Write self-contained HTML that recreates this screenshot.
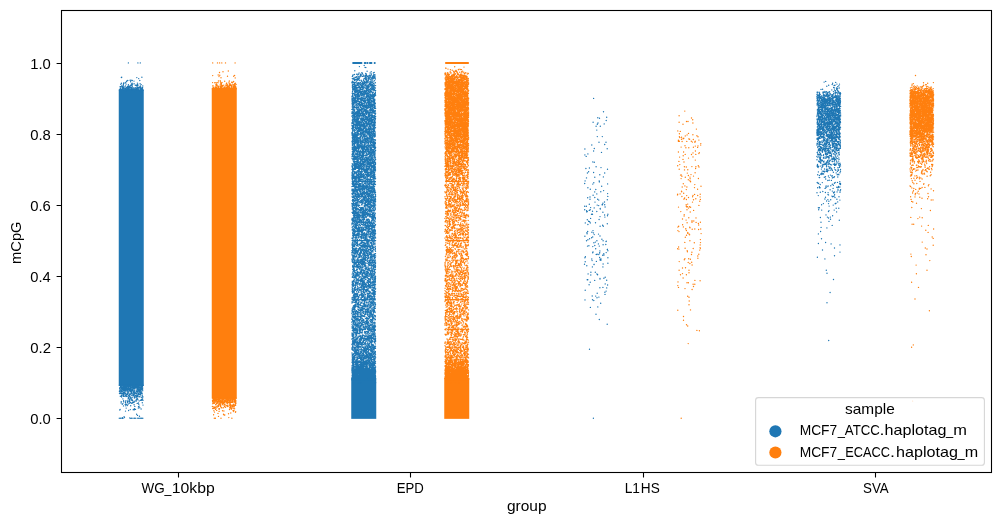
<!DOCTYPE html>
<html><head><meta charset="utf-8"><title>plot</title>
<style>
html,body{margin:0;padding:0;background:#fff;}
body{width:1001px;height:525px;overflow:hidden;}
svg{display:block;position:absolute;left:0;top:0;will-change:transform;}
text{font-family:"Liberation Sans",sans-serif;font-size:14.5px;fill:#000;}
</style></head><body>
<svg width="1001" height="525" viewBox="0 0 1001 525">
<rect x="118.75" y="89.4" width="25.00" height="296.6" fill="#1f77b4"/>
<path d="M128.4 62.9h0m9.5 0h0m2.4 0h0m-18.6 14.3h0m20.2.1h0m-20.6.3h0m15.5 0h0m1.9 1h0m-7.6 1.5h0m-1 .2h0m-2.3.2h0m4.5 0h0m7.5 0h0m-12.3.1h0m6.5.5h0m-7.4.1h0m4 .5h0m-4.6.4h0m-2.3.8h0m1.5 0h0m12.2.2h0m-16 .2h0m10.7 0h0m-8.5.2h0m10.5.2h0m6 0h0m-16.7.4h0m2.7 0h0m11.8 0h0m-17.1.1h0m10.6 0h0m1.1 0h0m8.7.4h0m-17.8.1h0m5 0h0m8.7.2h0m-.9.2h0m-5.3.1h0m4.4 0h0m2.2.3h0m.4 0h0m-14.6.1h0m7.4 0h0m1.4.1h0m4.4.2h0m1.3 0h0m5 0h0m-21.2.1h0m3.9 0h0m14.9 0h0m-17.5.1h0m6.9 0h0m2.3 0h0m.2.1h0m7.9 0h0m.1 0h0m-12.1.1h0m1 0h0m-7 .1h0m7.2 0h0m-1.9.1h0m-7 .1h0m-.4.2h0m4.1.2h0m4 .1h0m12.7 0h0m-20.6.1h0m3.2 0h0m4.8 0h0m2.3 0h0m9.3 0h0m-17.9.1h0m1 0h0m16.3 0h0m-13.1.1h0m5.8 0h0m10.4 0h0m-15 .1h0m2.2 0h0m.7 0h0m1 0h0m5.9 0h0m.5 0h0m-15.3.1h0m1.5 0h0m6.3 0h0m8.4 0h0m-9.1.1h0m2 0h0m4.2 0h0m3.2 0h0m1 0h0m2.7 0h0m-14.5.2h0m4.1 0h0m1.3 0h0m.7 0h0m5.7.1h0m-15.9.1h0m1.6 0h0m12.8 0h0m3.4 0h0m-13.4.1h0m.1 0h0m13.6 0h0m-5.8.1h0m4.3 0h0m1.2 0h0m-18.4.1h0m19.1 0h0m-11.4.1h0m5.2 0h0m-11.9.1h0m1.9 0h0m.6 0h0m9.8 0h0m-16.5.1h0m.3 0h0m3 0h0m3.7 0h0m.5 0h0m9.5 0h0m.6 0h0m-15.4.1h0m6.8 0h0m1.8 0h0m11.5 0h0m-17.2.1h0m1.3 0h0m-5.6.1h0m2.4 0h0m1.2 0h0m3.9 0h0m6.5 0h0m-13 .1h0m4.6 0h0m4.6 0h0m2.5 0h0m1.5 0h0m1.7 0h0m3.4 0h0m1.5 0h0m-21.3.1h0m2.8 0h0m7.1 0h0m2.3 0h0m4.3 0h0m1.6 0h0m3 0h0m-15.4.1h0m2.3 0h0m1.2 0h0m2.3 0h0m6.6 0h0m3.9 0h0m-21.5.1h0m7 0h0m12.8 0h0m.1 0h0m-13.6.1h0m-7.7.1h0m9.1 0h0m1.6 0h0m12.1 0h0m-20.1.1h0m6.1 0h0m.5 0h0m3.9 0h0m.5 0h0m1.6 0h0m-11.8.1h0m9.8 0h0m3.4 0h0m-13.5.1h0m2.6 0h0m1.3 0h0m1.1 0h0m0 0h0m5.5 0h0m3.4 0h0m5.2 0h0m-21.7.1h0m2.6 0h0m7.2 0h0m1 0h0m1.4 0h0m9.3 0h0m-16.4.1h0m1.7 0h0m1.4 0h0m1.4 0h0m4 0h0m8.7 0h0m-22.6.1h0m4.3 0h0m1.2 0h0m.9 0h0m0 0h0m3.8 0h0m.9 0h0m3.4 0h0m.2 0h0m.3 0h0m2.4 0h0m3.5 0h0m-21.3.1h0m8 0h0m2 0h0m3.4 0h0m1.5 0h0m8.6 0h0m-23.2.1h0m1.2 0h0m.7 0h0m4.4 0h0m2.1 0h0m5.2 0h0m1.5 0h0m1 0h0m2 0h0m4.4 0h0m-16.4.1h0m8.6 0h0m5.5 0h0m-17 294.5h0m14 0h0m-17.6.1h0m5 0h0m.7 0h0m1.2 0h0m5.3 0h0m.7 0h0m1.9 0h0m.1 0h0m.8 0h0m4.1 0h0m.9 0h0m-18.8.1h0m2 0h0m0 0h0m5.8 0h0m.1 0h0m4.8 0h0m2.8 0h0m5.9 0h0m.3 0h0m-21.5.1h0m.6 0h0m2.1 0h0m.2 0h0m.5 0h0m.4 0h0m1.4 0h0m.1 0h0m7.2 0h0m2.9 0h0m.1 0h0m.6 0h0m3 0h0m-19.9.1h0m1.5 0h0m2.3 0h0m4.2 0h0m1.2 0h0m2.6 0h0m3.5 0h0m.4 0h0m-15.8.1h0m.3 0h0m8.4 0h0m.8 0h0m.2 0h0m2.1 0h0m.3 0h0m7.5 0h0m-19.2.1h0m.2 0h0m2 0h0m4 0h0m1.7 0h0m8 0h0m2.7 0h0m3.4 0h0m-22.3.1h0m.7 0h0m2.7 0h0m2.6 0h0m3.6 0h0m6.9 0h0m3.6 0h0m1.3 0h0m-20.8.1h0m1.1 0h0m2.3 0h0m.2 0h0m1.9 0h0m.2 0h0m6.3 0h0m.1 0h0m3.5 0h0m0 0h0m2.4 0h0m.2 0h0m.7 0h0m1.4 0h0m-16.1.1h0m2.9 0h0m3 0h0m1.4 0h0m-8.3.1h0m1.1 0h0m2.1 0h0m2.4 0h0m.6 0h0m1.3 0h0m2.3 0h0m3.2 0h0m.2 0h0m-16.7.1h0m2.3 0h0m9.9 0h0m3.6 0h0m.1 0h0m2.4 0h0m2.7 0h0m-13.3.1h0m0 0h0m1.5 0h0m4.5 0h0m.6 0h0m2.1 0h0m2.1 0h0m1.5 0h0m-20.3.1h0m2.2 0h0m0 0h0m.1 0h0m.7 0h0m.3 0h0m1.5 0h0m10.6 0h0m.8 0h0m3.7 0h0m1 0h0m.5 0h0m.1 0h0m-19.2.1h0m2.6 0h0m1.3 0h0m.9 0h0m-7.2.1h0m.1 0h0m3.4 0h0m2.5 0h0m5.5 0h0m5.5 0h0m1.1 0h0m.6 0h0m-18.1.1h0m6.4 0h0m1.3 0h0m5.9 0h0m1 0h0m1.3 0h0m-16.5.1h0m4.7 0h0m.5 0h0m2.6 0h0m7.4 0h0m6.6 0h0m-8.4.1h0m3.9 0h0m1.2 0h0m-10.2.1h0m3 0h0m1.2 0h0m.4 0h0m1 0h0m3.7 0h0m-13.8.1h0m5.6 0h0m0 0h0m4.7 0h0m1.9 0h0m.4 0h0m4.4 0h0m-19.8.1h0m10.2 0h0m1 0h0m2.2 0h0m1.7 0h0m2 0h0m0 0h0m2.3 0h0m-20.2.1h0m7.6 0h0m2.3 0h0m11.3 0h0m.1 0h0m-19.5.1h0m1.5 0h0m4.3 0h0m8 0h0m1 0h0m-17.5.1h0m4.5 0h0m.5 0h0m10.7 0h0m-3.4.1h0m.8 0h0m1.3 0h0m5.8 0h0m-17.7.1h0m1.9 0h0m.6.1h0m5.6 0h0m2.6 0h0m2.1 0h0m3.6 0h0m1.2 0h0m-19.5.1h0m5.8 0h0m4.1 0h0m3.7 0h0m4.5 0h0m2.4 0h0m-19 .1h0m1.3 0h0m3.3 0h0m5.7 0h0m8.7 0h0m1.5 0h0m-22.7.1h0m5.5 0h0m5.9 0h0m.3 0h0m4.8 0h0m4.6 0h0m1.8 0h0m-20.6.1h0m1.4 0h0m.1 0h0m1.4 0h0m1.5 0h0m.8 0h0m1.2 0h0m.4 0h0m.7 0h0m3 0h0m2.6 0h0m1.2 0h0m5.4 0h0m-22 .1h0m1.2 0h0m4.7 0h0m2.1 0h0m.3 0h0m5.3 0h0m5.2 0h0m-10.9.1h0m9.5 0h0m.3 0h0m-9.6.1h0m6.4 0h0m.6 0h0m2.8 0h0m2.2 0h0m-20.2.1h0m14.6 0h0m.3 0h0m-10.2.1h0m3.7 0h0m2.3 0h0m3.7 0h0m6.4 0h0m-17.7.1h0m.8 0h0m1.9 0h0m2.2 0h0m.9 0h0m5 0h0m.2 0h0m8.3 0h0m-16.6.1h0m.5 0h0m0 0h0m.5 0h0m11.8 0h0m-12.7.1h0m3.9 0h0m1.4 0h0m8.9 0h0m2.6 0h0m-20.4.1h0m.9 0h0m1.7 0h0m-2.4.1h0m6.1 0h0m.2 0h0m2.2 0h0m1.7 0h0m5.9 0h0m1.6 0h0m-17.9.1h0m4.5 0h0m2.4 0h0m.1 0h0m13.6 0h0m-19.9.1h0m5.9 0h0m13.7 0h0m.3 0h0m-22.5.1h0m11 0h0m5.9 0h0m1.8 0h0m-18.8.1h0m5.9 0h0m1.6 0h0m2.5 0h0m2.5 0h0m5.4 0h0m3.5 0h0m-18.6.1h0m6.5 0h0m-4.1.1h0m15.3 0h0m.2 0h0m.7 0h0m-17.3.1h0m8.8 0h0m7.5 0h0m-9 .1h0m7.9 0h0m-19.2.1h0m.5 0h0m.5 0h0m7.2 0h0m6.6 0h0m-11.8.1h0m7.4 0h0m10.1 0h0m-16.4.1h0m2 0h0m1.4 0h0m13.3 0h0m-16.2.1h0m8.1 0h0m-11.1.1h0m11.1 0h0m4 0h0m1.6 0h0m-15.2.1h0m2.2 0h0m2 0h0m2 0h0m11.2 0h0m-18.8.1h0m2.8 0h0m6.4 0h0m1.1 0h0m6.7 0h0m1.3 0h0m-14.6.1h0m.1 0h0m7.8 0h0m7 0h0m-5.7.1h0m8 0h0m-21.7.1h0m18.7 0h0m-8.4.1h0m2.4 0h0m-14.2.1h0m1.6 0h0m12.3 0h0m5.8 0h0m.6 0h0m1.2 0h0m-17.9.1h0m1.7 0h0m.4 0h0m12.4 0h0m-18.2.1h0m3.6 0h0m7.1.1h0m.6 0h0m.4 0h0m5.3 0h0m-16.8.1h0m7.5 0h0m-2.1.1h0m3.4.1h0m11.1 0h0m-17.7.1h0m10.2 0h0m4.8 0h0m1.3 0h0m-3.3.1h0m5.1 0h0m1.2 0h0m-20.6.1h0m7.5 0h0m13.4 0h0m-3.3.1h0m-18.1.1h0m4.8 0h0m15.3 0h0m-19.7.1h0m3.2 0h0m1.2 0h0m8.7 0h0m-2.4.1h0m-7.1.1h0m15.8 0h0m-1.9.1h0m-15.9.1h0m2.4 0h0m10.9 0h0m5.4.1h0m-16.1.1h0m4.2.1h0m2.4 0h0m-5.8.2h0m6.7 0h0m2.1 0h0m7.5 0h0m.5 0h0m-22 .1h0m5.7 0h0m1.5 0h0m9.3 0h0m1.8 0h0m-17 .1h0m2.5 0h0m7 0h0m-11.5.1h0m3.5 0h0m13 0h0m.7 0h0m-14.1.1h0m.2 0h0m1.3 0h0m7.5 0h0m.1 0h0m5.2.1h0m3.8 0h0m-6.2.1h0m4.6 0h0m-17.8.1h0m9.1 0h0m3 0h0m5 0h0m-7.8.1h0m4.1 0h0m-6.7.1h0m-3.9.1h0m16.1 0h0m-16.2.1h0m5.4 0h0m1.3 0h0m2.3 0h0m6.5 0h0m-12.2.1h0m11.1 0h0m-12.3.1h0m1.1.1h0m2.3 0h0m8.8 0h0m2.1.1h0m-17.5.1h0m3.9 0h0m6.1 0h0m-3.4.1h0m3.7 0h0m.6 0h0m8.3 0h0m-16.6.1h0m11.5 0h0m-13.4.1h0m9.6.1h0m4.8 0h0m-15 .1h0m-1.4.1h0m10.2 0h0m1.5 0h0m2 0h0m-9.5.1h0m-2.4.1h0m5 0h0m1.4 0h0m6.2 0h0m1.3 0h0m.6 0h0m-2.7.1h0m2.7 0h0m-4.2.1h0m-8 .1h0m9.4 0h0m7.2.1h0m-22 .2h0m17.7 0h0m-16.5.1h0m2.8 0h0m15.7 0h0m-18.4.1h0m1.8 0h0m3.1 0h0m.6 0h0m1.9 0h0m7.6.1h0m1.3 0h0m-11.9.1h0m4.1 0h0m12.8 0h0m-13.6.3h0m9.9 0h0m-17.6.1h0m12.7 0h0m1.1.1h0m-5 .2h0m1.8 0h0m4.5 0h0m.1 0h0m4.5.2h0m-12.8.1h0m3.5.1h0m10.7.1h0m-8.3.2h0m-6.4.1h0m2.8.2h0m-2.1.1h0m2.3 0h0m6.5.3h0m-14.6.2h0m13.5 0h0m-7.3.1h0m13.4.1h0m-12.6.2h0m11.3.2h0m-9.6.3h0m6.3 0h0m4.3 0h0m-9.8.1h0m-2.4.1h0m6.3 0h0m6.7.2h0m-15.1.1h0m1.6 0h0m13.4 0h0m-11.1.1h0m8.9 0h0m.5 0h0m-17.6.2h0m9.1.1h0m-6.8.1h0m9.2.1h0m4.1 0h0m-2.9.2h0m-8.8.4h0m2.1 0h0m-.7.1h0m-7.7.1h0m2.3 0h0m5.7 0h0m-3.9.3h0m8.4 0h0m.6 0h0m-4.4.1h0m3.5.3h0m-5.8.1h0m5.1 0h0m-7.1.2h0m5.1 0h0m11.6 0h0m-3.9.2h0m-17.3.1h0m11.6 0h0m-1.2.2h0m-2.3.2h0m8 0h0m-14.3.2h0m3.2.5h0m-3.8.1h0m5.7 0h0m10.8.1h0m-13.6.1h0m1.3.2h0m7.6.1h0m8.9.4h0m-15.5.5h0m-1.7.1h0m4.9 0h0m-7.2.2h0m15.7.2h0m-4.4.3h0m3.7.4h0m1.3 1h0m-13.6.3h0m12.1 0h0m-3.8.7h0m6.6.2h0m-7.2.2h0m-13.8.2h0m15.4 0h0m-5.2.2h0m4.1.1h0m-1.2.1h0m-13.4.2h0m8.8.5h0m-3.1.6h0m11.1 3.1h0m.9 1.2h0m2 .9h0m-15.4.5h0m.4.8h0m-2.2.2h0m7.5.1h0m-10.5.4h0m1.3 0h0m1.4 0h0m1 0h0m7.3 0h0m1.2 0h0m1.5 0h0m1.5 0h0m1.3 0h0m2 0h0m1.2 0h0m1.3 0h0m1.3 0h0m1.2 0h0" stroke="#1f77b4" stroke-width="1.39" stroke-linecap="round" fill="none"/>
<rect x="211.75" y="88" width="25.00" height="310.6" fill="#ff7f0e"/>
<path d="M212.7 62.9h0m4.8 0h0m2.1 0h0m2.2 0h0m3.7 0h0m9.6 0h0m-6.8 8.1h0m-5.3.8h0m-3.5.7h0m-1.3 2.5h0m1.6.2h0m14.8.2h0m-21.9.2h0m14.8.6h0m6.2 0h0m-14.7.4h0m2 1.2h0m14.2.1h0m-15 2.7h0m-1.8.4h0m10.9 0h0m-4.6.2h0m8.6.2h0m.4.3h0m-13.3.1h0m8.5.3h0m2.7.1h0m-9.6.2h0m-9.4.2h0m2.6 0h0m1.6 0h0m-2 .2h0m3.2 0h0m14.5 0h0m-11.7.2h0m-.3.1h0m6.2 0h0m8.7.1h0m-8.6.1h0m2.4 0h0m-7.7.3h0m13.2 0h0m-8.3.1h0m-10 .2h0m18.7 0h0m-4.5.2h0m-1.1.1h0m-13.6.1h0m5.3 0h0m9.2 0h0m0 .1h0m3.8 0h0m1.9 0h0m-19.1.4h0m10.6 0h0m5.1.1h0m.6 0h0m-13.2.1h0m11.9 0h0m-15.1.1h0m6.9 0h0m1.7 0h0m6.4 0h0m-10 .1h0m4.6 0h0m3.2 0h0m4 0h0m.9.1h0m-3.8.1h0m-17.8.2h0m3 0h0m1.3 0h0m5.5 0h0m-.2.1h0m8.8.1h0m-14.4.1h0m4.1 0h0m6.4 0h0m1.1 0h0m6.8 0h0m-22.6.1h0m4.1 0h0m17.5.1h0m1.2 0h0m-17 .1h0m2.6.1h0m6.6 0h0m-5.5.1h0m6.6 0h0m-7.1.1h0m6.1 0h0m5.7 0h0m.8 0h0m-14.1.1h0m1.1 0h0m7.5 0h0m3.1 0h0m.1 0h0m-13.9.1h0m9.8 0h0m-9.3.1h0m.1 0h0m16 0h0m-19.3.1h0m5.1 0h0m5.2 0h0m.3 0h0m3.8 0h0m1.7 0h0m2.3 0h0m1.9 0h0m-11.4.1h0m-9.4.1h0m2.1 0h0m1.1 0h0m8.9 0h0m2.5 0h0m-16 .1h0m13.9 0h0m-12.3.1h0m6.1 0h0m2.5 0h0m5.9 0h0m-13.9.1h0m-2.4.1h0m11.1 0h0m-11.2.1h0m1.9 0h0m5.6 0h0m1.4 0h0m1.7 0h0m5.2 0h0m3.9 0h0m1.8 0h0m-21.5.1h0m3.1 0h0m1.9 0h0m2 0h0m1.4 0h0m.1 0h0m2.5 0h0m2.3 0h0m6.6 0h0m2 0h0m-22.2.1h0m21.1 0h0m0 0h0m.2 0h0m-17.9.2h0m3.6 0h0m1.6 0h0m6.8 0h0m2.9 0h0m2.6 0h0m2.2 0h0m-23 .1h0m7.3 0h0m1.3 0h0m4.1 0h0m3.1 0h0m.8 0h0m1.6 0h0m.5 0h0m2.9 0h0m1.3 0h0m-2.6.1h0m-20.2.1h0m2.8 0h0m2.6 0h0m2 0h0m7.7 0h0m5.6 0h0m-20.2.1h0m4.3 0h0m4 0h0m4.5 0h0m.5 0h0m5.6 0h0m-12.6.1h0m2.1 0h0m.7 0h0m2 0h0m1.3 0h0m9 0h0m.9 0h0m-21.7.1h0m3.3 0h0m6.1 0h0m.3 0h0m.7 0h0m3.1 0h0m2.1 0h0m.1 0h0m1.6 0h0m.3 0h0m1.1 0h0m1.5 0h0m-19.7.1h0m4.8 0h0m4.1 0h0m.7 0h0m2 0h0m.4 0h0m.7 0h0m.2 0h0m.8 0h0m2.4 0h0m4 0h0m-20.3.1h0m3.9 0h0m.8 0h0m11.6 0h0m4.7 0h0m-23.1.1h0m3.6 0h0m1.9 0h0m11.2 0h0m.5 0h0m5.4 0h0m.9 0h0m-15.3.1h0m-7.3 309h0m1.9 0h0m5.9 0h0m3 0h0m1 0h0m.4 0h0m8.8 0h0m-15.7.1h0m.1 0h0m2.3 0h0m1.4 0h0m4 0h0m2 0h0m-15.7.1h0m2 0h0m11.3 0h0m2.5 0h0m2.1 0h0m-14.6.1h0m11.6 0h0m1.8 0h0m2.5 0h0m1 0h0m.2 0h0m2.9 0h0m-22.7.1h0m.5 0h0m4 0h0m1.3 0h0m.7 0h0m3.4 0h0m3 0h0m2.9 0h0m.3 0h0m3.2 0h0m.2 0h0m-6.3.1h0m5 0h0m1.2 0h0m-11.8.1h0m.5 0h0m.6 0h0m4 0h0m5.4 0h0m.9 0h0m-18.7.1h0m9.2 0h0m2.3 0h0m8 0h0m1.7 0h0m-21.9.1h0m.1 0h0m2.5 0h0m.9 0h0m3.7 0h0m3.3 0h0m.4 0h0m.9 0h0m2 0h0m.9 0h0m5.2 0h0m.5 0h0m-16 .1h0m2.4 0h0m6.7 0h0m1 0h0m1.3 0h0m4.3 0h0m-17.2.1h0m.7 0h0m2 0h0m.8 0h0m12.7 0h0m-15.3.1h0m.5 0h0m3.1 0h0m1.2 0h0m4.1 0h0m4.9 0h0m.5 0h0m2.8 0h0m1.7 0h0m-20.6.1h0m1.9 0h0m16.1 0h0m1.3 0h0m-17.9.1h0m1.5 0h0m6 0h0m2.9 0h0m2.3 0h0m6.4 0h0m-20.7.2h0m7 0h0m13 0h0m.3 0h0m-21 .1h0m3.4 0h0m12.8 0h0m-16.4.1h0m1.5 0h0m1.4 0h0m.5 0h0m1.6 0h0m3 0h0m8.7 0h0m-13.1.1h0m10.5.1h0m4.3 0h0m-18.4.1h0m4.1 0h0m1.1 0h0m7 0h0m3.9 0h0m.8 0h0m3.3 0h0m-21.2.1h0m3.8 0h0m2 0h0m4 0h0m3 0h0m4 0h0m-14.4.1h0m7.7 0h0m.1 0h0m-9.1.1h0m5.5 0h0m8.2 0h0m7.1 0h0m-22.3.1h0m10 0h0m.5 0h0m-2.3.1h0m3.7 0h0m.2 0h0m4.9 0h0m6.3 0h0m-10.3.1h0m.4 0h0m3 0h0m.7 0h0m.9 0h0m-16.6.1h0m1.4 0h0m3.3 0h0m2.8 0h0m5.7 0h0m.5 0h0m4.9 0h0m-16.3.1h0m5.1 0h0m3.9 0h0m2.5 0h0m5.1 0h0m2.3 0h0m.7 0h0m-17.5.1h0m.6 0h0m2.5 0h0m.7 0h0m9.7 0h0m2.7 0h0m-19.8.1h0m7.3 0h0m12.9 0h0m.6 0h0m-17.3.1h0m3.1 0h0m8.2 0h0m3.7 0h0m-20.6.1h0m10.2 0h0m6.8 0h0m.6 0h0m2.4 0h0m-15.8.1h0m1.1 0h0m2 .1h0m6.6.1h0m.2 0h0m2.9 0h0m-12.4.1h0m.7 0h0m2.8 0h0m2.4 0h0m-10.4.1h0m5.2 0h0m10.2 0h0m6.5 0h0m-15.3.1h0m2.9 0h0m.8 0h0m2 0h0m.3 0h0m9.4 0h0m-21.3.1h0m10.9 0h0m3.2 0h0m-7.2.1h0m3.5 0h0m8.2 0h0m4 0h0m-21.2.1h0m.7 0h0m1.3 0h0m4.1 0h0m13.3 0h0m.1 0h0m-5.8.1h0m2.5 0h0m1.8 0h0m-14.6.1h0m11 0h0m2.6 0h0m-17.7.1h0m6.3 0h0m3.9 0h0m.5.1h0m5.5 0h0m-12.6.1h0m8.8 0h0m9 0h0m-12.7.1h0m1.1 0h0m3.6 0h0m1.6.1h0m6.1 0h0m-13.6.1h0m-4.2.1h0m2.5 0h0m-6.3.1h0m9.3.1h0m-10 .1h0m10.8 0h0m3.9 0h0m-13.3.1h0m5.6 0h0m10.1 0h0m-13.5.1h0m19.4 0h0m-15.4.2h0m6.7 0h0m-14.4.1h0m6.6 0h0m15.9 0h0m-18.9.1h0m1.9 0h0m4.2 0h0m7.8 0h0m5.4 0h0m-10.6.2h0m-1.1.1h0m9.3 0h0m-.1.2h0m-17.5.1h0m9.1 0h0m-4.4.1h0m-.5.1h0m2.3 0h0m8.7 0h0m3 0h0m-4.2.2h0m4.4 0h0m-4.9.1h0m1.4 0h0m4.6 0h0m-16.5.2h0m5.4.1h0m5.6 0h0m-9.1.1h0m6.7 0h0m8.3 0h0m-17.4.1h0m7.8 0h0m6.5 0h0m-1 .2h0m2 0h0m-16.2.4h0m17.1 0h0m-4.1.1h0m-14.3.1h0m12.1 0h0m2.9 0h0m-6.5.1h0m-12.1.1h0m6.2 0h0m2 0h0m6.6.1h0m-13.3.1h0m20.1 0h0m-3.8.1h0m2.1.1h0m.4.1h0m-15.4.1h0m7.8 0h0m9 0h0m-20.2.1h0m7.2 0h0m-6.6.1h0m11 0h0m-2.2.4h0m6.4 0h0m1.3 0h0m-15.3.1h0m6.1.1h0m-5.6.1h0m-1.3.1h0m15 0h0m.5 0h0m1 0h0m-17.3.2h0m17.4.1h0m-18.8.1h0m.5 0h0m20 0h0m-14.3.1h0m.7 0h0m15 .1h0m-3.3.6h0m-15.8.1h0m3.6.1h0m10.4 0h0m-12.8.9h0m16.4 0h0m-19.2.3h0m20.1 0h0m-11.5.1h0m1.4.2h0m-4.8.4h0m14.3.2h0m2.3.2h0m-21.2.3h0m21 .1h0m-4.7.8h0m-12.8.4h0m10.5.4h0m-5 .4h0m-9.9.5h0m11.2.3h0m-.7.1h0m-5.6 1.3h0m10.3 1.2h0m-14.5.7h0m1.1 0h0m5.6 0h0m10.9 0h0" stroke="#ff7f0e" stroke-width="1.39" stroke-linecap="round" fill="none"/>
<rect x="351.25" y="378" width="25.00" height="40.85" fill="#1f77b4"/>
<path d="M364.2 65.5h0m-4.8 1.1h0m5.7.8h0m.8.2h0m-11.1 3.2h0m12.3.5h0m4.1.5h0m3 .6h0m-12.3.4h0m.1 0h0m11.4.1h0m-14.3.1h0m11 0h0m-4.4.4h0m-3.4.1h0m9.1.5h0m-14.3.1h0m3.3 0h0m2.3 0h0m-6 .1h0m3.7 0h0m6 0h0m-8 .1h0m-3.9.1h0m6.6 0h0m4.9.1h0m7.9 0h0m-19.8.1h0m20.2.2h0m-20.6.1h0m6.9 0h0m10.5.1h0m4 0h0m-22.5.1h0m5.2 0h0m15.9 0h0m-13.4.1h0m.5 0h0m8.8 0h0m-5.9.1h0m1.7.1h0m.7 0h0m.7 0h0m-6.4.3h0m9.3 0h0m1.2 0h0m-9.8.1h0m12.8 0h0m-5.3.1h0m-4.8.1h0m9.4 0h0m-11.1.1h0m-9.5.1h0m14.7 0h0m5.2 0h0m1.3.1h0m-11.2.1h0m2.7 0h0m4.8.1h0m-17.8.1h0m5.7 0h0m8.9 0h0m1 0h0m5.3 0h0m1.8 0h0m-18.5.1h0m3.6.1h0m5 0h0m-6.4.1h0m.8 0h0m13.9.2h0m-7.3.1h0m-11 .1h0m19 0h0m-18.2.1h0m18.2 0h0m-5.2.1h0m.3.1h0m4.6 0h0m-3.2.1h0m1.6 0h0m.1 0h0m-7.1.1h0m5 0h0m4.6 0h0m-20.9.1h0m17.7 0h0m-14.3.1h0m18 0h0m-16.2.1h0m7.6 0h0m-7.8.2h0m6.8 0h0m2.4 0h0m3.5 0h0m-18.2.1h0m20.4 0h0m-8.6.1h0m3.4 0h0m.6 0h0m-16.9.1h0m7 0h0m5 0h0m8.1 0h0m-14.6.1h0m14 .1h0m1.1 0h0m-20.4.1h0m1.8 0h0m9.5 0h0m0 .1h0m5.4 0h0m-.6.1h0m6.7 0h0m-20.3.1h0m2.6 0h0m-1.3.1h0m-2.4.1h0m12.6 0h0m-9.3.3h0m1.5 0h0m7.1 0h0m4.7 0h0m-4.8.1h0m.6 0h0m-7.3.1h0m-3.7.1h0m11.5 0h0m-12.1.1h0m2 0h0m4.4 0h0m10.5 0h0m1.2 0h0m-6.3.1h0m1.4 0h0m-4.4.1h0m4.9 0h0m-13.9.1h0m9.2 0h0m-6.4.2h0m2.1 0h0m1.7 0h0m13.5.1h0m-6.5.3h0m-15.5.2h0m11.3 0h0m.1.1h0m-2.1.1h0m2.5 0h0m8.6 0h0m-11.2.1h0m9.2 0h0m-14.7.1h0m10.4 0h0m6.3 0h0m-6.4.1h0m-4.6.1h0m5 0h0m2.9 0h0m-7.8.1h0m3.4 0h0m2.1 0h0m3.8 0h0m-7 .1h0m3.5 0h0m-16 .1h0m2.2 0h0m14.3 0h0m4.3 0h0m-19.8.1h0m14 0h0m-13.2.1h0m8.6 0h0m-10.3.1h0m.6 0h0m.7 0h0m7.1 0h0m6.7.1h0m-8.6.1h0m6.1 0h0m10.8.1h0m-23.4.1h0m.1 0h0m3.1 0h0m.1 0h0m7.8 0h0m2.2 0h0m-1.5.1h0m6.8 0h0m1.3 0h0m-16.8.1h0m1.7 0h0m.3 0h0m2 0h0m7.6 0h0m-11.7.1h0m3.2 0h0m6.3 0h0m4.9.1h0m3.8 0h0m-15.4.1h0m16.2 0h0m-19.6.1h0m8.8 0h0m1.9 0h0m0 0h0m-6.6.1h0m4 0h0m8.1 0h0m-13.5.1h0m2.4 0h0m5.2 0h0m-3.5.1h0m8.6 0h0m-12.7.1h0m5.9 0h0m7.3 0h0m-15.9.1h0m5.9 0h0m3.2 0h0m-5.4.1h0m1.4 0h0m.5 0h0m3.8 0h0m3.2 0h0m-14.6.1h0m8.2.1h0m-7.1.1h0m0 0h0m1 0h0m2.8 0h0m11.8 0h0m1.6 0h0m-17.3.1h0m16.4 0h0m.6 0h0m1.3 0h0m-18 .1h0m11.9.1h0m6.8 0h0m-18.5.1h0m8.5 0h0m10.6 0h0m-1.4.1h0m-16.7.1h0m7 0h0m-6.3.1h0m5 0h0m2.9 0h0m6.2.1h0m4.6 0h0m.3 0h0m-18.2.1h0m2.3 0h0m6.1 0h0m3.6 0h0m3 0h0m2.8 0h0m-19.3.1h0m2.6 0h0m-5.1.1h0m18.4 0h0m.4 0h0m-14 .1h0m9.7 0h0m3.8 0h0m-14.9.1h0m5.6 0h0m10.8 0h0m.7 0h0m2.7 0h0m-5 .1h0m-3.2.1h0m5.1 0h0m-19.8.1h0m9 0h0m.6 0h0m3.4 0h0m2.1.1h0m-1.8.1h0m5.1 0h0m-16.7.1h0m19.3 0h0m-18.3.1h0m3.6 0h0m.7 0h0m-6.1.1h0m8.8 0h0m6.6 0h0m3.9 0h0m.9 0h0m-20.9.1h0m13.9 0h0m-13.2.1h0m8 0h0m1.2 0h0m6.4 0h0m4.1 0h0m-18.6.1h0m4.2 0h0m.5 0h0m14.7 0h0m-10.6.1h0m4.2 0h0m-15.4.1h0m4 0h0m8.2 0h0m5 0h0m4.4 0h0m-15.1.1h0m0 0h0m2.5 0h0m10.7 0h0m-12.2.1h0m9 0h0m-.3.1h0m-10.2.1h0m.8 0h0m2.6 0h0m5.3 0h0m-14.3.1h0m15.8 0h0m-16 .1h0m.5 0h0m4 0h0m5 0h0m12.8 0h0m-19.4.1h0m1.9 0h0m.6 0h0m2.8 0h0m1.7 0h0m2.7 0h0m2.5 0h0m3.8 0h0m-12.9.1h0m1.2 0h0m7.6 0h0m5.3 0h0m-18 .1h0m2.1 0h0m6.9 0h0m2.6.1h0m7.2 0h0m0 .1h0m1.9 0h0m-9.9.1h0m-12.3.1h0m.1 0h0m6.7 0h0m-3.2.1h0m18.3 0h0m-19.1.1h0m4.6 0h0m7.5 0h0m3 0h0m-7.3.1h0m6.8 0h0m-3.3.1h0m.3 0h0m-13.1.1h0m16.9 0h0m-18.6.1h0m3.5 0h0m11.4 0h0m4.9 0h0m-9.9.1h0m1.2 0h0m2.4 0h0m-9 .1h0m10.3 0h0m3.7 0h0m2.5 0h0m-18.7.1h0m7 0h0m8 0h0m-9.1.1h0m-4.3.1h0m3.3 0h0m8.9 0h0m2.8 0h0m-17.8.1h0m1.5 0h0m4.6 0h0m.7 0h0m.7 0h0m12.2 0h0m-12 .1h0m7.7 0h0m5.2 0h0m-12.3.1h0m10.7 0h0m-19.5.1h0m13.2 0h0m2.8 0h0m-16.6.1h0m1.7 0h0m8.2 0h0m9.1 0h0m-18.3.1h0m4.9 0h0m1.6 0h0m.4.1h0m9.4 0h0m-14.4.1h0m17.6 0h0m-13.4.1h0m9 0h0m2.2 0h0m-17.9.1h0m4.2 0h0m17.4 0h0m-7.5.1h0m3 0h0m5.7 0h0m-10.9.1h0m1.6 0h0m.5 0h0m.8 0h0m2.3 0h0m-12.1.1h0m2 0h0m14.2 0h0m-17.8.1h0m.1 0h0m-.6.1h0m3.3 0h0m7 0h0m1 0h0m3.7.1h0m-13 .1h0m2.3 0h0m3.5 0h0m-9.1.1h0m1.6 0h0m.9.1h0m.1 0h0m8.2 0h0m1 0h0m2 0h0m-13.1.1h0m0 0h0m.6 0h0m7 0h0m8.2 0h0m-10.8.1h0m8.5 0h0m-16.1.1h0m7.1 0h0m1.8 0h0m10 0h0m-6.8.1h0m5.8 0h0m-12.7.1h0m3.1 0h0m0 0h0m3.7 0h0m1.4 0h0m.4 0h0m-10.3.1h0m5.6 0h0m-3 .1h0m10.8 0h0m1.6 0h0m4.4 0h0m-11.4.1h0m-9.5.1h0m17.8 0h0m-11.6.1h0m-5.7.1h0m6.4 0h0m4.1 0h0m7.8 0h0m-8.3.1h0m4.1 0h0m-11.3.1h0m.3 0h0m.8 0h0m6.3 0h0m.4 0h0m-2.4.1h0m2 0h0m7 0h0m-15.7.1h0m5.3 0h0m5.6 0h0m-7.3.1h0m9.9 0h0m-14.7.1h0m6.2 0h0m1.3 0h0m.1 0h0m4.1 0h0m8.4 0h0m-17.1.1h0m6.5 0h0m-11.9.1h0m2.3 0h0m2.7 0h0m3.4 0h0m6.6 0h0m-5.9.1h0m1.2 0h0m3.5 0h0m1.7 0h0m6.7 0h0m-22.9.1h0m.1 0h0m5.1 0h0m.5.1h0m4.8 0h0m-9.5.1h0m4.9 0h0m5 0h0m-9.9.1h0m.4 0h0m7.3 0h0m11.7 0h0m-18 .1h0m12.9 0h0m-13.6.1h0m4.8 0h0m1.8 0h0m1.8 0h0m2.3 0h0m.5 0h0m9.3 0h0m-11 .1h0m2.6 0h0m2.5 0h0m.3.1h0m6.4 0h0m-22.6.1h0m8 0h0m6.9 0h0m2.3 0h0m1.1 0h0m2.9 0h0m-16.2.1h0m15.5 0h0m-9.9.1h0m-6.3.1h0m5.2 0h0m1.9 0h0m-3.2.1h0m2.9 0h0m.4 0h0m10.8 0h0m-18.7.1h0m8.5 0h0m5.6.1h0m2.8 0h0m-17.5.1h0m10.9 0h0m7.8 0h0m-21.6.1h0m1.9 0h0m.1 0h0m3 0h0m3.8 0h0m.5 0h0m12.5 0h0m-15.1.1h0m.9 0h0m.8 0h0m10.3 0h0m1 0h0m3 0h0m-6.8.1h0m3.3 0h0m3 0h0m-16.4.1h0m3.9 0h0m4.2 0h0m9 0h0m-18.5.1h0m10.7 0h0m3.7 0h0m-13.2.1h0m10.3 0h0m4.7 0h0m1 0h0m-21.4.1h0m1.9 0h0m2.6 0h0m14.8 0h0m-19.7.1h0m3.3 0h0m14.7 0h0m1.8.1h0m-10.6.1h0m2 0h0m-8.1.1h0m11.1 0h0m2 0h0m3.6 0h0m-16.5.1h0m11.1 0h0m2.8 0h0m5 0h0m-15.5.1h0m5.6 0h0m-7.6.1h0m15.4 0h0m1.1 0h0m-21.8.1h0m16.2.1h0m6.5 0h0m-16.3.1h0m.4 0h0m13.1 0h0m-11.9.1h0m6.2 0h0m3.2 0h0m1.5.1h0m-17.8.1h0m4.6 0h0m9.5 0h0m4 0h0m2 0h0m-16.8.1h0m17.7 0h0m-18.8.1h0m7 0h0m1.5 0h0m-7.5.1h0m2.5 0h0m3.9 0h0m5.7 0h0m-15.1.1h0m9.2 0h0m3.6 0h0m2 0h0m5.8 0h0m-18.6.1h0m2.3 0h0m1.1 0h0m8.1 0h0m-12.9.1h0m16.4 0h0m-7.9.1h0m-1 .1h0m7.9 0h0m.9 0h0m.7 0h0m2 0h0m-16.9.1h0m-2.6.2h0m-1.3.1h0m17.3 0h0m-17.3.1h0m2.9 0h0m2.4 0h0m3.1 0h0m4.6 0h0m7.1 0h0m-.7.1h0m-9.9.1h0m3.1 0h0m-10.4.1h0m4.9 0h0m.4 0h0m3.2 0h0m1.2 0h0m1.9 0h0m4 0h0m0 0h0m.6 0h0m3.2 0h0m-8.4.1h0m2.5 0h0m-15.6.1h0m1.2 0h0m4.8 0h0m.2 0h0m.5 0h0m1 0h0m.9 0h0m11.8.1h0m-18 .1h0m1.4 0h0m1.4 0h0m6.9.1h0m3.2 0h0m5.4 0h0m-12.2.1h0m14.2.1h0m-22.3.1h0m1.9 0h0m6 0h0m.8 0h0m3.7 0h0m3.8 0h0m1.9 0h0m3.4 0h0m-19.5.1h0m18.7 0h0m-15.7.1h0m4.7.1h0m4.7 0h0m-15 .1h0m3.6 0h0m9.7 0h0m9.6 0h0m-19.4.1h0m2.7 0h0m.2 0h0m3.5 0h0m5.2 0h0m4 0h0m-11 .1h0m3 .1h0m4.6 0h0m1.5 0h0m.4 0h0m.3 0h0m.1 0h0m-17.2.1h0m1.5 0h0m1.6 0h0m12.5 0h0m5.9.1h0m-20.7.1h0m7.7 0h0m1.3 0h0m11.2 0h0m-12 .1h0m2.1 0h0m4.3 0h0m-16 .1h0m.2 0h0m14.7 0h0m.8 0h0m3.8 0h0m3.2 0h0m-5.6.1h0m-14.3.1h0m2 0h0m7.6 0h0m.9 0h0m.1 0h0m5.5 0h0m2 0h0m-20.6.1h0m11.4 0h0m-11.6.1h0m1 0h0m2.8 0h0m2 0h0m.1 0h0m7.5 0h0m.2 0h0m-11.7.1h0m6.8 0h0m7.3 0h0m3.3 0h0m2.9 0h0m-18.4.1h0m1.2 0h0m.5 0h0m7.3 0h0m-12.6.1h0m.6 0h0m1.9 0h0m9.5 0h0m1 0h0m-2.2.1h0m6.1 0h0m.4 0h0m-11.3.1h0m2.6 0h0m10.9 0h0m-13.6.1h0m-5.6.1h0m2.1 0h0m1.9.1h0m2.6 0h0m9 0h0m5.6 0h0m-21.7.1h0m2.9 0h0m1.3 0h0m9 0h0m3.8 0h0m-10.1.1h0m5.2 0h0m.4 0h0m9 0h0m-19 .1h0m12.5 0h0m2.9 0h0m1.2 0h0m-16.9.1h0m6.5 0h0m7.5 0h0m4.3 0h0m1 0h0m-13.7.1h0m-6.5.1h0m7.6 0h0m.2 0h0m.4 0h0m-6.1.1h0m1.4 0h0m17.8 0h0m-7.1.2h0m6.8 0h0m-21.3.1h0m12.5 0h0m8.2 0h0m-21.6.1h0m3.9 0h0m3 0h0m-2.9.1h0m3.6 0h0m9 0h0m-14.9.1h0m.8 0h0m14.1 0h0m5.3 0h0m-20.7.1h0m1.4 0h0m1.3 0h0m7.7 0h0m.4 0h0m-5.1.1h0m3.2 0h0m0 0h0m1.5 0h0m2.8 0h0m3.2 0h0m.6 0h0m1.1 0h0m3.1 0h0m.5 0h0m-22 .1h0m10.8 0h0m4.7 0h0m2.2 0h0m-9.2.1h0m-9.5.1h0m12.1 0h0m3.9 0h0m-14.3.1h0m4.5 0h0m.5 0h0m2.6 0h0m4.7 0h0m-10 .1h0m1.4 0h0m16.9 0h0m-15.3.1h0m4.5 0h0m11.7 0h0m-23.3.1h0m10.5 0h0m11.2 0h0m.4 0h0m-21.5.1h0m5.6 0h0m1.6 0h0m2.9 0h0m-1.1.1h0m2.6 0h0m5.2 0h0m-3.5.1h0m2.1 0h0m4.8 0h0m-6.6.1h0m2.2 0h0m3.7 0h0m2 0h0m-14.1.1h0m1.2 0h0m-8.6.1h0m3.8 0h0m1.7 0h0m11.5 0h0m4.2 0h0m-3.9.1h0m2.1 0h0m-18.2.1h0m17.3 0h0m.7 0h0m.3.1h0m.6 0h0m1.3 0h0m-18.2.1h0m6.6 0h0m8.1 0h0m-14.3.1h0m2.8 0h0m1.3 0h0m-8.1.1h0m.6 0h0m15.9 0h0m4.6 0h0m-18.1.1h0m11.2 0h0m1 0h0m3.4 0h0m-11.6.1h0m5 0h0m10.2 0h0m-17.8.1h0m3.7 0h0m1 0h0m3.2 0h0m5.4 0h0m2.4 0h0m-3.1.1h0m-16.3.1h0m.1 0h0m4.2 0h0m2.4 0h0m6 0h0m.1 0h0m7.2 0h0m-14.1.1h0m4.6 0h0m.6 0h0m10.2 0h0m.7 0h0m-14.6.1h0m2.9 0h0m4.2 0h0m2.6 0h0m-9.7.1h0m10.9 0h0m-10.6.1h0m7.2 0h0m-13.1.1h0m9.7 0h0m4.3 0h0m1.2 0h0m-11.1.1h0m3.3 0h0m4.2 0h0m4.6 0h0m.6 0h0m-17.1.1h0m2.3 0h0m7.5 0h0m6.6 0h0m1 0h0m-19.4.1h0m4.3 0h0m9.5 0h0m8.9 0h0m-10.1.1h0m5.1 0h0m2.5 0h0m-8 .1h0m-2.3.1h0m.1 0h0m0 0h0m-8.7.1h0m.5 0h0m14.3 0h0m5.6.1h0m-7.4.1h0m2 0h0m1.6 0h0m-18.2.1h0m11.6 0h0m.8 0h0m3.6 0h0m-8.2.1h0m3.3 0h0m1.8 0h0m-10.4.1h0m2.3 0h0m3.5 0h0m8.1 0h0m1.1 0h0m.7 0h0m-16.8.1h0m4.7 0h0m.1 0h0m5.7 0h0m1.3 0h0m0 0h0m2.9 0h0m.5 0h0m1.4 0h0m3.4 0h0m1.4 0h0m-22.2.1h0m4.8 0h0m8.4 0h0m2.8 0h0m-13.5.1h0m.7 0h0m14.6 0h0m1.6 0h0m-15.9.1h0m11.4 0h0m.7 0h0m1.4 0h0m-3.4.1h0m4.4 0h0m-.7.1h0m-15.5.1h0m2.1 0h0m.1 0h0m1.6 0h0m9.7 0h0m-6.9.1h0m6 0h0m7.1 0h0m-20.5.1h0m3.3.1h0m4.7 0h0m1.1 0h0m3.7 0h0m-10.1.1h0m5.4 0h0m1.2.1h0m1 0h0m8.5 0h0m1.6 0h0m-21.3.1h0m22.7 0h0m-13.1.1h0m8.8 0h0m3.1 0h0m-4.2.1h0m-17.4.1h0m6.3 0h0m2.3 0h0m6.5 0h0m2.3.1h0m-8.9.1h0m4.6 0h0m-13.4.1h0m4.1 0h0m5.1.1h0m2.5 0h0m1.1 0h0m6.3 0h0m-18.7.1h0m12.8 0h0m-13.8.1h0m1.4 0h0m10.6 0h0m-11 .1h0m7.2 0h0m4.2 0h0m.3 0h0m5.2 0h0m.7 0h0m-12.9.1h0m2.2 0h0m5.5 0h0m6.9 0h0m-19.7.1h0m.3 0h0m9.7 0h0m10 0h0m1 0h0m-19.7.1h0m1 0h0m3.1 0h0m3.2 0h0m10 0h0m.8 0h0m-19.3.1h0m6.7 0h0m11.2 0h0m-10.4.1h0m5.8 0h0m.7 0h0m-6 .1h0m.1 0h0m-7.4.1h0m1.3.1h0m4.1 0h0m.3 0h0m6 0h0m0 0h0m6.9 0h0m-5.5.1h0m5.4 0h0m.5 0h0m1.6 0h0m.1 0h0m-10 .1h0m.4 0h0m-6.5.1h0m7.2 0h0m10.3 0h0m-15.5.1h0m1.6 0h0m3.3 0h0m3 0h0m2.7 0h0m3.6 0h0m-16.8.1h0m.7 0h0m3.1 0h0m8.5 0h0m3.2 0h0m1.1 0h0m-10.5.1h0m.9 0h0m.9 0h0m4 0h0m.9 0h0m2.5 0h0m.9 0h0m-14.4.1h0m5.1 0h0m3.9 0h0m-13.7.1h0m.2 0h0m5.5 0h0m13.1 0h0m.4 0h0m-.3.1h0m-18.8.1h0m4.3 0h0m3.1 0h0m3.5 0h0m1.8 0h0m-10.1.1h0m4.5 0h0m10.8 0h0m.1 0h0m2.7 0h0m-10 .1h0m-13 .1h0m14.6 0h0m6.3 0h0m-19.9.1h0m4.4 0h0m8.7 0h0m-8.9.1h0m.8 0h0m5.1 0h0m2.1 0h0m.3 0h0m2 0h0m-12.8.1h0m10.6 0h0m1.9 0h0m6.3 0h0m.7 0h0m-18 .1h0m-.2.1h0m15.9 0h0m-17.3.1h0m7.2 0h0m5 0h0m1.2 0h0m2 0h0m.9 0h0m-19.1.1h0m6.4 0h0m.6 0h0m8.9 0h0m3.7 0h0m-18.2.1h0m6.2 0h0m6.6 0h0m2.9 0h0m-10.4.1h0m1 0h0m-4.7.1h0m1.6 0h0m.9 0h0m12.4 0h0m-14.5.1h0m6.6 0h0m.1 0h0m3.2 0h0m3.8 0h0m-16.4.1h0m10.5 0h0m2.1 0h0m3.9 0h0m1.5 0h0m1.5 0h0m1.6 0h0m-21.7.1h0m6.4 0h0m16.8 0h0m-13.7.1h0m6.2 0h0m1 0h0m4.6 0h0m-18 .1h0m.4 0h0m7.7 0h0m3 0h0m-6.4.1h0m1.7 0h0m1.8 0h0m6.5 0h0m5.5 0h0m-20.5.1h0m3.2 0h0m2.7 0h0m11.1 0h0m-16.4.1h0m7.9 0h0m11.1 0h0m-20.6.1h0m8.7 0h0m-10.9.1h0m.5 0h0m.3 0h0m4 0h0m5.3 0h0m4.7 0h0m3.2 0h0m-16.1.1h0m5.9 0h0m5.1 0h0m10.2 0h0m-22.3.1h0m2.9 0h0m3 0h0m4.1 0h0m6.1 0h0m.5 0h0m-11.9.1h0m2.4 0h0m6.1.1h0m3.8 0h0m2.1 0h0m-15.8.1h0m-2.3.1h0m.4 0h0m3.6 0h0m6.7 0h0m.3 0h0m4.1 0h0m-12.2.1h0m0 0h0m.8 0h0m3.1 0h0m2.5 0h0m12.3 0h0m-20.1.1h0m7.7 0h0m9.2 0h0m-9.7.1h0m4.1.1h0m-12.4.1h0m6.5 0h0m14.5 0h0m-20.3.1h0m8.7 0h0m.7 0h0m-3.2.1h0m3.4 0h0m3.6 0h0m.3 0h0m3.3 0h0m-12.8.1h0m3.4 0h0m2 0h0m6.3 0h0m.7 0h0m-13.4.1h0m13.3 0h0m-16.6.1h0m4.8 0h0m2.5 0h0m2.5 0h0m5.2 0h0m1.3 0h0m-11.2.1h0m1.1 0h0m1.4 0h0m.3 0h0m7 0h0m-16.7.1h0m.4.1h0m3.6 0h0m1.3 0h0m11.5 0h0m2.9 0h0m-18.7.1h0m1 0h0m4 0h0m11.6 0h0m-15.6.1h0m8.5 0h0m5.8 0h0m.8 0h0m1.4 0h0m-18 .1h0m8.1 0h0m4.2 0h0m3 0h0m3.9 0h0m.8 0h0m1.2 0h0m-19.2.1h0m6.7 0h0m1.4 0h0m-11.3.1h0m5.7 0h0m3.6 0h0m1.1 0h0m7.1 0h0m.4 0h0m-14.2.1h0m.1 0h0m3.7 0h0m.5 0h0m5.5 0h0m3.7 0h0m-12.7.1h0m15.2 0h0m-17.1.1h0m10.9 0h0m-11.3.1h0m14.1 0h0m3.8 0h0m3.5 0h0m-18.9.1h0m2.1 0h0m7.1 0h0m-13.8.1h0m20.3 0h0m.4 0h0m-17.7.1h0m9.8 0h0m3.1 0h0m4.2 0h0m3.2 0h0m-21.4.1h0m5.6 0h0m4.1 0h0m-9.9.1h0m12.9 0h0m.2 0h0m2.7 0h0m4.9 0h0m-19.2.1h0m-1.8.1h0m1.6 0h0m11.1 0h0m2.7 0h0m2.3 0h0m.5 0h0m1.7 0h0m-16.2.1h0m12.7 0h0m1.4 0h0m2.3 0h0m-19.4.1h0m11.6 0h0m.7 0h0m7.9 0h0m.2 0h0m-17.3.1h0m4.7 0h0m10.5 0h0m.7 0h0m.7.1h0m-15.6.1h0m9.6.1h0m-15.2.1h0m5.1 0h0m6.2 0h0m-5.4.1h0m5.1 0h0m2.5 0h0m.9 0h0m.3 0h0m-11 .1h0m3.1.1h0m12 0h0m-10.7.1h0m1.6 0h0m3.2 0h0m2.3 0h0m-12.7.1h0m2.9 0h0m4 0h0m8.8 0h0m.3 0h0m2.9 0h0m1.1 0h0m-21.3.1h0m12.1 0h0m9.1 0h0m-20 .1h0m2.6 0h0m3.9 0h0m5.9 0h0m3.6 0h0m4.4 0h0m-20.7.1h0m8.6 0h0m6.1 0h0m-14.5.1h0m14.2 0h0m.4 0h0m.3 0h0m-11.2.1h0m2.2 0h0m10.6 0h0m2.3 0h0m1.4 0h0m-14.4.1h0m3.3 0h0m3.2 0h0m4.5 0h0m-14.8.2h0m3.7 0h0m1.2 0h0m.1 0h0m10.5 0h0m2.8 0h0m-22.5.1h0m3.9 0h0m3.9 0h0m.8.1h0m1.1 0h0m5.6 0h0m7 0h0m.3 0h0m-22.4.1h0m5 0h0m4.9 0h0m2.4 0h0m1.3 0h0m1.5 0h0m1.9 0h0m-16.1.1h0m.3 0h0m8.9 0h0m1.8 0h0m6.8 0h0m.9 0h0m-18.3.1h0m1.7 0h0m5.1 0h0m4.9 0h0m.9 0h0m2 0h0m1.9 0h0m2.2 0h0m-17.2.1h0m.3 0h0m2.4 0h0m4.5 0h0m1.8 0h0m-7.2.1h0m3.6 0h0m.5 0h0m2.6 0h0m4.4 0h0m1.8 0h0m2.1 0h0m1 0h0m-21.4.1h0m5.1 0h0m9 0h0m3.4 0h0m-14.2.1h0m5.9 0h0m2.9 0h0m10.9 0h0m-16.8.1h0m3.2 0h0m.1 0h0m5.9 0h0m4.5 0h0m.7 0h0m-15.6.1h0m1 0h0m5.8 0h0m3.3 0h0m.1 0h0m1.8 0h0m5.7.1h0m-13 .1h0m1.1 0h0m0 0h0m4.4 0h0m4.6 0h0m2.5 0h0m.3 0h0m-3.2.1h0m.9 0h0m-20 .1h0m17 0h0m-12.8.1h0m8.1 0h0m6.2 0h0m1.1 0h0m-18.6.1h0m.9 0h0m2.9.1h0m3.1 0h0m9.9 0h0m3.9 0h0m-14.2.1h0m4.7 0h0m5.6 0h0m4.5 0h0m-19.6.1h0m.8 0h0m6.9 0h0m4 0h0m2.6 0h0m.8 0h0m-5.7.1h0m.8 0h0m-12.7.1h0m.3 0h0m9.4 0h0m5.9 0h0m2.2 0h0m-5.2.1h0m4 0h0m-16.3.1h0m5.8 0h0m3.9 0h0m8.6 0h0m-8.6.1h0m-6.5.1h0m9.6 0h0m.3 0h0m8 0h0m-21.4.1h0m3.9 0h0m1.6 0h0m0 0h0m13.9 0h0m-17.3.1h0m7.3 0h0m6.5 0h0m4 0h0m-16.8.1h0m5.8 0h0m11.2 0h0m-20.4.1h0m.2 0h0m2.4 0h0m1.8 0h0m1.8 0h0m.8 0h0m.2 0h0m.4 0h0m1 0h0m1.1 0h0m.2 0h0m.9 0h0m5.2 0h0m1 0h0m1.8 0h0m3.4 0h0m.6 0h0m-21.8.1h0m4.1 0h0m14.4 0h0m2.1 0h0m.5 0h0m-19.6.1h0m1.1 0h0m10.3 0h0m.2 0h0m4.9 0h0m4 0h0m-14.5.1h0m12.9 0h0m.4 0h0m1 0h0m-8.5.1h0m2 0h0m-15.5.2h0m3.9 0h0m4.2 0h0m2.5 0h0m1.6 0h0m-13.4.1h0m8.9 0h0m9.9 0h0m1.1 0h0m-12.6.1h0m8.7 0h0m4.1 0h0m-14.6.1h0m2.8 0h0m8.7 0h0m4.2 0h0m1.7 0h0m-18.1.1h0m4.8 0h0m-9.7.1h0m.8 0h0m10.9 0h0m1.3 0h0m1.8 0h0m2.2 0h0m-11.1.1h0m9.5 0h0m4 0h0m3.8 0h0m-18.9.1h0m2.3 0h0m5.2 0h0m11 .1h0m-6.5.1h0m-14.7.1h0m3.8 0h0m6.3 0h0m.2 0h0m.9 0h0m5.4 0h0m-16.1.1h0m4.7.1h0m.5 0h0m6.4 0h0m6 0h0m-11.4.1h0m13.9 0h0m-18.2.1h0m1.5 0h0m4.7 0h0m.3 0h0m2.8 0h0m1.4 0h0m4.8 0h0m3.6 0h0m-19.6.1h0m1.3 0h0m1.3 0h0m.5 0h0m4.4 0h0m.4 0h0m8.4 0h0m2 0h0m-19.2.1h0m1.2 0h0m.4 0h0m.4 0h0m.7 0h0m.9 0h0m10.1 0h0m6.4 0h0m-13.1.1h0m6.8 0h0m-13.7.1h0m14.8 0h0m5.5 0h0m-18.8.1h0m1 0h0m2.4 0h0m2.1 0h0m6.2 0h0m2.5 0h0m-13.5.1h0m5.5 0h0m5.1 0h0m-5.3.1h0m2.3 0h0m5.7 0h0m-16.7.1h0m1.1 0h0m3.8 0h0m1.7 0h0m3.4 0h0m9.6 0h0m-14.9.1h0m8.6 0h0m5.9 0h0m-20.7.1h0m9.7 0h0m2.5 0h0m5 0h0m-8.5.1h0m.2 0h0m.4 0h0m.5 0h0m-8.3.1h0m3.3 0h0m2.5 0h0m1.1 0h0m13.6 0h0m-18.4.1h0m.4 0h0m1.8 0h0m1.5 0h0m15.9 0h0m-22.7.1h0m1.4 0h0m19.8 0h0m-10.6.1h0m2.8 0h0m.6 0h0m.3 0h0m3.1 0h0m-16.7.1h0m2.4 0h0m-3.5.1h0m4.5 0h0m6.9 0h0m1.6 0h0m6.9 0h0m-14.2.1h0m4.1 0h0m.1 0h0m1.2 0h0m.8 0h0m2.1 0h0m3.8 0h0m-13.1.1h0m12.5 0h0m1.8 0h0m1.9 0h0m-20.1.1h0m5.1 0h0m9.8 0h0m4.6 0h0m-6.9.1h0m7.5 0h0m1.5 0h0m-10.6.1h0m1.5 0h0m1.4 0h0m-13.2.1h0m7 0h0m4.9 0h0m4.3 0h0m-12.4.1h0m17.2 0h0m-15 .1h0m5.3 0h0m-2 .1h0m-8.8.1h0m20.6 0h0m-20.9.1h0m7.6 0h0m3.9 0h0m0 0h0m8 0h0m-20.7.1h0m16.5 0h0m-13.8.1h0m4.5 0h0m.8 0h0m2.6 0h0m11.2 0h0m-18.5.1h0m7.4 0h0m1.4 0h0m-11.8.1h0m.5.1h0m5.4.1h0m11.7 0h0m.2 0h0m-17.5.1h0m2 0h0m1.8 0h0m1 0h0m1.1 0h0m4.1 0h0m-4.8.1h0m15.7 0h0m-20.3.1h0m11.6 0h0m.1 0h0m8.8 0h0m1.3 0h0m-8.8.1h0m1.6 0h0m3.5 0h0m-12.3.2h0m10.3 0h0m-11.3.1h0m5.6 0h0m.7 0h0m8.5 0h0m.6 0h0m-21.4.1h0m4.3 0h0m2.9 0h0m.6 0h0m8.3 0h0m5.7 0h0m.3 0h0m-22.7.1h0m8.8 0h0m.2 0h0m7.7 0h0m1.9 0h0m2.6 0h0m-19.9.1h0m2.3 0h0m4.2 0h0m.1 0h0m.5 0h0m.3 0h0m.7 0h0m3.1 0h0m.1 0h0m.5 0h0m4.8 0h0m-12.1.1h0m2.2 0h0m3.5 0h0m-1.7.1h0m7.6 0h0m.1 0h0m3.6 0h0m-20.2.1h0m3.5 0h0m18.1 0h0m-21.4.1h0m3.7 0h0m3.8 0h0m8.7 0h0m4.1 0h0m-7.5.1h0m.5 0h0m-8 .1h0m.2 0h0m2.8 0h0m1.1 0h0m9.5 0h0m-3.9.1h0m-11.5.1h0m-3.6.1h0m7.5 0h0m.6 0h0m.1 0h0m7.8 0h0m0 0h0m1.6 0h0m-16.2.1h0m5.4 0h0m.1 0h0m3.6 0h0m4 0h0m1.9 0h0m1.9 0h0m1.5 0h0m-11.4.1h0m12.1 0h0m-14.5.1h0m7.2 0h0m2.7 0h0m-16.4.1h0m6.2 0h0m4.2 0h0m2.6.1h0m5.1 0h0m-16 .1h0m6.4 0h0m.1 0h0m13.7 0h0m-15.9.1h0m8.2 0h0m2.9 0h0m-11.9.1h0m1.1 0h0m-3.3.1h0m3.8 0h0m3.6 0h0m-2.3.1h0m1.1 0h0m1.3 0h0m-5.9.1h0m5.9 0h0m10.8 0h0m.4 0h0m-20.8.1h0m8.9 0h0m3.8 0h0m5.1 0h0m-18.7.1h0m4.7 0h0m9.8 0h0m6.2 0h0m-13.8.1h0m2.9 0h0m6.2 0h0m-15.8.1h0m6.6 0h0m.1 0h0m4.8 0h0m1.7 0h0m5.5 0h0m1.4 0h0m-20.2.1h0m.2 0h0m10.7 0h0m5.5 0h0m.2 0h0m4.8 0h0m-16.2.1h0m7.5 0h0m3.6 0h0m-16.7.1h0m2 0h0m12.8 0h0m1.4 0h0m-11.1.1h0m1.1 0h0m1.4 0h0m3.3 0h0m.5 0h0m2.3 0h0m.1 0h0m3.4 0h0m-10.9.1h0m.4 0h0m15.6 0h0m-11.8.1h0m4.3 0h0m4.3 0h0m-8 .1h0m6 0h0m5.2 0h0m-5 .1h0m3.3 0h0m-9.6.1h0m7.5 0h0m1.5 0h0m.6 0h0m-16.3.1h0m4.7 0h0m3.9 0h0m3.1 0h0m.9 0h0m-7.8.1h0m2.6 0h0m6.6 0h0m3 0h0m-15.9.1h0m2.8 0h0m4.5 0h0m10.2 0h0m-19.3.1h0m13.8 0h0m-9.5.1h0m2.3 0h0m3.2 0h0m2.3 0h0m3 0h0m-16.4.1h0m2.7 0h0m8.2 0h0m.4 0h0m.8 0h0m1.5 0h0m-16.4.1h0m11.6 0h0m10.1 0h0m-21.1.1h0m5.3 0h0m14 .1h0m0 0h0m-15.8.1h0m1.7 0h0m5.6 0h0m2.5 0h0m1.4 0h0m2.6 0h0m.3 0h0m-17.8.1h0m2.5 0h0m3.5 0h0m10.4 0h0m-16.4.1h0m8.2 0h0m13.2 0h0m-16.3.1h0m4.8 0h0m5 0h0m-15 .1h0m15.6 0h0m-15.9.1h0m.7 0h0m10 0h0m8.9 0h0m-19 .1h0m18.9 0h0m2.8 0h0m-12.5.1h0m11.3 0h0m-4.6.1h0m1.6 0h0m-15.7.1h0m.6 0h0m12.2 0h0m7.8 0h0m-22.6.1h0m.7 0h0m5.2 0h0m2.3 0h0m2.6 0h0m-8.8.1h0m-2.4.1h0m.6 0h0m.5 0h0m1.2 0h0m1.9 0h0m.8 0h0m1.3 0h0m1.1 0h0m2.4 0h0m.2 0h0m.3 0h0m.3 0h0m.1 0h0m.1 0h0m.3 0h0m.4 0h0m.8 0h0m.3 0h0m.5 0h0m1.9 0h0m.2 0h0m.5 0h0m1.1 0h0m0 0h0m.7 0h0m1 0h0m0 0h0m1.7 0h0m1.3 0h0m.8 0h0m1.1 0h0m-18.4.1h0m-1.6.1h0m1.9 0h0m2.5 0h0m2.6 0h0m5.8 0h0m-15.2.1h0m.2 0h0m5.2 0h0m12.3 0h0m4.5 0h0m-14.7.1h0m3.7.1h0m1 0h0m4.7 0h0m4.3 0h0m-16.1.2h0m-.8.1h0m3.6 0h0m11.6 0h0m2.3 0h0m.2 0h0m-22.3.1h0m2.9 0h0m15.1 0h0m-18.5.1h0m7.8 0h0m14.2 0h0m-19.9.1h0m10.2 0h0m-8.1.1h0m.2 0h0m1.6 0h0m-6.1.1h0m19.5 0h0m-8.1.1h0m8.2 0h0m-18.2.1h0m1.3 0h0m1.4 0h0m1.5 0h0m9.2 0h0m2.1 0h0m.2 0h0m-11.7.1h0m12.5 0h0m3.2 0h0m-16.4.1h0m.5 0h0m8.4 0h0m-4 .1h0m9.2 0h0m2.3 0h0m1.3 0h0m.8 0h0m-20.1.1h0m8 0h0m11.7 0h0m-22.2.1h0m3.3.1h0m.3 0h0m4.7 0h0m1.9 0h0m1.1 0h0m-11.1.1h0m3.3 0h0m7.8 0h0m-9.7.1h0m6.8 0h0m-.3.1h0m.3 0h0m3.5.1h0m6 0h0m-15.8.1h0m11.9 0h0m2.9 0h0m5.6 0h0m-14.6.1h0m3.3 0h0m8.5 0h0m.5 0h0m1.4 0h0m-17.1.1h0m8.2 0h0m1.5 0h0m3 0h0m-16.4.1h0m18.2 0h0m2.8 0h0m-20.1.1h0m5.6 0h0m11.9 0h0m-17.7.1h0m10.1 0h0m3.7 0h0m6.2 0h0m-20.9.1h0m6.3 0h0m-7.2.1h0m14.4 0h0m.7 0h0m3.2 0h0m-18.4.1h0m.4 0h0m.9 0h0m1.9 0h0m1.3 0h0m.4 0h0m5.5 0h0m-9 .1h0m8.8 0h0m7.6 0h0m2.2 0h0m-16.5.1h0m2.2 0h0m.3 0h0m4.1 0h0m-7.6.1h0m7.8 0h0m4.3 0h0m4.1 0h0m1.5 0h0m-11.9.1h0m6.3 0h0m2.5 0h0m-15.7.1h0m4.2 0h0m.2.1h0m4.2 0h0m6.9 0h0m.1 0h0m-.4.1h0m3 0h0m-15.9.1h0m8.5 0h0m7.7 0h0m.8 0h0m-5.1.1h0m.6 0h0m.3 0h0m1.1 0h0m-11.7.1h0m11.8 0h0m-17 .1h0m5.9 0h0m.5 0h0m6 0h0m-13 .1h0m2.4 0h0m13.6 0h0m.8 0h0m2.2 0h0m1.7 0h0m-8.8.1h0m3.3 0h0m-10.8.1h0m8.7 0h0m.6 0h0m-9 .1h0m3.8 0h0m7.8 0h0m3.3 0h0m.1 0h0m-17.7.1h0m.4 0h0m3.8 0h0m6 0h0m1.8 0h0m-8.9.1h0m2.5 0h0m1.1 0h0m11.7 0h0m.3 0h0m-13.3.1h0m9 0h0m-11.3.1h0m3.2 0h0m2.1 0h0m.2 0h0m5.9 0h0m3.2 0h0m-18.8.1h0m3.9 0h0m8.2 0h0m1.3 0h0m-13.5.2h0m2.7 0h0m.9 0h0m.8 0h0m.3 0h0m11.1 0h0m1.3 0h0m1.2 0h0m2.2 0h0m.4 0h0m-19.6.1h0m2.2 0h0m12.3.1h0m5.8 0h0m-21.8.1h0m4.6 0h0m9.8 0h0m5.1 0h0m-16 .1h0m3.8 0h0m3.7 0h0m2.2 0h0m3.7 0h0m5.6 0h0m-23.2.1h0m.2 0h0m2.2 0h0m18.9 0h0m-18.6.1h0m10.6 0h0m5.5 0h0m2.4 0h0m1.7 0h0m-22.4.1h0m10.6 0h0m11.5 0h0m-16.6.1h0m.1 0h0m1.4 0h0m5.1 0h0m.9 0h0m-4.9.1h0m1.4.1h0m-9.8.1h0m1.4 0h0m2.2 0h0m2 0h0m2.2 0h0m11.8 0h0m3 0h0m-17.7.1h0m.6 0h0m10.4 0h0m-.4.1h0m3.7 0h0m-17.4.1h0m3.9.1h0m.4 0h0m3.5 0h0m4.2 0h0m1 0h0m2.7 0h0m-8.8.1h0m9.3 0h0m-11.9.1h0m-5.8.1h0m2.9 0h0m7.1 0h0m4.3 0h0m6.3 0h0m-21.4.1h0m1.5 0h0m2 0h0m.3 0h0m.6 0h0m9.7 0h0m-10.8.2h0m2.2 0h0m4.3 0h0m2.3 0h0m1.4 0h0m3.4 0h0m2.5 0h0m-17.2.1h0m1.8 0h0m2.7 0h0m14.4 0h0m-18.3.1h0m3.5 0h0m1.1 0h0m.4 0h0m.1 0h0m.7 0h0m8.7 0h0m.4 0h0m.3 0h0m0 0h0m-17.5.1h0m2.2 0h0m7.6 0h0m2.1 0h0m2.8 0h0m4.1 0h0m3 0h0m-16.7.1h0m4.5 0h0m2 .1h0m2.5 0h0m-7.8.1h0m3.4 0h0m.5 0h0m.6 0h0m5.3 0h0m1.9 0h0m.7 0h0m.6 0h0m-14.9.1h0m3.9 0h0m4.3 0h0m1.7 0h0m8 0h0m-20.1.1h0m1.2 0h0m7.9 0h0m6.4 0h0m1.6 0h0m.4 0h0m2.9 0h0m-3.2.1h0m2.1 0h0m-18.4.1h0m12.5 0h0m-13.6.1h0m3.3 0h0m2.9 0h0m.2 0h0m7.1 0h0m4.6 0h0m2.8 0h0m-21.3.1h0m6.2 0h0m-8.1.1h0m.6 0h0m1.8 0h0m.4 0h0m5.3 0h0m13.5 0h0m-12.1.1h0m3.6 0h0m7.3 0h0m2.3 0h0m-.1.1h0m-20.8.1h0m3 0h0m1.2 0h0m-3.1.1h0m13.3 0h0m2 0h0m3.6 0h0m-3.7.1h0m2.7 0h0m2.4 0h0m-20.1.1h0m17.9 0h0m.4 0h0m-6.8.1h0m3.9 0h0m-16.3.1h0m2.5 0h0m3.7 0h0m12.6 0h0m-19.8.1h0m4.9 0h0m.3 0h0m3.5 0h0m-8.1.1h0m8.3 0h0m1.9 0h0m.1 0h0m10.6 0h0m-9.5.1h0m-8.4.1h0m2.8 0h0m2.2.1h0m-9.6.1h0m5.3 0h0m4.5 0h0m9.4 0h0m2.1 0h0m1 0h0m-17.1.1h0m6.6 0h0m9.9 0h0m.7 0h0m-20.7.1h0m.4.1h0m3.7 0h0m6.7 0h0m3.5 0h0m6.4 0h0m-1.6.1h0m-5.3.1h0m2.1 0h0m-8.9.1h0m-8.3.1h0m3.9 0h0m12.9 0h0m0 0h0m3.6 0h0m-12.2.1h0m2.9 0h0m3.3 0h0m-12.7.1h0m17.5 0h0m.3 0h0m1.1 0h0m-21 .1h0m22.1 0h0m.4 0h0m-15.7.1h0m7.6 0h0m2.9 0h0m-9.5.1h0m4.6 0h0m7.1 0h0m-14.6.1h0m1.1 0h0m4.2 0h0m2.3 0h0m4.7 0h0m1.3 0h0m3.9 0h0m-7.5.1h0m2.3 0h0m-14.6.1h0m5 0h0m.9 0h0m.9 0h0m7.5 0h0m4.4 0h0m-19.1.1h0m13.7 0h0m2 0h0m.8 0h0m2.3 0h0m-19.9.1h0m7.3 0h0m3.7 0h0m-7.3.1h0m.9 0h0m.6 0h0m1.4 0h0m1.8 0h0m2 0h0m-4.3.1h0m1.1 0h0m5.7 0h0m-4.4.1h0m3.7.1h0m-10.6.1h0m2.2 0h0m1 0h0m5.7 0h0m.1 0h0m.3 0h0m4.5 0h0m3.5 0h0m2.2 0h0m.6 0h0m-19.4.1h0m7 0h0m2.8 0h0m9.4 0h0m-21 .1h0m20.1 0h0m-15 .1h0m.2 0h0m-4.4.1h0m19.2 0h0m-15.3.1h0m2.8 0h0m1.2 0h0m1.5 0h0m2.7 0h0m2.1 0h0m-16.6.1h0m4.4 0h0m7.4 0h0m1.5 0h0m2.3 0h0m1.8 0h0m3.5 0h0m.8 0h0m-22 .1h0m4 0h0m1.5 0h0m14.4 0h0m-19.4.1h0m4.4 0h0m9.4 0h0m3.8 0h0m3.8 0h0m1.5 0h0m-16.2.1h0m4.3 0h0m3.5 0h0m7.6 0h0m-15.4.1h0m2 0h0m10.4 0h0m-16 .1h0m2.4 0h0m5.6 0h0m7.1 0h0m-13.1.1h0m2.4 0h0m2.4 0h0m1.5 0h0m3 0h0m.3 0h0m3.3 0h0m-17.3.1h0m.9 0h0m10.3 0h0m-10 .1h0m7 0h0m8.8 0h0m.2 0h0m.8 0h0m-13.3.1h0m1.3 0h0m3.9 0h0m7.8 0h0m3.3 0h0m-19.9.1h0m19.7 0h0m.3 0h0m-18.4.1h0m1.3 0h0m.7 0h0m17.3 0h0m-11.9.1h0m3.3 0h0m1.2 0h0m-13.7.1h0m.3 0h0m13.2 0h0m.3 0h0m2.2 0h0m1 0h0m-14.8.1h0m1 0h0m1 0h0m.3 0h0m4.1 0h0m4.2 0h0m-14.7.1h0m3.3 0h0m5.8 0h0m5.9 0h0m-8.3.1h0m3.8 0h0m-9.1.1h0m2.5 0h0m8 0h0m5.5 0h0m2 0h0m-9.6.1h0m2.6 0h0m-12.7.1h0m4 0h0m14.9 0h0m3.6 0h0m-19.8.1h0m1.6.1h0m9.5 0h0m1.1 0h0m.7 0h0m1.1 0h0m3.1 0h0m0 0h0m-9.4.1h0m3.1 0h0m3.1 0h0m5.3 0h0m-20.5.1h0m8.9 0h0m2.4.1h0m2.4 0h0m0 0h0m3.3 0h0m-17.8.1h0m5.8 0h0m4.9 0h0m9.2 0h0m1.3 0h0m-5.4.1h0m2.6 0h0m.2 0h0m-16.7.1h0m18.6 0h0m-17.4.1h0m6.4 0h0m4.1 0h0m4.3 0h0m-16 .1h0m12.8 0h0m2.8 0h0m-16.1.1h0m.1 0h0m6.2 0h0m6.7 0h0m6.5 0h0m2 0h0m-16.9.1h0m-3.2.1h0m1.6 0h0m13.3 0h0m-17.1.1h0m.4 0h0m13.3 0h0m6.7 0h0m-10.7.1h0m.7 0h0m1.7 0h0m5.2 0h0m2.9 0h0m-20.3.1h0m3.9 0h0m15.6 0h0m-19 .1h0m17.7 0h0m-16.9.1h0m1.4 0h0m2.8 0h0m10 0h0m.4 0h0m3.8 0h0m-18.7.1h0m3.3 0h0m7.8 0h0m-2.8.1h0m2.8 0h0m2.3 0h0m7.1 0h0m-2.9.1h0m-12.6.2h0m2 0h0m7 0h0m-8 .1h0m9.1 0h0m-16.2.1h0m21.8 0h0m-22.6.2h0m.7 0h0m.4 0h0m.6 0h0m.3 0h0m.1 0h0m1.9 0h0m0 0h0m.6 0h0m.3 0h0m.4 0h0m.8 0h0m.7 0h0m.4 0h0m.3 0h0m.7 0h0m.1 0h0m1.9 0h0m.3 0h0m1 0h0m.1 0h0m.7 0h0m.4 0h0m.4 0h0m0 0h0m.5 0h0m1 0h0m1.1 0h0m.4 0h0m1.2 0h0m.6 0h0m.2 0h0m1.5 0h0m.6 0h0m.2 0h0m.2 0h0m.6 0h0m.1 0h0m.1 0h0m.9 0h0m0 0h0m.5 0h0m-22.3.1h0m21.6.1h0m-21 .1h0m4 0h0m11.1 0h0m-15.2.1h0m4.7 0h0m5 0h0m9 0h0m-19.2.1h0m17.3 0h0m-8.4.1h0m10.8 0h0m.9 0h0m-10.4.2h0m.8 0h0m7.3 0h0m-17.4.1h0m8.2 0h0m4.1 0h0m5.1 0h0m3.8 0h0m-15.5.1h0m10.9 0h0m-6.2.1h0m4.9 0h0m-15.9.1h0m.9 0h0m1.6.1h0m2.1 0h0m10.3 0h0m1.4 0h0m3.2 0h0m-16.9.1h0m8.5 0h0m2 0h0m8.9 0h0m-14.7.1h0m-1 .1h0m4.2 0h0m-6.4.1h0m9.5 0h0m-14.2.1h0m7 0h0m4.1 0h0m.3 0h0m-11.5.1h0m3.9 0h0m5.7 0h0m.7 0h0m1 0h0m8.1 0h0m1.9 0h0m-17 .1h0m12.2 0h0m2.4 0h0m3.4 0h0m-4.9.1h0m-9.7.1h0m11.8 0h0m-13.2.1h0m.7 0h0m-6.2.1h0m.8 0h0m8.8 0h0m.2 0h0m8 0h0m-15.4.1h0m2.4 0h0m4.6 0h0m.9 0h0m.3 0h0m-5.8.1h0m5.3 0h0m-9.2.1h0m2.4 0h0m.4 0h0m.9 0h0m10.6 0h0m-11.5.1h0m9.7 0h0m1.1 0h0m6.3 0h0m.7 0h0m-12.4.1h0m-10.3.1h0m.2 0h0m10.5 0h0m.5 0h0m3.2 0h0m3.8.1h0m3.1 0h0m1.9 0h0m-14.5.1h0m1.4 0h0m4.6 0h0m4.4 0h0m1.9 0h0m2 0h0m-11.5.1h0m7.9 0h0m-5.8.2h0m4.2 0h0m4.1 0h0m-14.8.1h0m.9 0h0m.9 0h0m4.1 0h0m5.1 0h0m4.1 0h0m-14.5.1h0m1 0h0m1.3 0h0m10 0h0m-14.9.1h0m3.8 0h0m9.3 0h0m-15.6.1h0m8.6 0h0m2.1 0h0m.3 0h0m4.1 0h0m.6 0h0m-17.6.1h0m10.2 0h0m1 0h0m3.1 0h0m-13.1.1h0m.1 0h0m18.4 0h0m-13.5.1h0m0 0h0m13.3 0h0m2 0h0m-18.7.1h0m1.8.1h0m.4 0h0m.5 0h0m11.5 0h0m2.3 0h0m-18.5.1h0m.1 0h0m5.7.2h0m2.3 0h0m1.9 0h0m-10.9.1h0m1.6 0h0m2 0h0m1.7 0h0m3.9 0h0m1 0h0m.3 0h0m7 0h0m4.9 0h0m-23 .1h0m17 0h0m1.5 0h0m-17.3.1h0m5.2 0h0m3.6 0h0m8.7 0h0m4 0h0m-20 .1h0m.7 0h0m.4 0h0m7.1 0h0m9.1 0h0m-18.2.1h0m7.2 0h0m7.5 0h0m-7.6.1h0m6.1 0h0m6.2 0h0m-16.1.1h0m17.9.1h0m-15.2.1h0m5.5 0h0m.9 0h0m5.4 0h0m3.1 0h0m-13.9.1h0m-4.9.1h0m2.1 0h0m2.8 0h0m1.2 0h0m7.2 0h0m1.7 0h0m3.8 0h0m.4 0h0m-20.5.1h0m14.4 0h0m-12.7.1h0m10.9 0h0m8.2 0h0m0 0h0m-12 .1h0m3 0h0m6.7 0h0m1.7 0h0m-3.2.1h0m-17.8.1h0m8.1 0h0m5.6 0h0m1.3 0h0m6.1 0h0m-19.6.1h0m2.9 0h0m4.2 0h0m4.1 0h0m8.4 0h0m-15 .1h0m4.6 0h0m3 0h0m4.6 0h0m-17.8.1h0m1.6 0h0m15 .1h0m1 0h0m-19.9.1h0m1.6 0h0m6.5 0h0m4.9 0h0m-10.6.1h0m1 0h0m1.7 0h0m1.5.1h0m10.5 0h0m3.4 0h0m2.5.1h0m-22.1.1h0m.7 0h0m1.1 0h0m5 0h0m3.2 0h0m5 0h0m1.1 0h0m1.4 0h0m-14.1.1h0m2.1 0h0m7.5 0h0m6.4 0h0m-11.5.1h0m5.2 0h0m.8 0h0m2.1 0h0m2.7 0h0m-17.3.1h0m15.6 0h0m-16.8.1h0m2.2 0h0m2.6 0h0m3.9 0h0m4.2 0h0m4.1 0h0m.3 0h0m3 0h0m2.2 0h0m-21.1.1h0m5.7 0h0m2.7 0h0m1.7 0h0m-.6.1h0m-11.1.1h0m1 0h0m10.7 0h0m6.1 0h0m-16.4.1h0m8.4 0h0m1.1 0h0m3.2 0h0m.4 0h0m-9.2.1h0m2.7 0h0m-3.4.1h0m8.4 0h0m-9 .1h0m8.9 0h0m4.5 0h0m1.6 0h0m3.3 0h0m-22.1.1h0m8.1 0h0m7.7 0h0m1.9 0h0m-1.1.1h0m-2.3.1h0m-1.1.1h0m8.3 0h0m-17.1.2h0m8.2 0h0m6.5 0h0m.8 0h0m1.3 0h0m-16 .1h0m3.9 0h0m4.1 0h0m2.9 0h0m-8.7.1h0m.3.1h0m.3 0h0m5 0h0m3.6 0h0m-15 .1h0m2 0h0m1.1 0h0m9.6 0h0m-3.1.2h0m.6 0h0m3.4 0h0m1.8 0h0m-15.4.1h0m17.4 0h0m-18.6.1h0m.9 0h0m1 0h0m5.5 0h0m2.8 0h0m-6.9.1h0m.3 0h0m1.1 0h0m1.8 0h0m.1 0h0m3.8 0h0m3.6 0h0m.4 0h0m-14.5.1h0m3.6 0h0m5.9 0h0m2.4 0h0m.4 0h0m8.3 0h0m.7 0h0m-18.6.1h0m7 0h0m-4.3.1h0m3.7 0h0m6 .1h0m4.9 0h0m-19.1.1h0m5.8 0h0m6 0h0m7.3 0h0m1.9 0h0m-11.3.1h0m7.8 0h0m1.1 0h0m1.8 0h0m-16.7.1h0m12.9 0h0m-.1.1h0m1.8 0h0m-18.1.1h0m12.7 0h0m2.3.1h0m2.8 0h0m.2 0h0m-7.6.1h0m4.8 0h0m.4 0h0m2.8 0h0m-15.7.1h0m1.3 0h0m4.6 0h0m.7 0h0m6 0h0m.4 0h0m-16 .1h0m3.1 0h0m.3 0h0m3.2 0h0m13.2 0h0m1.5 0h0m-20.9.1h0m.3 0h0m5 0h0m11.3 0h0m.6 0h0m-2.8.2h0m-11.4.1h0m4.3 0h0m12 0h0m-8.8.1h0m1.7 0h0m1.2 0h0m-12.1.1h0m.2 0h0m1.1 0h0m5.8 0h0m4.8 0h0m.4 0h0m3.9 0h0m-13 .1h0m3.1 0h0m7.9 0h0m-17.9.1h0m7 0h0m1.5 0h0m.2 0h0m7.8 0h0m4.4 0h0m-19.2.1h0m1.2 0h0m4.7 0h0m10.5 0h0m-7.3.1h0m12.3 0h0m-18.4.1h0m5.5 0h0m10.9 0h0m2.2 0h0m-23 .1h0m0 .1h0m11.2 0h0m4.2 0h0m.4 0h0m-7 .1h0m8.3 0h0m1.6 0h0m-17 .1h0m1.7 0h0m2 0h0m.6 0h0m2.7 0h0m1.5 0h0m.8 0h0m1.4 0h0m2.2 0h0m3.1 0h0m3.7 0h0m1.3 0h0m.2 0h0m-16.6.1h0m3.5 0h0m2.4 0h0m.3 0h0m-.5.1h0m2.8 0h0m-13 .1h0m4.1 0h0m10.9 0h0m-12.3.1h0m10.2 0h0m3.1 0h0m-9.7.1h0m5.2 0h0m-12.2.1h0m.9 0h0m.7 0h0m4.1.1h0m2.1 0h0m1.8 0h0m.7 0h0m10.2 0h0m-4.2.1h0m-11.5.1h0m6.7 0h0m9.7 0h0m-20.1.1h0m12.5 0h0m3.9 0h0m.8 0h0m-13 .1h0m2.8 0h0m12 0h0m-13.4.1h0m11.9 0h0m-19.3.1h0m3.1 0h0m.8 0h0m6.9 0h0m-7 .1h0m2.3 0h0m2 0h0m2.8 0h0m2.9 0h0m.1 0h0m3.4 0h0m3.3 0h0m-18.8.1h0m2.7 0h0m1 0h0m.5 0h0m1.4 0h0m-8.4.1h0m3.5 0h0m1.6 0h0m10.2 0h0m1.5 0h0m1.7 0h0m.1 0h0m2.4 0h0m.7 0h0m-14.8.1h0m5.4 0h0m6.6 0h0m1.4 0h0m1.7 0h0m-21.1.1h0m7.6 0h0m-7.6.1h0m1.8 0h0m13.1 0h0m2.4 0h0m4.9 0h0m-14.6.1h0m11.2 0h0m.8 0h0m-16.7.1h0m1.6 0h0m1.4 0h0m1.1 0h0m3 0h0m7 0h0m-17.7.1h0m13.7 0h0m9.4 0h0m-22.9.1h0m3.2 0h0m3.2.1h0m.9 0h0m6.7 0h0m.8 0h0m2.3 0h0m.4 0h0m-13.7.1h0m4.6 0h0m3.7 0h0m9.3 0h0m-11.6.1h0m12.6 0h0m-22.3.1h0m15.6 0h0m.3 0h0m6.2 0h0m-20.3.1h0m.8 0h0m2.2 0h0m1 0h0m16.3 0h0m-17.4.1h0m9.2 0h0m5.4 0h0m2.9 0h0m.8 0h0m-14.1.1h0m.1 0h0m-9.1.1h0m13.7 0h0m.3 0h0m5.6 0h0m-15.9.1h0m2.9 0h0m15 0h0m-12.3.1h0m1.9 0h0m9.6 0h0m.2 0h0m.3 0h0m-15.3.1h0m1.2 0h0m10.1 0h0m3.3 0h0m1.1 0h0m.9 0h0m-18.8.1h0m.1 0h0m15.2 0h0m-15.8.1h0m1.1 0h0m.1 0h0m.7 0h0m1.9 0h0m1.6 0h0m8.4 0h0m.4 0h0m-12.8.1h0m7 0h0m7.6 0h0m1.4 0h0m-17.9.1h0m-2.6.1h0m5.5 0h0m3.3 0h0m11.8 0h0m1.2 0h0m-17.1.1h0m2.1 0h0m1.3 0h0m-7.1.1h0m.7 0h0m1.5 0h0m11.2 0h0m1.2 0h0m-6.8.1h0m1.1 0h0m.9 0h0m5.3 0h0m5.5 0h0m-15.2.1h0m4.5 0h0m3.1 0h0m2 0h0m1.7 0h0m3.9 0h0m-19.2.1h0m6.3 0h0m3.9.1h0m3.5 0h0m6.9 0h0m-21.9.1h0m13.7 0h0m7.9 0h0m-21.5.1h0m7.3 0h0m10.3 0h0m2.4 0h0m-9 .1h0m1.7 0h0m4.8 0h0m-17.6.1h0m7.4 0h0m.4 0h0m5.3 0h0m3.5 0h0m-15 .1h0m.3 0h0m8.1 0h0m-10.6.1h0m1.1 0h0m.3 0h0m.3 0h0m7.3 0h0m.2 0h0m.5 0h0m1.7 0h0m.1 0h0m3.9 0h0m2.3 0h0m2.5 0h0m1.6 0h0m.4 0h0m-23.2.1h0m3 0h0m13.5 0h0m4.4 0h0m.2 0h0m1.1 0h0m.4 0h0m-15.8.1h0m.8 0h0m5.8 0h0m3.4 0h0m2.2.1h0m-12.4.1h0m8.8.1h0m4.1 0h0m-12.5.1h0m10 0h0m-10.5.1h0m.4 0h0m14.3.1h0m2.3 0h0m-9.5.1h0m7.9 0h0m-9.9.2h0m3.5 0h0m6.9 0h0m.3 0h0m-21.9.1h0m11.9 0h0m7.8 0h0m-14.7.1h0m3.7 0h0m2 0h0m6.8 0h0m-17 .1h0m.1 0h0m5.8 0h0m6 0h0m10.1.1h0m-16.5.1h0m7.9.1h0m6.4 0h0m-20.6.1h0m4.5 0h0m14.5 0h0m1.6 0h0m-11.1.1h0m.3 0h0m-1.1.1h0m10.3 0h0m1.3 0h0m-17.8.1h0m12.5 0h0m.4 0h0m5.9 0h0m-9.2.1h0m1 0h0m-11.4.1h0m5.4 0h0m.9 0h0m3.9 0h0m-5.2.1h0m5.3 0h0m2.4 0h0m.5 0h0m.6 0h0m-9.8.1h0m11.9 0h0m1.4 0h0m1.6 0h0m.7 0h0m-20.9.1h0m3.2 0h0m4.1 0h0m5.1 0h0m1.9 0h0m1.2 0h0m1.4 0h0m-15.4.1h0m.8 0h0m3.6 0h0m7.5 0h0m1.7 0h0m6.2.1h0m-9.1.1h0m5.1 0h0m.1 0h0m4.4 0h0m-22.6.1h0m8.2 0h0m1.7 0h0m3.8 0h0m1.5 0h0m1.6 0h0m-16.7.1h0m4.8 0h0m0 0h0m7.7 0h0m3 .1h0m4.8 0h0m-16 .1h0m15.2 0h0m-17.3.1h0m19.8 0h0m-18 .1h0m.3 0h0m.2 0h0m.3 0h0m3.9 0h0m13.4 0h0m-19.9.1h0m15.9 0h0m3.4 0h0m-12.2.1h0m7.3 0h0m-8.6.1h0m7.2 0h0m3.2 0h0m-9.5.1h0m-2.6.1h0m12.6 0h0m.5 0h0m-15.7.1h0m.5 0h0m2.1 0h0m13.7 0h0m-19.4.1h0m1.5 0h0m.3 0h0m4 0h0m5 0h0m2.3 0h0m4.8 0h0m-18.7.3h0m1.3 0h0m2.8 0h0m14 0h0m-10.6.1h0m3.4 0h0m2.6 0h0m1 0h0m-4.6.1h0m3.4 0h0m.8 0h0m1.7 0h0m2.6 0h0m.8 0h0m2.2 0h0m1.2.1h0m.2 0h0m.1 0h0m-15.8.1h0m3.3 0h0m5.3 0h0m3.1 0h0m2.9 0h0m-21.4.1h0m14 0h0m1 0h0m6.3 0h0m-15.4.1h0m2.9 0h0m8.5 0h0m-9.7.1h0m1.7 0h0m7.2 0h0m5.2 0h0m-20.3.1h0m3.3 0h0m.6 0h0m2.7 0h0m3.7 0h0m-3.2.1h0m-3.5.1h0m11.4 0h0m-7.2.1h0m7.1 0h0m2.8 0h0m-13.1.1h0m2.9.1h0m5.3 0h0m.8 0h0m5.4 0h0m1.8 0h0m-16.7.1h0m2.2 0h0m6.9 0h0m3.2 0h0m-18.1.1h0m.9 0h0m11.3 0h0m3.4 0h0m-15.5.1h0m11.2 0h0m3.1 0h0m3.6 0h0m4.4 0h0m.1 0h0m-21.8.1h0m.6 0h0m.2 0h0m2.9 0h0m4.3 0h0m2 0h0m.8 0h0m6.1 0h0m.6 0h0m2.9 0h0m-5 .1h0m-14.2.1h0m3.1 0h0m4.1 0h0m1.2 0h0m4.9 0h0m2.6 0h0m2.8 0h0m1.5 0h0m.2 0h0m-20.6.1h0m5.7 0h0m4.9 0h0m7.7 0h0m1.1 0h0m-14.1.1h0m6 0h0m8.1 0h0m-20.9.1h0m2.5 0h0m.3 0h0m6.6 0h0m7 0h0m6.4 0h0m-22.9.1h0m2.9 0h0m1.3 0h0m17.2 0h0m-20.2.1h0m2.9 0h0m4.3 0h0m6.9 0h0m.1 0h0m.5 0h0m7 0h0m-16.6.1h0m13.2 0h0m2 0h0m-20.4.1h0m.1 0h0m9.4 0h0m3.2 0h0m5.2 0h0m3.5 0h0m-18.9.1h0m4 0h0m-6 .1h0m1.2 0h0m1.9 0h0m-4.5.1h0m10.3.1h0m.8 0h0m7.5 0h0m2.5 0h0m.5 0h0m-17.1.1h0m2.5 0h0m4.1 0h0m6.7 0h0m-17.9.1h0m.8 0h0m.1 0h0m5.2 0h0m-1.6.1h0m1.2 0h0m.7 0h0m1.9 0h0m11.4 0h0m.4 0h0m-20.2.1h0m2.5 0h0m10.9 0h0m9.3 0h0m-21.5.1h0m8.3 0h0m2.5 0h0m7.9 0h0m-18.7.1h0m10.7 0h0m-11.9.1h0m5.8 0h0m9.6 0h0m-14.3.1h0m.5 0h0m1.3 0h0m11.2 0h0m7.6 0h0m-18.3.1h0m8.2 0h0m11.5 0h0m-15 .1h0m6.1 0h0m-12.9.1h0m1.3 0h0m.2 0h0m-2.9.1h0m3 0h0m.1 0h0m1 0h0m.5 0h0m1.4 0h0m1.2 0h0m5.3 0h0m5.8 0h0m4.3 0h0m-1.5.1h0m-19.6.1h0m1 .1h0m-1.3.1h0m6.2 0h0m4.6 0h0m1.6 0h0m10 0h0m-20.1.1h0m-.8.1h0m-2.5.1h0m16.6 0h0m6.4 0h0m-22.2.1h0m14.6 0h0m5.8 0h0m1.3 0h0m-16.8.1h0m11.2 0h0m5.5 0h0m-18.4.1h0m2 0h0m3.7 0h0m.2.1h0m1.9 0h0m-3.9.1h0m6.2 0h0m4 0h0m2.9 0h0m-7 .1h0m4.7 0h0m-18.5.1h0m7.9 0h0m10 0h0m2.7 0h0m-14 .1h0m1.9 0h0m1.5 0h0m5.1 0h0m2 0h0m-9.5.1h0m6.1 0h0m4.9 0h0m.7 0h0m-19.3.1h0m2.4 0h0m.8 0h0m12.8 0h0m-13.7.1h0m7.5.1h0m7.4 0h0m1 .1h0m-16.1.1h0m2.2 0h0m7.2 0h0m1.7 0h0m-6.5.1h0m6.5 0h0m-10.6.2h0m3.2 0h0m9.2 0h0m6.7 0h0m-21.2.1h0m5.6 0h0m1.2 0h0m13.8 0h0m-19.6.2h0m.2 0h0m7 .1h0m3.2 0h0m-10.7.1h0m15.8 0h0m-13.8.1h0m2.9 0h0m1.1 0h0m6.2 0h0m1.5 0h0m1.9 0h0m2.7 0h0m2.8 0h0m-1.8.1h0m-20.6.1h0m.1 0h0m.1 0h0m.4 0h0m0 0h0m1.1 0h0m.4 0h0m.1 0h0m2.4 0h0m.3 0h0m0 0h0m1.1 0h0m.6 0h0m.2 0h0m.6 0h0m.1 0h0m.5 0h0m.5 0h0m.2 0h0m.4 0h0m1.1 0h0m.3 0h0m.5 0h0m.5 0h0m.7 0h0m.9 0h0m.4 0h0m.6 0h0m.4 0h0m.1 0h0m.3 0h0m0 0h0m.4 0h0m0 0h0m.8 0h0m.3 0h0m0 0h0m.4 0h0m.3 0h0m0 0h0m.2 0h0m.2 0h0m.4 0h0m.2 0h0m0 0h0m.6 0h0m.3 0h0m.1 0h0m.1 0h0m.3 0h0m.4 0h0m.3 0h0m.6 0h0m.3 0h0m.1 0h0m0 0h0m0 0h0m.2 0h0m.2 0h0m.2 0h0m.2 0h0m.5 0h0m-22.4.1h0m2.8 0h0m4 .1h0m15.1 0h0m-20.4.1h0m17.8 0h0m.8 0h0m2.9 0h0m-23.1.1h0m17.1.1h0m1.7 0h0m2 0h0m-17 .1h0m5.8 0h0m6.3 0h0m-15.2.1h0m.6 0h0m3.4 0h0m9.9 0h0m2.6 0h0m-3.5.2h0m6.1 0h0m-9.9.2h0m5.6 0h0m-15.1.1h0m1.1 0h0m.3 0h0m3.1 0h0m1.4 0h0m12.2 0h0m-18.2.1h0m9.7 0h0m1.8 0h0m5.8.1h0m2 0h0m2.5.1h0m-21.8.1h0m1.2 0h0m3 0h0m8.9 0h0m-6.5.1h0m6.7 0h0m4.3 0h0m1.6 0h0m-19.2.1h0m12.1 0h0m9.1 0h0m-20.9.1h0m2.6 0h0m.7 0h0m6 0h0m2.9 0h0m.1 0h0m4.4 0h0m-4.4.1h0m9 0h0m-22 .1h0m1.3 0h0m.1 0h0m1.9 0h0m9.6 0h0m-12.2.1h0m11.5 0h0m.6 0h0m2.5 0h0m.1 0h0m6.3 0h0m-18.3.1h0m2 0h0m2.5 0h0m.6 0h0m.2 0h0m8.4 0h0m.6 0h0m-9.5.1h0m7.6 0h0m5.7 0h0m-19 .1h0m6.2 0h0m5.3 0h0m2.4 0h0m1.9 0h0m-16.6.1h0m6.5 0h0m12 0h0m2.5 0h0m-20 .1h0m2.4 0h0m11.8 0h0m-11.7.1h0m2.2 0h0m6.3 0h0m8.9 0h0m-20.1.1h0m0 0h0m1.4 0h0m1.2 0h0m10.4 0h0m3.5 0h0m.9 0h0m3.2 0h0m-22.9.1h0m5.9 0h0m.6 0h0m4.6 0h0m9.1 0h0m-17.2.1h0m2 0h0m10.7 0h0m7.4.1h0m-21.4.1h0m2.6 0h0m2.6 0h0m-6.1.1h0m6.6 0h0m.1 0h0m2.8 0h0m-9.1.1h0m.1 0h0m15.5 0h0m4.3 0h0m-19.5.1h0m1.1 0h0m13.8 0h0m-7.6.1h0m1.5 0h0m.5 0h0m9.5 0h0m1 0h0m-15.2.1h0m2.1.1h0m5.7 0h0m7.1.2h0m-20.3.1h0m11.6 0h0m-10.8.1h0m4.7 0h0m10.8 0h0m3.8 0h0m-14.7.1h0m3.9 0h0m1.3 0h0m3 0h0m.6 0h0m-14.1.1h0m2.2 0h0m2.8 0h0m1.6 0h0m7.1 0h0m6.6 0h0m-20.8.1h0m7.6 0h0m2.1 0h0m.2 0h0m1.2 0h0m7.1 0h0m-15.7.1h0m4.1 0h0m14.1 0h0m-7.4.1h0m7.6 0h0m-17.1.1h0m5.4 0h0m.9 0h0m2.7 0h0m-12.7.1h0m6.2 0h0m1.6 0h0m3.9 0h0m10 0h0m-12.7.1h0m.3 0h0m5 0h0m-15.3.1h0m2.1 0h0m2.3 0h0m6.6 0h0m2.2 0h0m9.3 0h0m-10.8.1h0m.9 0h0m3.9 0h0m3 0h0m-1.8.1h0m1.2 0h0m1.5 0h0m-14.1.1h0m8.5 0h0m3.8 0h0m-15.7.1h0m1.8 0h0m1.4 0h0m14.3 0h0m-17.9.1h0m1.1 0h0m1.8 0h0m.2 0h0m7.5 0h0m1.1 0h0m3.7 0h0m3 0h0m1.2 0h0m-11.3.1h0m8.9.1h0m.5 0h0m.7 0h0m.1 0h0m-12.9.1h0m2.3 0h0m5.1 0h0m-4.8.1h0m1.1 0h0m2.4 0h0m-9.5.1h0m1 0h0m.4 0h0m.8 0h0m5.2 0h0m-1.1.1h0m2.5 0h0m5.5 0h0m-10.9.1h0m2.1 0h0m1.8 0h0m-2.7.1h0m4.8 0h0m5.3 0h0m-4.3.1h0m2.9 0h0m3 0h0m-17.4.1h0m.2 0h0m12.6 0h0m-12.7.1h0m3.2 0h0m2.4 0h0m7.7 0h0m1.8 0h0m3.6 0h0m-10.4.1h0m3 0h0m2.3 0h0m-14.4.1h0m7.3 0h0m2.8 0h0m7.6 0h0m-13.5.1h0m13.1.1h0m-17.1.1h0m4.2 0h0m7.2 0h0m3.9 0h0m.5 0h0m2.7 0h0m-11 .1h0m4.1 0h0m2.1 0h0m-15.6.1h0m7.8 0h0m2.2 0h0m.7 0h0m5.5 0h0m-10.6.1h0m4.2 0h0m.9 0h0m6.1 0h0m-9.4.1h0m4.3 0h0m.3 0h0m2.7 0h0m6.2 0h0m-17.8.1h0m1 0h0m17.5 0h0m-22.7.1h0m1.2 0h0m7.3 0h0m1 0h0m10.7 0h0m-12.4.1h0m6.9 0h0m.2 0h0m1.4 0h0m5.9 0h0m-22 .1h0m8.8 0h0m6.4 0h0m6.5 0h0m-21.2.1h0m1.7 0h0m3.8 0h0m3.1 0h0m7.3 0h0m-11.3.1h0m.3 0h0m.9 0h0m5.8 0h0m-8.9.1h0m4.3 0h0m.7 0h0m-6.6.1h0m1.7 0h0m2.8 0h0m16.2 0h0m-21.3.1h0m9.5 0h0m5.8 0h0m2.9 0h0m1.2 0h0m-20.5.1h0m5.3 0h0m1 0h0m9.4 0h0m-8.8.1h0m13 .1h0m1.1 0h0m.4 0h0m-18.7.1h0m1 0h0m.5 0h0m2.9 0h0m10.6 0h0m-14.4.1h0m13.5 0h0m4.9 0h0m.9 0h0m-19.8.1h0m2.1 0h0m2.4 0h0m3.6 0h0m3.2 0h0m2.9 0h0m-13.3.1h0m-3.8.1h0m8.1 0h0m10.2 0h0m.3 0h0m-16.8.1h0m.1 0h0m2.7 0h0m11.3 0h0m3 0h0m2.8 0h0m-21.1.1h0m1.1 0h0m.2 0h0m8.1 0h0m13.2 0h0m-17.7.1h0m16.6 0h0m.5 0h0m-15.1.1h0m1.2 0h0m5.7 0h0m1.8 0h0m6 0h0m-9.6.1h0m4.7 0h0m.7 0h0m-.2.1h0m2.6 0h0m1.1 0h0m-5.6.1h0m6.6 0h0m-10.8.1h0m8.3 0h0m.9 0h0m-16.2.1h0m7 0h0m5.9 0h0m-16.4.1h0m7.3 0h0m9.4 0h0m1.8 0h0m-18.4.1h0m10.6 0h0m8.3 0h0m1.7 0h0m-19.2.1h0m.2 0h0m1.2 0h0m1 0h0m.1 0h0m9.7 0h0m.7 0h0m3.1 0h0m-6.7.1h0m2.8 0h0m-12.7.1h0m17 0h0m-17.6.1h0m4.3 0h0m4.5.1h0m.4 0h0m2.3 0h0m7.9 0h0m2.6 0h0m-15.3.1h0m12.4 0h0m1.8 0h0m-9 .1h0m.4 0h0m9.1 0h0m.5 0h0m-7.2.1h0m-5.3.1h0m0 0h0m-2.3.1h0m5.9 0h0m3.5 0h0m-17.5.1h0m1.4 0h0m-1.3.1h0m5.2 0h0m.5 0h0m1.9 0h0m.5 0h0m2.8 0h0m8.5 0h0m-7 .1h0m5.3 0h0m-12.8.1h0m3.9 0h0m3.4 0h0m2.9 0h0m-14 .1h0m8.8 0h0m.5 0h0m.3 0h0m2.2 0h0m3.1 0h0m1.7 0h0m-18.3.1h0m3.4 0h0m6 0h0m2.6.1h0m3.9 0h0m-15.3.1h0m0 0h0m2.7 0h0m2.8 0h0m10.7 0h0m.4 0h0m4.8 0h0m-20.4.1h0m.7 0h0m4.3.1h0m13.7 0h0m-16 .1h0m5.6 0h0m2.8 0h0m2.7 0h0m-13.1.1h0m4.1 0h0m1.2 0h0m4.8 0h0m3.9 0h0m7.1 0h0m-15.2.1h0m1 0h0m1.7 0h0m1.7 0h0m1.6 0h0m5.4 0h0m-11.3.1h0m.5 0h0m2 0h0m-4.7.1h0m.3 0h0m9.6 0h0m1.5 0h0m.3 0h0m2.2 0h0m-3.9.1h0m5.7 0h0m-16.5.1h0m11.8 0h0m.1 0h0m-16.9.1h0m5 0h0m1.1 0h0m3.5 0h0m7.8 0h0m5.8 0h0m-16.9.1h0m4.4 0h0m1.6 0h0m3.1 0h0m-15.2.1h0m10.1 0h0m.6 0h0m5 0h0m-12.6.1h0m11.5 0h0m5 0h0m-5.2.1h0m5.3 0h0m.9 0h0m-17 .1h0m2.8 0h0m3.3 0h0m6.1.1h0m2.4 0h0m-5.6.1h0m-9.4.1h0m13.9 0h0m2.4.1h0m-17 .1h0m4.7 0h0m6 0h0m-11.9.1h0m7.4 0h0m11 0h0m-10 .1h0m-6.9.1h0m.4 0h0m2.4 0h0m4.5 0h0m2.3 0h0m3.2 0h0m0 0h0m7.4 0h0m-21.7.1h0m5 0h0m-5.1.1h0m2.3 0h0m1.4 0h0m1.8 0h0m3.3 0h0m6.3 0h0m1.7 0h0m.1 0h0m.6 0h0m.2 0h0m-11.6.1h0m5.1 0h0m3.3 0h0m.4 0h0m-1 .1h0m6.4 0h0m-20.2.1h0m19.7 0h0m2.1 0h0m-23.5.1h0m8.4 0h0m1.3 0h0m7.4 0h0m2.8 0h0m3.5 0h0m-22 .1h0m.4 0h0m2.5 0h0m4.9 0h0m2.3 0h0m2.6 0h0m9.2 0h0m-22.1.1h0m.1 0h0m10.9 0h0m.3 0h0m-9.4.1h0m8 0h0m5.6 0h0m2.4 0h0m-17.5.1h0m7.2 0h0m.7 0h0m10.8 0h0m-17.9.1h0m3.8 0h0m5.6 0h0m.9 0h0m.6 0h0m-6.2.1h0m11.4 0h0m-7.5.1h0m3.4 0h0m-13.7.1h0m1.2 0h0m2.5 0h0m2.4 0h0m14.7 0h0m-4.9.1h0m3.8 0h0m-20.1.1h0m5.6 0h0m6.4 0h0m.6 0h0m6.7 0h0m.7 0h0m1.3 0h0m1.3 0h0m-3 .1h0m1.8.1h0m-17.3.1h0m7.4 0h0m.3 0h0m-10 .1h0m3.1.1h0m0 0h0m8.9 0h0m-8.8.1h0m10.5.1h0m4.3 0h0m-17.5.1h0m1.3 0h0m8.5 0h0m-4.4.1h0m3.1 0h0m6.3 0h0m5.8 0h0m-15.5.2h0m11.2 0h0m.4 0h0m2.3 0h0m-16.2.1h0m9.1.1h0m8.7 0h0m-21.3.1h0m10.8 0h0m.7.1h0m3.2 0h0m6.8 0h0m-8.6.1h0m3.5 0h0m4 0h0m-12.5.1h0m10.2 0h0m-7.9.1h0m.1 0h0m3.3 0h0m4.7 0h0m-19.7.1h0m10.5.1h0m-7.5.1h0m1.2 0h0m2 0h0m.1 0h0m12.8 0h0m2.4 0h0m-15.5.1h0m16.1 0h0m.8 0h0m-13.2.1h0m8.8 0h0m-17.8.1h0m8.7 0h0m5.1 0h0m-11.7.1h0m0 0h0m6 0h0m5.3 0h0m3.2 0h0m3.7 0h0m-18.6.1h0m2.7 0h0m10.7 0h0m.4 0h0m4.6 0h0m-9 .1h0m10.1 0h0m.5 0h0m-21.7.1h0m1.1 0h0m11.3 0h0m-13.4.1h0m18.6 0h0m-18.3.1h0m3.7 0h0m4.4 0h0m4.5 0h0m6.6 0h0m.9 0h0m-19.9.1h0m5.3 0h0m14.6 0h0m-10.7.1h0m1.8 0h0m9.8 0h0m-18 .1h0m5.1 0h0m-5.6.1h0m6.6 0h0m.8 0h0m1.4 0h0m3.6 0h0m-14.3.1h0m4.7 0h0m7.8 0h0m.4 0h0m4.3 0h0m.6 0h0m3.1 0h0m-16.5.1h0m9.9 0h0m8.1 0h0m-9.7.1h0m2.6 0h0m5.4 0h0m-16 .1h0m1.4.1h0m2.1 0h0m7.4 0h0m1.1 0h0m-17.1.1h0m1.7 0h0m8.4 0h0m-4.9.1h0m1.7 0h0m9.4 0h0m4.2 0h0m-7.9.1h0m1.8 0h0m1.2 0h0m-2 .1h0m3.2 0h0m1.6 0h0m3.4 0h0m-4.7.1h0m4.9 0h0m.4 0h0m-21.7.2h0m7.4 0h0m12.4 0h0m-16.9.1h0m3.6 0h0m5.4 0h0m4.1 0h0m1.7 0h0m.5 0h0m-15.3.1h0m.8 0h0m3.5 0h0m.9 0h0m4.5 0h0m-10.2.1h0m2.1 0h0m4.4 0h0m4.6 0h0m1.9 0h0m2.2 0h0m-6 .1h0m3.8 0h0m-8.7.2h0m-3.6.1h0m3.2 0h0m4.9 0h0m.1 0h0m.8 0h0m-2 .1h0m9.5 0h0m.3 0h0m-20.1.1h0m4.8 0h0m14.5 0h0m-4.5.1h0m6.9 0h0m-21.8.1h0m.5 0h0m10.8 0h0m6.3 0h0m-17.9.1h0m2.3 0h0m.2 0h0m19.4 0h0m-22.9.1h0m10.3 0h0m.1 0h0m11.3 0h0m-5.1.2h0m-14.5.1h0m0 0h0m8 0h0m5.7 0h0m1.4 0h0m.5 0h0m-16.6.1h0m3.8 0h0m1 0h0m7.8 0h0m-3.7.1h0m-5.3.1h0m9.2.1h0m-10.2.1h0m1.2 0h0m5.4 0h0m-.5.1h0m4.5 0h0m1.1 0h0m7.6 0h0m-21.5.1h0m11.8 0h0m5.8 0h0m-15.8.1h0m14 0h0m4.7 0h0m.6 0h0m-17.6.3h0m9.2 0h0m0 .1h0m1.5 0h0m5.4 0h0m-21 .1h0m.1 0h0m.1 0h0m.9 0h0m.1 0h0m1.2 0h0m.4 0h0m.6 0h0m.2 0h0m.3 0h0m.1 0h0m.3 0h0m1.9 0h0m.2 0h0m.7 0h0m2.8 0h0m2.3 0h0m.9 0h0m1.2 0h0m.5 0h0m.5 0h0m.3 0h0m.4 0h0m.2 0h0m1.9 0h0m.2 0h0m.3 0h0m.8 0h0m1.1 0h0m.1 0h0m.7 0h0m.3 0h0m1.2 0h0m.8 0h0m-7.7.1h0m4.1 0h0m2.2 0h0m-3.1.1h0m-17.2.1h0m4.7 0h0m1.1 0h0m-2.8.1h0m.3 0h0m7.9 0h0m.2 0h0m6.2 0h0m2 0h0m1.2 0h0m-9.1.1h0m.9.1h0m-9.5.2h0m-4 .1h0m3.5 0h0m9 0h0m-11.1.1h0m13.3 0h0m5.8 0h0m-9.3.1h0m5.7 0h0m-14 .1h0m2.6 0h0m5.8 0h0m3.2 0h0m2.4 0h0m2.5 0h0m-3.7.1h0m5.3.1h0m-17.3.2h0m-4.5.1h0m21.7 0h0m.6 0h0m-9.8.1h0m5 0h0m1.8 0h0m3.6 0h0m-22.8.1h0m18.7 0h0m-14.5.1h0m-3.9.1h0m6.8.2h0m1.5 0h0m1.4 0h0m8.5 0h0m.4 0h0m-16.9.1h0m1.1 0h0m18 0h0m-19.9.1h0m12.4 0h0m2 0h0m1 0h0m-7.4.1h0m8.9 0h0m-14.7.1h0m5.6 0h0m2 0h0m-2.7.1h0m1.8 0h0m.6 0h0m6.4 0h0m3.4.2h0m-19.7.1h0m.8 0h0m1.2 0h0m2.1 0h0m17.7 0h0m.3.1h0m-19.4.1h0m17 0h0m2.2 0h0m-13.9.1h0m1.2 0h0m8.2 0h0m1.9 0h0m-17.1.1h0m7 0h0m2.8 0h0m.5 0h0m.2 0h0m4.6 0h0m2.8 0h0m-15.1.1h0m5.3 0h0m7.1.1h0m-18.3.1h0m6.3 0h0m11.1 0h0m-13.1.1h0m4.1 0h0m4.8 0h0m1.6 0h0m-11.7.1h0m.1 0h0m3.1 0h0m16.9 0h0m-21.9.1h0m12.9 0h0m1.4 0h0m2.4 0h0m.3 0h0m-17.1.1h0m14.5 0h0m-7.5.2h0m1.1 0h0m4.2 0h0m-10.3.1h0m.8 0h0m3.1 0h0m3.5 0h0m2.5 0h0m.9 0h0m-13.3.1h0m4.8 0h0m6 0h0m3.8 0h0m4.4 0h0m1.6 0h0m.2 0h0m1.5 0h0m-16.1.1h0m-2.5.1h0m11.9 0h0m.8 0h0m-9.6.1h0m1.3 0h0m10.7 0h0m-8.1.1h0m2.7 0h0m-5.1.2h0m2.6 0h0m1 0h0m9.3 0h0m-14.4.1h0m10.4 0h0m-16.9.1h0m7 0h0m6.2 0h0m2.2 0h0m1.3 0h0m1 0h0m2.5 0h0m-19.4.1h0m.4 0h0m15.4 0h0m.4 0h0m-5.8.1h0m1.8 0h0m2.4 0h0m.8 0h0m2.8 0h0m2.1.1h0m-19.5.1h0m.8 0h0m.4 0h0m3.9 0h0m3.6 0h0m6.4 0h0m1.7 0h0m-17.1.1h0m7.6 0h0m3.2 0h0m.4 0h0m5.4 0h0m-14.9.1h0m14.3 0h0m-15.4.2h0m3.3 0h0m-3.8.1h0m8.2 0h0m7.9 0h0m1 0h0m-16.4.1h0m12.4 0h0m-12.8.1h0m3 0h0m7.6 0h0m5.7 0h0m-18.1.1h0m.3 0h0m7 0h0m-5 .1h0m.1.1h0m5.1 0h0m8.8 0h0m1.6 0h0m-15.4.2h0m.4 0h0m5.3 0h0m1.2 0h0m1.1 0h0m7.8 0h0m-6.7.1h0m1.4 0h0m-10 .1h0m3.9 0h0m12.1 0h0m1.8 0h0m-21.8.1h0m3.4 0h0m7.9 0h0m-8.6.1h0m1.6 0h0m.5 0h0m1.2 0h0m2.2 0h0m-7.8.1h0m.1 0h0m14.2 0h0m-12.8.1h0m1.2 0h0m1.5 0h0m1.9 0h0m3.8 0h0m11.6 0h0m-8.1.1h0m-2.6.1h0m-9.6.1h0m13.4 0h0m.7 0h0m-12.7.1h0m5.5 0h0m2.5 0h0m-10.1.1h0m11.2 0h0m8.9 0h0m2.2 0h0m-18.2.1h0m1.8 0h0m3 0h0m8.3 0h0m-17.6.1h0m3.2 0h0m1.4 0h0m16.2 0h0m-10.3.1h0m3.5 0h0m.3 0h0m1.8 0h0m-14.8.1h0m10.8 0h0m3.7 0h0m4 0h0m-13.7.1h0m7.8 0h0m7.4 0h0m-18.6.1h0m7.2 0h0m3 0h0m-8.4.1h0m5.9 0h0m9.5 0h0m1.3 0h0m-16.1.1h0m.6 0h0m6.5.1h0m3.8 0h0m1 0h0m-15.4.1h0m.6 0h0m3.6 0h0m5.4 0h0m6.4 0h0m-.1.1h0m-7.8.1h0m5.4 0h0m3.9 0h0m.5 0h0m-12.6.1h0m2.5 0h0m.1 0h0m3.1 0h0m1.6 0h0m-9.2.1h0m6.2 0h0m1.7 0h0m1.9 0h0m1.5 0h0m1.5 0h0m-12.6.1h0m.7 0h0m12 0h0m-7.3.1h0m2 0h0m3.3 0h0m6.4 0h0m-10.4.1h0m2.8 0h0m2.3 0h0m-13.4.1h0m.3 0h0m15.6 0h0m-18.7.1h0m1.5 0h0m20 0h0m-20.4.1h0m2.6 0h0m.7 0h0m1.4 0h0m1.4 0h0m1.6 0h0m3 0h0m2.9 0h0m1.4 0h0m4.6 0h0m-20.8.1h0m19.7 0h0m-16.1.1h0m2.7 0h0m5.7 0h0m7.5 0h0m-13.7.1h0m3.6 0h0m4.7 0h0m-12.1.1h0m8 0h0m.9 0h0m10.4 0h0m-17.5.1h0m1.2.1h0m14.5 0h0m-16.9.1h0m18.2 0h0m-13.5.1h0m.9 0h0m5.5 0h0m2.7 0h0m-15.8.1h0m7.2 0h0m.7 0h0m2.1 0h0m4.2 0h0m3.8 0h0m.8 0h0m1 0h0m-19.1.1h0m2.9 0h0m1.7 0h0m1.1 0h0m-6.2.1h0m3.1 0h0m5.8 0h0m7.8 0h0m.8 0h0m.5 0h0m.3 0h0m2.4 0h0m-11.9.2h0m0 0h0m-6.1.1h0m15.6 0h0m-18.2.1h0m11 0h0m.8 0h0m6 0h0m-13.9.1h0m5.4 0h0m1.7 0h0m4.5 0h0m3.4 0h0m-15.3.1h0m-3.9.1h0m8.8 0h0m.6 0h0m6.9 0h0m2.1 0h0m.2 0h0m-15.3.1h0m6.7 0h0m-10.4.1h0m5 0h0m.6 0h0m.1 0h0m4.7 0h0m9.5 0h0m1.1 0h0m-16.4.1h0m-2.8.1h0m1.1 0h0m6.7 0h0m.2 0h0m10.1 0h0m.2 0h0m1.1 0h0m-18.4.1h0m6.3 0h0m.2 0h0m-8.9.1h0m6.2 0h0m5.9 0h0m5.5 0h0m2 0h0m-19.4.1h0m7.5 0h0m4.8 0h0m8.3 0h0m-11.8.1h0m11.2 0h0m.1 0h0m1.2 0h0m-12.4.1h0m1.5.1h0m7.1 0h0m-17.6.1h0m.4 0h0m1 0h0m8.2 0h0m9 0h0m-20.4.2h0m5.8 0h0m14.6 0h0m-20.1.1h0m4.8 0h0m18.1.1h0m-21.9.1h0m5.8 0h0m-6.8.1h0m20.2 0h0m-.6.1h0m-7.9.1h0m3.9 0h0m7.2 0h0m-18.5.1h0m6.9 0h0m9.7 0h0m-21.3.1h0m3.3 0h0m4.1 0h0m2.8.1h0m6.3 0h0m3.5 0h0m-13.1.1h0m1.1 0h0m3.5 0h0m4.5 0h0m-15.4.1h0m7.6 0h0m4.1 0h0m-7.1.1h0m1.5 0h0m8.5 0h0m-13.9.1h0m3.4 0h0m12 0h0m-2.5.1h0m1.3 0h0m-15.7.1h0m7.2 0h0m-7.2.1h0m2.6 0h0m2.6 0h0m.4 0h0m1 0h0m.1 0h0m4.2 0h0m.9 0h0m-9.9.1h0m3.2 0h0m1.8 0h0m9.5 0h0m4.9 0h0m-14.3.1h0m10.6 0h0m5.5 0h0m-19.5.1h0m5.8 0h0m5.2 0h0m7.5 0h0m-13.8.1h0m13.6 0h0m-21.3.1h0m2.6 0h0m12.3 0h0m-6.1.1h0m10.6 0h0m-15.5.1h0m5.4 0h0m9.8 0h0m2.5 0h0m-20.9.1h0m2 0h0m-.8.1h0m1 0h0m1 0h0m15.7 0h0m-19.6.1h0m.9 0h0m2.4 0h0m.3 0h0m.5 0h0m.4 0h0m2.6 0h0m7.3 0h0m-6.9.1h0m1 0h0m13 .1h0m-18.1.1h0m7.6 0h0m1.7 0h0m4.3 0h0m-15 .1h0m5.9 0h0m6.4 0h0m-10.7.1h0m3.9 0h0m8.2 0h0m1 0h0m-12.1.1h0m2.1 0h0m2.5 0h0m-7.7.1h0m1.7 0h0m3.4 0h0m-2.5.1h0m1.8 0h0m1 0h0m10.4 0h0m5.4 0h0m-9.9.1h0m3.7 0h0m1.1 0h0m1.6 0h0m-15.4.1h0m2.3 0h0m3.8 0h0m-9.4.1h0m5.1 0h0m13.7 0h0m-2.7.1h0m4.4 0h0m-14.3.1h0m5.7 0h0m4.8 0h0m1.9 0h0m-18.7.1h0m8.7 0h0m6.5 0h0m-10.1.1h0m4.5 0h0m5.2 0h0m1 0h0m.7 0h0m-10.5.1h0m6.9 0h0m.7 0h0m-2.8.1h0m3.4 0h0m3.7 0h0m-14 .1h0m3.6 0h0m3.6 0h0m1.7 0h0m6.1 0h0m2.2 0h0m-19.4.1h0m1.5 0h0m3.8 0h0m3.7 0h0m-10.8.1h0m20.8 0h0m-12.3.1h0m2.3 0h0m2.2 0h0m1.6 0h0m3.5 0h0m-18 .1h0m1.9 0h0m5.9 0h0m11.2 0h0m-20 .1h0m3.6 0h0m1.1 0h0m9 0h0m7.4.1h0m-5.9.1h0m2.3 0h0m2.2.1h0m2.7 0h0m-20.8.1h0m4.1 0h0m5.9 0h0m4.5 0h0m-15.8.1h0m17.6 0h0m-4.1.1h0m1.5 0h0m-3.4.1h0m.4 0h0m7.9 0h0m-8 .1h0m6.2 0h0m2.4 0h0m-15.5.2h0m-2.1.1h0m7.6 0h0m2.8 0h0m-9.2.1h0m3.5 0h0m1.8 0h0m-2.7.1h0m.1 0h0m5 0h0m8.1 0h0m3.4 0h0m-18.7.1h0m.3 0h0m8.1 0h0m7.6 0h0m-18.2.1h0m1 0h0m12.9 0h0m2.1 0h0m-18.6.1h0m2 0h0m2.1 0h0m.6 0h0m7.8 0h0m7.8 0h0m-16.2.1h0m3.6 0h0m7.6 0h0m.1.1h0m5.8 0h0m-19.5.1h0m16.6 0h0m4.6 0h0m-1.5.1h0m-16.4.1h0m9 0h0m1.5 0h0m1.5 0h0m3.8 0h0m2.5 0h0m-5.5.1h0m2 0h0m2.3 0h0m-18.5.1h0m1.9 0h0m5.7 0h0m1.7 0h0m3.2 0h0m4.1 0h0m-18.4.1h0m6.7 0h0m5.6 0h0m-9.7.1h0m11.4 0h0m2.8 0h0m-4.2.1h0m.4 0h0m2.6 0h0m-2 .1h0m3.1 0h0m1 0h0m2.7 0h0m-17.7.1h0m2.3 0h0m7.4 0h0m.7 0h0m4 0h0m-8 .1h0m9 0h0m-3.7.1h0m4 0h0m1.7 0h0m-18.3.1h0m11.8 0h0m-12.1.1h0m14.5.1h0m3.4 0h0m-20.2.1h0m16.1 0h0m5.6 0h0m-8.1.1h0m4.8 0h0m-17.2.1h0m10.7 0h0m-3.9.1h0m7.3 0h0m6.2 0h0m.2 0h0m-22.3.1h0m3.1 0h0m3.2 0h0m7.1 0h0m3.3 0h0m2.5 0h0m-15.2.1h0m9.1 0h0m8.2 0h0m1.1 0h0m-18.3.1h0m-4.2.1h0m7 0h0m13.4 0h0m-20.5.1h0m3.2 0h0m13.6 0h0m4.7 0h0m-12.4.1h0m-4.7.1h0m11.9 0h0m5 0h0m-19.2.1h0m8 0h0m1.5 0h0m10.8 0h0m-9.3.1h0m3.2 0h0m-10.5.1h0m2.2 0h0m2.6 0h0m-7 .1h0m2.8 0h0m3.8 0h0m4.3 0h0m.6 0h0m-9.3.1h0m14.6 0h0m-18.5.1h0m9.1 0h0m4.5 0h0m3.5 0h0m-9.4.1h0m10.3 0h0m-1.6.1h0m-13.7.1h0m2.5 0h0m10.4 0h0m-6.1.1h0m2.8 0h0m-7.1.1h0m-3.7.1h0m12.2 0h0m-10.2.1h0m1.2 0h0m4.9 0h0m6.9 0h0m-17 .1h0m4.4 0h0m7.9 0h0m6.1 0h0m-19.6.1h0m4 0h0m3.1 0h0m11.7 0h0m-18.6.1h0m.2 0h0m8.5 0h0m7.5 0h0m1 0h0m-10 .1h0m3.8 0h0m6.1 0h0m-7.5.1h0m12.6 0h0m-20.4.1h0m20 0h0m-16 .1h0m4.1 0h0m2 0h0m1 0h0m6.6 0h0m1.9.1h0m-21.6.1h0m12.8 0h0m.6 0h0m2.1 0h0m3.8 0h0m-13.2.1h0m15 0h0m-21.3.1h0m0 0h0m14.1 0h0m6.9 0h0m-14.8.1h0m2.6 0h0m11 0h0m3.1 0h0m-15.3.1h0m-2.5.1h0m1.7 0h0m4.3 0h0m5 0h0m-14.8.1h0m.6 0h0m4 0h0m4.1 0h0m1.7 0h0m10.5 0h0m-16.6.1h0m5.8 0h0m-9.5.1h0m1 0h0m5.9 0h0m4.8 0h0m6.1 0h0m-18.6.1h0m15.1 0h0m.7 0h0m3.1 0h0m.1 0h0m1.6 0h0m1.5 0h0m-2.4.1h0m-19.5.1h0m1.7 0h0m.8 0h0m6.6 0h0m5.1 0h0m5.7 0h0m-13.1.1h0m.8 0h0m.5 0h0m7.7 0h0m-11.8.1h0m1 0h0m.6 0h0m2.7 0h0m8.9 0h0m3.4 0h0m-20.2.1h0m15.7 0h0m5.8 0h0m-18.5.2h0m2.7 0h0m.4 0h0m2.5 0h0m6.6 0h0m-15.1.1h0m.8 0h0m3 0h0m.3 0h0m12.2 0h0m4.6.1h0m-19.1.1h0m5.2 0h0m11.5 0h0m-15.1.1h0m11.2 0h0m-9.5.1h0m7.6 0h0m6.6 0h0m-19.9.1h0m14.5 0h0m-12.2.1h0m5.9 0h0m6.6 0h0m-7 .1h0m-8.5.1h0m.3 0h0m1.6 0h0m17.1 0h0m2.2.3h0m-12.4.1h0m3.1 0h0m9.6 0h0m-11.6.1h0m10.3 0h0m-4 .1h0m2.4 0h0m4.1 0h0m-22.5.1h0m6.3 0h0m9.5 0h0m1.5 0h0m2.8 0h0m-20.2.1h0m0 0h0m14.2 0h0m-8.6.1h0m5.3 0h0m9.5 0h0m-4.5.1h0m6.5 0h0m-21.2.1h0m.7 0h0m20.4 0h0m-17.9.1h0m.1 0h0m7.2 0h0m6.2 0h0m-16.6.1h0m5.1 0h0m.1 0h0m3.4 0h0m.6 0h0m2.8 0h0m4.5 0h0m2.2 0h0m2.8 0h0m-17.9.1h0m9.3.1h0m5.7 0h0m-11.5.1h0m1.8 0h0m2.7 0h0m6 0h0m3.6 0h0m-22.6.1h0m10.9 0h0m7.1 0h0m3.3 0h0m-15.9.1h0m.6 0h0m6 0h0m1.6 0h0m.7.1h0m-12.9.1h0m3.3 0h0m7.7 0h0m.6 0h0m.8.1h0m-10.2.1h0m5.9 0h0m5 0h0m2.6 0h0m-14 .1h0m11 0h0m1.5 0h0m-14.7.1h0m6 0h0m-4.5.1h0m5.8 0h0m.6 0h0m5.1 0h0m6.1 0h0m-15.2.1h0m17.4 0h0m0 0h0m-11.8.1h0m7.8 0h0m1.8 0h0m1.7 0h0m-15.5.1h0m2.2 0h0m-7 .1h0m5 0h0m5.9 0h0m5.2 0h0m2.8 0h0m-16.5.1h0m8.2 0h0m1.9 0h0m6.2 0h0m-15.4.1h0m9 0h0m4.3 0h0m2.6 0h0m-18.1.1h0m0 0h0m7 0h0m1.9 0h0m-11.5.1h0m13.7 0h0m1.8 0h0m0 0h0m-11.3.1h0m1.3 0h0m12.2 0h0m2.8 0h0m-19.7.1h0m.2 0h0m19.5 0h0m-16.8.1h0m9 .1h0m9.3 0h0m-20.9.2h0m10.2 0h0m-10.1.1h0m8 0h0m4.5 0h0m.1 0h0m1.6 0h0m3 0h0m-17.7.1h0m2.8 0h0m13.6 0h0m1.6 0h0m.5 0h0m-9.8.1h0m10.6 0h0m-14.4.2h0m1.7 0h0m.4 0h0m0 0h0m1.4 0h0m4.5 0h0m7 0h0m-19.6.1h0m7.4 0h0m1.2.1h0m1.2 0h0m.5 0h0m8.3 0h0m2.9 0h0m-19.3.1h0m2.9 0h0m11.6 0h0m-7.3.1h0m6 0h0m6.5 0h0m-11.5.1h0m1.6 0h0m-12.5.1h0m9.8 0h0m6.6.1h0m4 0h0m-18.7.2h0m2 0h0m6.4 0h0m-10 .1h0m16.4 0h0m5.8 0h0m-17.1.1h0m-2.7.1h0m3.1 0h0m2.2 0h0m.6 0h0m2.6 0h0m.5 0h0m10.2 0h0m-18.4.1h0m6.8 0h0m3.9 0h0m8.5.1h0m-9.2.1h0m4.5 0h0m1.5 0h0m-20.4.1h0m22.2 0h0m-21.3.1h0m12.3 0h0m6.3 0h0m1 0h0m-9.3.1h0m-1.5.1h0m11.5.1h0m-1.6.1h0m-16.5.3h0m6.1 0h0m3.8 0h0m.9 0h0m5.8 0h0m-14.3.1h0m-4.5.1h0m3 0h0m16.1.1h0m-4.2.1h0m-8.2.1h0m11.6 0h0m-6.4.1h0m2.3 0h0m-9.6.1h0m7.6 0h0m4.1 0h0m5.1 0h0m-1.5.1h0m-6.6.1h0m1.4 0h0m-13.5.3h0m9.9 0h0m.7 0h0m1.1 0h0m-13.7.3h0m0 0h0m.2 0h0m.3 0h0m.1 0h0m.1 0h0m.1 0h0m.7 0h0m.7 0h0m.2 0h0m.1 0h0m.2 0h0m.5 0h0m.1 0h0m.1 0h0m.2 0h0m.1 0h0m.2 0h0m.1 0h0m.2 0h0m.3 0h0m0 0h0m.1 0h0m.4 0h0m.2 0h0m.1 0h0m0 0h0m.2 0h0m.7 0h0m.4 0h0m.2 0h0m.2 0h0m.3 0h0m0 0h0m.8 0h0m.1 0h0m.3 0h0m.1 0h0m.5 0h0m0 0h0m.1 0h0m.3 0h0m.1 0h0m.1 0h0m.1 0h0m.1 0h0m.1 0h0m.1 0h0m.3 0h0m.2 0h0m.1 0h0m.1 0h0m.9 0h0m.2 0h0m.4 0h0m.1 0h0m.8 0h0m0 0h0m.1 0h0m.4 0h0m.3 0h0m.5 0h0m.2 0h0m.2 0h0m.2 0h0m.3 0h0m.3 0h0m0 0h0m.6 0h0m.3 0h0m.3 0h0m.3 0h0m.6 0h0m.6 0h0m.2 0h0m.4 0h0m.1 0h0m.1 0h0m.1 0h0m.2 0h0m0 0h0m.2 0h0m0 0h0m0 0h0m.2 0h0m.5 0h0m.1 0h0m.4 0h0m0 0h0m1.2 0h0m.2 0h0m.1 0h0m.5 0h0m.3 0h0m0 0h0m.1 0h0m.2 0h0m-5.7.2h0m1.9 0h0m3.7 0h0m-22 .1h0m3.7.2h0m12.1 0h0m4.9.1h0m-20.1.1h0m13.4.1h0m5.3.1h0m-17.3.1h0m17.5.1h0m.5 0h0m-19.3.1h0m7.9 0h0m4.6.1h0m1.9 0h0m-11.1.1h0m-4.9.1h0m8.8.1h0m-4.7.1h0m5.2 0h0m5.5 0h0m-3.4.1h0m7.4 0h0m-8.4.1h0m7.3 0h0m-2.9.1h0m-4.7.1h0m9.1 0h0m-16.2.1h0m1.2 0h0m4 .1h0m1.5 0h0m-9.8.1h0m1.9 0h0m19.2 0h0m1.3 0h0m-22.7.1h0m4.2 0h0m1.2 0h0m6.2 0h0m.9 0h0m10.4 0h0m-14.2.1h0m5.3 0h0m2.1 0h0m-14.5.1h0m11.6 0h0m5.6 0h0m-11.1.1h0m4.2 0h0m7.9 0h0m-15.3.1h0m7.3 0h0m7 0h0m.2 0h0m-9.8.1h0m6.1.1h0m7.3 0h0m-14.8.2h0m5.1 0h0m-9.3.2h0m13.7 0h0m-17.3.1h0m5.2 0h0m2.5 0h0m-1.8.1h0m15.4 0h0m-18.7.1h0m2.7 0h0m1.9 0h0m.2.1h0m3.6.1h0m4.8 0h0m-15.2.1h0m7.1 0h0m3.1 0h0m4.6 0h0m4.2 0h0m3.1 0h0m-21.4.1h0m1.7 0h0m13.1 0h0m3.7 0h0m-19.2.1h0m1.6 0h0m9.8 0h0m1.9.1h0m1.3 0h0m4.5 0h0m-19.9.1h0m5.1 0h0m3 .1h0m2.2 0h0m3.2 0h0m-5.8.1h0m3.7 0h0m1.1 0h0m8.1 0h0m-16 .1h0m4.8 0h0m-8.8.1h0m.1 0h0m11.5 0h0m.3 0h0m1.4 0h0m-11.7.1h0m3.1 0h0m.6 0h0m2.6 0h0m3.1 0h0m3 0h0m2.3 0h0m.2.1h0m2.2 0h0m-8.7.1h0m7.4 0h0m-5.1.1h0m1.4 0h0m0 0h0m-11.8.1h0m2.6 0h0m-4 .1h0m5.3 0h0m8 0h0m6.5 0h0m-11.4.1h0m2.5 0h0m.9 0h0m4.6 0h0m2.6 0h0m1.1 0h0m-12.2.1h0m5.4 0h0m-3.1.1h0m-9.4.1h0m11.7 0h0m1.7 0h0m.7 0h0m.9 0h0m1.5 0h0m4.8 0h0m-22.6.1h0m2.1 0h0m9.1 0h0m5.2 0h0m-.3.1h0m2 0h0m-9.3.1h0m13.9 0h0m-22.4.1h0m11.4 0h0m2 0h0m8.7.1h0m-22.6.1h0m9.9 0h0m7.1 0h0m3.6.1h0m-8.4.1h0m8.1 0h0m-2.7.1h0m4.9 0h0m-15.1.1h0m4.1 0h0m6.4 0h0m3.2 0h0m-21.2.1h0m7.2 0h0m5.4 0h0m2.4 0h0m5.2 0h0m-11.7.1h0m11.7.1h0m-16.2.2h0m3.2.1h0m3.2 0h0m2.7 0h0m-9.6.1h0m16.5 0h0m.2 0h0m0 0h0m-17.3.1h0m12.4 0h0m3.8 0h0m0 0h0m-12.3.1h0m1.1 0h0m15.2 0h0m-22.4.1h0m-.5.1h0m18.7 0h0m-14.7.1h0m10 0h0m3.7 0h0m-15.3.1h0m15.5 0h0m-16.7.1h0m.2 0h0m.9 0h0m3.1 0h0m2.1.1h0m.9 0h0m-4.7.1h0m7.6 0h0m9.7 0h0m-18.8.1h0m9.1 0h0m2.5 0h0m1.8 0h0m5.6 0h0m-18.6.1h0m14.1.1h0m-7.2.1h0m.2 0h0m13 0h0m-16.6.1h0m4.3 0h0m2.1 0h0m1.4 0h0m2.3 0h0m4.8 0h0m-12.1.1h0m3.6 0h0m6.1 0h0m-18.5.1h0m.4.1h0m1.5 0h0m5 0h0m3.2.1h0m6.2 0h0m1.4 0h0m3 0h0m-17.4.1h0m5.2 0h0m1.2 0h0m8.4 0h0m-16.2.1h0m7.2 0h0m1 0h0m4.1 0h0m-13.3.1h0m10.5 0h0m2.3 0h0m-9.4.1h0m9.6 0h0m5.9 0h0m-20.4.1h0m8.5.1h0m10 0h0m4.6 0h0m-19.7.1h0m1.2 0h0m1.8 0h0m-.4.1h0m9.3 0h0m.8 0h0m-13.9.2h0m12 0h0m-5.6.1h0m2.3 0h0m-10.5.1h0m12.7 0h0m.2 0h0m-10.1.1h0m.4 0h0m9.3 0h0m6.7 0h0m3.9 0h0m-21.6.1h0m4.4 0h0m9.4 0h0m.5 0h0m-11.8.1h0m7.2.1h0m2.4 0h0m6.9 0h0m-11.5.1h0m-4.1.1h0m8.9 0h0m5.7 0h0m-19.5.1h0m12.8 0h0m6.1 0h0m1.7 0h0m-12.6.1h0m8.9 0h0m-.3.1h0m-13.1.1h0m13.9 0h0m-14.4.1h0m-2.6.1h0m10.9 0h0m.3 0h0m7 0h0m-19.1.1h0m5 0h0m1 0h0m-3.9.1h0m1.7 0h0m-3.6.1h0m9.4 0h0m4.9 0h0m-11.6.1h0m1.5 0h0m3.5 0h0m3.6 0h0m3.7 0h0m1.8.1h0m2.1 0h0m-1.4.1h0m-6.1.1h0m.1.1h0m1.4 0h0m4.8 0h0m-15.6.1h0m6 0h0m3.7 0h0m-4.4.1h0m.4 0h0m.9 0h0m5.9 0h0m1.1 0h0m2.3 0h0m1 0h0m-17.3.1h0m13.9 0h0m-12.2.1h0m9.6 0h0m1.8 0h0m8.6 0h0m-18 .1h0m2.4 0h0m2.9 0h0m12.5 0h0m-20.9.1h0m.6 0h0m10 0h0m10 0h0m-19.1.1h0m6.6.1h0m7.8 0h0m4.8 0h0m-7.7.1h0m4.5 0h0m-19.8.1h0m6 0h0m5.1 0h0m6.1 0h0m.4 0h0m-17.7.1h0m5.9 0h0m2.5 0h0m3.5 0h0m10 0h0m-8.9.2h0m4.1 0h0m1.7 0h0m.5 0h0m-12.9.1h0m.6 0h0m6.6.1h0m4.9 0h0m-4.9.1h0m8.8 0h0m-15 .1h0m8.5 0h0m.1 0h0m3.2 0h0m.9 0h0m1.2 0h0m.2 0h0m.7 0h0m-.1.1h0m-17.8.1h0m11.5 0h0m-14.5.1h0m6.6 0h0m7.2 0h0m-12.9.1h0m5.1 0h0m5 .1h0m0 0h0m.4 0h0m2 0h0m7.3 0h0m-5.3.1h0m6 0h0m-22.5.1h0m7.9 0h0m1.1 0h0m1.6 0h0m4.5.1h0m.9 0h0m-14.9.1h0m6.3 0h0m.5 0h0m3.1.1h0m7.9 0h0m-14.1.1h0m1.8 0h0m16.8 0h0m-23.1.1h0m1 0h0m1.5.1h0m4.9 0h0m5 0h0m.7 0h0m8 0h0m-19 .1h0m17.6 0h0m-12.6.1h0m1.7.1h0m2.3.1h0m-7.2.1h0m5.2 0h0m10.9 0h0m-16.5.1h0m9.1 0h0m5.3 0h0m3.3 0h0m-19.6.1h0m13.9 0h0m3.3 0h0m3.1 0h0m-5.9.1h0m-13.5.2h0m4.3 0h0m8.6 0h0m6.6 0h0m-14.7.1h0m.2 0h0m11.2 0h0m.1 0h0m-11.4.1h0m6.5 0h0m4.4 0h0m-18 .1h0m.3 0h0m5 0h0m1.8 0h0m8.3 0h0m.4 0h0m-4.5.1h0m11.3 0h0m-13.3.1h0m1.5 0h0m1.1 0h0m-11.9.1h0m12.4 0h0m9.4 0h0m-5.9.1h0m5.7 0h0m-21.4.1h0m5.1 0h0m4.9 0h0m.5 0h0m6.5 0h0m.9 0h0m-6.9.1h0m4.1 0h0m1.9 0h0m-11.9.1h0m7 0h0m3.3 0h0m3.8 0h0m-18.5.1h0m11.9 0h0m2.5.1h0m-3.7.1h0m-6.9.1h0m16.7 0h0m-21.3.1h0m12.2 0h0m2.3.1h0m-12.4.1h0m8.2.1h0m-11.3.1h0m9.4 0h0m1.3 0h0m1.7 0h0m10.7.1h0m-12.4.1h0m8.4 0h0m-13.3.2h0m6.3 0h0m.5 0h0m1.1 0h0m7.4 0h0m-19.3.1h0m6.5 0h0m.7 0h0m1 0h0m4.1.2h0m5.6 0h0m-18.4.1h0m14.5 0h0m2.3 0h0m-15.6.1h0m2.3 0h0m1.9 0h0m-6.5.1h0m2.8 0h0m5.8 0h0m1 .1h0m4.1 0h0m7.6 0h0m-18.5.1h0m4.2 0h0m2.4 0h0m1.3 0h0m.5 0h0m1.5 0h0m1.4 0h0m3.9 0h0m.4 0h0m-12 .1h0m13.9 0h0m-15.3.1h0m3.7 0h0m8.3 0h0m1.5 0h0m1.5 0h0m-17.1.1h0m20.3 0h0m-14.4.1h0m13.7 0h0m-2.5.1h0m-19.8.1h0m3.1 0h0m1.4 0h0m4.3.1h0m.9 0h0m-4 .1h0m2.2 0h0m3 0h0m6.5 0h0m-15.7.1h0m18.3 0h0m1.9 0h0m-22 .1h0m15.1 0h0m.4.1h0m-9.9.1h0m4.4.1h0m-9.9.1h0m11.6 0h0m.7 0h0m4.9 0h0m-15.6.1h0m4.3 0h0m5.5 0h0m1 0h0m3.2 0h0m6.3 0h0m-11 .1h0m11.1 0h0m-19.9.1h0m1.9 0h0m3.1 0h0m11.7 0h0m3.8 0h0m-13.9.1h0m1.5 0h0m2.3 0h0m4.6 0h0m6.2 0h0m-21.1.1h0m2.2 0h0m2.2 0h0m4.3 0h0m6.7 0h0m-16.2.1h0m.3 0h0m2.6 0h0m16.4 0h0m-15.4.1h0m2.7 0h0m3.1 0h0m-7 .1h0m12.7 0h0m2.9 0h0m-19.4.1h0m.6 0h0m.8 0h0m2.3 0h0m6.3 0h0m.5 0h0m5.5 0h0m-13 .1h0m.3 0h0m2.6 0h0m1.9 0h0m-6.2.1h0m1.4 0h0m3.9 0h0m5.3 0h0m.1 0h0m.2 0h0m5.5 0h0m4 0h0m-10.5.1h0m-9.5.1h0m6.2 0h0m1.2 0h0m.9 0h0m7.8 0h0m2.8 0h0m-10.9.1h0m3.7 0h0m-5.7.1h0m5.4 0h0m6.2.1h0m-13.7.2h0m9.4 0h0m7.6 0h0m-19.3.1h0m4.7 0h0m1.4 0h0m.7 0h0m2.8 0h0m2 0h0m-3.7.1h0m-8.3.1h0m7.1 0h0m6.9 0h0m-15.2.1h0m2 0h0m5.6 0h0m7.3 0h0m-8.1.1h0m-7.8.1h0m17.7 0h0m-16.1.1h0m8.6 0h0m-2.7.1h0m2.4 0h0m.7 0h0m-5.8.1h0m5.9 0h0m4.4 0h0m-13.8.1h0m4.3 0h0m2.4 0h0m.2 0h0m12.3 0h0m-16.2.1h0m1.5 0h0m-.7.1h0m6.4 0h0m8.1.1h0m1.4 0h0m-17.7.1h0m13.1 0h0m3.2 0h0m.6 0h0m-3.5.1h0m1.3 0h0m-17.1.1h0m7.8 0h0m.3.2h0m10.1 0h0m2.7 0h0m-22.6.1h0m11.8 0h0m.9 0h0m3.9.1h0m3.6 0h0m-20.3.1h0m12.4 0h0m8.1 0h0m-19.1.1h0m16.9 0h0m-14.8.1h0m17.8 0h0m-13.9.1h0m-2.5.1h0m2.4 0h0m.9 0h0m3.1 0h0m1.5 0h0m.6 0h0m2.1 0h0m3 0h0m.8 0h0m.6 0h0m1.2 0h0m-21 .1h0m7 0h0m4.8 0h0m-8.6.1h0m.7 0h0m2.2 0h0m16.6 0h0m-.9.2h0m-19.7.2h0m2.4 0h0m2.5 0h0m2.5 0h0m1.6 0h0m11.4 0h0m-22.7.1h0m1.2.1h0m19.9.1h0m-18.5.1h0m2.8 0h0m4 0h0m.1 0h0m3.7 0h0m1.9.1h0m-10.9.1h0m3.5 0h0m-2.9.1h0m16.8 0h0m-21.2.1h0m4.3 0h0m1.1 0h0m17 0h0m-12.8.1h0m3.7 0h0m-4.7.1h0m1.3 0h0m5.3 0h0m5.1 0h0m.7 0h0m-2.4.1h0m-11.7.1h0m-6 .2h0m4.4 0h0m3.1 0h0m-2 .1h0m10.6 0h0m-5 .1h0m5.2 0h0m-3.7.1h0m-1 .1h0m3.3 0h0m-8.9.1h0m.1 0h0m13.4 0h0m-13.8.2h0m12.2 0h0m-17.5.2h0m2.7 0h0m11.5 0h0m3.3 0h0m-18.7.1h0m13.1 0h0m.1 0h0m-3.5.1h0m9.9 0h0m-4.8.1h0m7.6 0h0m-18.8.1h0m9.1 0h0m1.5 0h0m7.3 0h0m-20.6.2h0m7.2 0h0m-8.6.1h0m5 0h0m2.1 0h0m9.5 0h0m6 0h0m-1.3.1h0m-12.3.1h0m1.5 0h0m5.2 0h0m5.7 0h0m-17.3.2h0m5.8.1h0m-8 .1h0m9.2 0h0m4.3 0h0m2 0h0m2.3 0h0m-7.4.1h0m6.6 0h0m3.1 0h0m-21.1.1h0m1.2 0h0m1.4 0h0m7.5 0h0m1 .1h0m4.7 0h0m3.2 0h0m-18.7.1h0m-.1.1h0m18.7 0h0m-10.6.1h0m8.4 0h0m-9.2.1h0m2.5 0h0m.6 0h0m.3 0h0m-4 .1h0m10.6 0h0m1.9 0h0m-8 .1h0m7 .1h0m-17.4.1h0m11.9 0h0m1 0h0m-12.8.1h0m2.7 0h0m13 0h0m4.4 0h0m-7.6.1h0m-14.1.1h0m.1.1h0m19 0h0m1.4 0h0m-13 .1h0m12.6 0h0m-11.3.1h0m-7 .1h0m6.7 0h0m-3 .1h0m5.3 0h0m-9.2.1h0m3.1 0h0m10.5 0h0m.2 0h0m-8.4.1h0m5.1 0h0m-4.3.1h0m2.8 0h0m.6 0h0m-8.4.1h0m6 0h0m2.8 0h0m5.9 0h0m4.7 0h0m-8.2.1h0m-14.2.1h0m10.6 0h0m3.6 0h0m7.7 0h0m-17.1.1h0m1.5 0h0m.7 0h0m4.3 0h0m3.8 0h0m7.3 0h0m-15.9.1h0m3.8 0h0m3.3 0h0m1.7 0h0m-15.2.1h0m11.4 0h0m-8.9.1h0m7.6 0h0m8 .1h0m.9 0h0m.4 0h0m-16.2.1h0m.4 0h0m9.7 0h0m2.6 0h0m-8.7.1h0m4 0h0m0 .1h0m2.8 0h0m-13.1.1h0m3 0h0m10.6 0h0m3 0h0m-12.4.1h0m13.5 0h0m3 0h0m-12.3.1h0m3.9 0h0m7.5 0h0m-20.3.1h0m6.7 0h0m1.8 0h0m4.6 0h0m2.6 0h0m-12.1.1h0m1 0h0m6.6 0h0m.6 0h0m5.6 0h0m-18.6.1h0m1.4 0h0m2.7 0h0m4.6 0h0m.1 0h0m8.7 0h0m-12.5.1h0m5.6 0h0m7.8 0h0m-5.4.1h0m.2 0h0m-11.3.1h0m18 0h0m2.6 0h0m-4 .1h0m-5.2.1h0m3.9 0h0m1.3 0h0m3.2 0h0m-15.3.1h0m13.9.1h0m-5.1.1h0m-11.8.1h0m3.9 0h0m8.4 0h0m2.8 0h0m3.5 0h0m-16.8.1h0m9.1 0h0m-4.1.1h0m9.3 0h0m-17.9.1h0m2.6 0h0m5.7 0h0m8.9 0h0m-8.2.1h0m0 0h0m4.3 0h0m-8.5.1h0m9 .1h0m5.7 0h0m-19.3.1h0m2.9 0h0m9.5 0h0m.9 0h0m-9.3.1h0m-4.5.1h0m1.5 0h0m10.1 0h0m6 0h0m-18.6.2h0m.1 0h0m1.1 0h0m.2 0h0m.5 0h0m1.4 0h0m.1 0h0m.1 0h0m.5 0h0m1 0h0m5.2 0h0m.1 0h0m.1 0h0m1.2 0h0m.5 0h0m.6 0h0m.4 0h0m.3 0h0m.4 0h0m.1 0h0m.7 0h0m.7 0h0m.7 0h0m.2 0h0m.7 0h0m.1 0h0m.2 0h0m1.9 0h0m0 0h0m.7 0h0m.4 0h0m1.5 0h0m.4 0h0m.6 0h0m.4 0h0m-13.4.1h0m4.1 0h0m1.9.1h0m3.8 0h0m-7.7.3h0m.2 0h0m-4.6.1h0m15.7 0h0m-20.6.1h0m5.7.1h0m3.4 0h0m1.3 0h0m6.6 0h0m.9 0h0m-13.8.1h0m12.6 0h0m1 0h0m-13.1.1h0m.2 0h0m3.6 0h0m2.9 0h0m4.7 0h0m-18.6.1h0m3.1 0h0m10.5.1h0m-12.9.1h0m3.1.1h0m8.9 0h0m7.3 0h0m3.1 0h0m-4.7.1h0m1.8 0h0m1.7 0h0m-19.3.1h0m12.3 0h0m.3 0h0m-13.3.1h0m.1 0h0m1.8 0h0m3 0h0m4.7 0h0m-9.9.1h0m1.3 0h0m6.4 0h0m10 0h0m1.6 0h0m.7 0h0m-9.5.1h0m.6.1h0m9.7 0h0m-.1.1h0m-13.1.1h0m-5.2.2h0m6.2 0h0m5.7 0h0m2.6 0h0m4.7 0h0m-11.7.1h0m5.1 0h0m.1 0h0m6.5 0h0m-19.2.2h0m1.8 0h0m3.2 0h0m-.5.1h0m12 0h0m-11.1.2h0m.7 0h0m1.5 0h0m-6.2.1h0m8.3 0h0m3 0h0m.8 0h0m-12 .1h0m11.6 0h0m3.1 0h0m-6.9.2h0m9 0h0m.2 0h0m-14.2.1h0m14.8 0h0m-20.7.1h0m16 0h0m3.5 0h0m-17.4.1h0m4.3 0h0m11.7 0h0m-11.6.1h0m8.5 0h0m-10.6.1h0m2.1 0h0m1.1 0h0m6.1 0h0m-10.8.1h0m-3.9.1h0m4.5 0h0m.3 0h0m4.1.1h0m1.7 0h0m9.4 0h0m-16.8.1h0m1.5 0h0m1.7 0h0m7.3 0h0m-11.1.2h0m5.1 0h0m.2 0h0m2.3 0h0m.3 0h0m9.6 0h0m-11.6.1h0m-8.6.1h0m5.3 0h0m16.4 0h0m-19.4.1h0m4.9 0h0m-4.4.1h0m11.1 0h0m-4.6.1h0m7.8 0h0m4.5 0h0m-22.9.1h0m1.7 0h0m6.8 0h0m.9 0h0m1.8 0h0m5.6 0h0m-.9.1h0m.3 0h0m-6.5.1h0m12.3 0h0m-20.3.1h0m6.4.2h0m11.9 0h0m-19.5.1h0m5.2 0h0m15.2 0h0m1.6 0h0m.3 0h0m.3 0h0m-21.1.1h0m8.1 0h0m2.2 0h0m-3.8.1h0m9.1 0h0m-9 .1h0m8.7 0h0m2.4 0h0m.7 0h0m2.2 0h0m-2.1.1h0m2.5 0h0m-20 .1h0m11.5 0h0m-10.3.1h0m15.3 0h0m-19.5.1h0m10.2 0h0m7.9 0h0m3.6 0h0m-16.9.1h0m6.1 0h0m.7 0h0m.8 0h0m4.2 0h0m5.2 0h0m-15.9.1h0m-5.2.1h0m14.7 0h0m.2 0h0m-11.5.1h0m2 0h0m4 .1h0m9.2.1h0m0 0h0m-16.2.1h0m1.8 0h0m-4.3.1h0m3.4 0h0m14.9 0h0m1.6 0h0m-19.4.1h0m2.4 0h0m10.1 0h0m2.4 0h0m-8.3.1h0m3.9 0h0m-8.4.1h0m3.9 0h0m2.8 0h0m12.3.2h0m-13.4.1h0m1.7 0h0m2.2 0h0m3.4 0h0m2 .1h0m2.8 0h0m-20.8.2h0m7.6 0h0m4 0h0m2.5 0h0m-14.4.1h0m21.2 0h0m2.2 0h0m-22.2.1h0m2.5 0h0m2.2 0h0m12.2 0h0m-12.3.1h0m4.7 0h0m3.7 0h0m-10.3.1h0m-2.9.1h0m15.6.1h0m.5 0h0m.8 0h0m-10 .1h0m-5.5.1h0m.7 0h0m.4 0h0m.2 0h0m3.8 0h0m3.2 0h0m.5 0h0m2.3 0h0m3.9 0h0m3 0h0m1.8 0h0m.9 0h0m-18.2.1h0m4.6 0h0m3.3 0h0m-1.6.1h0m10.2 0h0m-11.3.1h0m9.4 0h0m.1 0h0m-3.7.1h0m.4 0h0m.4 0h0m-15 .1h0m7.9 0h0m9.8 0h0m-6.3.1h0m8.8 0h0m-11.1.1h0m8.4 0h0m-19 .1h0m12.9 0h0m1.8 0h0m3.3 0h0m1.6 0h0m-2 .1h0m-16.7.1h0m2.4 0h0m5.9 0h0m5.5 0h0m-1.5.1h0m6.8 0h0m-16.9.1h0m8 0h0m3.1 0h0m-12.8.1h0m15.4 0h0m-4.6.1h0m4.8 0h0m-11.6.1h0m10.3 0h0m-5.9.3h0m7.3 0h0m5.5 0h0m-8.5.1h0m7.7 0h0m-13.8.1h0m9.7 0h0m-8.5.1h0m1.7 0h0m11 0h0m-12.9.1h0m.2 0h0m4.3 0h0m9.1 0h0m-22.7.1h0m18 0h0m.5 0h0m-15.8.1h0m15.5 0h0m-14.8.1h0m8.8 0h0m2.4 0h0m5.3 0h0m1.6 0h0m1.1 0h0m-15.7.1h0m1.6 0h0m6.2 0h0m6.4 0h0m1.5 0h0m-5.3.1h0m-14.2.1h0m8.2 0h0m5.6 0h0m5.6 0h0m-5.3.1h0m3.8 0h0m-11.5.1h0m2.7 0h0m6.2 0h0m2.9 0h0m-16 .1h0m10.8 0h0m.2 0h0m5.8 0h0m-20.1.1h0m3.3 0h0m.2.1h0m.6 0h0m-5.6.1h0m10.4.1h0m.6 0h0m11.2.1h0m-22.5.1h0m15.5 0h0m-13.3.1h0m21 0h0m-21 .1h0m2 .2h0m2.9 0h0m2.5 0h0m11.2 0h0m-13.4.1h0m3.9 0h0m8.1 0h0m-14.3.1h0m7.1 0h0m2.3 0h0m-11.4.1h0m.7 0h0m10.4 0h0m-1.5.1h0m-12.9.1h0m19.8 0h0m3.1 0h0m-19.9.1h0m5.8 0h0m2 0h0m4.5 0h0m.2 0h0m4.5.1h0m-19.5.1h0m.1 0h0m.7 0h0m5.2 0h0m6.9 0h0m2.3 0h0m.5 0h0m-14.1.1h0m.7 0h0m13.3 0h0m-10 .1h0m1.1 0h0m4.3 0h0m10.8.1h0m-19 .1h0m7.9 0h0m2.7 0h0m.8 0h0m-9.7.1h0m16 0h0m.8 0h0m-10.6.1h0m8.6 0h0m1.3 0h0m-12 .1h0m6.1 0h0m-14.6.1h0m7.1 0h0m.9.1h0m4.4 0h0m2.9 0h0m-1.6.3h0m-13.7.1h0m1.5 0h0m15.3 0h0m4.9 0h0m-22.4.1h0m.2.1h0m11.2 0h0m4.7 0h0m-14.2.1h0m9 0h0m3 0h0m8.4 0h0m-20.7.1h0m7.9 0h0m4.8 0h0m-9.8.1h0m12.9 0h0m3.6 0h0m.4 0h0m1.2 0h0m.8 0h0m-17.1.1h0m11.8 0h0m4.1 0h0m-21 .4h0m9.8 0h0m-10.3.1h0m11.7 0h0m-11.9.1h0m6.2 0h0m4.6.1h0m1.4 0h0m-10.3.1h0m6.6 0h0m.1 0h0m9.1 0h0m.1.2h0m4.5 0h0m-13.4.1h0m7.5 0h0m3.8 0h0m.9 0h0m1 0h0m-22.3.1h0m8.7 0h0m6 0h0m5.1 0h0m-.7.1h0m-14.3.2h0m-2.4.1h0m12.6 0h0m1.7.1h0m6 0h0m-19.6.1h0m.5 0h0m.6 0h0m.8 0h0m5.5 0h0m4.6 0h0m.7 0h0m1.5 0h0m2 0h0m2 0h0m-11.3.1h0m-4.7.1h0m7 0h0m-10.9.1h0m13.4 0h0m6.9 0h0m-18.9.1h0m6.4 0h0m3.2 0h0m7.8 0h0m.6.1h0m-19.2.1h0m3.8.1h0m5.3.1h0m10.1 0h0m2 .1h0m-19.1.1h0m4.8 0h0m12.4 0h0m-18.2.1h0m1.5 0h0m6.7 0h0m2.2 0h0m-8.4.2h0m2.4 0h0m.6 0h0m8.5 0h0m2.4 0h0m3.4 0h0m-20.6.1h0m7.3 0h0m12.5.1h0m.2 0h0m-16.2.1h0m5.1 0h0m1.4 0h0m10 0h0m-12.4.1h0m2.2 0h0m3.7 0h0m.7 0h0m1.6 0h0m-10.3.1h0m2.4 0h0m2 0h0m3.7 0h0m6.1 0h0m-20.4.1h0m8.3 0h0m8.5 0h0m-15.3.2h0m6.6 0h0m8.9.1h0m3.4 0h0m-14.3.1h0m-1.9.1h0m4.4 0h0m1.2 0h0m6.4 0h0m-13.8.1h0m6.7 0h0m10.7 0h0m-1.6.1h0m-15.1.1h0m10.8 0h0m-13 .1h0m20.5 0h0m-17.7.1h0m11.9 0h0m-11.7.1h0m6.2 0h0m9.2 0h0m-14.3.1h0m5 0h0m6.3 0h0m-7.1.1h0m5.7 0h0m4.4 0h0m-16.9.1h0m9.2 0h0m.3 0h0m-12.2.1h0m2.4 0h0m8.8 0h0m6.8 0h0m-16.7.1h0m.3 0h0m.3 0h0m6.6 0h0m-5.8.2h0m9.4 0h0m8.9 0h0m-18.2.1h0m6.5 0h0m4.7.1h0m-8.1.1h0m-6.9.2h0m16.1 0h0m1.2 0h0m-16 .1h0m7.4 0h0m11.6 0h0m-13.9.1h0m12.7 0h0m-16.5.1h0m9.8 0h0m9.9.1h0m-18.5.1h0m15.2 0h0m3.5 0h0m.2 0h0m-17 .1h0m9.7 0h0m2.7 0h0m4.8 0h0m-8.9.1h0m-2 .1h0m7.8 0h0m2.2 0h0m-20 .1h0m11.5 0h0m-4.2.1h0m3.3 0h0m6.4 0h0m2.1 0h0m.8 0h0m-21.9.1h0m5.9 0h0m16.9.1h0m-20.3.1h0m15.5 0h0m1.2 0h0m-10.6.3h0m.3 0h0m10.6.1h0m-11.1.1h0m6.2.1h0m-14.4.1h0m0 0h0m.2 0h0m.1 0h0m.5 0h0m.5 0h0m.2 0h0m0 0h0m.9 0h0m.5 0h0m0 0h0m.5 0h0m.5 0h0m0 0h0m.2 0h0m.6 0h0m.3 0h0m.2 0h0m.7 0h0m1.3 0h0m1.9 0h0m.9 0h0m.2 0h0m.1 0h0m.3 0h0m.2 0h0m.2 0h0m0 0h0m.2 0h0m.4 0h0m.4 0h0m.4 0h0m.4 0h0m.1 0h0m.4 0h0m.4 0h0m.3 0h0m.1 0h0m.3 0h0m.5 0h0m.5 0h0m.1 0h0m0 0h0m1.3 0h0m0 0h0m.8 0h0m.1 0h0m0 0h0m.4 0h0m.1 0h0m.7 0h0m.3 0h0m.1 0h0m.4 0h0m.2 0h0m1.3 0h0m.3 0h0m.1 0h0m.2 0h0m.2 0h0m.2 0h0m.2 0h0m.2 0h0m.1 0h0m.3 0h0m-11.4.1h0m-10.1.2h0m2.9 0h0m.9 0h0m5.8 0h0m-7.2.1h0m5.8 0h0m3.4 0h0m-6.8.2h0m-4.4.2h0m11.5 0h0m7.1.1h0m-19.3.1h0m2.6 0h0m8 0h0m-7.6.2h0m6.2 0h0m2.4 0h0m-9.5.1h0m13.4.2h0m.1.1h0m4.6 0h0m-9.2.1h0m5.4 0h0m-10.8.1h0m-2.5.1h0m14.8 0h0m-19.3.1h0m3.7 0h0m-.6.1h0m3.5 0h0m8.2 0h0m-14.3.1h0m8 .1h0m11.7 0h0m1.8 0h0m-18.4.1h0m3.3 0h0m5.4 0h0m-6.2.1h0m3.3 0h0m8.7 0h0m2.4 0h0m.8 0h0m-19.4.1h0m2.3.1h0m9.9 0h0m-10.8.2h0m.6 0h0m6 0h0m2.3 0h0m3.9 0h0m6.8 0h0m-18.9.1h0m5.5 0h0m9.2.1h0m.2 0h0m4.4 0h0m-23.4.1h0m21.1 0h0m1.8 0h0m-10.2.1h0m2.2 0h0m5.6 0h0m-14.8.1h0m.7 0h0m10.6 0h0m-7.1.1h0m9.7 0h0m1.4 0h0m-9.3.1h0m-3.3.2h0m14.5.1h0m-16.7.1h0m5.2.1h0m.4 0h0m7.8 0h0m3.3 0h0m-18 .1h0m16.8 0h0m-16.5.2h0m1.3 0h0m12 0h0m2.3 0h0m-14.2.1h0m1.7 0h0m3.8 0h0m.7 0h0m6.2 0h0m-15.4.1h0m19.9 0h0m-6.5.1h0m4.5 0h0m-15.3.1h0m.4 0h0m.5 0h0m8.9 0h0m5.7 0h0m-.2.1h0m-8.9.1h0m-10 .1h0m4.3 0h0m1.2 0h0m5.8 0h0m-1.9.1h0m.8 0h0m-4.3.1h0m6.1 0h0m-10.7.2h0m9 0h0m.8 0h0m7.7 0h0m-5.9.1h0m-12.2.2h0m.3 0h0m4.8 0h0m.4 0h0m14.2 0h0m-21.3.1h0m4.3 0h0m13.8 0h0m.3 0h0m-17.5.1h0m7.5 0h0m1.7 0h0m5.7 0h0m.8 0h0m-6.1.2h0m11.2 0h0m-22.1.1h0m2.7 0h0m8.9 0h0m3.4 0h0m-12.6.1h0m7.6 0h0m2.4 0h0m4.1 0h0m-12.7.1h0m6.9 0h0m.3 0h0m6.8 0h0m-8.4.1h0m5 0h0m6.8 0h0m-19.2.1h0m11.7 0h0m-3.2.1h0m-9.4.1h0m16.6 0h0m-13.6.1h0m1.5 0h0m-3.4.1h0m2.5 0h0m4.1 0h0m8 .1h0m-15.2.1h0m-1.9.1h0m5.4 0h0m6.6 0h0m8.6.1h0m-12.5.1h0m-8 .1h0m1.5 0h0m-1.8.1h0m6.7 0h0m14.9 0h0m-5.4.1h0m-14.7.1h0m.6 0h0m7.4 0h0m4.8 0h0m-4 .1h0m6.6 0h0m.7 0h0m1.8.1h0m-9.4.1h0m.5 0h0m-8.8.1h0m19.9 0h0m0 0h0m-14.4.1h0m14.5 0h0m.4 0h0m.5 0h0m-13.2.1h0m9.9 0h0m2.5 0h0m-11 .1h0m-10.5.1h0m11.7 0h0m3.7 0h0m-5.4.1h0m1.6 0h0m2.9 0h0m-14.1.1h0m6.5 0h0m3.5 0h0m-11.4.1h0m1.3 0h0m8.3 0h0m9.9 0h0m-13.6.1h0m3.4 0h0m7.3 0h0m5 0h0m-19.6.2h0m7.1 0h0m5.5 0h0m2.2 0h0m-13.8.1h0m8.2 0h0m-5.2.1h0m.4 0h0m3.3 0h0m3.3 0h0m-12 .1h0m9.7.1h0m2.7 0h0m1.3 0h0m-12.3.1h0m19.7 0h0m-19.8.1h0m11.6 0h0m2.8 0h0m3.5.1h0m-4.5.1h0m1.1 0h0m3.8 0h0m-12.8.1h0m-7.5.1h0m7.9 0h0m1.7 0h0m-1.8.1h0m.9 0h0m9.6 0h0m3.4 0h0m.3 0h0m-22.3.1h0m10.8 0h0m10.2 0h0m.3 0h0m1.1 0h0m-15.6.1h0m8.5 0h0m-10.7.1h0m-.3.1h0m2.6 0h0m1.1.1h0m10.1 0h0m-16.2.1h0m1.5 0h0m3.3.1h0m6.5 0h0m-.4.1h0m3.5 0h0m3 0h0m1.3 0h0m-16.4.1h0m10.7 0h0m7.4 0h0m0 0h0m-8 .2h0m.5 0h0m-14.6.1h0m5 0h0m3.5 0h0m2.7 0h0m2.3 0h0m8 0h0m-17.1.1h0m18.2 0h0m-21.9.1h0m.2 0h0m2.1 0h0m1.2 0h0m4.5 0h0m1.9 0h0m4.1 0h0m4.3 0h0m1.8 0h0m.4 0h0m.6 0h0m.8 0h0m-19.5.1h0m11.7 0h0m.1 0h0m1.2 0h0m-14.3.1h0m11 .1h0m4.3 0h0m1 0h0m-18.3.1h0m5.9.1h0m5.4 0h0m7.3 0h0m.4 0h0m-18.1.1h0m4.4.1h0m5.6 0h0m-5.2.1h0m17.3 0h0m-21.7.2h0m2.1 0h0m3.9 0h0m8.8 0h0m1.6 0h0m-10.7.1h0m6 0h0m6.2 0h0m-11.1.1h0m2 0h0m3.7 0h0m.3 0h0m1 0h0m6.2.1h0m-19.7.1h0m3.8 0h0m3.5.2h0m-9.1.1h0m11.7 0h0m6.9.1h0m-13.8.1h0m1.4 0h0m13.5 0h0m-15.8.1h0m14.4 0h0m1.3.1h0m-17 .1h0m16.2 0h0m-.8.1h0m2.2.1h0m.8 0h0m-7.9.1h0m.5 0h0m1.8 0h0m4.2 0h0m-18 .1h0m1.6 0h0m5.5 0h0m8.6 0h0m1.4 0h0m1.7.1h0m-18.3.1h0m3.2 0h0m.9 0h0m2.2 0h0m10.9 0h0m-5.4.1h0m6.6 0h0m-12.3.1h0m4.5 0h0m-11.5.1h0m14.9.1h0m5.8 0h0m-21.6.1h0m9.4 0h0m10.2 0h0m-11.4.1h0m.9.1h0m1.4 0h0m5 0h0m6.4 0h0m-1.7.2h0m2.1 0h0m-11.5.1h0m-.8.1h0m.7 0h0m6.5 0h0m-13.8.1h0m14.6 0h0m4.9 0h0m.1.1h0m-21.1.2h0m1.5 0h0m2.3 0h0m12.9 0h0m-6.7.1h0m6.5 0h0m-13.4.1h0m1.5 0h0m4.8 0h0m.5 0h0m8.7.1h0m-20.2.1h0m10.4 0h0m5.6 0h0m6.4 0h0m-16.8.1h0m1.7 0h0m4.9 0h0m8.5 0h0m-17 .1h0m13.1 0h0m3.2 0h0m.5.1h0m2.4 0h0m-22.2.1h0m.8 0h0m.8 0h0m3 0h0m.3 0h0m.8 0h0m1.1 0h0m.5 0h0m.9 0h0m3.5 0h0m4.4 0h0m2.6 0h0m.7.2h0m-16.2.1h0m4.2 0h0m-4.7.1h0m14.2 0h0m-3.2.1h0m-6.6.1h0m9.4 0h0m-16.6.1h0m19.4 0h0m-18.7.2h0m13.3 0h0m5.9 0h0m.7 0h0m-13.3.1h0m6.2 0h0m7.2 0h0m-19 .1h0m6.1 0h0m-9 .2h0m2.1 0h0m13.2 0h0m2.2 0h0m3.6 0h0m-6.4.1h0m1.8 0h0m-10.7.1h0m4.4 0h0m3.6.1h0m1.4 0h0m6.1 0h0m.7 0h0m-19.6.1h0m2.9 0h0m4.7 0h0m.4 0h0m6 0h0m5.6 0h0m-17.5.1h0m.1 0h0m1.8 0h0m3.6 0h0m3.5 0h0m7.2 0h0m.1 0h0m-4 .1h0m5.7 0h0m-6.1.1h0m-12.6.1h0m1.4 0h0m16 .1h0m1.8 0h0m-17.4.2h0m3 0h0m14.8 0h0m-.2.1h0m-23.2.1h0m7.3 0h0m4.4 0h0m7 0h0m1.1 0h0m-19.4.1h0m23.1 0h0m-7.5.1h0m7.2 0h0m-19.2.1h0m0 0h0m4.2 0h0m.1 0h0m3 0h0m9.4 0h0m-17.4.1h0m2.2 0h0m5.3.1h0m1.1 0h0m2.7 0h0m8.5 0h0m-22.4.1h0m3.6 0h0m1.9 0h0m8.8 0h0m.5.1h0m2.6 0h0m-16.1.1h0m.8 0h0m6.8 0h0m-2.2.2h0m12.3 0h0m-9.6.2h0m-7.7.1h0m.5 0h0m12.9 0h0m-14.8.1h0m5.9 0h0m3.2 0h0m7.9 0h0m3.1 0h0m-16 .1h0m2.6 0h0m4 0h0m.4 0h0m2.3 0h0m4 0h0m-16.6.1h0m12.7.1h0m4.6 0h0m-17.1.1h0m8.9 0h0m5.1 0h0m-14.1.1h0m3.4 0h0m2.1 0h0m-7.1.1h0m18.4.2h0m1.7 0h0m-18.6.1h0m7.5 0h0m-6.1.1h0m10.2 0h0m1.2 0h0m-9.5.1h0m6 0h0m4.2.1h0m.4 0h0m-12.4.1h0m13.1 0h0m2.4 0h0m-17 .1h0m14.1 0h0m-1.6.1h0m2.5 0h0m2.5 0h0m3.5 0h0m-14.1.1h0m.3 0h0m3.3 0h0m-5.4.1h0m4.7 0h0m-11.6.1h0m11.1 0h0m4.4 0h0m-7.2.1h0m6 0h0m6 0h0m-9.6.1h0m10.9 0h0m-20.2.1h0m1.3 0h0m4.6 0h0m-3.8.1h0m1.7 0h0m17.9 0h0m.2 0h0m-1.7.1h0m.8 0h0m.5 0h0m-17.9.1h0m4.3 0h0m-2.1.1h0m15.2 0h0m-21.2.2h0m11.8 0h0m1.9 0h0m1.1 0h0m-.7.1h0m-11.8.1h0m10.2 0h0m4.3 0h0m-10.2.1h0m8.6 0h0m-11.1.1h0m4.7 0h0m-8.4.1h0m4.8 0h0m3.9 0h0m9.8 0h0m-1.9.1h0m1.6 0h0m-9.5.3h0m10.6 0h0m-17.5.1h0m.7 0h0m2 0h0m9.4 0h0m-15.4.1h0m3.9 0h0m7.9 0h0m-6.9.1h0m.3 0h0m6.8 0h0m1.8 0h0m-11.3.1h0m8.3 0h0m7.7 0h0m4.3 0h0m-20.8.1h0m7.2 0h0m2 0h0m-8.3.1h0m7.8 0h0m-2.8.1h0m7.9 0h0m3.6 0h0m-12.8.1h0m14.5 0h0m1.7 0h0m-18.6.2h0m11.7 0h0m-7.1.1h0m7.9 0h0m.1 0h0m.3 0h0m.6 0h0m-17.2.1h0m22 0h0m.8 0h0m-17.2.1h0m3.5 0h0m6.9 0h0m-2.6.1h0m9.4 0h0m-4.3.1h0m.3 0h0m-15.5.1h0m1.1 0h0m16.8 0h0m-13.6.1h0m.6.1h0m4.7 0h0m.8 0h0m6.2 0h0m-18.5.1h0m3 0h0m16 0h0m-9 .1h0m-3.6.1h0m14.2 0h0m-22.5.1h0m23.5 0h0m-14.8.1h0m2.4 0h0m4.3 0h0m2 0h0m4.1 0h0m-15.1.1h0m1.1 0h0m-6 .1h0m14.2 0h0m-15.5.1h0m.8 0h0m5.5 0h0m10.4.1h0m4.6 0h0m-20.1.1h0m21.3 0h0m-22.5.1h0m3.6 0h0m2.1 0h0m2.2 0h0m4 .1h0m7.8 0h0m2 0h0m-21.3.1h0m6.6 0h0m15.1 0h0m-15.1.1h0m-5.6.1h0m11.7 0h0m1.3.1h0m2 0h0m1.7 0h0m2.3 0h0m2.3 0h0m-22.5.1h0m10.6 0h0m9.2 0h0m-7.6.1h0m.8 0h0m-13.4.1h0m5.3 0h0m8.5 0h0m-12.8.1h0m1.9 0h0m4.2 0h0m2.1 0h0m4.6 0h0m7.8 0h0m-17.8.1h0m.3 0h0m3.6 0h0m14.5 0h0m-18.3.1h0m3.2 0h0m10.3 0h0m-1.9.1h0m-13.6.1h0m1.6 0h0m15.7 0h0m-3.5.1h0m-14.6.1h0m.5 0h0m1.6 0h0m4.3 0h0m-5.3.1h0m-.3.1h0m10.3.1h0m.5 0h0m10.1 0h0m-2.2.1h0m-12.1.1h0m8.8 0h0m.6 0h0m0 0h0m3.2 0h0m-19.6.1h0m7.5 0h0m-8 .1h0m.1 0h0m.5 0h0m.6 0h0m.7 0h0m.1 0h0m.3 0h0m.1 0h0m.2 0h0m.6 0h0m.6 0h0m.2 0h0m.3 0h0m1.8 0h0m.9 0h0m.1 0h0m.4 0h0m.2 0h0m0 0h0m.7 0h0m.1 0h0m.3 0h0m.9 0h0m.5 0h0m.3 0h0m.4 0h0m1.3 0h0m.2 0h0m2.1 0h0m.9 0h0m0 0h0m.5 0h0m0 0h0m.1 0h0m.1 0h0m.7 0h0m.2 0h0m.3 0h0m.7 0h0m.5 0h0m.8 0h0m2.2 0h0m.7 0h0m-5.3.1h0m1.6 0h0m2.3 0h0m-20.2.1h0m17 0h0m1 .1h0m3.7 0h0m-17.7.1h0m16.7.1h0m-6.2.1h0m-14.1.2h0m-1.6.1h0m4.4 0h0m3.5 0h0m2 0h0m7.5 0h0m5.5 0h0m-20.7.1h0m19.4 0h0m.1 0h0m-21.3.1h0m6.7 0h0m-4.5.1h0m.4 0h0m2.6.1h0m-1.8.1h0m.7 0h0m16.2 0h0m-13 .1h0m2.3 0h0m-9.4.1h0m.2 0h0m9 0h0m6.7 0h0m5.5 0h0m-3.4.1h0m.7 0h0m-4.8.2h0m-2.2.1h0m3.5 0h0m4.1 0h0m-6 .1h0m1.9 0h0m-11.3.1h0m.4 0h0m10 0h0m6.6 0h0m-14.3.1h0m6 .1h0m-11.9.1h0m14.3 0h0m-8.1.1h0m10.5 0h0m4.3 0h0m-19.8.1h0m2.9 0h0m-1 .1h0m4 0h0m-4.5.1h0m9 0h0m-4.2.1h0m.9 0h0m6.3 0h0m3.9 0h0m-15.4.1h0m3.9 0h0m.2 0h0m4.8 0h0m2.8 0h0m-11.9.1h0m7.9 0h0m1 0h0m-11.7.1h0m14.7 0h0m-16.4.1h0m9 0h0m1.3 0h0m11.2 0h0m-18.7.2h0m9.7 0h0m4.4 0h0m6 0h0m-19 .1h0m-.4.1h0m.3 0h0m1.4 0h0m2 0h0m8 0h0m6.2.1h0m-21.4.1h0m15 0h0m5 0h0m-19.7.1h0m6.1 0h0m11.5 0h0m2.4 0h0m-12.8.1h0m15.4 0h0m-3.2.1h0m1.8 0h0m-1 .1h0m-16.4.1h0m9.7 0h0m-12.7.1h0m19.2 0h0m-20 .1h0m3.3 0h0m18.2 0h0m-20.5.1h0m21 0h0m-20.6.1h0m18.7 0h0m2.4.1h0m-21.2.1h0m3.1 0h0m-4.8.1h0m16 0h0m4.5.1h0m1.1.1h0m-10.9.1h0m8.8 0h0m1.3 0h0m2.5.1h0m-18.6.1h0m13.3 0h0m-4.1.1h0m3 0h0m2 0h0m-18.1.1h0m7.5 0h0m3.3 0h0m.4 0h0m-11.5.1h0m9.5 0h0m9.5 0h0m-2.4.2h0m5.8 0h0m-14.7.1h0m9.5 0h0m2.1 0h0m-19.7.1h0m4.2 0h0m8.3 0h0m-10.7.1h0m12.6 0h0m7.4 0h0m-21.8.1h0m3.5 0h0m1.1 0h0m6.1 0h0m4.9 0h0m3.1 0h0m3.4 0h0m-18.7.1h0m3.7 0h0m.9 0h0m-1.3.1h0m.3.1h0m9.7 0h0m-16.2.1h0m12.9 0h0m10 0h0m-15.7.1h0m10.9 0h0m-9.7.1h0m10.3 0h0m2.7 0h0m-12.7.2h0m.8 0h0m.4 0h0m2.3 0h0m0 0h0m4.4.1h0m4 0h0m-19.7.1h0m4 0h0m14.3 0h0m-13.5.1h0m8.8 0h0m6.1 0h0m-5 .1h0m3.6 0h0m-18.3.1h0m18.2 0h0m-18.2.1h0m16.3 0h0m2.1 0h0m-11.4.1h0m14.7 0h0m-13.8.1h0m1.6 0h0m4.8 0h0m3.6 0h0m-16.6.1h0m1.3 0h0m1.8.1h0m2.5 0h0m0 0h0m10.3 0h0m4.4 0h0m-13.5.1h0m6.9 0h0m6.7 0h0m-22.3.1h0m1 0h0m14.4 0h0m1.1 0h0m-1.5.1h0m4.7 0h0m-10.7.1h0m2.4 0h0m3.2 0h0m-15.3.1h0m5.2 0h0m7.4 0h0m1 .1h0m1.2 0h0m3.4 0h0m3.1 0h0m-16.7.1h0m3 0h0m0 0h0m.3 0h0m.3 0h0m1.3 0h0m1.7 0h0m8.2 0h0m-18.4.1h0m7.2 0h0m10.4 0h0m3.2 0h0m1.6 0h0m-18.2.1h0m4.1 0h0m1.6 0h0m11.6 0h0m.8 0h0m-22.3.1h0m14.1 0h0m-14.9.1h0m5 0h0m9.5 0h0m8.6 0h0m-19.7.1h0m4.3 0h0m5.4 0h0m-8.4.1h0m4.5 0h0m5.4 0h0m.4 0h0m-15.4.1h0m4.2 0h0m3 0h0m1.7 0h0m5.2 0h0m2.8 0h0m.2 0h0m.3 0h0m2.1 0h0m.2 0h0m2.9 0h0m.8 0h0m-20.3.1h0m10.5 0h0m9.8 0h0m-19 .1h0m14.7 0h0m2.7 0h0m-5.3.1h0m-.7.1h0m7.4 0h0m-11.1.1h0m1.2.1h0m-11.3.1h0m.1 0h0m2 0h0m3.5 0h0m.4 0h0m5 0h0m6.1 0h0m-16.5.1h0m7.2 0h0m5 0h0m5.2.1h0m-16.1.1h0m7.7 0h0m11.9 0h0m-10.7.1h0m-.5.1h0m3.8 0h0m-10 .1h0m-5.5.1h0m1 0h0m1.9 0h0m-1.9.1h0m.6 0h0m15.6 0h0m2.8 0h0m2.7 0h0m-.8.1h0m-18.8.1h0m5.1 0h0m8.3 0h0m-9.4.1h0m3.3 0h0m-7.9.1h0m1.8 0h0m9.3 0h0m-13.7.1h0m8.2 0h0m10.5 0h0m4.4 0h0m-18.6.2h0m2.5 0h0m3.9 0h0m-9.4.1h0m16.1 0h0m2.9 0h0m-20.1.2h0m18.9 0h0m2.6 0h0m-16.5.1h0m5.2 0h0m-2.8.1h0m2.4 0h0m9.5 0h0m-15 .1h0m6.2 0h0m4.2 0h0m7.3 0h0m-21.9.1h0m2.8 0h0m12 0h0m2.6 0h0m.8 0h0m3.2 0h0m-16.6.1h0m7.7 0h0m-8.7.1h0m2.1 0h0m1.7 0h0m10.3 0h0m-17.6.1h0m1.4 0h0m20.1 0h0m-18 .1h0m.6 0h0m.4 0h0m1.2 0h0m1.1 0h0m11.4 0h0m-18.9.1h0m6.8 0h0m1.8 0h0m-.1.1h0m.1 0h0m1 0h0m7.7 0h0m4.8 0h0m-22.2.1h0m6.7 0h0m6.2 0h0m-10.2.1h0m7.5 0h0m1.6 0h0m-5.6.1h0m.7 0h0m-5.8.1h0m4 0h0m-4.7.1h0m3.9.1h0m1.6.1h0m8.8.1h0m1.8 0h0m.2 0h0m.6 0h0m1.6 0h0m-12.4.2h0m2 0h0m-8.8.1h0m9.9 0h0m2.4 0h0m1.3 0h0m9.6 0h0m-18.9.1h0m11.4 0h0m-13.4.1h0m3.2 0h0m2.3 0h0m5.9 0h0m1.2 0h0m-12.8.1h0m17.7 0h0m-11 .1h0m-7.1.1h0m.1 0h0m5.9 0h0m5.2 0h0m-11.2.1h0m4.5 0h0m3.1 0h0m1.9 0h0m9.7 0h0m-21.2.1h0m17.1.1h0m.1 0h0m3.5 0h0m-18.9.1h0m17.5 0h0m-14.3.1h0m-4.2.1h0m9.6.1h0m6.6 0h0m3.9 0h0m.5 0h0m-1.7.1h0m-16.6.1h0m.3 0h0m13 0h0m.9.1h0m2.8 0h0m1.4 0h0m-16 .1h0m0 0h0m1.1.1h0m.3 0h0m3 0h0m11.3 0h0m-6.7.1h0m-7.9.1h0m13.3 0h0m-6.8.1h0m2.3 0h0m-7.1.2h0m9.9 0h0m-17.5.1h0m4.9 0h0m1.5 0h0m.3 0h0m9.8 0h0m-12.5.1h0m1.4 0h0m16.1 0h0m1.4 0h0m-16.1.1h0m8.1 0h0m7.3 0h0m-12.8.1h0m10.4.1h0m-1.5.1h0m1.5 0h0m-15.8.1h0m3.4 0h0m-2.8.1h0m10.9 0h0m-7.8.1h0m-6.9.1h0m5.6 0h0m5.1 0h0m5.9 0h0m-17.5.1h0m1.2 0h0m.6 0h0m1.2 0h0m.2 0h0m1.3 0h0m0 0h0m1.7 0h0m2.2 0h0m1.5 0h0m.1 0h0m1.2 0h0m.1 0h0m.3 0h0m1.4 0h0m.1 0h0m.5 0h0m1.6 0h0m1.3 0h0m.9 0h0m1.2 0h0m.2 0h0m0 0h0m0 0h0m1.9 0h0m.6 0h0m1.3 0h0m.1 0h0m-1.7.1h0m-10.7.1h0m4.8.1h0m-9.9.1h0m1.2 0h0m15 0h0m-21.9.1h0m17 0h0m-11.2.1h0m6 0h0m2.1 0h0m6.8.1h0m-20.4.1h0m6.1 0h0m-3 .1h0m8.1 0h0m10.3 0h0m.8 0h0m-19.9.1h0m16 .1h0m2.6 0h0m-5.7.1h0m4.1 0h0m3.8 0h0m-23.5.1h0m5.9 0h0m6.9 0h0m9.8 0h0m-22.4.1h0m16.3 0h0m6 0h0m-19.3.1h0m6.1 0h0m5.4 0h0m.3 0h0m.6 0h0m-13.3.1h0m.5 0h0m19.7 0h0m-20.7.1h0m.9 0h0m1.9 0h0m1.4 0h0m6.6 0h0m.5 0h0m1.5 0h0m4.7 0h0m-19.2.1h0m12.8 0h0m1.5 0h0m-11.3.1h0m18 .1h0m-19.9.1h0m4.4 0h0m2.3 0h0m1.3 0h0m2.5 0h0m-8.8.1h0m13.1 0h0m3.2 0h0m-18.2.1h0m1.9 0h0m3 0h0m0 0h0m5.9 0h0m3 0h0m3.1 0h0m-17.9.1h0m2.8 0h0m1.2 0h0m5.2.1h0m6.7 0h0m1.4 0h0m3.3 0h0m1.2 0h0m-17.8.1h0m6.3 0h0m-6.7.1h0m9.7 0h0m7 0h0m.3 0h0m-11 .1h0m2.5 0h0m4.8 0h0m-16.3.1h0m6.4 0h0m3 0h0m9.3 0h0m-18.3.1h0m5.4 0h0m-1.1.1h0m7.7 0h0m9.1 0h0m-20.9.1h0m4 0h0m.7 0h0m8.2 0h0m4.6 0h0m-17.4.1h0m3.1 0h0m5.7 0h0m1.5 0h0m-7.4.1h0m8 0h0m2.2 0h0m4.3 0h0m1.2 0h0m-17.3.1h0m16.5.1h0m-9.1.1h0m1.1 0h0m.5 0h0m8.7 0h0m-16 .1h0m12.2 0h0m5.5 0h0m-18.2.1h0m9.3 0h0m-10.9.1h0m4.7 0h0m4.6 0h0m-8.2.1h0m5.2 0h0m14.9.1h0m-4.5.1h0m-16.4.1h0m9.8 0h0m1.3 0h0m.7 0h0m2 0h0m-6.9.1h0m11.5 0h0m-16.8.1h0m.7 0h0m7.1 0h0m3.3 0h0m4.5 0h0m1.1 0h0m-17.9.1h0m2.3 0h0m7 0h0m.5 0h0m1.7 0h0m-11.6.2h0m1.5 0h0m18.1 0h0m.7 0h0m-16.9.1h0m8.1 0h0m1.7 0h0m-13.2.1h0m1.9 0h0m5.2 0h0m12.1 0h0m-12.8.1h0m6.8 0h0m-10 .1h0m8 0h0m8.4 0h0m-18.1.2h0m3.7 0h0m3.6 0h0m1.8 0h0m6.9 0h0m-17.2.1h0m13.7 0h0m6.3 0h0m.2 0h0m-23.3.1h0m6.5 0h0m3.5 0h0m-7.4.1h0m15.4 0h0m4.6 0h0m-20.4.1h0m19.6 0h0m-17.5.1h0m.8 0h0m.6 0h0m.3 0h0m.2 0h0m11.3 0h0m2.2 0h0m2.3 0h0m-16.7.1h0m9.4 0h0m-7.8.1h0m3.5 0h0m6.1 0h0m1.1 0h0m.7 0h0m.2 0h0m-12.4.1h0m17 0h0m-12.5.1h0m1 0h0m-9.5.1h0m6.6 0h0m5.4 0h0m.1 0h0m.2 0h0m4.3 0h0m2.5 0h0m.1 0h0m-16.6.1h0m.5 0h0m5.3 0h0m8.1 0h0m-17.1.1h0m3 0h0m.6 0h0m8.7 0h0m2.4 0h0m1 0h0m-13.6.1h0m.5 0h0m3.2 0h0m9.3.1h0m1.7 0h0m3 0h0m2.1 0h0m-23.2.1h0m6 0h0m5.4 0h0m6.8 0h0m2.7 0h0m-16.4.1h0m.9 0h0m13.9 0h0m4 0h0m-17.1.1h0m15.1 0h0m-19.7.1h0m10.3 0h0m3.3 0h0m2.9 0h0m4.7 0h0m-16.6.1h0m1 0h0m1.7 0h0m6.4.1h0m4.2 0h0m-10.6.1h0m.8 0h0m4.6 0h0m4.1 0h0m-14.9.1h0m.1 0h0m-3.2.1h0m6.8 0h0m7.1 0h0m-8.8.1h0m5.8 0h0m5.6 0h0m-15 .1h0m6.4 0h0m9.1 0h0m1.9 0h0m.1 0h0m.6 0h0m-19.5.1h0m7.9 0h0m1.5 0h0m8.9 0h0m1.3 0h0m-9.2.1h0m.9 0h0m2.7 0h0m4.4.1h0m-3.1.1h0m3 0h0m-16 .1h0m19.5 0h0m-18.4.1h0m0 0h0m7.5 0h0m1.5 0h0m.1 0h0m-13.2.1h0m6.1 0h0m7.6 0h0m4.6 0h0m4.9 0h0m-15 .1h0m1.6 0h0m5.4 0h0m1.9 0h0m-14.4.1h0m4.1 0h0m0 0h0m5.6 0h0m1.4 0h0m7.4 0h0m0 0h0m1.3 0h0m-14.8.1h0m13.1 0h0m.5 0h0m1 .1h0m-14.6.1h0m4.9 0h0m1.7 0h0m2.4 0h0m-15.1.1h0m11.2 0h0m0 0h0m2.1 0h0m-13.3.1h0m12.6 0h0m2 0h0m6.4 0h0m-6.9.1h0m1.2 0h0m3.2 0h0m-19.1.1h0m8.2.1h0m1.7 0h0m1.6 0h0m-7 .1h0m0 0h0m.5 0h0m4.7 0h0m5.7 0h0m.2 0h0m2.4 0h0m2.8 0h0m-21.1.1h0m.4 0h0m9.3 0h0m5.9 0h0m.3 0h0m1.4 0h0m3.1 0h0m.1 0h0m2.4 0h0m-16.1.1h0m1.4 0h0m4.1 0h0m2 0h0m0 0h0m6.7 0h0m.3 0h0m1.6 0h0m-21.9.1h0m1.1 0h0m1.9 0h0m2.9 0h0m2.4 0h0m2.4 0h0m4.5 0h0m-13.9.1h0m.2 0h0m8 0h0m3.1 0h0m5.9 0h0m-2.9.1h0m-17 .2h0m7.6 0h0m5.2 0h0m-7.2.1h0m1.5 0h0m8.2 0h0m2.2 0h0m0 0h0m1.7 0h0m-18 .1h0m1 0h0m19.6 0h0m-17.1.1h0m10.7 0h0m.2 0h0m-7.4.1h0m1 0h0m1.8 0h0m7.2 0h0m-17.2.1h0m4.8 0h0m1.4 0h0m.6 0h0m4 0h0m5.7 0h0m-3.8.1h0m2.4 0h0m2.2 0h0m-18.1.1h0m12.5 0h0m10.2 0h0m-22.1.1h0m.5.1h0m5 0h0m12.9 0h0m-18.8.1h0m13.6 0h0m2.2 0h0m-13.6.1h0m2.9 0h0m16.6 0h0m-12.1.1h0m1.4 0h0m7.4 0h0m-16.5.1h0m-2.3.1h0m.5 0h0m.4 0h0m3.9 0h0m3.5 0h0m1.1 0h0m.1 0h0m1.2 0h0m5.8 0h0m.4 0h0m1.6 0h0m2.5 0h0m.3 0h0m.4 0h0m1.2 0h0m-20.7.1h0m2.2 0h0m5.4 0h0m3.9 0h0m8.4 0h0m-8.4.1h0m-12.9.1h0m4.3 0h0m3.2 0h0m13 0h0m-20.7.1h0m1.2 0h0m18.2 0h0m1.8 0h0m-10 .1h0m3.8 0h0m2.6 0h0m-2.7.2h0m6.6 0h0m-22.2.1h0m9.2 0h0m8.8 0h0m-15.5.1h0m8.4 0h0m.8 0h0m7.7.1h0m-15.9.1h0m7.4 0h0m5 0h0m-.8.1h0m6.9 0h0m-21 .1h0m-.6.1h0m.8 0h0m3.1 0h0m9.4 0h0m-7.8.1h0m5.4 0h0m3.6 0h0m2.8 0h0m4.8 0h0m-16.9.1h0m3.9 0h0m9.9 0h0m.1 0h0m.1 0h0m-12 .1h0m3.1 0h0m.7 0h0m2.3 0h0m3.3 0h0m-16.4.1h0m5 0h0m8.9 0h0m-6.4.1h0m1.3 0h0m8.4 0h0m3.5 0h0m-21.2.1h0m1.1 0h0m6.4 0h0m3.3 0h0m2.4 0h0m1.1 0h0m1.4 0h0m5.5 0h0m-12.2.1h0m3 0h0m2.4.1h0m6.7 0h0m1.8 0h0m-18.2.1h0m.6 0h0m9 0h0m2.1 0h0m-15.5.1h0m4.4 0h0m.8 0h0m1.3 0h0m.6 0h0m9.3 0h0m-14.3.1h0m.3 0h0m4.5 0h0m3.6 0h0m1.9 0h0m4.5 0h0m4.8 0h0m.6 0h0m-22.5.1h0m7.9 0h0m2.1 0h0m.9 0h0m7.7 0h0m1.2 0h0m-19.5.1h0m1.4 0h0m2.4.1h0m3.1 0h0m6.1 0h0m2.7 0h0m3.4 0h0m-18.8.1h0m1.9 0h0m.1 0h0m3.8 0h0m3.5 0h0m2 0h0m5 0h0m3.4 0h0m-17.6.1h0m.5 0h0m2.9 0h0m3.6 0h0m1.1 0h0m.7 0h0m1.1 0h0m7.6 0h0m-19.3.1h0m2.4 0h0m3.7 0h0m4 0h0m3.5 0h0m-15.5.1h0m8.1 0h0m7 0h0m6.2 0h0m-20.8.1h0m.5 0h0m1.4 0h0m.7 0h0m4.9 0h0m2 0h0m2.4 0h0m1 0h0m.9 0h0m4.3 0h0m3.6 0h0m-10.1.1h0m.1 0h0m5.7 0h0m-14.6.1h0m2.8 0h0m.2 0h0m2.9 0h0m-8.7.1h0m15.6 0h0m.5 0h0m.2 0h0m6.2 0h0m-22.3.1h0m6 0h0m3 0h0m3.9 0h0m-3.6.1h0m2.8 0h0m2.3 0h0m2 0h0m3.6 0h0m1.3 0h0m-13.7.1h0m4.2 0h0m1.6 0h0m1.1 0h0m7.8 0h0m-19 .1h0m10 0h0m2.4 0h0m4.7 0h0m.1 0h0m-20.3.1h0m10.2 0h0m2.2 0h0m1.1 0h0m3.9 0h0m4.3 0h0m.8 0h0m-18.3.1h0m3.3 0h0m1.3 0h0m2.3 0h0m5.9 0h0m5.6 0h0m-3 .1h0m.5 0h0m-20.3.1h0m13.1 0h0m2.6 0h0m3.2 0h0m2 0h0m.8 0h0m.6 0h0m-22.2.1h0m2.9 0h0m12.4 0h0m0 0h0m2.5 0h0m3.4 0h0m.6 0h0m-18.9.1h0m8 0h0m6.3 0h0m-16.7.1h0m.2 0h0m.1 0h0m3.8 0h0m9.2 0h0m5.3 0h0m-19.3.1h0m.5 0h0m8.7 0h0m10 0h0m-19.3.1h0m4.4 0h0m0 0h0m3.7 0h0m.9 0h0m1.6 0h0m9.2 0h0m.5 0h0m-18.3.1h0m.9 0h0m1.4 0h0m4.2 0h0m3.3 0h0m2.4 0h0m7 0h0m1 0h0m-22.1.1h0m8.9 0h0m1.3 0h0m6.1 0h0m-13.6.1h0m2.8 0h0m8.3 0h0m.9 0h0m-7.7.1h0m1.6 0h0m.4 0h0m3 0h0m.5 0h0m7.8 0h0m-17.2.1h0m1.3 0h0m.4 0h0m3.4 0h0m.4 0h0m.9 0h0m4.7 0h0m.3 0h0m2 0h0m0 0h0m5 0h0m-9.5.1h0m5.5 0h0m3 0h0m-5.8.1h0m1.6 0h0m2.5 0h0m-18 .1h0m.2 0h0m2.2 0h0m5 0h0m1.2 0h0m.7 0h0m.8 0h0m.6 0h0m2.2 0h0m5.6 0h0m-14.2.1h0m.2 0h0m.4 0h0m8.6 0h0m-5.9.1h0m5.3 0h0m1 0h0m-11 .1h0m5.4 0h0m10.4 0h0m-14.9.1h0m4.8 0h0m10.4 0h0m-15.3.1h0m1 0h0m-6 .1h0m9.5 0h0m2.5 0h0m6.1 0h0m2.8 0h0m1.1 0h0m.8 0h0m-22.4.1h0m1 0h0m3.9 0h0m.2 0h0m2.8 0h0m5.6 0h0m3.6 0h0m.2 0h0m1 0h0m4.2 0h0m-16 .1h0m2.8 0h0m4.9 0h0m5.5 0h0m1.4 0h0m-20 .1h0m6.9 0h0m.7 0h0m.6 0h0m1.8 0h0m2.2 0h0m4.4 0h0m-11.8.1h0m2.6 0h0m1.2 0h0m4.9 0h0m1.8 0h0m.9 0h0m1 0h0m2.4 0h0m-20.2.1h0m.3 0h0m2.2 0h0m1.1 0h0m0 0h0m1.6 0h0m.4 0h0m3.1 0h0m2.8 0h0m1.1 0h0m4.9 0h0m.5 0h0m-17.9.1h0m2.5 0h0m17 0h0m-10.5.1h0m1.3 0h0m.2 0h0m7.6 0h0m-16.4.1h0m6.1 0h0m1.1 0h0m1.6 0h0m6.9 0h0m.4 0h0m-16.5.1h0m5.5 0h0m1.3 0h0m1.4 0h0m-6.9.1h0m2 0h0m1.8 0h0m.3 0h0m.4 0h0m2.5 0h0m1.7 0h0m.1 0h0m8.6 0h0m-14.6.1h0m1 0h0m0 0h0m4.5 0h0m1.6 0h0m-3.4.1h0m.7 0h0m2.2 0h0m.3 0h0m10.1 0h0m-22.3.1h0m1.1 0h0m.7 0h0m1.5 0h0m.1 0h0m1.6 0h0m3.2 0h0m4.8 0h0m-8.3.1h0m4.2 0h0m.4 0h0m1.8 0h0m1.1 0h0m1.5 0h0m.5 0h0m5.3 0h0m.6 0h0m-15.4.1h0m1.9 0h0m.4 0h0m10.7 0h0m4.4 0h0m.2 0h0m-23.5.1h0m2.6 0h0m1.1 0h0m3.4 0h0m1.9 0h0m3 0h0m5.4 0h0m.1 0h0m2.8 0h0m.1 0h0m3.2 0h0m-20.2.1h0m5.1 0h0m3 0h0m7.5 0h0m.9 0h0m.1 0h0m3.1 0h0m-22.2.1h0m6.7 0h0m1.1 0h0m2 0h0m8 0h0m2.8 0h0m-14.5.1h0m8.3 0h0m2 0h0m3.9 0h0m-17.4.1h0m2.6 0h0m1.3 0h0m3.4 0h0m3.2 0h0m6.4 0h0m.9 0h0m.7 0h0m-20.9.1h0m4.4 0h0m2.2 0h0m6.3 0h0m4.3 0h0m.8 0h0m1.8 0h0m1.3 0h0m-17.3.1h0m2.3 0h0m.4 0h0m10.7 0h0m2.4 0h0m1.8 0h0m-15.7.1h0m6.7 0h0m1 0h0m2.4 0h0m-16.9.1h0m.5 0h0m9 0h0m4.3 0h0m3.8 0h0m2.2 0h0m.5 0h0m.7 0h0m1.1 0h0m1 0h0m-22.2.1h0m.7 0h0m6.5 0h0m5.9 0h0m3.1 0h0m.4 0h0m1.5 0h0m-13.8.1h0m.8 0h0m1 0h0m10 0h0m4.9 0h0m-16 .1h0m5.8 0h0m1.5 0h0m.4 0h0m1.8 0h0m5.1 0h0m.8 0h0m-21.7.1h0m6.5 0h0m1.2 0h0m.2 0h0m2.1 0h0m3.5 0h0m3.2 0h0m-12.2.1h0m10.5 0h0m5 0h0m-18.1.1h0m6 0h0m.5 0h0m0 0h0m2.9 0h0m.3 0h0m11.4 0h0m-16.8.1h0m4.9 0h0m3.3 0h0m1.2 0h0m1.1 0h0m3.4 0h0m.9 0h0m.6 0h0m1 0h0m-19.3.1h0m.8 0h0m.6 0h0m.2 0h0m7.3 0h0m2.3 0h0m.1 0h0m2.3 0h0m2.9 0h0m.2 0h0m.3 0h0m1.1 0h0m-20.4.1h0m3.3 0h0m.5 0h0m11.8 0h0m3.1 0h0m2.1 0h0m-21.4.1h0m.3 0h0m.6 0h0m8.5 0h0m4.2 0h0m-13.7.1h0m8.8 0h0m.3 0h0m1.1 0h0m2.4 0h0m.8 0h0m4.2 0h0m3.8 0h0m.8 0h0m-19.5.1h0m1.2 0h0m.2 0h0m0 0h0m4.8 0h0m.7 0h0m4 0h0m.3 0h0m.3 0h0m2 0h0m.4 0h0m-16.7.1h0m0 0h0m4.3 0h0m4.5 0h0m1.4 0h0m4.5 0h0m3.4 0h0m1.8 0h0m.5 0h0m.6 0h0m2.3 0h0m-23 .1h0m5.5 0h0m.1 0h0m.6 0h0m.9 0h0m1.9 0h0m.1 0h0m13.5 0h0m-18.3.1h0m5.8 0h0m5.8 0h0m3.6 0h0m-12.2.1h0m1.6 0h0m1.7 0h0m.7 0h0m-8.5.1h0m4.7 0h0m2.1 0h0m1.9 0h0m1.6 0h0m.9 0h0m1.4 0h0m.3 0h0m4.1 0h0m1.1 0h0m-21.2.1h0m.2 0h0m1.1 0h0m.3 0h0m3.6 0h0m3 0h0m1.2 0h0m.8 0h0m3.9 0h0m1.9 0h0m1.9 0h0m2.2 0h0m2.5 0h0m.2 0h0m-23 .1h0m2.3 0h0m.7 0h0m2.5 0h0m7.6 0h0m4 0h0m1.1 0h0m.4 0h0m.1 0h0m.6 0h0m1.1 0h0m-19.5.1h0m1.6 0h0m1.6 0h0m9.1 0h0m0 0h0m5.4 0h0m.1 0h0m.6 0h0m1.7 0h0m2.2 0h0m-19.4.1h0m.8 0h0m3.5 0h0m3.5 0h0m7.4 0h0m1.3 0h0m2.1 0h0m-21.7.1h0m.8 0h0m3.8 0h0m.9 0h0m3.5 0h0m.8 0h0m.1 0h0m.1 0h0m5.4 0h0m2.9 0h0m1.4 0h0m.3 0h0m1.6 0h0m-18.4.1h0m.8 0h0m1 0h0m.7 0h0m.8 0h0m4.3 0h0m4.5 0h0m4.1 0h0m3.5 0h0m-18.5.1h0m.3 0h0m4.9 0h0m1.1 0h0m1.4 0h0m2.6 0h0m0 0h0m3.3 0h0m1.6 0h0m1.7 0h0m-20 .1h0m1.4 0h0m.9 0h0m.1 0h0m7.7 0h0m0 0h0m2.7 0h0m2.1 0h0m.2 0h0m.5 0h0m1.9 0h0m2.8 0h0m-21.9.1h0m.2 0h0m1.9 0h0m1.6 0h0m7.5 0h0m2.6 0h0m.6 0h0m.7 0h0m1 0h0m1.8 0h0m.7 0h0m3.5 0h0m.1 0h0m-21.9.1h0m1.6 0h0m2.7 0h0m.1 0h0m3.9 0h0m1.9 0h0m1.6 0h0m2.2 0h0m.4 0h0m.8 0h0m3.2 0h0m.2 0h0m-18.2.1h0m3.2 0h0m2.7 0h0m.7 0h0m5.4 0h0m.8 0h0m6.6 0h0m1.2 0h0m-21.7.1h0m.5 0h0m8.3 0h0m1.7 0h0m.9 0h0m3.2 0h0m7.9 0h0m-18.4.1h0m4 0h0m.9 0h0m.6 0h0m1.7 0h0m.7 0h0m3.5 0h0m0 0h0m2.1 0h0m1 0h0m.5 0h0m1.8 0h0m2 0h0m.1 0h0m-21.1.1h0m7.1 0h0m2.5 0h0m9.8 0h0m.8 0h0m1.5 0h0m-19.5.1h0m3.3 0h0m.5 0h0m1.9 0h0m1.1 0h0m2.1 0h0m1.9 0h0m.9 0h0m1.4 0h0m-16 .1h0m1.1 0h0m.2 0h0m2 0h0m5.4 0h0m3.6 0h0m1.9 0h0m.4 0h0m3.1 0h0m4.1 0h0m-17.1.1h0m5 0h0m2.1 0h0m.9 0h0m2 0h0m.8 0h0m1.6 0h0m4.2 0h0m1.2 0h0m-18.5.1h0m5.8 0h0m1.3 0h0m2.2 0h0m.9 0h0m-13 .1h0m3.2 0h0m5.5 0h0m7 0h0m1.9 0h0m1.8 0h0m-20.3.1h0m1.4 0h0m1.3 0h0m1.5 0h0m1.6 0h0m.4 0h0m3.6 0h0m1.9 0h0m2.5 0h0m1.4 0h0m.4 0h0m3.6 0h0m-18.6.1h0m2.1 0h0m1.7 0h0m4.3 0h0m2.4 0h0m.4 0h0m6.7 0h0m1 0h0m-19.4.1h0m1.7 0h0m3.7 0h0m3.4 0h0m.9 0h0m0 0h0m4.8 0h0m-15.6.1h0m4 0h0m1 0h0m1.2 0h0m1.6 0h0m.2 0h0m.7 0h0m2.6 0h0m3.9 0h0m-15.7.1h0m2.6 0h0m5.3 0h0m3.9 0h0m.7 0h0m.7 0h0m.4 0h0m4.6 0h0m.7 0h0m.3 0h0m-14.6.1h0m3.8 0h0m0 0h0m.3 0h0m2.3 0h0m1 0h0m.6 0h0m1.5 0h0m2.3 0h0m7.2 0h0m-18.5.1h0m1.4 0h0m.8 0h0m1.9 0h0m1 0h0m.8 0h0m5 0h0m2 0h0m.2 0h0m1.1 0h0m3.9 0h0m-21.1.1h0m4.4 0h0m2.2 0h0m.5 0h0m3.9 0h0m3.7 0h0m.5 0h0m.6 0h0m1.2 0h0m.1 0h0m1.9 0h0m.6 0h0m.4 0h0m-17.4.1h0m1.3 0h0m1.1 0h0m.7 0h0m6.3 0h0m2.1 0h0m3.4 0h0m-15.6.1h0m.2 0h0m6 0h0m6.2 0h0m0 0h0m.9 0h0m1.5 0h0m0 0h0m-18.7.1h0m1.2 0h0m5.9 0h0m4.4 0h0m3.6 0h0m.4 0h0m.5 0h0m2.4 0h0m3.2 0h0m.5 0h0m-20.7.1h0m3.5 0h0m2.4 0h0m1.2 0h0m1.1 0h0m.2 0h0m1.5 0h0m.2 0h0m2.4 0h0m1.7 0h0m.3 0h0m2.2 0h0m.5 0h0m.3 0h0m1.7 0h0m1.1 0h0m0 0h0m-21.6.1h0m1.3 0h0m1.1 0h0m3.5 0h0m.1 0h0m2.1 0h0m5.9 0h0m1.7 0h0m.8 0h0m.7 0h0m1.6 0h0m1.9 0h0m-16.5.1h0m2.1 0h0m3.1 0h0m2.8 0h0m1.4 0h0m3.9 0h0m3.6 0h0m1.1 0h0m-17.7.1h0m9.9 0h0m.3 0h0m.5 0h0m.1 0h0m.4 0h0m.7 0h0m1.3 0h0m0 0h0m4.2 0h0m-19.3.1h0m5.5 0h0m5.2 0h0m.8 0h0m5.3 0h0m.6 0h0m-19.8.1h0m.2 0h0m1.6 0h0m4.5 0h0m2.2 0h0m1.6 0h0m.2 0h0m3.5 0h0m.1 0h0m.6 0h0m.8 0h0m3.9 0h0m3.9 0h0m-21.2.1h0m.2 0h0m2.6 0h0m2.1 0h0m2.4 0h0m.6 0h0m9.4 0h0m3.6 0h0m-22.9.1h0m1.6 0h0m6.7 0h0m2.4 0h0m3.3 0h0m1.8 0h0m.1 0h0m-15 .1h0m6.7 0h0m.1 0h0m.4 0h0m2.1 0h0m.6 0h0m2.8 0h0m4.9 0h0m.8 0h0m2.2 0h0m-18.6.1h0m1.6 0h0m1.7 0h0m1.3 0h0m3.3 0h0m2 0h0m2.8 0h0m2.1 0h0m1.2 0h0m.9 0h0m1 0h0m-20.9.1h0m1.3 0h0m.1 0h0m4.8 0h0m1.6 0h0m.1 0h0m2.9 0h0m1.3 0h0m.6 0h0m1.9 0h0m3.1 0h0m.4 0h0m2.2 0h0m2.5 0h0m-20.9.1h0m.9 0h0m6.1 0h0m1 0h0m.5 0h0m.5 0h0m.6 0h0m4.6 0h0m1.7 0h0m1.8 0h0m.1 0h0m-19.2.1h0m3 0h0m4.5 0h0m1.9 0h0m4.2 0h0m1.3 0h0m.6 0h0m1.4 0h0m1.9 0h0m-18.9.1h0m.4 0h0m1.6 0h0m.1 0h0m.4 0h0m.1 0h0m1.3 0h0m.2 0h0m0 0h0m5.8 0h0m.9 0h0m1.5 0h0m.1 0h0m2.1 0h0m1.5 0h0m1.7 0h0m1.2 0h0m.5 0h0m0 0h0m.4 0h0m.1 0h0m1.4 0h0m.4 0h0m.9 0h0m.1 0h0m-22.5.1h0m4 0h0m-2.6.1h0m3.6 0h0m2.6 0h0m2.5 0h0m1.7 0h0m3.5 0h0m1.2 0h0m-14.5.1h0m2.3 0h0m4.4 0h0m.1 0h0m1.5 0h0m4.3 0h0m4 0h0m-17.6.1h0m1.5 0h0m1.5 0h0m3.7 0h0m.8 0h0m.9 0h0m1.1 0h0m.9 0h0m4.9 0h0m1.6 0h0m1.1 0h0m2.9 0h0m.2 0h0m.4 0h0m-22.8.1h0m4.9 0h0m0 0h0m4.7 0h0m1.2 0h0m.8 0h0m.2 0h0m1.4 0h0m1.2 0h0m1.9 0h0m.2 0h0m2.4 0h0m2.2 0h0m1.2 0h0m-22.5.1h0m.9 0h0m2.3 0h0m4.2 0h0m.1 0h0m.2 0h0m.3 0h0m2.2 0h0m1 0h0m.9 0h0m1.5 0h0m-13.5.1h0m3.7 0h0m7.4 0h0m6.4 0h0m2 0h0m3.2 0h0m-19.6.1h0m.8 0h0m2.3 0h0m3 0h0m3.5 0h0m.3 0h0m2.5 0h0m.5 0h0m3.7 0h0m.8 0h0m-18.7.1h0m.3 0h0m.7 0h0m1.7 0h0m.5 0h0m.1 0h0m.8 0h0m1.8 0h0m2.5 0h0m.1 0h0m3.3 0h0m.2 0h0m0 0h0m1.1 0h0m.7 0h0m.2 0h0m.5 0h0m1.6 0h0m1.8 0h0m1.1 0h0m-19.9.1h0m4.3 0h0m.3 0h0m.6 0h0m.1 0h0m.4 0h0m.6 0h0m4 0h0m2.2 0h0m.4 0h0m.3 0h0m1 0h0m.7 0h0m1.8 0h0m2.1 0h0m2.2 0h0m.4 0h0m-20.5.1h0m7.6 0h0m.9 0h0m.8 0h0m5.5 0h0m.1 0h0m3 0h0m2.9 0h0m-16.4.1h0m2.5 0h0m3.1 0h0m.9 0h0m5.9 0h0m-18.3.1h0m3.4 0h0m3 0h0m2.4 0h0m1.3 0h0m1.2 0h0m1.5 0h0m2.3 0h0m1.6 0h0m.6 0h0m1.1 0h0m1.7 0h0m.8 0h0m.6 0h0m.9 0h0m-22.4.1h0m11.5 0h0m6.4 0h0m1.1 0h0m1.8 0h0m.8 0h0m-17.7.1h0m.4 0h0m1.9 0h0m.4 0h0m.9 0h0m2.4 0h0m2.5 0h0m.8 0h0m2.3 0h0m5.2 0h0m1.1 0h0m.4 0h0m-16.6.1h0m2.5 0h0m.2 0h0m1 0h0m1.8 0h0m0 0h0m.2 0h0m1 0h0m1.5 0h0m.3 0h0m2 0h0m5.4 0h0m1.2 0h0m-21.8.1h0m1.7 0h0m1.4 0h0m0 0h0m1.6 0h0m.9 0h0m.5 0h0m3.6 0h0m1.7 0h0m5 0h0m.1 0h0m1 0h0m.4 0h0m3.7 0h0m-23.1.1h0m1.5 0h0m3 0h0m2.5 0h0m.1 0h0m.3 0h0m2.6 0h0m1.7 0h0m1 0h0m2.4 0h0m1 0h0m.3 0h0m.3 0h0m.5 0h0m2.2 0h0m.6 0h0m-20.1.1h0m.6 0h0m.3 0h0m2.3 0h0m.2 0h0m1.9 0h0m1 0h0m.5 0h0m1 0h0m.9 0h0m.1 0h0m.3 0h0m8.6 0h0m2.8 0h0m.1 0h0m0 0h0m1.9 0h0m-20.6.1h0m2.4 0h0m0 0h0m1 0h0m.8 0h0m3.3 0h0m1.5 0h0m1.9 0h0m6.1 0h0m4.6 0h0m-21.6.1h0m.4 0h0m.7 0h0m2.4 0h0m4.4 0h0m.3 0h0m3.9 0h0m3.9 0h0m.3 0h0m.7 0h0m.7 0h0m.9 0h0m3 0h0m-20.4.1h0m.4 0h0m3.6 0h0m1 0h0m1.5 0h0m1 0h0m.3 0h0m.4 0h0m4.2 0h0m3 0h0m2.2 0h0m0 0h0m1.3 0h0m.1 0h0m-20.6.1h0m.5 0h0m3.4 0h0m1.5 0h0m.3 0h0m1 0h0m2 0h0m1.3 0h0m5.7 0h0m2.1 0h0m-19.1.1h0m4.7 0h0m2.1 0h0m6 0h0m3.7 0h0m3.1 0h0m-19.3.1h0m.8 0h0m1 0h0m.5 0h0m3.7 0h0m1.7 0h0m.5 0h0m.5 0h0m.9 0h0m3.6 0h0m1.5 0h0m.2 0h0m.3 0h0m4.1 0h0m.2 0h0m.9 0h0m0 0h0m-18.4.1h0m.7 0h0m.4 0h0m7.7 0h0m7.4 0h0m-17.4.1h0m1.5 0h0m4.6 0h0m.3 0h0m.3 0h0m1.5 0h0m1.8 0h0m.6 0h0m.4 0h0m7.5 0h0m.6 0h0m-19.7.1h0m.5 0h0m4.3 0h0m.1 0h0m.1 0h0m5.8 0h0m0 0h0m.4 0h0m4.9 0h0m.1 0h0m.2 0h0m2.3 0h0m-18.6.1h0m1.8 0h0m3.5 0h0m6.9 0h0m1.1 0h0m0 0h0m1.7 0h0m0 0h0m3.1 0h0m4.1 0h0m.5 0h0m-21 .1h0m5.4 0h0m1.9 0h0m3.8 0h0m.3 0h0m1.4 0h0m.4 0h0m2.1 0h0m.3 0h0m2.6 0h0m-19.8.1h0m1.2 0h0m.8 0h0m.3 0h0m4.6 0h0m.2 0h0m1.5 0h0m3.4 0h0m1.1 0h0m.9 0h0m.9 0h0m4.2 0h0m.2 0h0m-19.4.1h0m4.6 0h0m.1 0h0m1.7 0h0m1.3 0h0m3 0h0m1 0h0m1.6 0h0m2.7 0h0m2.7 0h0m.1 0h0m1.3 0h0m.3 0h0m-20.4.1h0m2.1 0h0m1.6 0h0m2.4 0h0m.3 0h0m2.5 0h0m2 0h0m.8 0h0m.5 0h0m.1 0h0m1.7 0h0m.6 0h0m3.4 0h0m.6 0h0m-13.1.1h0m1.7 0h0m.1 0h0m.8 0h0m.8 0h0m0 0h0m.3 0h0m4.8 0h0m1.4 0h0m1.5 0h0m.7 0h0m1.9 0h0m.2 0h0m1.4 0h0m.2 0h0m.3 0h0m1.1 0h0m-21.9.1h0m7.9 0h0m1.8 0h0m4.4 0h0m3.3 0h0m-17 .1h0m1.3 0h0m2.2 0h0m4.9 0h0m2.4 0h0m.2 0h0m.8 0h0m.6 0h0m1.9 0h0m1.3 0h0m1.1 0h0m-18.8.1h0m1.9 0h0m.9 0h0m.8 0h0m.4 0h0m4 0h0m.8 0h0m2.3 0h0m.5 0h0m.9 0h0m.1 0h0m1 0h0m.9 0h0m.4 0h0m.7 0h0m2.1 0h0m.4 0h0m.4 0h0m2.8 0h0m.2 0h0m.2 0h0m.9 0h0m-18.7.1h0m.1 0h0m0 0h0m.9 0h0m2.4 0h0m2.5 0h0m1.5 0h0m2.5 0h0m.7 0h0m.8 0h0m1.6 0h0m2.6 0h0m1.6 0h0m2.4 0h0m-18.5.1h0m2.8 0h0m.8 0h0m.8 0h0m4.2 0h0m2.3 0h0m.7 0h0m3 0h0m1.7 0h0m.8 0h0m-19.6.1h0m3.1 0h0m2.5 0h0m.6 0h0m1.6 0h0m.3 0h0m.5 0h0m1.6 0h0m3.3 0h0m3.5 0h0m-17.9.1h0m5.9 0h0m1 0h0m.2 0h0m1.1 0h0m.3 0h0m5.3 0h0m4.3 0h0m1.8 0h0m-21.1.1h0m.1 0h0m1.2 0h0m.9 0h0m2.3 0h0m3.5 0h0m.6 0h0m2 0h0m1.7 0h0m.5 0h0m3.9 0h0m.1 0h0m1.1 0h0m.9 0h0m.5 0h0m.5 0h0m1.7 0h0m-20.6.1h0m.3 0h0m3.1 0h0m6 0h0m0 0h0m.3 0h0m1.1 0h0m1.1 0h0m.7 0h0m3.1 0h0m4.2 0h0m-17.7.1h0m3.7 0h0m4.2 0h0m1.1 0h0m.5 0h0m.6 0h0m1 0h0m2 0h0m.8 0h0m-14.7.1h0m.1 0h0m6 0h0m1.1 0h0m1.4 0h0m3.1 0h0m3.7 0h0m3.1 0h0m.2 0h0m.9 0h0m.5 0h0m0 0h0m.8 0h0m-19 .1h0m4.8 0h0m3.7 0h0m5.8 0h0m-17.8.1h0m.7 0h0m.9 0h0m.2 0h0m2.8 0h0m3.2 0h0m0 0h0m1.6 0h0m6.6 0h0m2.8 0h0m2.4 0h0m.9 0h0m-22.5.1h0m2 0h0m8.8 0h0m.8 0h0m7.8 0h0m.2 0h0m.2 0h0m2.8 0h0m-23.2.1h0m1.7 0h0m.9 0h0m1 0h0m2.3 0h0m1.3 0h0m.3 0h0m2.3 0h0m2.3 0h0m.3 0h0m5 0h0m3.8 0h0m1.8 0h0m-22.1.1h0m1.5 0h0m.5 0h0m1 0h0m1.2 0h0m.8 0h0m.4 0h0m1.9 0h0m.1 0h0m0 0h0m.1 0h0m2.6 0h0m.6 0h0m1.4 0h0m5.5 0h0m.2 0h0m.3 0h0m.6 0h0m2.7 0h0m.7 0h0m-21.9.1h0m1.3 0h0m1.3 0h0m1.8 0h0m.9 0h0m0 0h0m3.4 0h0m.5 0h0m1 0h0m1.3 0h0m2.6 0h0m1.4 0h0m1.8 0h0m1.6 0h0m0 0h0m.3 0h0m1.5 0h0m1.7 0h0m-23 .1h0m2.5 0h0m1 0h0m2 0h0m3.8 0h0m1.5 0h0m.8 0h0m.5 0h0m.6 0h0m3.8 0h0m-15.6.1h0m0 0h0m.2 0h0m.1 0h0m1.8 0h0m.1 0h0m.6 0h0m.9 0h0m1.8 0h0m.1 0h0m.2 0h0m1.6 0h0m2.4 0h0m1 0h0m.8 0h0m1 0h0m2.5 0h0m4.8 0h0m1.3 0h0m.4 0h0m-23 .1h0m2.5 0h0m3.5 0h0m2 0h0m1.9 0h0m1.1 0h0m2.3 0h0m1.8 0h0m.2 0h0m1.2 0h0m1.3 0h0m-16.7.1h0m.3 0h0m1.6 0h0m3.7 0h0m.3 0h0m2 0h0m1.1 0h0m.4 0h0m.5 0h0m0 0h0m1.3 0h0m.4 0h0m4 0h0m.3 0h0m.4 0h0m2.6 0h0m2 0h0m.9 0h0m0 0h0m-18.8.1h0m.7 0h0m3.2 0h0m3.5 0h0m.1 0h0m.7 0h0m3.7 0h0m.7 0h0m.8 0h0m1.4 0h0m0 0h0m.6 0h0m-19.5.1h0m1.1 0h0m1.2 0h0m.8 0h0m.5 0h0m.3 0h0m4.3 0h0m.7 0h0m2.1 0h0m.6 0h0m.2 0h0m3.9 0h0m2.4 0h0m.2 0h0m1.5 0h0m2.3 0h0m-20.6.1h0m.9 0h0m.3 0h0m1.9 0h0m.5 0h0m3 0h0m2.3 0h0m3.6 0h0m2.2 0h0m.9 0h0m2.2 0h0m1.7 0h0m.3 0h0m1.9 0h0m-18.3.1h0m1.3 0h0m.3 0h0m1.1 0h0m.8 0h0m1.5 0h0m4.7 0h0m7.9 0h0m-22.5.1h0m3.2 0h0m1.3 0h0m.8 0h0m.1 0h0m.2 0h0m.3 0h0m2.8 0h0m4.2 0h0m1.3 0h0m.4 0h0m.2 0h0m1.4 0h0m3 0h0m2.1 0h0m2.1 0h0m0 0h0m-22 .1h0m1.8 0h0m1.6 0h0m.1 0h0m2.6 0h0m6.4 0h0m9 0h0m-21.7 2.8h0m0 0h0m4.8 0h0m1.3 0h0m1.9 0h0m13.5 0h0m.9 0h0" stroke="#1f77b4" stroke-width="1.39" stroke-linecap="round" fill="none"/>
<path d="M353.1 62.95H361.5M364.7 62.95H365.5M367.4 62.95h.2M369.9 62.95H371.5M374.6 62.95h.2" stroke="#1f77b4" stroke-width="1.9" stroke-linecap="round" fill="none"/>
<rect x="444.25" y="378" width="25.00" height="40.85" fill="#ff7f0e"/>
<path d="M454.7 66.8h0m9.3.3h0m-18.4 1h0m.4.1h0m2 .9h0m11.1.1h0m-.2.3h0m1.8 0h0m0 .1h0m.8 0h0m-11.1.2h0m7.9 0h0m-6.1.5h0m3.6.1h0m.4.1h0m0 .6h0m6.4 0h0m-8.7.1h0m.1 0h0m1.6.1h0m1 .1h0m-.5.1h0m-5.9.2h0m3.3 0h0m8.2 0h0m-4.6.2h0m-2.6.3h0m2.5.1h0m2.8 0h0m4 0h0m1.9.3h0m-3.8.1h0m-14.6.2h0m3.9 0h0m14.7 0h0m-20.5.1h0m2.3 0h0m.2 0h0m2.3 0h0m4 .1h0m-9.3.1h0m12.8.1h0m10.2 0h0m-3.6.1h0m.4.1h0m3.6 0h0m-10.3.1h0m-2.3.1h0m2.4.2h0m-12.3.1h0m1.6.1h0m7.4 0h0m5.8 0h0m6.7 0h0m-18.9.1h0m.1 0h0m9.8 0h0m2.8 0h0m-7.8.1h0m4.2 0h0m-12 .2h0m7.8 0h0m1.6 0h0m-.9.1h0m-9 .1h0m2.2 0h0m5.6 0h0m-7.5.1h0m4.2 0h0m9.1.1h0m-5.8.1h0m7.8 0h0m1.5 0h0m-8.7.1h0m8.4 0h0m-13.1.1h0m11.2 0h0m3.4 0h0m1.3 0h0m.3 0h0m-13.3.1h0m8 0h0m-12.7.1h0m6.1 0h0m.2 0h0m11 0h0m-9.8.1h0m-1.9.2h0m4.1 0h0m4.3 0h0m.7 0h0m1.2 0h0m3.2.2h0m-19.8.1h0m14.6 0h0m2.1 0h0m-16.7.1h0m9.9 0h0m9.8 0h0m-18 .1h0m5.1 0h0m1.1 0h0m-2.9.1h0m6.1 0h0m5.7 0h0m-3.1.1h0m4.9 0h0m2 0h0m-18.8.1h0m2.8 0h0m.2 0h0m14.9 0h0m1.1 0h0m-17.5.1h0m1.7 0h0m12.5 0h0m-13.9.1h0m2.6 0h0m-6 .1h0m.4 0h0m1.7 0h0m11 0h0m.6 0h0m-14.4.1h0m.5 0h0m6.2 0h0m2.2 0h0m5.2 0h0m-12.9.1h0m3.2 0h0m5.2 0h0m.9 0h0m4 0h0m1.7 0h0m2.4 0h0m-12.1.1h0m2.3 0h0m4.3 0h0m.8 0h0m-11.9.1h0m9 0h0m1.9 0h0m1.8 0h0m.3 0h0m1.6 0h0m3.8 0h0m-20.1.1h0m7 0h0m3 0h0m5.1 0h0m-14.9.1h0m2.4 0h0m7.5 0h0m10.4 0h0m-10.8.1h0m1.5 0h0m1.5 0h0m3.6 0h0m.9 0h0m2.6 0h0m.4 0h0m-18.7.1h0m7.1 0h0m2.8 0h0m9.8 0h0m-11.6.1h0m10.5 0h0m-15.2.1h0m1.5 0h0m8.5 0h0m-11 .1h0m5.1 0h0m5.6 0h0m.3 0h0m3.8.1h0m-19.7.1h0m11.9 0h0m9.9 0h0m-17.1.1h0m4.3 0h0m.2 0h0m2.8 0h0m7 0h0m-15 .1h0m3.5 0h0m.7 0h0m3.9 0h0m4.6 0h0m-14 .1h0m2.9 0h0m16 0h0m1.7 0h0m-17.9.1h0m1.3 0h0m5.7 0h0m-9.8.1h0m6.7 0h0m12.2 0h0m1.3 0h0m-21.7.1h0m11.2 0h0m5.3 0h0m1 0h0m-8.6.1h0m6.3 0h0m-15.4.1h0m.4 0h0m2.4 0h0m0 0h0m8.4 0h0m6.3 0h0m2.2 0h0m-18.7.1h0m4 0h0m1 0h0m.8 0h0m.2 0h0m9.3 0h0m2.7 0h0m.2 0h0m-16.6.1h0m5.3 0h0m4.5 0h0m3.8 0h0m1.1 0h0m-17.3.1h0m7.7 0h0m0 0h0m-3.4.1h0m14.4 0h0m-17.5.1h0m7.7 0h0m4.5 0h0m1.3 0h0m-12.5.1h0m2.6 0h0m2.4 0h0m0 0h0m6.6 0h0m6 0h0m-20.3.1h0m14.1 0h0m1.2 0h0m.8 0h0m4.8 0h0m1.3 0h0m-16.9.1h0m2 0h0m1.8 0h0m1.8 0h0m11.2 0h0m.7 0h0m-22.8.1h0m3.2 0h0m3.1 0h0m8.1 0h0m4.7 0h0m-15.5.1h0m3.2 0h0m7.4 0h0m1.9 0h0m5 0h0m-21 .1h0m1.3 0h0m2.2 0h0m2.7 0h0m4.6 0h0m2.9 0h0m2.7 0h0m-15.6.1h0m11.7 0h0m6.4 0h0m1.9 0h0m-2.7.1h0m2.7 0h0m-19.9.1h0m2.9 0h0m11.6 0h0m-11.5.1h0m12 0h0m.2 0h0m1.6 0h0m-5.2.1h0m5.4 0h0m-16.7.1h0m.4 0h0m1.8 0h0m3.1 0h0m6 0h0m3.3 0h0m5 0h0m1.7 0h0m-21.6.1h0m2.1 0h0m1.8 0h0m.2 0h0m2.5 0h0m.5 0h0m4.4 0h0m1.7 0h0m.8 0h0m2 0h0m4.4 0h0m.4 0h0m1.1 0h0m0 0h0m-18.4.1h0m1.4 0h0m2.5 0h0m2.3 0h0m1.7 0h0m10.5 0h0m-11.7.1h0m.7 0h0m.8 0h0m3.6.1h0m6.5 0h0m-21.8.1h0m.4 0h0m9.9 0h0m-6.5.1h0m3.8 0h0m5.4 0h0m2 0h0m-9.8.1h0m.4 0h0m.1 0h0m3.5 0h0m10.9 0h0m-20.3.1h0m2.3 0h0m.6 0h0m1.5 0h0m0 0h0m-3.5.1h0m1.1 0h0m.9 0h0m3.9 0h0m9.5 0h0m-13.7.1h0m8.7 0h0m.4 0h0m5.1 0h0m1.7 0h0m-16.4.1h0m.1 0h0m.7 0h0m2.1 0h0m1 0h0m3.8 0h0m9.3 0h0m-19.5.1h0m.1 0h0m5.9 0h0m5.1 0h0m1.3 0h0m1 0h0m.4 0h0m2 0h0m6.3 0h0m-17.7.1h0m4.5 0h0m.4 0h0m.9 0h0m2.2 0h0m6.3 0h0m-12.4.1h0m1.3 0h0m2.3 0h0m3 0h0m0 0h0m3.4 0h0m-15.6.1h0m3.6 0h0m3.8 0h0m8.5 0h0m1.8 0h0m1.3 0h0m-14.2.1h0m3.9 0h0m3.9 0h0m1.8 0h0m.7 0h0m3.7 0h0m2.1 0h0m.1 0h0m-21 .1h0m3.1 0h0m.7 0h0m1.3 0h0m3.3 0h0m10.3 0h0m-19.9.1h0m5.7 0h0m.5 0h0m-4.2.1h0m1.2 0h0m1.5 0h0m.3 0h0m2.5 0h0m1.7 0h0m1.5 0h0m3.3 0h0m2.8 0h0m4.8 0h0m-15.4.1h0m3.6 0h0m.2 0h0m0 0h0m7.8 0h0m1 0h0m2.7 0h0m1.7 0h0m-19.7.1h0m.3 0h0m1.9 0h0m6.2 0h0m1.2 0h0m1.5 0h0m1.9 0h0m4.3 0h0m.3 0h0m1.7 0h0m-22.9.1h0m.2 0h0m1.6 0h0m6.4 0h0m.9 0h0m1.8 0h0m.5 0h0m7.1 0h0m.2 0h0m1.2 0h0m.5 0h0m1.3 0h0m.9 0h0m.5 0h0m-13.5.1h0m.5 0h0m7.2 0h0m4.3 0h0m-21.8.1h0m6.7 0h0m4.3 0h0m1.2 0h0m1 0h0m2.9 0h0m.4 0h0m.7 0h0m1.2 0h0m-14.8.1h0m.2 0h0m1.8 0h0m3.4 0h0m.8 0h0m11.3 0h0m-19.9.1h0m.6 0h0m0 0h0m12.2 0h0m1.5 0h0m2.3 0h0m.1 0h0m1.3 0h0m1.9 0h0m.5 0h0m2 0h0m-21.6.1h0m7.4 0h0m1.9 0h0m1 0h0m4.9 0h0m1.6 0h0m-6.3.1h0m1.7 0h0m-12.4.1h0m2.5 0h0m3.2 0h0m4.5 0h0m7.5 0h0m3.8 0h0m-21 .1h0m.3 0h0m5.7 0h0m.3 0h0m1.6 0h0m-1.4.1h0m1.8 0h0m2.7 0h0m.1 0h0m3.5 0h0m.5 0h0m2.3 0h0m1.8 0h0m-18.1.1h0m1.8 0h0m1.6 0h0m3.5 0h0m1.1 0h0m6.8 0h0m.1 0h0m-17.5.1h0m3.3 0h0m7.9 0h0m-11.9.1h0m4.6 0h0m2.5 0h0m4.1 0h0m4.8 0h0m2.1 0h0m-17.5.1h0m11 0h0m.7 0h0m9.3 0h0m.3 0h0m-20.3.1h0m2.2 0h0m3.3 0h0m4.7 0h0m4.2 0h0m3.6 0h0m.3 0h0m1.3 0h0m.4 0h0m1.8 0h0m-22.6.1h0m.5 0h0m7.5 0h0m3.2 0h0m7.7 0h0m3.1 0h0m-22.7.1h0m6.3 0h0m.9 0h0m7.1 0h0m5.7 0h0m.6 0h0m-19.5.1h0m1.5 0h0m.3 0h0m1.2 0h0m2.5 0h0m10.3 0h0m2.9 0h0m-17.1.1h0m.3 0h0m.9 0h0m8.6 0h0m.6 0h0m3.4 0h0m2.2 0h0m2.8 0h0m-19.5.1h0m10 0h0m.8 0h0m3.8 0h0m4.2 0h0m1 0h0m-19.5.1h0m.2 0h0m1.3 0h0m1.5 0h0m7.9 0h0m1.8 0h0m-14.8.1h0m2.3 0h0m.4 0h0m1.8 0h0m3.6 0h0m4 0h0m3.9 0h0m1.4 0h0m-4.1.1h0m1.4 0h0m-12.3.1h0m7.1 0h0m.5 0h0m.7 0h0m.9 0h0m.8 0h0m3.5 0h0m.5 0h0m.1 0h0m1.7 0h0m1.7 0h0m-16.3.1h0m.2 0h0m3.3 0h0m5.5 0h0m5 0h0m-15.1.1h0m.1 0h0m14.5 0h0m4.1 0h0m-21.1.1h0m3.5 0h0m18.8 0h0m-19.8.1h0m.6 0h0m7.3 0h0m7.1 0h0m.2 0h0m-11.1.1h0m3.7 0h0m.6 0h0m3.8 0h0m4.3 0h0m1.1 0h0m.6 0h0m-6.2.1h0m3.1 0h0m-13.3.1h0m2.7 0h0m1.8 0h0m3.5 0h0m7.8 0h0m-20.4.1h0m2 0h0m.6 0h0m3.3 0h0m.2 0h0m0 0h0m3 0h0m4.5 0h0m1.9 0h0m1.1 0h0m1.6 0h0m.6 0h0m2 0h0m-20.7.1h0m5 0h0m7.2 0h0m.8 0h0m2.2 0h0m-14.3.1h0m.5 0h0m7.1 0h0m5 0h0m2.6 0h0m1.5 0h0m.6 0h0m-18.1.1h0m7.3 0h0m2.7 0h0m.1 0h0m8 0h0m.4 0h0m3.1 0h0m-20.4.1h0m1.4 0h0m13.8 0h0m.3 0h0m2.4 0h0m-16.7.1h0m1.8 0h0m.4 0h0m2 0h0m.3 0h0m8.8 0h0m1.6 0h0m4.1 0h0m.7 0h0m.5 0h0m-16.3.1h0m3.5 0h0m.9 0h0m3.2 0h0m1.1 0h0m7 0h0m-16.7.1h0m8.3 0h0m1.4 0h0m1.8 0h0m2.3 0h0m.9 0h0m-16.7.1h0m4.8 0h0m1.7 0h0m.8 0h0m1.5 0h0m2.7 0h0m4.7 0h0m-14 .1h0m15 0h0m-16.3.1h0m4.1 0h0m4 0h0m.8 0h0m-8.3.1h0m5.6 0h0m2.5 0h0m.2 0h0m-11.5.1h0m7 0h0m1.2 0h0m3 0h0m.3 0h0m1.4 0h0m1.4 0h0m.3 0h0m-14.5.1h0m1.4 0h0m1.8 0h0m1.8 0h0m7.7 0h0m1.9 0h0m.2 0h0m-3.4.1h0m4 0h0m3.2 0h0m-19.3.1h0m5.5 0h0m1.6 0h0m1.2 0h0m3 0h0m3.7 0h0m-13.6.1h0m2.9 0h0m1.8 0h0m6.5 0h0m1.5 0h0m2.1 0h0m-16.3.1h0m.4 0h0m2.4 0h0m2.9 0h0m1.9 0h0m.2 0h0m6.9 0h0m6.6 0h0m-20.6.1h0m1.4 0h0m10.5 0h0m7.9 0h0m.1 0h0m0 0h0m-19.7.1h0m1.3 0h0m.1 0h0m1.8 0h0m.5 0h0m1.5 0h0m7.1 0h0m.8 0h0m5.6 0h0m-13.7.1h0m4.4 0h0m4 0h0m.1 0h0m-12.5.1h0m3.3 0h0m9.4 0h0m1 0h0m2.4 0h0m.9 0h0m-15 .1h0m1 0h0m2.2 0h0m3.4 0h0m1.7 0h0m4.1 0h0m.4 0h0m.4 0h0m.5 0h0m-18.4.1h0m3.4 0h0m1 0h0m.5 0h0m7.6 0h0m2.3 0h0m.4 0h0m-13.6.1h0m1.4 0h0m2 0h0m2.3 0h0m13.6 0h0m-21.2.1h0m3.5 0h0m3.1 0h0m.1 0h0m.3 0h0m3.5 0h0m5.8 0h0m3.6 0h0m-20 .1h0m.3 0h0m2.7 0h0m5.9 0h0m6.4 0h0m3.5 0h0m3.7 0h0m-20.9.1h0m6.3 0h0m3.8 0h0m1.3 0h0m.5 0h0m1.2 0h0m6.5 0h0m-20.6.1h0m4.4 0h0m.9 0h0m3.1 0h0m0 0h0m7.2 0h0m1.9 0h0m4.1 0h0m-21 .1h0m2 0h0m3.5 0h0m3.1 0h0m.7 0h0m3.3 0h0m1.4 0h0m3 0h0m3.7 0h0m-20 .1h0m7.1 0h0m11.8 0h0m.6 0h0m-20.7.1h0m4.2 0h0m4.9 0h0m.2 0h0m4.2 0h0m7.1 0h0m-20.4.1h0m5.5 0h0m9 0h0m6.5 0h0m-21.6.1h0m1.8 0h0m.7 0h0m4.3 0h0m3.4 0h0m7.4 0h0m5.1 0h0m-18.1.1h0m.7 0h0m3.1 0h0m.9 0h0m.4 0h0m6.6 0h0m2.6 0h0m0 0h0m-18.1.1h0m4.3 0h0m3.1 0h0m5.2 0h0m.3 0h0m3.4 0h0m1.6 0h0m-19.1.1h0m5.4 0h0m3.4 0h0m3.8 0h0m6.4 0h0m.3 0h0m2.7 0h0m-20 .1h0m3.3 0h0m-2.5.1h0m2.2 0h0m2.3 0h0m5.9 0h0m.7 0h0m2.5 0h0m2.2 0h0m-17.8.1h0m.1 0h0m5.6 0h0m.7 0h0m.5 0h0m1.5 0h0m4 0h0m1.9 0h0m2.2 0h0m-13.5.1h0m15.2 0h0m-11.7.1h0m.9 0h0m2.1 0h0m1.3 0h0m3.5 0h0m.3 0h0m7.6 0h0m-13.3.1h0m6.2 0h0m-13.7.1h0m.3 0h0m4.2 0h0m2.1 0h0m.8 0h0m2.8 0h0m3.8 0h0m6.5 0h0m-21.4.1h0m8.2 0h0m3.4 0h0m1.1 0h0m.1 0h0m4.1 0h0m-10 .1h0m3 0h0m2.8 0h0m1.7 0h0m5.1 0h0m2.8 0h0m-13.3.1h0m4 0h0m.9 0h0m3.2 0h0m-16.9.1h0m.4 0h0m1 0h0m6.5 0h0m8 0h0m-15.9.1h0m1.2 0h0m3.3 0h0m3.9 0h0m8.1 0h0m-15.8.1h0m.8 0h0m3.9 0h0m.6 0h0m.2 0h0m9.9 0h0m-16 .1h0m6 0h0m3.6 0h0m1.3 0h0m4 0h0m-14.7.1h0m2.7 0h0m.3 0h0m6.2 0h0m1 0h0m7 0h0m-18 .1h0m6.5 0h0m4 0h0m.9 0h0m.3 0h0m2.1 0h0m3.9 0h0m-15.6.1h0m11.2 0h0m3.2 0h0m-16.7.1h0m2.1 0h0m3.4 0h0m4.6 0h0m3.4 0h0m.9 0h0m5.8 0h0m1.9 0h0m-21 .1h0m6.6 0h0m3.5 0h0m1.3 0h0m.6 0h0m1.9 0h0m.8 0h0m-14 .1h0m3.7 0h0m11.4 0h0m-14.5.1h0m1.9 0h0m.2 0h0m2.6 0h0m3.1 0h0m1.7 0h0m6.9 0h0m.6 0h0m2.7 0h0m.4 0h0m-22 .1h0m15.1 0h0m-15.2.1h0m1.7 0h0m3 0h0m.3 0h0m3.5 0h0m3.5 0h0m.9 0h0m1.4 0h0m1.1 0h0m1.9 0h0m-8.4.1h0m3.8 0h0m2.7 0h0m.7 0h0m3.4 0h0m-10.6.2h0m4.8 0h0m1.5 0h0m5.6 0h0m-21.5.1h0m17.3 0h0m-16.2.1h0m1.2 0h0m.7 0h0m1.1 0h0m.5 0h0m3.5 0h0m8.4 0h0m1 0h0m2.8 0h0m-19.3.1h0m4.5 0h0m.3 0h0m10.4 0h0m3.5 0h0m0 0h0m-18.3.1h0m3.2 0h0m1.5 0h0m5.3 0h0m8.2 0h0m-17.7.1h0m10.9 0h0m9 0h0m-21.7.1h0m3.3 0h0m.7 0h0m.4 0h0m4.9 0h0m2.3 0h0m5.6 0h0m2.7 0h0m.7 0h0m-18.5.1h0m2.7 0h0m2.9 0h0m1 0h0m.2 0h0m2.6 0h0m4.9 0h0m1.9 0h0m-19 .1h0m3.8 0h0m.3 0h0m3 0h0m1.8 0h0m1 0h0m5.7 0h0m-13.6.1h0m6 0h0m.6 0h0m12.8 0h0m.1 0h0m.7 0h0m-20.4.1h0m5.4 0h0m6.1 0h0m4.5 0h0m5.6 0h0m-22.5.1h0m1.1 0h0m.5 0h0m4 0h0m2.1 0h0m3.1 0h0m6.8 0h0m.8 0h0m-15.2.1h0m.4 0h0m3.4 0h0m5.6 0h0m8.2 0h0m.4 0h0m-20.7.1h0m2.1 0h0m2.7 0h0m1.2 0h0m.9 0h0m8.8 0h0m.5 0h0m5.3 0h0m.6 0h0m-19.1.1h0m1.5 0h0m8.8 0h0m-14 .1h0m2.8 0h0m.3 0h0m17.3 0h0m2.1 0h0m-19 .1h0m2.4 0h0m2.6 0h0m4.5 0h0m-5.3.1h0m1.2 0h0m1.2 0h0m4.5 0h0m3.8 0h0m1.1 0h0m1.2 0h0m1.9 0h0m-22.2.1h0m1.6 0h0m1.1 0h0m6.6 0h0m1.6 0h0m3.8 0h0m3.6 0h0m-19.4.1h0m2.3 0h0m3.3 0h0m.1 0h0m1.4 0h0m3 0h0m3.9 0h0m2.5 0h0m3.2 0h0m-18.2.1h0m3.8 0h0m2.7 0h0m3.2 0h0m4.5 0h0m1.4 0h0m.4 0h0m3.3 0h0m-12.2.1h0m3.3 0h0m5.3 0h0m-12.9.1h0m3.1 0h0m2.5 0h0m7.1 0h0m1.6 0h0m4.2 0h0m-18.3.1h0m.1 0h0m.1 0h0m1 0h0m7.3 0h0m3.1 0h0m5.4 0h0m-17 .1h0m.7 0h0m.1 0h0m2.2 0h0m8.9 0h0m5.1 0h0m.4 0h0m-20.7.1h0m2.3 0h0m9.9 0h0m2.4 0h0m2.6 0h0m2.6 0h0m-16.5.1h0m1.5 0h0m1.6 0h0m4.2 0h0m2.8 0h0m.4 0h0m.8 0h0m.8 0h0m1.9 0h0m.5 0h0m.8 0h0m2.6 0h0m-22 .1h0m15.5 0h0m2.3 0h0m.5 0h0m-17.4.1h0m5 0h0m2.5 0h0m2.4 0h0m.2 0h0m4.1 0h0m.8 0h0m.7 0h0m2.4 0h0m.4 0h0m2.7 0h0m-17.3.1h0m10.3 0h0m3.2 0h0m.3 0h0m2.8 0h0m-21.8.1h0m3.1 0h0m1.3 0h0m4.1 0h0m2.7 0h0m9.9 0h0m-20.1.1h0m.7 0h0m1 0h0m4.4 0h0m1.7 0h0m8.8 0h0m1.2 0h0m1 0h0m-17.8.1h0m1.2 0h0m1.2 0h0m.5 0h0m6.1 0h0m5.3 0h0m.3 0h0m5.6 0h0m-22.1.1h0m1.3 0h0m3.8 0h0m7.9 0h0m1.3 0h0m1.6 0h0m-13.8.1h0m4.4 0h0m4.5 0h0m1.3 0h0m1.1 0h0m5.9 0h0m-18.3.1h0m.8 0h0m2.3 0h0m.9 0h0m.9 0h0m8.8 0h0m1.2 0h0m-1.1.1h0m8.1 0h0m-19.6.1h0m2.9 0h0m5.3 0h0m8.8 0h0m.2 0h0m1.4 0h0m-21.5.1h0m3.7 0h0m6 0h0m11 0h0m-18.3.1h0m.6 0h0m11.4 0h0m1.6 0h0m3.4 0h0m.3 0h0m.6 0h0m.3 0h0m.6 0h0m-20.5.1h0m1.9 0h0m3.6 0h0m2.4 0h0m.2 0h0m2.4 0h0m2.8 0h0m6.7 0h0m-19.6.1h0m.9 0h0m1.5 0h0m4.8 0h0m3.1.1h0m.4 0h0m.4 0h0m1.7 0h0m5.6 0h0m-19.3.1h0m2.5 0h0m10.2 0h0m2.8 0h0m3.9 0h0m-13 .1h0m.3 0h0m10.1 0h0m5.1 0h0m-17.5.1h0m4.1 0h0m11.5 0h0m2.1 0h0m-21.5.1h0m.1 0h0m2.3 0h0m.7 0h0m5.3 0h0m8.9 0h0m4.3 0h0m-17.7.1h0m1 0h0m.1 0h0m1.9 0h0m5.3 0h0m5.2 0h0m-17.5.1h0m3.2 0h0m10.6 0h0m.8 0h0m1.1 0h0m3 0h0m-18.9.1h0m3.6 0h0m.9 0h0m4 0h0m3.4 0h0m.9 0h0m3.9 0h0m-13.8.1h0m3.1 0h0m-6.8.1h0m.9 0h0m6.6 0h0m.3 0h0m1.8 0h0m.1 0h0m1.2 0h0m6.5 0h0m-13 .1h0m.8 0h0m10.2 0h0m.1 0h0m4.2 0h0m1.9 0h0m-15.8.1h0m6.4 0h0m-2.9.1h0m7.1 0h0m3.6 0h0m2.2 0h0m-19.5.1h0m.5 0h0m2 0h0m.5 0h0m7 0h0m1.4 0h0m5.9 0h0m2 0h0m-18 .1h0m5.4 0h0m6.6 0h0m-15.4.1h0m.3 0h0m1.9 0h0m.3 0h0m10.8 0h0m-12.3.1h0m1.5 0h0m0 0h0m2.6 0h0m.3 0h0m6.9 0h0m4.2 0h0m.3 0h0m2.3 0h0m2.3 0h0m-18 .1h0m5.4 0h0m5.7 0h0m2.1 0h0m5 0h0m1.2 0h0m-23.4.1h0m2.4 0h0m2.4 0h0m1.7 0h0m3.8 0h0m.1 0h0m1 0h0m.8 0h0m6.9 0h0m.2 0h0m.8 0h0m-19 .1h0m3.5 0h0m1.3 0h0m1.5 0h0m1.1 0h0m2.9 0h0m1.8 0h0m3.7 0h0m5.4 0h0m-19.6.1h0m2.3 0h0m6.9 0h0m.2 0h0m1.5 0h0m3.8 0h0m-16.2.1h0m1.1 0h0m1.4 0h0m1.1 0h0m2.1 0h0m2.7 0h0m.9 0h0m4.6 0h0m6.8 0h0m1.5 0h0m-20.8.1h0m7.6 0h0m.7 0h0m.7 0h0m8.1 0h0m1.6 0h0m-17.5.1h0m6.2 0h0m1.1 0h0m2.1 0h0m1 0h0m.2 0h0m-12.4.1h0m7.3 0h0m2.2 0h0m.4 0h0m10.5 0h0m1.1 0h0m-18.3.1h0m0 0h0m7.3 0h0m.5 0h0m.6 0h0m7 0h0m-17.5.1h0m6.3 0h0m3.4 0h0m7.9 0h0m-16.5.1h0m5.8 0h0m4.6 0h0m.8 0h0m.8 0h0m.7 0h0m2.5 0h0m-18.8.1h0m1.9 0h0m1.8 0h0m1.1 0h0m1 0h0m4.8 0h0m.5 0h0m3.1 0h0m-13.8.1h0m7.3 0h0m.2 0h0m1.1 0h0m10.8 0h0m.2 0h0m.2 0h0m-16.7.1h0m2.4 0h0m1.2 0h0m4.6 0h0m6.1 0h0m2.9 0h0m-20.1.1h0m.4 0h0m.6 0h0m.4 0h0m1.1 0h0m2.5 0h0m3.4 0h0m10.2 0h0m1.6 0h0m-18.4.1h0m1.8 0h0m5.5 0h0m.3 0h0m8.5 0h0m3.2 0h0m-11.7.1h0m5.8 0h0m1.4 0h0m2.5 0h0m.8 0h0m-18.6.1h0m5.2 0h0m.8 0h0m2.6 0h0m.8 0h0m.9 0h0m2.3 0h0m.5 0h0m3.2 0h0m.7 0h0m.4 0h0m-10.2.1h0m1.6 0h0m3.3 0h0m2.2 0h0m1.4 0h0m3.4 0h0m-17.4.1h0m5.1 0h0m2.8 0h0m10 0h0m-17.9.1h0m3.2 0h0m15.8 0h0m-19.4.1h0m2.8 0h0m4.3 0h0m1.7 0h0m3.5 0h0m1.7 0h0m2.4 0h0m2.8 0h0m.1 0h0m-22.5.1h0m.3 0h0m6.9 0h0m1 0h0m.8 0h0m6 0h0m.9 0h0m-16.6.1h0m.7 0h0m.1 0h0m5.3 0h0m4.4 0h0m2.5 0h0m1 0h0m-12.5.1h0m2 0h0m8.4 0h0m3.6 0h0m3.7 0h0m.2 0h0m-18.7.1h0m.9 0h0m2.4 0h0m0 0h0m6.1 0h0m1.9 0h0m3.6 0h0m6.1 0h0m1.3 0h0m-16.9.1h0m.9 0h0m9 0h0m.1 0h0m3.3 0h0m-19.4.1h0m4 0h0m1.5 0h0m5.4 0h0m5.9 0h0m-11.2.1h0m3.1 0h0m13.4 0h0m-21.4.1h0m.6 0h0m2.5 0h0m3.7 0h0m1.5 0h0m2.4 0h0m8.6 0h0m-18.9.1h0m9.8 0h0m1.6 0h0m5.4 0h0m.2 0h0m1.9 0h0m-15.3.1h0m8.7 0h0m.2 0h0m.7 0h0m5.8 0h0m3.2 0h0m-19.5.1h0m6.3 0h0m1.4 0h0m6 0h0m.3 0h0m1.1 0h0m1.7 0h0m1.1 0h0m-11 .1h0m2.8 0h0m9.6 0h0m-19 .1h0m.7 0h0m.5 0h0m4.4 0h0m3.3 0h0m.9 0h0m.4 0h0m-14.2.1h0m.4 0h0m2.9 0h0m1.8 0h0m2.1 0h0m.3 0h0m1 0h0m.1 0h0m12.7 0h0m-19.9.1h0m8.4 0h0m3.5 0h0m4.7 0h0m1.9 0h0m.1 0h0m.7 0h0m-18.6.1h0m3.4 0h0m1.4 0h0m1.2 0h0m1.9 0h0m1.6 0h0m1.7 0h0m-8.4.1h0m10.9 0h0m1.4 0h0m2.3 0h0m0 0h0m2.5 0h0m-6.6.1h0m1.3 0h0m-7.8.1h0m5.5 0h0m3.1 0h0m-13.5.1h0m13 0h0m4.6 0h0m-17.9.1h0m2.6 0h0m4.5 0h0m3.4 0h0m1.1 0h0m5.4 0h0m.1 0h0m1.8 0h0m-20.1.1h0m6.3 0h0m9.2 0h0m1.6 0h0m.8 0h0m-20.4.1h0m.2 0h0m8.3 0h0m.2 0h0m2.9 0h0m.8 0h0m5 0h0m1.4 0h0m1.3 0h0m-19.9.1h0m4.2 0h0m1.1 0h0m2.2 0h0m.7 0h0m6.2 0h0m2.1 0h0m1.1 0h0m.5 0h0m2.2 0h0m0 0h0m-18.3.1h0m5.1 0h0m3.2 0h0m7.8 0h0m-12.3.1h0m.3 0h0m11.9 0h0m-16.7.1h0m2 0h0m1.6 0h0m2.6 0h0m1.6 0h0m13.2 0h0m1 0h0m-13.7.1h0m3.8 0h0m2 0h0m1.7 0h0m-16.6.1h0m10.7 0h0m1.3 0h0m3.6 0h0m2.8 0h0m1.5 0h0m.5 0h0m.4 0h0m-15.6.1h0m.2 0h0m2.5 0h0m.7 0h0m2.6 0h0m.7 0h0m1.2 0h0m2.6 0h0m-11.8.1h0m1.4 0h0m.2 0h0m1.8 0h0m.2 0h0m5.8 0h0m2 0h0m4.7 0h0m1.4 0h0m-20.4.1h0m6.2 0h0m10.5 0h0m.8 0h0m3.1 0h0m-21.2.1h0m11.9 0h0m8 0h0m1 0h0m-16.9.1h0m4.2 0h0m5.7 0h0m2.2 0h0m1.6 0h0m.1 0h0m1.6 0h0m.1 0h0m2.8 0h0m-20.7.1h0m3.9 0h0m12.7 0h0m-6.5.1h0m6.4 0h0m1 0h0m3.1 0h0m-16.1.1h0m2.7 0h0m3.1 0h0m.5 0h0m5.6 0h0m-17.8.1h0m4 0h0m.8 0h0m1.4 0h0m4.7 0h0m3.4 0h0m4.1 0h0m1.2 0h0m.4 0h0m-21.1.1h0m6.5 0h0m5.2 0h0m1.9 0h0m4.4 0h0m2.8 0h0m-17.7.1h0m4.6 0h0m1.1 0h0m8.1 0h0m-14.6.1h0m2.1 0h0m.1 0h0m2.4 0h0m3.2 0h0m8.4 0h0m3.6 0h0m-18.5.1h0m7.8 0h0m1.3 0h0m.9 0h0m5.2 0h0m-18.9.1h0m1.3 0h0m.6 0h0m1 0h0m.3 0h0m.5 0h0m.8 0h0m2.4 0h0m.2 0h0m3.6 0h0m1.8 0h0m1.8 0h0m1.5 0h0m7.4 0h0m-15.8.1h0m12.4 0h0m1.8 0h0m-18.7.1h0m9.8 0h0m5.8 0h0m.1 0h0m3.2 0h0m-20.9.1h0m4 0h0m4.9 0h0m6.2 0h0m2.1 0h0m4.5 0h0m.4 0h0m-21.5.1h0m1.2 0h0m2.1 0h0m3.2 0h0m5.2 0h0m2.5 0h0m2.6 0h0m-18.2.1h0m1.9 0h0m.6 0h0m.6 0h0m3.5 0h0m6.1 0h0m1.3 0h0m1.4 0h0m6.7 0h0m-18.5.1h0m2.6 0h0m.2 0h0m4.5 0h0m1.3 0h0m3.7 0h0m1.4 0h0m4.1 0h0m.9 0h0m-21.3.1h0m3.9 0h0m1.4 0h0m9.4 0h0m5.7 0h0m1.8 0h0m-21.9.1h0m6.2 0h0m.6 0h0m3.9 0h0m-11.2.1h0m3.3 0h0m2.8 0h0m2.1 0h0m6 0h0m2.5 0h0m.8 0h0m2 0h0m.1 0h0m-12.4.1h0m8.1 0h0m1.7 0h0m.3 0h0m.7 0h0m-16.2.1h0m4.7 0h0m9.2 0h0m-15.1.1h0m10.4 0h0m1.9 0h0m-13.6.1h0m.3 0h0m5 0h0m3.1 0h0m.5 0h0m3.1 0h0m1 0h0m.8 0h0m4.1 0h0m-16.1.1h0m6.8 0h0m.1 0h0m4.1 0h0m-12 .1h0m.6 0h0m0 0h0m9.6 0h0m-11.3.1h0m2 0h0m4.1 0h0m1.2 0h0m3.4 0h0m.7 0h0m3.7 0h0m0 0h0m2.6 0h0m3.2 0h0m1.9 0h0m-17.1.1h0m3.6 0h0m.4 0h0m10.1 0h0m-17.6.1h0m5.7 0h0m1.5 0h0m4.1 0h0m-9.8.1h0m2 0h0m.3 0h0m2.8 0h0m.6 0h0m6.3 0h0m2.8 0h0m2.1 0h0m-5.7.1h0m-14.9.1h0m1.2 0h0m3.2 0h0m1.5 0h0m4.1 0h0m.7 0h0m5.3 0h0m3 0h0m1.4 0h0m-17.8.1h0m5 0h0m.2 0h0m2.6 0h0m2.8 0h0m-12.7.1h0m19.5 0h0m-17.8.1h0m.5 0h0m2.3 0h0m7.9 0h0m4.5 0h0m2.1 0h0m1.3 0h0m-17.2.1h0m4.3 0h0m1.1 0h0m2.8 0h0m4.4 0h0m.6 0h0m3.9 0h0m-19.3.1h0m12.5 0h0m1.7 0h0m3.9 0h0m.6.1h0m2.3 0h0m.8 0h0m-17.6.1h0m4.1 0h0m5.2 0h0m2.4 0h0m2.1 0h0m1.1 0h0m.5 0h0m1.3 0h0m-18.9.1h0m1.9 0h0m.3 0h0m.3 0h0m.7 0h0m1 0h0m6.8 0h0m2.7 0h0m2.4 0h0m.1 0h0m2.4 0h0m0 0h0m.1 0h0m.4 0h0m-20.7.1h0m.2 0h0m1.1 0h0m8.7 0h0m3.4 0h0m.9 0h0m2.4 0h0m-11.4.1h0m2.5 0h0m4.4 0h0m2.9 0h0m-15.7.1h0m3.5 0h0m2.8 0h0m.1 0h0m1.2 0h0m1.6 0h0m3.3 0h0m.1 0h0m7.6 0h0m-16.4.1h0m1.1 0h0m6.3 0h0m1.5 0h0m.1 0h0m8.3 0h0m-17.3.1h0m3.6 0h0m.1 0h0m3.1 0h0m-6.5.1h0m7.9 0h0m9.3 0h0m.8 0h0m-22.2.1h0m3.7 0h0m.4 0h0m3.2 0h0m5.2 0h0m2.4 0h0m.9 0h0m.7 0h0m5 0h0m-16.8.1h0m4.9 0h0m1.6 0h0m9.4 0h0m-20.7.1h0m5.6 0h0m.2 0h0m1.8 0h0m1.4 0h0m7.4 0h0m3.8 0h0m-19.6.1h0m2.3 0h0m6.3 0h0m5.8 0h0m1.2 0h0m6.1 0h0m-19.4.1h0m11.5 0h0m6.6 0h0m.1 0h0m-14.2.1h0m3.7 0h0m.9 0h0m8.2 0h0m-17.8.1h0m3.1 0h0m2.4 0h0m2.3 0h0m5.5 0h0m1.4 0h0m1.9 0h0m-16.1.1h0m6.3 0h0m4.7 0h0m4.4 0h0m3.5 0h0m-22.4.1h0m5.1 0h0m.9 0h0m2.1 0h0m.5 0h0m5.2 0h0m3.9 0h0m5.7 0h0m-21.2.1h0m1 0h0m.8 0h0m1.2 0h0m1.6 0h0m7.5 0h0m.7 0h0m0 0h0m-14.2.1h0m4.5 0h0m2.2 0h0m2.7 0h0m5.6 0h0m.6 0h0m3.1 0h0m-18 .1h0m4.1 0h0m2.4 0h0m4.9 0h0m.1 0h0m5.3 0h0m.8 0h0m1.4 0h0m3.1 0h0m-11.8.1h0m5.8 0h0m3.6 0h0m-20.1.1h0m3.9 0h0m4.5 0h0m3.2 0h0m3.4 0h0m.1 0h0m6.3 0h0m-22.6.1h0m4.6 0h0m3.8 0h0m0 0h0m-3 .1h0m2.7 0h0m3.8 0h0m6.2 0h0m.2 0h0m1.5 0h0m.6 0h0m.1 0h0m-15.7.1h0m.4 0h0m3.4 0h0m6 0h0m1.1 0h0m7.6 0h0m-20.2.1h0m1.5 0h0m1.3 0h0m3.5 0h0m5.2 0h0m1.1 0h0m3.5 0h0m2.8 0h0m1.2 0h0m-19 .1h0m2.9 0h0m.8 0h0m4.4 0h0m4.4 0h0m6.3 0h0m-22.1.1h0m3.6 0h0m2.5 0h0m4.8 0h0m6.9 0h0m.2 0h0m-15.2.1h0m1.1 0h0m.7 0h0m2 0h0m1 0h0m2 0h0m9.9 0h0m.3 0h0m-15.1.1h0m10.4 0h0m2.4 0h0m3.1 0h0m.2 0h0m-21.6.1h0m3.2 0h0m3.4 0h0m2.9 0h0m10.7 0h0m1.3 0h0m.2 0h0m.1 0h0m-21.6.1h0m6.3 0h0m2.1 0h0m1.3 0h0m.7 0h0m2.6 0h0m.6 0h0m6.2 0h0m.4 0h0m2.1 0h0m-9.4.1h0m.2 0h0m1.6 0h0m1.1 0h0m1.4 0h0m.2 0h0m.8 0h0m3.4 0h0m-17.3.1h0m1 0h0m3.7 0h0m4.8 0h0m1.2 0h0m.8 0h0m2.6 0h0m.8 0h0m-19.3.1h0m3.6 0h0m2.2 0h0m.4 0h0m.5 0h0m2.7 0h0m9.9 0h0m.7 0h0m-17.4.1h0m1.9 0h0m3.3 0h0m.1 0h0m9.7 0h0m1.4 0h0m-17.8.1h0m6.4 0h0m-6.7.1h0m6.4 0h0m1.3 0h0m4.6 0h0m.7 0h0m.7 0h0m1.7 0h0m1.8 0h0m2.7 0h0m.8 0h0m1.8 0h0m-21.4.1h0m2.7 0h0m7.7 0h0m2.6 0h0m4.9 0h0m3.2 0h0m-20 .1h0m5.7 0h0m1.5 0h0m4.4 0h0m4 0h0m4.5 0h0m-7.2.1h0m1.1 0h0m4.2 0h0m.2 0h0m-8.2.1h0m.8 0h0m1 0h0m-14.6.1h0m6 0h0m2.1 0h0m1.1 0h0m.1 0h0m4.2 0h0m7.3.1h0m-17.3.1h0m4.2 0h0m6.3 0h0m5.9 0h0m.5 0h0m-17.1.1h0m5.2 0h0m5.5 0h0m-11.7.1h0m.4 0h0m10.2 0h0m1.4 0h0m4.7 0h0m-18.9.1h0m1.8 0h0m.7 0h0m2.7 0h0m3.5 0h0m.9 0h0m8.8 0h0m-18.1.1h0m.1 0h0m4.2 0h0m4.8 0h0m1.2 0h0m2.6 0h0m-9.9.1h0m2.9 0h0m3.5 0h0m.6 0h0m3.8 0h0m8.2 0h0m-22.6.1h0m.3 0h0m2.3 0h0m-2.8.1h0m2.6 0h0m7.9 0h0m1.9 0h0m1.8 0h0m8.2 0h0m-21.7.1h0m7.4 0h0m1.4 0h0m2.1 0h0m.8 0h0m1.3 0h0m-10 .1h0m2.9 0h0m1.8 0h0m1 0h0m10.7 0h0m2.3 0h0m-20.7.1h0m2.5 0h0m.3 0h0m1.3 0h0m3 0h0m1.8 0h0m3 0h0m2.5 0h0m6 0h0m-20.9.1h0m6 0h0m4.4 0h0m.6 0h0m9.1 0h0m-3 .1h0m.9 0h0m.5 0h0m2.6 0h0m.5 0h0m.6 0h0m-23.5.1h0m3 0h0m4.9 0h0m2.1 0h0m6.3 0h0m-16 .1h0m2.4 0h0m3.1 0h0m1.1 0h0m5.9 0h0m.5 0h0m8.7 0h0m-13.1.1h0m1.6 0h0m.4 0h0m1.8 0h0m.8 0h0m3.5 0h0m1.5 0h0m-14.2.1h0m7.4 0h0m3 0h0m3.9 0h0m4.8 0h0m-23.1.1h0m.6 0h0m4.5 0h0m.4 0h0m7.6 0h0m1.6 0h0m1.9 0h0m1.7 0h0m-17.1.1h0m4.8 0h0m6.9 0h0m4.8 0h0m.7 0h0m2.8 0h0m.7 0h0m-18.9.1h0m.6 0h0m1.1 0h0m1 0h0m2.7 0h0m3.3 0h0m.2 0h0m4.1 0h0m3 0h0m1.6 0h0m.9 0h0m-19.1.1h0m7 0h0m.9 0h0m.4 0h0m2.2 0h0m6.4 0h0m1.9 0h0m-18.9.1h0m1.6 0h0m3 0h0m5.1 0h0m5.6 0h0m2.6 0h0m-19.5.1h0m8.1 0h0m.1 0h0m10.5 0h0m-15.4.1h0m.6 0h0m.2 0h0m6.9 0h0m5.5 0h0m.7 0h0m1.4 0h0m.4 0h0m2 0h0m-22.2.1h0m2.2 0h0m4.4 0h0m7.5 0h0m3.1 0h0m-8 .1h0m1.3 0h0m13.2 0h0m-15.9.1h0m.4 0h0m1.5 0h0m1.6 0h0m.9 0h0m1.2 0h0m1.5 0h0m1.8 0h0m2.8 0h0m3.9 0h0m-21.6.1h0m2.8 0h0m2.8 0h0m1.5 0h0m2.5 0h0m5.3 0h0m4 0h0m-14.5.1h0m.7 0h0m2 0h0m6.8 0h0m.6 0h0m3.3 0h0m-15.2.1h0m3.6 0h0m4.6 0h0m.1 0h0m-9.3.1h0m.5 0h0m3.4 0h0m3.7 0h0m.3 0h0m5.2 0h0m.2 0h0m.2 0h0m1.8 0h0m.1 0h0m2.3 0h0m1.9 0h0m-21.9.1h0m1.2 0h0m0 0h0m.2 0h0m5.9 0h0m6 0h0m4.7 0h0m-15.1.1h0m.7 0h0m2.5 0h0m2.9 0h0m1.5 0h0m10.1 0h0m.7 0h0m-19 .1h0m2.1 0h0m1.8 0h0m4.1 0h0m5.9 0h0m-4.9.1h0m.3 0h0m9.3 0h0m.9 0h0m-17.8.1h0m3 0h0m3 0h0m.4 0h0m1.2 0h0m1.1 0h0m1 0h0m2.8 0h0m2.1 0h0m3.7 0h0m-21.7.1h0m7.7 0h0m2.2 0h0m3.4 0h0m.3 0h0m5 0h0m.4 0h0m2.2 0h0m-14.9.1h0m5.2 0h0m2.9 0h0m-15 .1h0m.8 0h0m.4 0h0m1 0h0m7.7 0h0m1.7 0h0m.3 0h0m3.2 0h0m.6 0h0m.4 0h0m3.6 0h0m-19.7.1h0m2.7 0h0m5.4 0h0m-7.9.1h0m1.7 0h0m1.1 0h0m.3 0h0m4.9 0h0m.7 0h0m6.3 0h0m3.8 0h0m3.5 0h0m-23.4.1h0m7.7 0h0m4 0h0m.6 0h0m2.3 0h0m1.1 0h0m7.5 0h0m-22.2.1h0m.7 0h0m.6 0h0m4.4 0h0m4 0h0m.6 0h0m.8 0h0m.4 0h0m6.4 0h0m2.9 0h0m1.4 0h0m-23 .1h0m1 0h0m.2 0h0m5.3 0h0m1.9 0h0m3.4 0h0m1.4 0h0m.1 0h0m-9 .1h0m1.9 0h0m3.7 0h0m3.6 0h0m6.2 0h0m.4 0h0m1.2 0h0m1.5 0h0m.5 0h0m-22.7.1h0m1.4 0h0m6 0h0m1.2 0h0m3.2 0h0m2.1 0h0m.6 0h0m.8 0h0m3.6 0h0m-17.3.1h0m4 0h0m3 0h0m1.4 0h0m.3 0h0m1.9 0h0m3.6 0h0m5.5 0h0m-19.1.1h0m.5 0h0m10.2 0h0m.1 0h0m2.1 0h0m2.2 0h0m.4 0h0m.9 0h0m.6 0h0m-12 .1h0m.1 0h0m3 0h0m3 0h0m7.2 0h0m-20.1.1h0m.8 0h0m13.7 0h0m.8 0h0m-13.6.1h0m5 0h0m.1 0h0m1.2 0h0m5.3 0h0m.8 0h0m3.2 0h0m.2 0h0m4.2 0h0m-21.4.1h0m3.9 0h0m7 0h0m-10.7.1h0m.8 0h0m4.9 0h0m-7 .1h0m.4 0h0m5.1 0h0m8.6 0h0m.1 0h0m.3 0h0m.8 0h0m5.1 0h0m1.9 0h0m-22 .1h0m6.1 0h0m5.1 0h0m2.1 0h0m4.5 0h0m1.8 0h0m.9 0h0m.8 0h0m-10.1.1h0m1.6 0h0m8.5 0h0m-21 .1h0m.5 0h0m.2 0h0m2.6 0h0m1.5 0h0m.6 0h0m1.6.1h0m1.1 0h0m6.8 0h0m-10.4.1h0m0 0h0m8.5 0h0m5 0h0m1.6 0h0m2.8 0h0m-20.4.1h0m7.2 0h0m1.8 0h0m5.1 0h0m3.8 0h0m-17.4.1h0m15.3 0h0m1.2 0h0m.8 0h0m2 0h0m-14.7.1h0m1.6 0h0m-7 .1h0m2.6 0h0m15.2 0h0m.2 0h0m-6.4.1h0m-13.3.1h0m4.5 0h0m3.4 0h0m13.7 0h0m.3 0h0m-19.7.1h0m.9 0h0m2.1 0h0m1.9 0h0m6.5 0h0m4.8 0h0m-18 .1h0m.2 0h0m1.9 0h0m2.1 0h0m5.4 0h0m.3 0h0m.4 0h0m5 0h0m4.7 0h0m-19.5.1h0m2.2 0h0m1.5 0h0m3.5 0h0m1 0h0m7.6 0h0m4 0h0m-18.5.1h0m6 0h0m2.8 0h0m.6 0h0m1.3 0h0m1.3 0h0m.7 0h0m2.8 0h0m.7 0h0m-18.3.1h0m5.1 0h0m1.8 0h0m.8 0h0m7.9 0h0m.5 0h0m2 0h0m.3 0h0m1.2 0h0m-20.3.1h0m10.6 0h0m2.1 0h0m6.3 0h0m-.4.1h0m2.1 0h0m-18.6.1h0m7.5 0h0m4.7 0h0m-13 .1h0m4 0h0m5.2 0h0m8.3 0h0m2.6 0h0m-15.2.1h0m1.3 0h0m-5.2.1h0m.3 0h0m.2 0h0m2.2 0h0m1.5 0h0m.3 0h0m1.9 0h0m2.9 0h0m1.1 0h0m-10 .1h0m.8 0h0m6.2 0h0m2.9 0h0m4.5 0h0m-12.6.1h0m5.8 0h0m3.7 0h0m1.8 0h0m1.5 0h0m2.1 0h0m2.4 0h0m-21.2.1h0m7.6 0h0m3.8 0h0m1.3 0h0m4.8 0h0m2 0h0m.4 0h0m.8 0h0m1.4 0h0m-9.6.1h0m0 0h0m3.1 0h0m5.1 0h0m-16.3.1h0m.1 0h0m.3 0h0m1.4 0h0m6.7 0h0m2.6 0h0m.9 0h0m.2 0h0m4.6 0h0m-6.7.1h0m3.8 0h0m.3 0h0m3.2 0h0m-21.9.1h0m.1 0h0m4.7 0h0m2.2 0h0m.8 0h0m3.6 0h0m-10.9.1h0m11.3 0h0m2.8 0h0m2 0h0m1.8 0h0m1.2 0h0m2.7 0h0m-20.6.1h0m4.1 0h0m1.4 0h0m4.9 0h0m9.4 0h0m-16.5.1h0m1.2 0h0m4.3 0h0m4.2 0h0m5.7 0h0m.2 0h0m.3 0h0m-21.5.1h0m1.2 0h0m1.1 0h0m12.2 0h0m2 0h0m3.8 0h0m1 0h0m.8 0h0m-17.6.1h0m1.9 0h0m7.4 0h0m1.1 0h0m1.9 0h0m5.2 0h0m-22.4.1h0m1.7 0h0m3.7 0h0m.6 0h0m0 0h0m10.6 0h0m2.5 0h0m.1 0h0m-17.5.1h0m16.3 0h0m4.7 0h0m-17.2.1h0m4.1 0h0m1.6 0h0m1.3 0h0m10.1 0h0m-19.6.1h0m1 0h0m6.5 0h0m3.2 0h0m.2 0h0m2.6 0h0m6.5 0h0m-22.5.1h0m2.5 0h0m3.2 0h0m.8 0h0m7.5 0h0m1.4 0h0m5.4 0h0m1.4 0h0m-22.2.1h0m5.3 0h0m0 0h0m7.7 0h0m5.7 0h0m.7 0h0m3.1 0h0m-19.5.1h0m.4 0h0m.9 0h0m9.4 0h0m2.9 0h0m2.4 0h0m3.8 0h0m-22.1.1h0m.9 0h0m.1 0h0m10.1 0h0m.5 0h0m3.8 0h0m-15.7.1h0m1.2 0h0m1 0h0m11.5 0h0m2.2 0h0m2.9 0h0m.1 0h0m-15.3.1h0m0 0h0m.5 0h0m7.5 0h0m1.6 0h0m3.7 0h0m2.7 0h0m2.1 0h0m-22.5.1h0m4.8 0h0m11.3 0h0m7.3 0h0m-18.3.1h0m9.6 0h0m2.6 0h0m.3 0h0m-10.1.1h0m.4 0h0m1.4 0h0m7.5 0h0m6.4 0h0m-19.8.1h0m11 0h0m2.2 0h0m.7 0h0m2.4 0h0m1.1 0h0m2.6 0h0m-23.5.1h0m.6 0h0m8.8 0h0m-2.9.1h0m6.5 0h0m4.2 0h0m.1 0h0m.3 0h0m.2 0h0m2.8 0h0m-14.2.1h0m2.9 0h0m1.5 0h0m4.1 0h0m1.8 0h0m-16.3.1h0m4.4 0h0m0 0h0m.4 0h0m3.8 0h0m1.1 0h0m.3 0h0m4.2 0h0m.5 0h0m1.2 0h0m2.2 0h0m1.3 0h0m.2 0h0m.4 0h0m.5 0h0m.4 0h0m1.8 0h0m-21.4.1h0m3.8 0h0m6.7 0h0m4.2 0h0m0 0h0m5.1 0h0m-3.9.1h0m3.2 0h0m.7 0h0m-19.8.1h0m1.7 0h0m1.5 0h0m2.3 0h0m3.5 0h0m1.8 0h0m8.5 0h0m-19.6.1h0m1.5 0h0m.5 0h0m7 0h0m2.7 0h0m1.7 0h0m1.3 0h0m-6.2.1h0m-8.9.1h0m1.7 0h0m.8 0h0m1 0h0m2.4 0h0m.6 0h0m1.5 0h0m2.5 0h0m.9 0h0m.9 0h0m3.5 0h0m.5 0h0m-14.1.1h0m4.8 0h0m1.1 0h0m.8 0h0m5.1 0h0m.3 0h0m4.1 0h0m.3 0h0m.3 0h0m-7.1.1h0m3.3 0h0m.2 0h0m2 0h0m4.1 0h0m-20 .1h0m0 0h0m2.3 0h0m4.4 0h0m4.9 0h0m8.1 0h0m-22.2.1h0m5.8 0h0m2.5 0h0m3.7 0h0m3.3 0h0m-13.3.1h0m3.3 0h0m6.7 0h0m3 0h0m3.5 0h0m4.6 0h0m-23 .1h0m4.6 0h0m.4 0h0m2.9 0h0m5.8 0h0m4.5 0h0m2.8 0h0m-17.4.1h0m8.1 0h0m.1 0h0m7.4 0h0m1.4 0h0m.1 0h0m2.2 0h0m-18.5.1h0m1.6 0h0m2.6 0h0m3.8 0h0m2.2 0h0m1.9 0h0m3.2 0h0m2.2 0h0m-17 .1h0m9.3 0h0m1.1 0h0m6.6 0h0m.5 0h0m.3 0h0m.7 0h0m-9.2.1h0m7.2 0h0m.9 0h0m-22 .1h0m2.3 0h0m1.7 0h0m.1 0h0m10.2 0h0m2.6 0h0m-16.3.1h0m10.1 0h0m1.5 0h0m8.6 0h0m-14.9.1h0m2.6 0h0m1.3 0h0m1.9 0h0m1.8 0h0m.2 0h0m1.6 0h0m-12.4.1h0m2.8 0h0m3.3 0h0m.1 0h0m2.2 0h0m.5 0h0m.4 0h0m1 0h0m.2 0h0m5.4 0h0m2.3 0h0m.3 0h0m-20.2.1h0m3.4 0h0m6.1 0h0m2.2 0h0m3.4 0h0m3.8 0h0m-11.3.1h0m2.7 0h0m4.2 0h0m3.5 0h0m3.1 0h0m.1 0h0m.5 0h0m-20.7.1h0m1.1 0h0m1.8 0h0m1.7 0h0m.2 0h0m5.6 0h0m1.2 0h0m3.2 0h0m4.1 0h0m1.4 0h0m-22.1.1h0m2.1 0h0m2.7 0h0m15.9 0h0m.2 0h0m-10.7.1h0m9.6 0h0m1.3 0h0m-10.1.1h0m3.7 0h0m.5 0h0m3.2 0h0m4 0h0m0 0h0m-18.5.1h0m3.8 0h0m9.7 0h0m.2 0h0m3.1 0h0m-21.3.1h0m.3 0h0m.1 0h0m3.5 0h0m.9 0h0m4.7 0h0m1.2 0h0m.8 0h0m1.4 0h0m3.3 0h0m.9 0h0m.1 0h0m2.5 0h0m-11.9.1h0m2.9 0h0m6.9 0h0m.5 0h0m-4 .1h0m5.3 0h0m-13.8.1h0m3.7 0h0m2.8 0h0m-7.5.1h0m13.9 0h0m3.1 0h0m.7 0h0m-4.6.1h0m5.4 0h0m-20 .1h0m5.2 0h0m1.8 0h0m8.4 0h0m3.7 0h0m-19.9.1h0m3.4 0h0m5.8 0h0m4.9 0h0m-9.3.1h0m.7 0h0m1.3 0h0m.5 0h0m3.7 0h0m.7 0h0m2.5 0h0m5.3 0h0m-21.1.1h0m.9 0h0m10.7 0h0m2.9 0h0m1.8 0h0m2.5 0h0m.7 0h0m1.9 0h0m-21.4.1h0m2.8 0h0m1.9 0h0m.9 0h0m5 0h0m2.9 0h0m1.8 0h0m3.6 0h0m.8 0h0m.4 0h0m-17.1.1h0m6.6 0h0m7.8 0h0m-7.8.1h0m2.3 0h0m3.6 0h0m1.6 0h0m2.2 0h0m2.8 0h0m-19.5.1h0m2.8 0h0m9.7 0h0m.7 0h0m.3 0h0m2.4 0h0m2.9 0h0m-13 .1h0m2 0h0m3.6 0h0m1.4 0h0m-14.7.1h0m.6 0h0m4.8 0h0m2.5 0h0m4.6 0h0m1.8 0h0m2.6 0h0m-16.2.1h0m5.5 0h0m3 0h0m2.3 0h0m6.1 0h0m2.5 0h0m-20.7.1h0m.1 0h0m5.5 0h0m.2 0h0m.2 0h0m2.4 0h0m.8 0h0m4.3 0h0m5.2 0h0m1 0h0m2.2 0h0m.1 0h0m-21.2.1h0m1.7 0h0m17.9 0h0m1.8 0h0m-17.6.1h0m1.1 0h0m2.1 0h0m3.1 0h0m0 0h0m.6 0h0m5 0h0m-16.6.1h0m1.6 0h0m1.1 0h0m.9 0h0m3.1 0h0m10.6 0h0m.5 0h0m0 0h0m.8 0h0m-19.1.1h0m3.2 0h0m4.6 0h0m8.5 0h0m5.6 0h0m-18.3.1h0m2.2 0h0m2.2 0h0m8.5 0h0m4.6 0h0m.5 0h0m-21.7.1h0m1.3 0h0m0 0h0m2.8 0h0m.7 0h0m8.9 0h0m-10.3.1h0m1.1 0h0m8.4 0h0m-12.1.1h0m2.7 0h0m3.2 0h0m3.1 0h0m-8.7.1h0m.2 0h0m1.4 0h0m1.2 0h0m5 0h0m5.8 0h0m2.4 0h0m3.2 0h0m-16.4.1h0m.7 0h0m1.7 0h0m1.4 0h0m4.2 0h0m1.9 0h0m-9.9.1h0m4.2 0h0m1.8 0h0m9.5 0h0m-17.1.1h0m4.1 0h0m10.3 0h0m-4.4.1h0m1.8 0h0m3.2 0h0m.7 0h0m2 0h0m-18.1.1h0m1 0h0m1.7 0h0m7.8 0h0m1.2 0h0m4.8 0h0m.7 0h0m-13.4.1h0m3.1 0h0m5.4 0h0m6.9 0h0m.4 0h0m.9 0h0m-19.4.1h0m3.5 0h0m2.8 0h0m8 0h0m2 0h0m-19.4.1h0m9.1 0h0m3.1 0h0m.6 0h0m5.8 0h0m2 0h0m1.5 0h0m-19.9.1h0m5 0h0m12.1 0h0m-18.9.1h0m6.5 0h0m4.2 0h0m3.4 0h0m1.5 0h0m0 0h0m4.8 0h0m-17.9.1h0m5 0h0m3.5 0h0m4.1 0h0m-12.2.2h0m4.5 0h0m2.4 0h0m2.2 0h0m7.1 0h0m-15.2.1h0m5.9 0h0m2 0h0m5.6 0h0m1.9 0h0m3.1 0h0m-20.4.1h0m3.9 0h0m10.1 0h0m.6 0h0m3.2 0h0m-18 .1h0m3.9 0h0m15.7 0h0m-15.7.1h0m10.2 0h0m6 0h0m-19.8.1h0m.1 0h0m13.4 0h0m5.6 0h0m-21.3.1h0m3.9 0h0m0 0h0m1.3 0h0m3.6 0h0m1.6 0h0m7.7 0h0m2.2 0h0m.9 0h0m-8.9.1h0m1.2 0h0m1 0h0m.5 0h0m1 0h0m-8.3.1h0m12.7 0h0m1.8 0h0m-22.5.1h0m.6 0h0m1.7 0h0m3.3 0h0m.6 0h0m14.2 0h0m1.6 0h0m-19.6.1h0m-.7.1h0m6.4 0h0m9 0h0m.9 0h0m3.2 0h0m-18 .1h0m6.1 0h0m1.7 0h0m8.4 0h0m3.4 0h0m-14.3.1h0m12.5 0h0m.3 0h0m-11.3.1h0m1.2 0h0m2.5 0h0m1.3 0h0m2.1 0h0m.3 0h0m.9 0h0m4.4 0h0m-19.8.1h0m3.5 0h0m6.4 0h0m.4 0h0m1.6 0h0m6 0h0m-15.7.1h0m4.3 0h0m1.6 0h0m.1 0h0m5.1 0h0m.2 0h0m-16.2.1h0m6.6 0h0m3.1 0h0m5 0h0m.6 0h0m-12.8.1h0m14 0h0m6.3 0h0m-17.3.1h0m6.9 0h0m4.4 0h0m.3 0h0m.7 0h0m4 0h0m-17 .1h0m1.7 0h0m1.5 0h0m2.3 0h0m1.5 0h0m7.2 0h0m0 0h0m1.4 0h0m.3 0h0m-17.5.1h0m3.6 0h0m1.8 0h0m13.6 0h0m-21.4.1h0m2.7 0h0m6.2 0h0m4.6 0h0m.6 0h0m.5 0h0m3.6 0h0m1.6 0h0m-18.2.1h0m14.5 0h0m2.5 0h0m2.6 0h0m-22.2.1h0m6.6 0h0m1.9 0h0m12.7 0h0m.4 0h0m.9 0h0m-20.3.1h0m1.1 0h0m.7 0h0m8.2 0h0m.5 0h0m.2 0h0m.3 0h0m5.7 0h0m2.9 0h0m.9 0h0m-23 .1h0m12.6 0h0m6.6 0h0m1 0h0m1.8 0h0m-21.8.1h0m6.3 0h0m3.2 0h0m1.6 0h0m1.3 0h0m-6.5.1h0m1.6 0h0m1.1 0h0m10.2 0h0m2 0h0m-17.5.1h0m.5 0h0m.8 0h0m5.4 0h0m2.2 0h0m5.7 0h0m1.7 0h0m-17.7.1h0m1.4 0h0m4 0h0m6.3 0h0m6.2 0h0m-14.1.1h0m14 0h0m3.3 0h0m-20.7.1h0m2.6 0h0m4.3 0h0m2.8 0h0m2.1 0h0m2.5 0h0m4.6 0h0m-19.7.1h0m0 0h0m8.6 0h0m2.4 0h0m2.8 0h0m4.4 0h0m2.4 0h0m.6 0h0m-22.5.1h0m5.2 0h0m10.8 0h0m1.4 0h0m4.5 0h0m1 0h0m-20.9.1h0m.4 0h0m.9 0h0m10.3 0h0m-9.6.1h0m.4 0h0m4.1 0h0m.2 0h0m4.9 0h0m.2 0h0m6.7 0h0m-16.2.1h0m6.1 0h0m10.6 0h0m-8.4.1h0m6.6 0h0m-6.9.1h0m2.9 0h0m3.6 0h0m.7 0h0m3.2 0h0m-21.9.1h0m.6 0h0m9.2 0h0m.4 0h0m10.7 0h0m-13.6.1h0m7.5 0h0m5.3.1h0m-15.1.1h0m4 0h0m13.3 0h0m-23.3.1h0m.2 0h0m3.5 0h0m8.5 0h0m1 0h0m5.1 0h0m-6.6.1h0m2.7 0h0m.6 0h0m8 0h0m.1 0h0m-16.8.1h0m5.7 0h0m.2 0h0m1.3 0h0m1.6 0h0m6.2 0h0m-17.1.1h0m2.6 0h0m2.2 0h0m2.1 0h0m.5 0h0m2 0h0m1.3 0h0m6.2 0h0m1.8 0h0m-18.7.1h0m5.7 0h0m2.7 0h0m1.3 0h0m.3 0h0m5.8 0h0m-17.8.1h0m5.6 0h0m1.4 0h0m3.7 0h0m-9.9.1h0m10.1 0h0m.2 0h0m9 0h0m-13.1.1h0m7.8 0h0m-16.8.1h0m0 0h0m2.9 0h0m.3 0h0m.9 0h0m.5 0h0m0 0h0m.2 0h0m1.3 0h0m.9 0h0m.9 0h0m.9 0h0m.4 0h0m1.8 0h0m0 0h0m.8 0h0m1.9 0h0m.3 0h0m.4 0h0m.2 0h0m.8 0h0m.9 0h0m1.6 0h0m.3 0h0m0 0h0m.2 0h0m.6 0h0m.4 0h0m1.8 0h0m.1 0h0m.9 0h0m.6 0h0m-23.1.1h0m18.7 0h0m.2 0h0m-11.7.1h0m4.6 0h0m4 0h0m1.1 0h0m3 0h0m-17.3.2h0m13.5 0h0m.3 0h0m2.1 0h0m2.2.1h0m2 0h0m-4.6.1h0m.1 0h0m3.7 0h0m-15.1.1h0m12.8 0h0m-19.4.1h0m20.8 0h0m-16.1.1h0m.2 0h0m4 0h0m1.3 0h0m2 0h0m1.7 0h0m4.7 0h0m-18.6.1h0m4.6 0h0m2.2 0h0m4.2 0h0m2.5 0h0m1.3 0h0m.7 0h0m-15.1.1h0m5.3 0h0m4.6 0h0m7.3 0h0m.7 0h0m.3 0h0m1.7 0h0m-19.2.1h0m11.7 0h0m5.3 0h0m2.8 0h0m-17 .1h0m5.3 0h0m2.4 0h0m5.9 0h0m1.4 0h0m4.3 0h0m-23.1.1h0m4.1 0h0m1.1 0h0m1.9 0h0m.8 0h0m-1.4.1h0m2.3 0h0m3.8 0h0m2.8 0h0m3 0h0m-14.8.1h0m12.4 0h0m2.6 0h0m3.5 0h0m-12.6.1h0m1.3 0h0m3.2 0h0m3.8 0h0m.7 0h0m2 0h0m-18.1.1h0m7.6 0h0m1.1 0h0m10.2 0h0m-16.6.1h0m5.2 0h0m-.9.1h0m5.2 0h0m4.2 0h0m-17.3.1h0m11.1 0h0m6.3 0h0m-16.6.1h0m6.8 0h0m8.7 0h0m.5 0h0m1 0h0m.7 0h0m2.7 0h0m-22.3.1h0m4.4 0h0m8.5 0h0m8.7 0h0m1 0h0m-22.1.1h0m5.2 0h0m4.7 0h0m3.5 0h0m.3 0h0m2.3 0h0m1.1 0h0m3.8 0h0m-19.7.1h0m3.3 0h0m1.2 0h0m6.4 0h0m5 0h0m-17.2.1h0m8.1 0h0m3.8 0h0m1 0h0m0 0h0m5.8 0h0m1.5 0h0m1.4 0h0m-13.1.1h0m2.7 0h0m.1 0h0m3.2 0h0m.8 0h0m4.3 0h0m1.2 0h0m-10.6.1h0m3.9 0h0m8.4 0h0m0 .1h0m-18.1.1h0m2 0h0m.7 0h0m1.4 0h0m.5 0h0m8.2 0h0m.6 0h0m-17.4.1h0m8.3 0h0m7.2 0h0m2.1 0h0m4 0h0m-17.9.1h0m8.6 0h0m4.7 0h0m3 0h0m-1.9.1h0m3.6 0h0m-21.4.1h0m.3 0h0m.3 0h0m2.3 0h0m1.4 0h0m.9 0h0m3.5 0h0m10.2 0h0m3.3 0h0m-19.3.1h0m3 0h0m13.6 0h0m-18 .1h0m-2.1.1h0m.2 0h0m6.1 0h0m8.5 0h0m0 0h0m2.1 0h0m2.4 0h0m-17.8.1h0m.7 0h0m2.7 0h0m.1 0h0m10.4 0h0m-11.2.1h0m6 0h0m.9 0h0m3 0h0m-14.6.1h0m7 0h0m2.6.1h0m.2 0h0m6.5 0h0m.4 0h0m0 0h0m-11.9.1h0m1.8 0h0m6.1 0h0m7.2 0h0m-20.1.1h0m5.5 0h0m11.3 0h0m-11.8.1h0m11.1 0h0m2.7 0h0m2.1 0h0m.9 0h0m-16.9.1h0m0 0h0m0 0h0m5.2 0h0m4.1 0h0m-7.8.1h0m10 0h0m6.2 0h0m.9 0h0m-17 .1h0m15.5 0h0m-22.2.1h0m.1 0h0m6 0h0m1.9 0h0m1 0h0m1.2 0h0m10.4 0h0m1.1 0h0m-18.3.1h0m8.4 0h0m11.2 0h0m-21 .1h0m6.2 0h0m3.5 0h0m1.4 0h0m10.4 0h0m-16.4.1h0m.6 0h0m2.7 0h0m.3 0h0m.3 0h0m2.8 0h0m4.7 0h0m1.2 0h0m.4 0h0m.2 0h0m.1 0h0m-18 .1h0m4.1 0h0m11.8 0h0m-13.5.1h0m9.1 0h0m7.7 0h0m-14.8.1h0m.2 0h0m7.5 0h0m-3.6.1h0m.5 0h0m0 0h0m.9 0h0m2.6 0h0m6.3 0h0m.8 0h0m1.1 0h0m.5 0h0m-16 .1h0m7.4 0h0m2.7 0h0m.4 0h0m-9.7.1h0m2.6 0h0m1.1 0h0m4.2 0h0m2.5 0h0m.6 0h0m.2.1h0m-4.9.1h0m1.5 0h0m2.3 0h0m-18 .1h0m8.7 0h0m.7 0h0m4.4 0h0m1 0h0m-13 .1h0m3.7 0h0m1.9 0h0m4.4 0h0m.4 0h0m9.2 0h0m-19.5.1h0m.2 0h0m3.1 0h0m5.3 0h0m5.2 0h0m4.4 0h0m2.2 0h0m-21.8.1h0m4.1 0h0m3.7 0h0m11.4 0h0m-2.9.1h0m1.5 0h0m-11.9.1h0m1.1 0h0m2.6 0h0m4.9 0h0m.7 0h0m3.7 0h0m.4 0h0m-19.9.1h0m.5 0h0m.4 0h0m4.5 0h0m11.1 0h0m.9 0h0m-17.3.1h0m1.7 0h0m1.8 0h0m1.4 0h0m5.5 0h0m-10 .1h0m8.7 0h0m-3.2.1h0m6.4 0h0m5.1 0h0m-10.6.1h0m3.7 0h0m1 0h0m5.4 0h0m2.6 0h0m-12 .1h0m-3.2.1h0m.5 0h0m13.7 0h0m-15.4.1h0m5 0h0m.3 0h0m1.5 0h0m2.1 0h0m9.7 0h0m.6 0h0m-22.7.1h0m4.5 0h0m6.1 0h0m1.9 0h0m2.5 0h0m3.6.1h0m3.2 0h0m-19.7.1h0m2.1 0h0m9.3 0h0m1.7 0h0m1.6 0h0m-3.6.1h0m1.6 0h0m.9 0h0m.1 0h0m0 0h0m3.3 0h0m3 0h0m-16.6.1h0m6.3 0h0m2.4 0h0m-10.7.1h0m2 0h0m.8 0h0m4.4 0h0m1 0h0m1.3 0h0m1.5 0h0m.7 0h0m.4 0h0m.4 0h0m1.3 0h0m2.4 0h0m-17.5.1h0m6 0h0m1.9 0h0m2.6 0h0m10 0h0m-18.2.1h0m7.8 0h0m3.5 0h0m-14 .1h0m2.7 0h0m9.2 0h0m.1 0h0m7.2 0h0m-19 .1h0m.6 0h0m9.2 0h0m1.9 0h0m3.9 0h0m3.2 0h0m-19.2.1h0m3.4 0h0m3.5 0h0m8.4 0h0m5.2 0h0m-13.9.1h0m3.3 0h0m.4 0h0m.6 0h0m3.4 0h0m2.5 0h0m-17.6.1h0m.7 0h0m3.2 0h0m2.7 0h0m5.6 0h0m5.1 0h0m4.3 0h0m-22.3.2h0m7.1 0h0m.6 0h0m4.4.1h0m.2 0h0m5.2 0h0m-10.5.1h0m.3 0h0m1.9 0h0m6.4 0h0m2 0h0m.5 0h0m-8.1.1h0m2 0h0m7 0h0m-13.9.1h0m6.8 0h0m3.8 0h0m3 0h0m1.4 0h0m2.3 0h0m.3 0h0m-21.8.1h0m3.2 0h0m.3 0h0m-1.2.1h0m2.9 0h0m15 0h0m1.6 0h0m-21.4.1h0m1.3 0h0m5.1 0h0m4.6 0h0m-8.7.1h0m2.9 0h0m16.8 0h0m-21.3.1h0m.7 0h0m3.4 0h0m.8 0h0m11.7 0h0m-18.7.1h0m.6 0h0m4.1 0h0m.4 0h0m5.2 0h0m12.3 0h0m.2 0h0m.1 0h0m.6 0h0m-20.1.1h0m5.5 0h0m3.3 0h0m1.8 0h0m-13.1.1h0m.8 0h0m1.4 0h0m16.6 0h0m1 0h0m1.1 0h0m1.3 0h0m-15 .1h0m.1 0h0m1.2 0h0m.9.1h0m5.4 0h0m2.1 0h0m2.8 0h0m-14.4.1h0m1.5 0h0m7.5 0h0m4 0h0m2.4 0h0m.4 0h0m.1 0h0m-15.5.1h0m5.5 0h0m.3 0h0m3.8 0h0m-11.3.1h0m.8 0h0m8.5 0h0m8.3 0h0m-18.8.1h0m5.7 0h0m5 0h0m6.2 0h0m-12 .1h0m3.4 0h0m4.6 0h0m-8.4.1h0m9.6 0h0m-10.8.1h0m-4.7.1h0m13.5 0h0m.6 0h0m2.2.1h0m4.7 0h0m-9.9.1h0m.1 0h0m0 0h0m2.9 0h0m5 0h0m.5 0h0m-21.1.1h0m1.8 0h0m2.2 0h0m4.6 0h0m4.3 0h0m2.5 0h0m7.4 0h0m-22.8.1h0m4.5 0h0m.1 0h0m2.2 0h0m1 0h0m6.7 0h0m.6 0h0m-.7.1h0m2.8 0h0m.2 0h0m2.8 0h0m1.3 0h0m-3.5.1h0m-14.9.1h0m.9 0h0m.5 0h0m7.1 0h0m2.1 0h0m3.3 0h0m3.1 0h0m-2.5.1h0m.5 0h0m-12 .1h0m3.6 0h0m1.5 0h0m1.4 0h0m6.4 0h0m2.2 0h0m.2 0h0m-20.2.1h0m10.5 0h0m5 0h0m-3.6.1h0m.1 0h0m.2 0h0m6.1 0h0m1.9 0h0m-18.5.1h0m1.8 0h0m4.8 0h0m6.5 0h0m-7.6.1h0m2.7 0h0m5.9 0h0m5 0h0m-19 .1h0m9.3 0h0m1 0h0m-11.9.1h0m9.3 0h0m2.9 0h0m0 0h0m-12.1.1h0m1.9 0h0m15.4 0h0m-13.7.1h0m8.6 0h0m-12.8.1h0m5.5 0h0m1.7 0h0m3.2 0h0m6.4 0h0m1.9 0h0m2.7 0h0m-23.1.1h0m1.1 0h0m.1 0h0m.7 0h0m5.2 0h0m.1 0h0m3.6 0h0m3.4 0h0m2.6 0h0m5 0h0m-19.6.1h0m.6 0h0m4.5 0h0m.1 0h0m1.5 0h0m6.5 0h0m4.4 0h0m.6 0h0m.2 0h0m.2 0h0m-18.9.1h0m20.2 0h0m-18.7.1h0m4.7 0h0m.2 0h0m1.1 0h0m1.6 0h0m1.8 0h0m-4.9.1h0m5.9 0h0m2.6 0h0m4.7 0h0m-11.4.1h0m2.9 0h0m8.1 0h0m-16.1.1h0m11.1 0h0m.1 0h0m.1 0h0m-15 .1h0m12.2 0h0m1.9 0h0m3.1 0h0m-15.8.1h0m3.3 0h0m4.1 0h0m7 0h0m-6.5.1h0m4 0h0m4.6 0h0m4.5 0h0m-19.1.1h0m1 0h0m5.8 0h0m-7.4.1h0m5.4 0h0m5.2 0h0m3.2 0h0m-10 .1h0m14.4 0h0m-18.2.1h0m4.6 0h0m-7 .1h0m3.3 0h0m3.2 0h0m3.6 0h0m3.2 0h0m.4 0h0m6.6 0h0m1.8 0h0m-16.3.1h0m5.5 0h0m5.7 0h0m-16.8.1h0m6.9 0h0m1.5 0h0m.1 0h0m9.5 0h0m.4 0h0m-18.3.1h0m5 0h0m1.3 0h0m1.2 0h0m-8.6.1h0m2.7 0h0m16.6 0h0m.1 0h0m-19.4.1h0m5.3 0h0m1.9 0h0m2.1 0h0m1.8 0h0m.3 0h0m6.2 0h0m.7 0h0m.6 0h0m1 0h0m1.9 0h0m1.1 0h0m-19.4.1h0m14.1 0h0m1.6 0h0m-15.7.1h0m.1 0h0m.4 0h0m2.4 0h0m3.9 0h0m7.9 0h0m-17.7.1h0m3 0h0m13.6 0h0m3.4 0h0m2.4 0h0m-22.2.1h0m11 0h0m4.3 0h0m6.4 0h0m-14.3.1h0m6.7 0h0m.8 0h0m1 0h0m-8.8.1h0m8.3 0h0m3.7 0h0m-18 .1h0m10.7 0h0m10 0h0m-7.8.1h0m-7.2.1h0m3.5 0h0m-9.7.1h0m.2 0h0m14.2 0h0m5.5 0h0m-19.9.1h0m7.4 0h0m13.9 0h0m-20.8.1h0m.4 0h0m3.6.1h0m1.7 0h0m8.2 0h0m-8.9.1h0m1 0h0m4.7 0h0m3.3.1h0m-12.3.1h0m9.8 0h0m4.1 0h0m-13.7.1h0m17.3 0h0m.2 0h0m-18.3.1h0m16.1 0h0m2.2 0h0m.9 0h0m.6 0h0m-17 .1h0m3 0h0m2.6 0h0m5.7 0h0m4.3 0h0m-13.5.1h0m8.4.1h0m4.5 0h0m1.3 0h0m-20.9.1h0m1.7 0h0m12.4 0h0m-8.4.1h0m2.9 0h0m.6 0h0m-9.6.1h0m10.7 0h0m8.2 0h0m-6.9.1h0m-10.8.1h0m1.8 0h0m1.7 0h0m6 0h0m1.7 0h0m-8.7.1h0m5.3 0h0m3.2 0h0m3.9 0h0m.6 0h0m.9 0h0m-14 .1h0m11.8 0h0m1 0h0m-8.8.1h0m7.2 0h0m-15.2.1h0m.1 0h0m.8 0h0m.8 0h0m.4 0h0m.2 0h0m0 0h0m.1 0h0m.4 0h0m.1 0h0m.5 0h0m.1 0h0m.8 0h0m1.1 0h0m.3 0h0m.1 0h0m.9 0h0m.5 0h0m.3 0h0m.4 0h0m.3 0h0m.6 0h0m.4 0h0m0 0h0m.4 0h0m1.3 0h0m.8 0h0m.4 0h0m.3 0h0m.4 0h0m1.8 0h0m.5 0h0m.1 0h0m.1 0h0m1.5 0h0m.1 0h0m1.1 0h0m1.2 0h0m1.4 0h0m.2 0h0m1.6 0h0m.1 0h0m.1 0h0m.2 0h0m-20.5.1h0m10.6 0h0m1 0h0m6.4.1h0m1.5 0h0m-21.7.1h0m15.8 0h0m1 0h0m3.4 0h0m-1.4.1h0m-8.9.1h0m-10.4.1h0m.7 0h0m3.1 0h0m.5 0h0m.3 0h0m1 0h0m5.3 0h0m2.3 0h0m7.7 0h0m-16 .1h0m-1.7.1h0m12.4 0h0m-12.4.1h0m7.8 0h0m6.2 0h0m-2.6.2h0m1.1 0h0m5.7 0h0m-14.7.1h0m7.1 0h0m1 .1h0m5.5 0h0m-2.4.1h0m-7.1.1h0m-10.2.1h0m2.5 0h0m1 0h0m14.9 0h0m.8 0h0m-19.4.1h0m3.5 0h0m4.7 0h0m3.8 0h0m4.3 0h0m-15.8.1h0m3.4 0h0m.5 0h0m-5.1.1h0m5.9 0h0m12.5 0h0m-4.9.1h0m6.3 0h0m2.5 0h0m-8.2.1h0m3.7 0h0m1 0h0m.8 0h0m2.7 0h0m-20.3.1h0m2 0h0m9.2 0h0m3.6 0h0m-14.7.1h0m8.5 0h0m10.3 0h0m2 0h0m-6.5.1h0m5 0h0m-12.1.1h0m12.4 0h0m-4.4.1h0m.3 0h0m-16.6.1h0m11.1 0h0m5 0h0m-6.7.1h0m.1 0h0m1.5 0h0m-2.8.1h0m2 0h0m0 0h0m5.3 0h0m-9.5.1h0m3.8 0h0m1 0h0m-7 .2h0m6.3 0h0m.7 0h0m4.4 0h0m4.2 0h0m-14.6.1h0m8.4 0h0m.5.1h0m4.6 0h0m.8 0h0m-18.1.1h0m3.3 0h0m12.7 0h0m3.5 0h0m-21 .1h0m2 0h0m11.8 0h0m-13.8.1h0m1.6 0h0m2.7 0h0m5.5 0h0m1.8 0h0m1.3 0h0m.3 0h0m1.4 0h0m1.1 0h0m.8 0h0m5.6 0h0m-17.6.1h0m11.9 0h0m.4 0h0m4.6 0h0m-15.1.1h0m9.1 0h0m.6.1h0m4.3 0h0m-14.7.1h0m2.8 0h0m8.4 0h0m-2.6.1h0m2.2 0h0m-15.1.1h0m3.6 0h0m5.9.2h0m2.6 0h0m2.3 0h0m1.3 0h0m4.1 0h0m-7.9.1h0m3.3 0h0m-14.5.1h0m.4 0h0m5.3 0h0m-.2.1h0m-7.9.1h0m3.6 0h0m3.4 0h0m10.7 0h0m1.7 0h0m-16.6.1h0m1.5 0h0m5.4 0h0m1.9 0h0m4.7 0h0m2.5 0h0m2.9 0h0m-10.6.1h0m3.4 0h0m-4.1.1h0m10 0h0m-11.9.1h0m13.8 0h0m-2.8.1h0m.9 0h0m-12.3.1h0m0 0h0m6.6 0h0m3.5 0h0m4.9.1h0m-16.6.1h0m7.5 0h0m3.1 0h0m.3 0h0m3.5 0h0m.2 0h0m1.7 0h0m-2 .1h0m-5.4.1h0m4.5 0h0m1.7 0h0m-21.2.1h0m4.6 0h0m14.5 0h0m3.5 0h0m-12.8.1h0m-4.1.1h0m10 0h0m7.3 0h0m-20.7.1h0m2.1 0h0m11 0h0m-13.8.1h0m1.9 0h0m.9 0h0m8.3 0h0m9.1 0h0m-15 .1h0m7.3 0h0m3.6 0h0m3.4 0h0m-12.7.1h0m-3.3.1h0m8.2 0h0m6.3 0h0m-6.3.1h0m-13.2.1h0m2.1 0h0m2.3 0h0m.4 0h0m1.9 0h0m7.8 0h0m.5 0h0m3.1 0h0m-10.7.1h0m-7.9.1h0m8.3 0h0m8 .1h0m-15.5.1h0m2.8.1h0m.4 0h0m3.7 0h0m1.5 0h0m1.9 0h0m7.3 0h0m-18.1.1h0m15 0h0m-13.2.1h0m7.3 0h0m5.3 0h0m1.3.1h0m7.2 0h0m-18.7.1h0m2.9 0h0m1.9 0h0m6.6 0h0m-6.5.1h0m4.1.1h0m3.3 0h0m-16.6.1h0m8.9 0h0m9.9 0h0m4.1 0h0m-13.9.1h0m14.2 0h0m-22.6.1h0m4.7 0h0m3.9.1h0m2.5.1h0m.5 0h0m.9 0h0m.7 0h0m8.5 0h0m-19.8.1h0m15.4 0h0m-.4.1h0m-1.6.1h0m4.1 0h0m-17.8.1h0m20.6 0h0m-19.8.1h0m2.5 0h0m7.9 0h0m5.2 0h0m3.7 0h0m-20.7.1h0m2.8 0h0m4.5 0h0m6.9 0h0m3.2 0h0m.3 0h0m2.5 0h0m-20 .1h0m.3 0h0m3.2 0h0m2.3 0h0m-7.6.1h0m0 0h0m1.5 0h0m2.4 0h0m3 0h0m.9 0h0m4.8 0h0m.8 0h0m.9 0h0m5.1 0h0m3.1.1h0m-20.5.1h0m.7 0h0m12.9 0h0m5.3 0h0m.8 0h0m-13.3.1h0m.2 0h0m1 0h0m1.6 0h0m6.1 0h0m4.2 0h0m-19.7.1h0m.4 0h0m1.3 0h0m18 0h0m-13.6.1h0m7.1.1h0m-14.9.1h0m2.1 0h0m2.3 0h0m3.8 0h0m13 0h0m-12.7.1h0m9.2 0h0m-8.6.1h0m2 0h0m-7.9.1h0m-2.7.1h0m4.6 0h0m3.7 0h0m12.2 0h0m-18.9.1h0m-1.7.1h0m11.9 0h0m.5 0h0m.1 0h0m.5 0h0m9.2 0h0m-13.7.1h0m1.2.1h0m11 0h0m-15.5.1h0m2.5 0h0m5.5 0h0m3.4 0h0m-2.8.1h0m7.6.1h0m-20.4.1h0m.8 0h0m4.8 0h0m2.1 0h0m-7.3.1h0m8.7 0h0m-5.4.1h0m2.2 0h0m5.4 0h0m3.5 0h0m6 0h0m-15.2.1h0m-7.1.1h0m18.2 0h0m-17.5.1h0m.2.1h0m1.3 0h0m20.2 0h0m-18.8.1h0m4 0h0m2.5 0h0m.8 0h0m4.3 0h0m-2.2.1h0m-10.7.1h0m12.6 0h0m.3 0h0m-4.7.1h0m2.1 0h0m-3.8.2h0m1.7 0h0m3.8 0h0m1.5 0h0m-7.4.1h0m7.1 0h0m6.7 0h0m-21.3.1h0m.7 0h0m.2 0h0m8.4 0h0m1.4 0h0m2.9 0h0m1.8 0h0m.4 0h0m1.2 0h0m1.3 0h0m.2 0h0m.1 0h0m-18.7.1h0m19.4 0h0m-18.4.2h0m1.1 0h0m.4.1h0m10 0h0m2.6 0h0m1.7.1h0m-17.1.1h0m2.1 0h0m2.5 0h0m1.5.1h0m6.6 0h0m9.8 0h0m-20.4.1h0m1.3.1h0m6.2 0h0m1.4 0h0m4.3 0h0m-13.2.1h0m-1.4.1h0m10.8 0h0m7.7 0h0m-3.5.1h0m-7.4.1h0m-1.3.1h0m5 0h0m5.2 0h0m5.3 0h0m-23 .1h0m5.3 0h0m15 0h0m-13.7.1h0m1.5 0h0m-1.5.1h0m4.3 0h0m-11.3.1h0m3.5 0h0m10.8 0h0m1.7 0h0m4.8 0h0m-18.4.1h0m-.1.1h0m3.2 0h0m.6 0h0m1.8 0h0m1.2 0h0m-7.8.1h0m.4 0h0m14.1 0h0m3.2 0h0m-11.1.1h0m5.4 0h0m2 0h0m1.8.1h0m2.4 0h0m-1.1.1h0m-15.4.1h0m1.6 0h0m12.3 0h0m1.2.1h0m3.4 0h0m1 0h0m-15.7.1h0m6.5 0h0m2.5 0h0m-3.7.1h0m7 .4h0m-8.7.1h0m-8.5.1h0m12.6 0h0m-10.8.1h0m4.1 0h0m10.7 0h0m1.1 0h0m-14 .1h0m6.3 0h0m-2.6.1h0m11.5 0h0m-4.7.1h0m-12.5.1h0m-2.8.1h0m5.9 0h0m9.2 0h0m1 0h0m4.2 0h0m-7.6.1h0m5.6 0h0m1.3 0h0m-7.5.1h0m7.2 0h0m-18.5.1h0m2.1 0h0m3.9.1h0m5.8 0h0m-9.6.1h0m11.1 0h0m1 0h0m4.9 0h0m-15.8.1h0m15 0h0m-19.7.1h0m3.8 0h0m2.1 0h0m4.1 0h0m4.6 0h0m1.1 0h0m-14.6.2h0m18.4 0h0m-10.2.1h0m1.6 0h0m-9 .1h0m6.2 0h0m1.4 0h0m.9 0h0m2.6 0h0m.8 0h0m.8 0h0m.3 0h0m.6 0h0m.2 0h0m7.2 0h0m-19 .1h0m15.3 0h0m2.4 0h0m-11.5.1h0m9.5 0h0m3 0h0m-12.4.1h0m-5.9.1h0m6 0h0m-.7.1h0m1.2 0h0m.5 0h0m.8 0h0m1.6 0h0m1.9 0h0m-15.4.1h0m3.1 0h0m8.4 0h0m1.5 0h0m8.7 0h0m-18.8.1h0m11.4 0h0m6.8 0h0m-15.4.1h0m7 0h0m-6.1.1h0m10.2 0h0m-13.3.1h0m14 0h0m3 .1h0m2.5 0h0m-13.9.2h0m2.2 0h0m-4.4.2h0m6.7 0h0m1.4 0h0m1.1 0h0m-15.1.1h0m7.1 0h0m3 .1h0m2.4 0h0m.3 0h0m-10.8.1h0m8.2 0h0m-1.6.1h0m12.9 0h0m-21.4.2h0m1 0h0m8.7 0h0m4.6 0h0m1.2 0h0m-10.5.2h0m7.1 0h0m-12.9.1h0m1.6 0h0m10.7 0h0m2.3 0h0m1.4 0h0m-8.8.1h0m5.7 0h0m-5.6.1h0m12.3 0h0m-19.4.1h0m13.9 0h0m2.7 0h0m-9.1.1h0m4.4 0h0m-11.2.1h0m2.7 0h0m.8 0h0m15.5 0h0m-14.7.1h0m10.8 0h0m5.9 0h0m-19.9.1h0m19.7 0h0m-11.3.1h0m2.6 0h0m5.1 0h0m4.7 0h0m-20.6.1h0m7.2 0h0m-8.2.1h0m5.7 0h0m-.1.1h0m3.9.1h0m.5.1h0m-11.8.2h0m4.7.1h0m4.9 0h0m5.3 0h0m1.2 0h0m-5.3.1h0m4.4 0h0m-11.6.1h0m13.7 0h0m.1 0h0m-7.5.1h0m-5.3.1h0m.7 0h0m14.1 0h0m-11.2.1h0m14.6 0h0m-14.3.1h0m-7.6.1h0m6.8 0h0m2.8.1h0m.6 0h0m.6 0h0m4.7 0h0m-15.8.1h0m2.2 0h0m1 0h0m19.3 0h0m-17.6.1h0m7.5 0h0m.6 0h0m3.6 0h0m5.4 0h0m-12.2.1h0m1.6.1h0m-11.8.1h0m4.2 0h0m.8 0h0m-1.4.1h0m1.5 0h0m4.8 0h0m3.7 0h0m1.1 0h0m8 0h0m-9.2.1h0m-3.1.1h0m3.7 0h0m-13.6.1h0m7.2 0h0m1.3 0h0m12.2 0h0m1 0h0m-18.4.1h0m-2.3.1h0m1.8 0h0m14 0h0m1 0h0m-6.9.1h0m8.2.1h0m-19.8.1h0m11.9 0h0m1.8 0h0m-13 .2h0m1.7 0h0m-1.1.1h0m1.5 0h0m8.6 0h0m8.6.1h0m-17.8.1h0m10.4 0h0m5.5 0h0m-5.4.1h0m-5.4.2h0m3.8 0h0m11.1 0h0m.8.3h0m-3.2.1h0m-5.8.2h0m5.9 0h0m2 0h0m-21.2.1h0m13.8 0h0m-8.4.1h0m.6 0h0m-1.3.1h0m.5 0h0m12.7 0h0m3.3 0h0m-19.2.1h0m14.8 0h0m-.4.1h0m-16.5.1h0m14.2 0h0m.5 0h0m1.8 0h0m1.6 0h0m3.6 0h0m.1 0h0m-16.2.1h0m.6 0h0m4.9 0h0m7.3 0h0m-16.4.1h0m1.8 0h0m13.3.1h0m2 0h0m-15.7.1h0m.8 0h0m4 .1h0m2.5 0h0m-9.8.1h0m.2 0h0m12.4 0h0m3.1 0h0m-15 .1h0m11.1 0h0m4 0h0m0 0h0m-2.4.1h0m8.1 0h0m-11.7.2h0m6.6 0h0m-.3.1h0m1.2 0h0m-10.8.1h0m1 0h0m9.9 0h0m-13.6.1h0m3.1 0h0m-1.5.1h0m7.1 0h0m4.3 0h0m-4.1.1h0m1.2 0h0m4.4.1h0m-15.9.1h0m5.7 0h0m10.2 0h0m-11.7.1h0m10.7 0h0m-17.4.1h0m6.9 0h0m.4 0h0m6.5.1h0m2.9 0h0m3.6 0h0m-18.1.1h0m.6 0h0m4.2 0h0m-7.4.1h0m.3 0h0m10.1.3h0m6.4 0h0m2.8 0h0m-13.2.1h0m-.4.1h0m3.3.1h0m3.1 0h0m-10.9.1h0m8.3 0h0m7.2 0h0m-11.7.1h0m13.7 0h0m.3.1h0m-8.7.2h0m3.3 0h0m3.6.3h0m-17.9.1h0m.2 0h0m.2 0h0m.2 0h0m.2 0h0m0 0h0m.4 0h0m.5 0h0m.1 0h0m.3 0h0m0 0h0m.7 0h0m.3 0h0m.1 0h0m.3 0h0m.8 0h0m1.1 0h0m1 0h0m0 0h0m0 0h0m.1 0h0m.3 0h0m.3 0h0m.3 0h0m.6 0h0m0 0h0m.3 0h0m.2 0h0m.4 0h0m.5 0h0m.1 0h0m.8 0h0m.2 0h0m.8 0h0m1.2 0h0m.5 0h0m.5 0h0m.7 0h0m.1 0h0m.2 0h0m.1 0h0m0 0h0m.4 0h0m.1 0h0m.4 0h0m1.5 0h0m.3 0h0m1 0h0m.1 0h0m.2 0h0m.2 0h0m.1 0h0m.2 0h0m.1 0h0m.2 0h0m.7 0h0m.5 0h0m.4 0h0m.1 0h0m.5 0h0m.6 0h0m.4 0h0m.2 0h0m-10.8.2h0m-5.1.1h0m1.8 0h0m1.7 0h0m-3.1.2h0m-.5.1h0m10.9 0h0m.6 0h0m3.5 0h0m1.1 0h0m-9.7.2h0m-4.4.1h0m3.5.5h0m-11.7.1h0m15.1 0h0m-4.2.2h0m5.8 0h0m-13.2.1h0m11.4 0h0m.6 0h0m2.7 0h0m2.3 0h0m1.4 0h0m-10.4.2h0m-7.2.1h0m8 0h0m-6.9.1h0m3.1.1h0m-3.6.1h0m12.2 0h0m2.6 0h0m-13.9.1h0m16 0h0m-13.3.2h0m13.5 0h0m-8.9.2h0m-2.5.1h0m-8.8.1h0m10 0h0m2.3 0h0m-15.1.2h0m7.9 0h0m13.9 0h0m-9.2.1h0m-4.2.1h0m5 0h0m1.6 0h0m3.3 0h0m1.2 0h0m-2.1.1h0m-4.4.1h0m2.1 0h0m-13.9.1h0m5.7 0h0m-3.5.1h0m3.7 0h0m6.6 0h0m-10.6.1h0m18.4 0h0m-21.9.1h0m22.5 0h0m-22.5.1h0m3.4.1h0m8.5.1h0m5.4 0h0m-16.8.1h0m5.6 0h0m2.3 0h0m14.8.1h0m-16.8.1h0m5.9.2h0m-4.2.1h0m14.8.1h0m-20.4.1h0m11 .2h0m7.9.1h0m1.8 0h0m-22.3.2h0m9 0h0m2 0h0m6.8 0h0m-11.6.1h0m1.5 0h0m1.8 0h0m9.7 0h0m.2 0h0m2.7 0h0m.1 0h0m-20.7.1h0m7.7 0h0m4.4 0h0m.2 0h0m-13 .1h0m0 .1h0m1.7.1h0m.9 0h0m3.6.2h0m13.9 0h0m-14.1.1h0m2.9 0h0m6.7.1h0m5.9.1h0m-17.1.1h0m15.9 0h0m-13.4.3h0m3.9 0h0m9.4 0h0m-7.6.1h0m3.9 0h0m2.4 0h0m-18.5.2h0m3 .2h0m5.9 0h0m-1.3.1h0m8.3.1h0m3.5 0h0m-18.6.1h0m-.2.1h0m15.2.1h0m-8.4.1h0m1.9 0h0m6.8 0h0m-11.6.1h0m4.2 0h0m4.7 0h0m-6.9.1h0m1.4.1h0m1.8 0h0m3.4 0h0m-12 .1h0m2.8 0h0m9.5 0h0m3.2.1h0m-.1.1h0m-16.5.1h0m7.1 0h0m-.6.1h0m4.7 0h0m-9.3.1h0m8.6 0h0m-1.7.3h0m9.4 0h0m-10.3.1h0m.6 0h0m7.8.1h0m-10.8.3h0m7.5 0h0m1.4 0h0m-14.6.1h0m3.6 0h0m5.6.1h0m11.7 0h0m-19.4.1h0m6.9 0h0m4.7 0h0m6.5 0h0m-21.4.1h0m11.5 0h0m4.4 0h0m3.6 0h0m-1 .3h0m-16.9.1h0m4.7 0h0m12.6 0h0m-6.5.1h0m5.2 0h0m-5.2.2h0m9.2 0h0m1.7 0h0m-2 .1h0m-16.8.1h0m11.4 0h0m-15.6.1h0m8.9 0h0m7.5 0h0m.8 0h0m-17 .1h0m5.6 0h0m-4.3.1h0m10.6 0h0m-4.7.1h0m11.1 0h0m-7.7.1h0m6.6.1h0m3.4.1h0m-11 .2h0m9.2.1h0m2 .1h0m-17.1.1h0m11.3 0h0m-11.3.1h0m2.3 0h0m3.9 0h0m.6.2h0m-7.4.1h0m1.4 0h0m2.4.2h0m0 0h0m5.4 0h0m-11.2.1h0m3.4 0h0m5 0h0m10.1 0h0m-12.6.2h0m.7 0h0m-1.5.1h0m.7 0h0m5.3 0h0m4.8 0h0m2.2 0h0m-17.9.2h0m19.9 0h0m-9.5.1h0m4.9.1h0m-7 .1h0m3.7 0h0m2.9.3h0m1.5 0h0m2.7 0h0m-19.4.3h0m15.7 0h0m5.3 0h0m-12.5.1h0m.7 0h0m9.7 0h0m-2.3.1h0m-15.7.1h0m1.5 0h0m.4 0h0m5.2 0h0m.6 0h0m2.4 0h0m2 0h0m1.2 0h0m6.2 0h0m-16 .3h0m4 0h0m2.8 0h0m-8 .1h0m5.4 0h0m12.7.1h0m-22.8.1h0m20.7 0h0m-15.3.1h0m4.8 0h0m6.6 0h0m-7.9.1h0m-2.8.1h0m.3 0h0m-.1.1h0m11.5 0h0m-.5.2h0m-11.2.1h0m3.1 0h0m3.3 0h0m-10 .2h0m3.1 0h0m8.7 0h0m-8.1.1h0m7.9 0h0m2.3 0h0m1.5 0h0m4 .1h0m-9.1.1h0m-3.6.1h0m-6.4.1h0m5.5 0h0m6.8 0h0m2 0h0m-11.5.1h0m7 0h0m.7.1h0m2.7 0h0m.6.1h0m4.8 0h0m-21.2.1h0m7.1 0h0m9.9 0h0m-16.5.1h0m.2 0h0m3.6 0h0m-2.6.2h0m6.1 0h0m14.9 0h0m-8.5.1h0m7.7 0h0m-17.3.2h0m9.9 0h0m-13.3.1h0m11.1 0h0m2.8 0h0m-6 .1h0m3.2 0h0m1.6 0h0m-9.1.1h0m2 0h0m3.2 0h0m.1 0h0m6.9 0h0m-16 .1h0m10.6 0h0m-7.8.1h0m14.4 0h0m2.6 0h0m-11.8.1h0m12.3.1h0m2 .1h0m-18.7.1h0m9.9 0h0m1.1 0h0m5.2 0h0m.9 0h0m-17.3.1h0m2.4 0h0m15.1 0h0m-14.8.1h0m3.6 0h0m-9.7.1h0m1.9 0h0m6.1.1h0m10.5.1h0m-14.4.1h0m10.9.1h0m-8.2.2h0m2.6 0h0m9.9 0h0m-8.1.1h0m5.4 0h0m3.1 0h0m.7 0h0m-17.1.1h0m7.1 0h0m11 0h0m-17.3.1h0m-4.7.1h0m4.9 0h0m3.1 0h0m5.9 0h0m5.8 0h0m-16.6.1h0m15.9 0h0m-9.3.1h0m.9 0h0m2.8 0h0m3.2 0h0m-16.9.1h0m8.3 0h0m1.9 0h0m1.9.2h0m8.9 0h0m-9.7.1h0m12 0h0m-.1.2h0m-3.9.1h0m3.8 0h0m-16.7.3h0m3 0h0m3.8 0h0m-12.1.1h0m2 .1h0m12 0h0m1.8 0h0m5.8 0h0m-12.9.1h0m-10.1.2h0m18.4.1h0m-14 .1h0m18.8 0h0m-11.3.1h0m-10.7.1h0m13.8 0h0m2.5 0h0m-11.5.1h0m8.9 0h0m3 .1h0m2.5 0h0m3.1.1h0m-19.7.3h0m16 0h0m-4.7.1h0m-10.3.1h0m-4.1.1h0m18.1 0h0m-17.3.1h0m4.1 0h0m17.9 0h0m-18.3.1h0m16.3 0h0m-18.2.1h0m6.4.1h0m-8.8.3h0m1.3 0h0m1.3 0h0m.8 0h0m.3 0h0m.6 0h0m.7 0h0m1.1 0h0m.1 0h0m.8 0h0m.8 0h0m.1 0h0m.4 0h0m3.1 0h0m.1 0h0m.6 0h0m.4 0h0m.3 0h0m1.3 0h0m.5 0h0m.3 0h0m.1 0h0m.3 0h0m1.6 0h0m.2 0h0m.2 0h0m.1 0h0m.9 0h0m.5 0h0m1.4 0h0m.3 0h0m.5 0h0m.5 0h0m.5 0h0m.3 0h0m-19.3.1h0m13.5 0h0m-5.8.1h0m-3.3.1h0m11.8.2h0m-6.6.1h0m9 0h0m-20.3.1h0m13.2 0h0m-3.4.1h0m.8.1h0m2.5.1h0m-14.1.2h0m.6 0h0m5.4 0h0m0 0h0m15.8 0h0m-17.4.1h0m15 0h0m2.1.1h0m-12.6.1h0m-6.3.1h0m2.7 0h0m1.7 0h0m-2.4.1h0m-1.4.1h0m5 0h0m-7.8.1h0m12.9 0h0m-3.6.4h0m10.8.2h0m-2.3.1h0m1.8 0h0m-20.5.1h0m5.2 0h0m6.4 0h0m10.9 0h0m-22.6.1h0m1.5 0h0m8 0h0m2 .1h0m7.4 0h0m-16.8.1h0m8.9 0h0m-10.3.1h0m13.1.2h0m8.7 0h0m-9.3.3h0m-4.6.1h0m2.1 0h0m9 .3h0m-4.8.1h0m-5.4.1h0m3.3 0h0m3.3 0h0m6.2 0h0m-15.2.1h0m8.1 0h0m0 0h0m.3 0h0m4.7.1h0m-1 .1h0m-5.7.2h0m-10.8.2h0m-.4.1h0m7.7 0h0m-6.7.1h0m1.7 0h0m2.1.1h0m4 0h0m6.3 0h0m1.4 0h0m-10.2.1h0m4.1 0h0m9.6 0h0m-19.4.4h0m4.6 0h0m.6 0h0m.3 0h0m12.9 0h0m-19 .1h0m9.6 0h0m5 0h0m-12.7.1h0m11 0h0m-10.4.1h0m5.3 0h0m-8 .1h0m-1.9.2h0m.8 0h0m1.1 0h0m9.7 0h0m-7.3.1h0m8.4 0h0m-8.5.1h0m-.9.1h0m3.3.1h0m-6.7.1h0m1 0h0m9 0h0m-9.1.1h0m8.8 0h0m4.9.2h0m-8.2.1h0m8 0h0m-12.5.1h0m6 0h0m.5.1h0m.5 0h0m1.5 0h0m5.1.1h0m1.4 0h0m-6.6.1h0m8.4.2h0m-4.9.2h0m3.6.1h0m-9.3.1h0m-6.4.1h0m3.4 0h0m13.5 0h0m-16.4.2h0m-2.4.1h0m12.3 0h0m-9.2.1h0m9 0h0m-6.7.1h0m-4.3.1h0m15.1 0h0m-6.9.1h0m-1.5.2h0m13.3.1h0m-19 .4h0m3.4 0h0m5.1 0h0m7.7 0h0m-15.2.3h0m19.9 0h0m-14.6.1h0m1.4 0h0m1.5 0h0m.4 0h0m2.8 0h0m2 0h0m1.8 0h0m.8 0h0m.1 0h0m1.8 0h0m1.1 0h0m-16.8.1h0m14.6 0h0m.2.1h0m-7 .2h0m-2.5.1h0m4 0h0m-13.1.1h0m7.1.2h0m1.7 0h0m-3.6.1h0m14 0h0m-1.1.2h0m-3.9.1h0m.4 0h0m6.9 0h0m-22.8.3h0m6.2.1h0m16.2 0h0m-18.3.1h0m8 0h0m5.3 0h0m-16.5.1h0m7.5.2h0m11 0h0m-9.1.1h0m2.5 0h0m1.7 0h0m4.5 0h0m-.5.1h0m-7.7.1h0m.3 0h0m-3.7.1h0m5.9 0h0m6.8.1h0m-18.2.1h0m9.4.2h0m-6 .1h0m-2.8.1h0m7.9 0h0m4 0h0m5.8 0h0m-17.2.1h0m-3.8.1h0m14.8.1h0m-13.1.1h0m4.3 0h0m8.1 0h0m-8.2.1h0m9.6.1h0m.3 0h0m-5.9.1h0m-5.8.2h0m11 0h0m-8.1.1h0m9.1 0h0m-7.5.1h0m-3.8.2h0m.2 0h0m3 .5h0m10.2 0h0m-3.2.1h0m5.1 0h0m-15.6.1h0m6.4 0h0m2.6 0h0m-12.7.1h0m17.8 0h0m4.7.1h0m-21.7.1h0m10 0h0m7.9 0h0m.1 0h0m-12.6.1h0m14.2.1h0m-17.1.1h0m3.9 0h0m-6.5.1h0m1.1 0h0m1.6 0h0m3.7 0h0m.1 0h0m1.7 0h0m1.5 0h0m8.1 0h0m-1 .1h0m-17.4.1h0m17.7 0h0m-6.6.2h0m5.1 0h0m1.9 0h0m1.1 0h0m-14.8.2h0m3.2 0h0m-5.5.2h0m-2.8.1h0m4.3 0h0m3.7 0h0m-7.6.1h0m7 .3h0m1.9.1h0m3.8.2h0m-11.2.2h0m5.8 0h0m11.9 0h0m-15.3.1h0m11.3.2h0m-10.8.1h0m17 0h0m-6.2.1h0m-7.1.2h0m.4.2h0m-4.1.1h0m-.8.1h0m13.6.1h0m-10 .1h0m-5.1.1h0m18.3 0h0m-15.6.2h0m8 .1h0m2.3 0h0m-11.4.1h0m1.4 0h0m5 0h0m5.3 0h0m7.7 0h0m-8.6.1h0m6.5.1h0m-12.2.1h0m2.8.2h0m10.5 0h0m-17.5.1h0m3 0h0m6.6.1h0m4.1 0h0m-.6.1h0m-8.1.1h0m8.7 0h0m-18.4.1h0m-.3.1h0m2.2 0h0m14.8.1h0m-8.3.1h0m5.7 0h0m.2.1h0m1.7 0h0m4.3 0h0m-16.1.1h0m13.8 0h0m-14.1.3h0m11.1 0h0m4.4 0h0m-11.3.1h0m.4.1h0m-7.4.1h0m7.1 0h0m-1.4.1h0m-3.7.1h0m19.3 0h0m-21 .3h0m6.1.1h0m.3 0h0m15.3 0h0m-20.9.3h0m3.6 0h0m11.2 0h0m-7.8.1h0m6.5.1h0m1.2 0h0m4 0h0m-11.6.1h0m7.1.1h0m5.7.1h0m-6.9.1h0m4.5 0h0m-13.1.1h0m12 0h0m-9 .1h0m2 .1h0m-8.6.1h0m4.2 0h0m1.7.1h0m6.1.2h0m2.8.1h0m-11.3.1h0m7.3 0h0m2.4.1h0m-16.1.1h0m11.5 0h0m1.6.1h0m-8.8.1h0m12.9 0h0m5.2 0h0m-20.4.1h0m11.8.1h0m.3 0h0m1.5.1h0m-15.9.1h0m23.2 0h0m-22.9.2h0m23 0h0m-5.9.1h0m3.5 0h0m-16.9.1h0m1.7 0h0m14.4 0h0m-14.6.1h0m7.5 0h0m-.2.1h0m5 0h0m-16.3.1h0m5.5 0h0m3 0h0m2 0h0m5.7 0h0m5 .1h0m-6.6.1h0m-11.6.2h0m17.7 0h0m-7.4.1h0m-2.7.1h0m8.9 0h0m-19.8.2h0m1.2.1h0m6.9 0h0m11.7 0h0m-21.3.1h0m15.1.1h0m-5.2.2h0m2.4 0h0m6.3 0h0m-3.3.2h0m1.8 0h0m2.5 0h0m-4.3.1h0m3.6 0h0m3.8 0h0m-20.4.1h0m1.6 0h0m-2.3.1h0m18 0h0m-5.9.1h0m.8.1h0m-4.3.2h0m13.3 0h0m-19.6.3h0m6.5 0h0m-9.5.3h0m1.5 0h0m.5 0h0m9.4 0h0m5.6 0h0m-10.7.1h0m.4.1h0m11 .1h0m4.5 0h0m-6 .1h0m6 0h0m-13.6.1h0m2.9 0h0m3.3 0h0m5.1 0h0m-13.2.3h0m1.3 0h0m12.5 0h0m-11.6.2h0m.7 0h0m7.5 0h0m1 0h0m3.6 0h0m-7.8.2h0m5.9 0h0m.7 0h0m-4 .1h0m-3 .1h0m1.3.2h0m-11.2.2h0m1.9 0h0m17 0h0m-12.1.2h0m6.9 0h0m-9.7.1h0m1.4 0h0m.6 0h0m3.2 0h0m-11.9.4h0m18.6 0h0m-9 .1h0m-7 .1h0m.1.2h0m6.1 0h0m-8.6.1h0m.1.1h0m-.9.2h0m9.8.1h0m12.3 0h0m-17.2.1h0m1.6 0h0m2.9 0h0m.4.1h0m7.8 0h0m-17.7.2h0m21.1 0h0m.7 0h0m-17.4.1h0m3.8 0h0m2 .1h0m11.3 0h0m-20.3.1h0m.5 0h0m1.3 0h0m8.3 0h0m7.6 0h0m-8.9.1h0m2.7 0h0m1.5 0h0m8.3 0h0m-13.8.2h0m-4.6.1h0m10.8.1h0m5.9 0h0m-17.1.1h0m.1 0h0m-4.9.1h0m6.7.1h0m10.7 0h0m-1.9.1h0m-2.1.3h0m-10.6.1h0m3.7 0h0m1 0h0m2.6 0h0m-4.3.1h0m15.7 0h0m-3.2.1h0m-16 .1h0m9.9 0h0m2 0h0m3.7 0h0m.9.1h0m4.3 0h0m-11.5.1h0m10.6 0h0m-19.2.1h0m5.6.1h0m12.7.1h0m-.3.1h0m-20 .1h0m20.3.6h0m-20.4.3h0m0 0h0m.1 0h0m.1 0h0m.6 0h0m.9 0h0m0 0h0m.5 0h0m0 0h0m.1 0h0m.2 0h0m1.2 0h0m.2 0h0m.4 0h0m0 0h0m.1 0h0m.2 0h0m0 0h0m0 0h0m.1 0h0m.1 0h0m1.1 0h0m.2 0h0m.1 0h0m.2 0h0m.1 0h0m.3 0h0m0 0h0m.4 0h0m.3 0h0m.3 0h0m.2 0h0m0 0h0m.2 0h0m.7 0h0m.4 0h0m.4 0h0m.1 0h0m.2 0h0m.6 0h0m.1 0h0m.1 0h0m.2 0h0m0 0h0m.1 0h0m.1 0h0m0 0h0m.2 0h0m.4 0h0m0 0h0m.1 0h0m.5 0h0m.1 0h0m.4 0h0m.1 0h0m.4 0h0m0 0h0m.1 0h0m.1 0h0m0 0h0m.9 0h0m0 0h0m.1 0h0m.5 0h0m.5 0h0m.3 0h0m0 0h0m0 0h0m1 0h0m.5 0h0m.5 0h0m.1 0h0m0 0h0m.3 0h0m.1 0h0m0 0h0m.4 0h0m0 0h0m.1 0h0m.6 0h0m.1 0h0m0 0h0m.2 0h0m.5 0h0m.4 0h0m.7 0h0m.1 0h0m.1 0h0m0 0h0m.1 0h0m.1 0h0m.3 0h0m.3 0h0m.2 0h0m.2 0h0m-16.8.1h0m11.9.3h0m-1.7.1h0m-3.1.1h0m9.4 0h0m-8.6.1h0m-11.4.2h0m1.6 0h0m7.6 0h0m-7.3.1h0m8.8 0h0m-6.6.3h0m1.3 0h0m10.3.3h0m-11.1.1h0m14.4.1h0m-11.2.1h0m-3.4.1h0m15.4 0h0m-22.2.1h0m19.2.1h0m-15.4.1h0m11.8.1h0m-14.2.1h0m11.3.1h0m-9.2.1h0m-1.5.1h0m7.7 0h0m5.1.1h0m-4.1.1h0m4.4.1h0m-9 .3h0m2.6 0h0m6 0h0m4.6.1h0m-12.8.2h0m2.4.1h0m10.6 0h0m2.9 0h0m-9.6.2h0m-12.9.1h0m4 0h0m4.4.1h0m3.7 0h0m-8.4.1h0m17.2.1h0m-12.7.1h0m1.7.1h0m5.4.1h0m-15.8.1h0m12.1 0h0m-5.3.1h0m8.2 0h0m5 0h0m1.8 0h0m-13.5.1h0m13.1 0h0m1.6 0h0m-15.1.1h0m.4 0h0m2.9 0h0m3.3 0h0m-4.9.1h0m5.6 0h0m6.4.3h0m-10 .1h0m9 0h0m-2.8.2h0m-16 .3h0m10.7 0h0m-.2.1h0m-.8.1h0m2.9 0h0m1.5.1h0m4.5 0h0m-19.4.1h0m11 0h0m-4.1.1h0m5.5 0h0m2.9 0h0m-12.2.2h0m16.4 0h0m-8.7.1h0m-9.9.1h0m4.5 0h0m11.4.2h0m3 .1h0m-16.3.2h0m5.2.4h0m-4.4.2h0m16.3 0h0m-19.4.1h0m-.3.1h0m17.9 0h0m-.8.1h0m-15.5.2h0m6.5.1h0m3.3.2h0m-8.7.1h0m3 0h0m7 0h0m-13.6.1h0m.1 0h0m1.7 0h0m3.2.1h0m6.6.1h0m.5.2h0m-11 .1h0m1.4 0h0m13.2 0h0m-15.5.1h0m2.3.1h0m0 0h0m-2.7.1h0m5.6 0h0m1.5.1h0m12.9 0h0m-15.1.1h0m-1.3.2h0m13.6 0h0m3.4.1h0m-19.6.1h0m9.4.1h0m5.6 0h0m-3.2.1h0m-12.3.1h0m5.8 0h0m-1.6.1h0m12.7 0h0m-14.7.1h0m8.5 0h0m8.4 0h0m-18.4.1h0m1.4.1h0m1.1 0h0m-2.8.1h0m13.9 0h0m3.1 0h0m3.3.1h0m-16.1.3h0m16.3 0h0m-20.5.1h0m7.3 0h0m9.8 0h0m-15.7.2h0m2.3.1h0m.6 0h0m5 0h0m-8.2.1h0m2.6 0h0m12.5 0h0m-13.4.1h0m9 0h0m-12.1.1h0m6.1 0h0m14.2.1h0m-16.9.2h0m4 .1h0m7.2.1h0m-8.7.2h0m6.7 0h0m-9.5.1h0m5.2 0h0m-8.8.1h0m19.9 0h0m-6.1.1h0m7.8 0h0m-21.6.2h0m10.5 0h0m2.9.1h0m1.8 0h0m3.9 0h0m1.9 0h0m0 0h0m.5 0h0m-11.7.2h0m10 .3h0m-17.3.1h0m-1.6.2h0m2 0h0m13 .1h0m-7.4.1h0m2.5.1h0m3.7.1h0m5.8 0h0m-10.6.1h0m-1.2.1h0m-1.2.2h0m13.8 0h0m-5 .1h0m-17 .2h0m4.7 0h0m-4.8.4h0m11.6 0h0m11.5 0h0m-18 .1h0m2.1 0h0m8.3 0h0m-12.8.2h0m8 .1h0m-1.7.1h0m6.8 0h0m.2 0h0m-13.9.1h0m7.5.2h0m-1.9.1h0m-4 .1h0m13.3.1h0m-13.5.1h0m19.6.1h0m-16.4.1h0m9.3 0h0m-14.4.1h0m16.3.2h0m-11.1.1h0m3 0h0m7.5 0h0m-.1.1h0m4.4.1h0m-4.7.1h0m3.4 0h0m2.6.1h0m-15.5.1h0m8.3.1h0m-15.6.1h0m20.4 0h0m-18.8.1h0m13.2 0h0m3.8.1h0m-17.2.4h0m19.9 0h0m-1.8.1h0m1.8 0h0m-12 .2h0m3.2.2h0m-11.9.1h0m.3 0h0m.1 0h0m5.4 0h0m1.6 0h0m2.3 0h0m1.9 0h0m5.9 0h0m-7.2.1h0m3.6 0h0m1.6.1h0m-13.7.2h0m9.1.1h0m.9 0h0m-8.5.1h0m17.9 0h0m-5.4.1h0m-16.1.1h0m7.2.1h0m3.7 0h0m-6.7.1h0m10.4.3h0m-4.8.1h0m7.9.1h0m2.3 0h0m-3.9.1h0m-.7.1h0m-8.4.2h0m3.6.1h0m-.4.1h0m.6 0h0m6.1 0h0m-17.6.1h0m11.3 0h0m-8.5.1h0m.6 0h0m8.6 0h0m-5.8.1h0m-.2.1h0m13.3 0h0m-4 .1h0m4.1 0h0m3.5.2h0m-7.6.1h0m-4.1.3h0m2 0h0m6.1 0h0m-8.5.1h0m2.8 0h0m2.4 0h0m-16 .1h0m0 0h0m5.8 0h0m4.5 0h0m-7.6.2h0m0 .1h0m2 0h0m10 0h0m4.8.1h0m-6.3.2h0m1.1.1h0m-3.8.2h0m-5 .1h0m10.3 0h0m-1.6.1h0m2.3 0h0m-16.7.2h0m21.5.1h0m-8 .1h0m.1 0h0m-10.2.1h0m5.3.1h0m7.8 0h0m-5.7.1h0m10.7 0h0m.6 0h0m-11.2.1h0m1 0h0m8.3 0h0m-7.4.2h0m1.5 0h0m-14 .2h0m.2 0h0m5 0h0m.3 0h0m.9 0h0m1.4 0h0m.7 0h0m1 0h0m.4 0h0m4.8 0h0m7.7 0h0m-.5.1h0m-13.4.1h0m2 0h0m-10.5.1h0m2 0h0m6.2 0h0m-8 .2h0m6 0h0m-3.9.3h0m12.5 0h0m-10.5.1h0m4.1.2h0m8.6 0h0m-14.9.1h0m12.8 0h0m-2.5.2h0m3.2 0h0m7 0h0m-9.8.1h0m-12.6.1h0m8.6 0h0m2.3 0h0m-7.2.2h0m17.8 0h0m1.1 0h0m-3.8.1h0m2.6.3h0m-3 .1h0m-16.7.3h0m7 .1h0m7.3.1h0m5 0h0m-20.7.1h0m2.5 0h0m-.1.1h0m8.3 0h0m-9.2.1h0m7.2 0h0m-9.2.1h0m1.5 0h0m9.2 0h0m1.8 0h0m-1.8.1h0m1.9.2h0m-9.3.1h0m.5 0h0m1.3 0h0m16.5 0h0m-17.1.1h0m9 .2h0m2.9 0h0m6.4 0h0m-20.6.1h0m15.6.1h0m-6.4.1h0m.8 0h0m6.8 0h0m1.4 0h0m-5.9.1h0m-2.1.1h0m.4.2h0m1.8 0h0m7.2.1h0m-21.5.1h0m6.3.1h0m4.6 0h0m-10 .1h0m-.4.1h0m14.1.1h0m3.7 0h0m-16.1.1h0m6.5 0h0m1.4 0h0m5.5 0h0m2 0h0m-5.5.1h0m-.4.1h0m-9.3.1h0m19.2.1h0m-4.1.1h0m-16.7.1h0m6.4 0h0m15.1.1h0m-18.9.1h0m1 0h0m-3.1.1h0m5 0h0m9.6 0h0m-3.5.1h0m-2.8.2h0m7.1 0h0m3.6 0h0m2.5.1h0m-7.9.1h0m5.6.1h0m-19.7.1h0m.5 0h0m11.5 0h0m.8 0h0m5.6.1h0m-5.7.1h0m.3 0h0m.3 0h0m3.4.1h0m5.4.1h0m-12 .1h0m7.1 0h0m.2.1h0m1.9 0h0m-.2.1h0m-18.7.1h0m1.4 0h0m12 0h0m-1.1.1h0m8 .1h0m-15.6.1h0m1.5 0h0m11.9 0h0m-13.5.2h0m7.9 0h0m.8 0h0m2.5 0h0m6 0h0m-6 .1h0m-11.7.1h0m5.4 0h0m3.7.1h0m5 0h0m-3.5.2h0m-4.5.1h0m-1.3.1h0m3.6 0h0m-8.8.1h0m9.3 0h0m-14.1.1h0m4.3 0h0m2.8 0h0m4.5 0h0m-6.2.2h0m-4.6.1h0m20 0h0m-19.6.4h0m2.8 0h0m2.9 0h0m12.8.1h0m-20 .1h0m.6.1h0m1.2 0h0m.6 0h0m.7 0h0m0 0h0m.4 0h0m.3 0h0m1.5 0h0m.6 0h0m.7 0h0m.3 0h0m.1 0h0m.1 0h0m.2 0h0m.6 0h0m.2 0h0m.5 0h0m.2 0h0m.9 0h0m.4 0h0m.4 0h0m.1 0h0m2.4 0h0m3 0h0m1 0h0m1.7 0h0m.1 0h0m.1 0h0m.2 0h0m.1 0h0m.4 0h0m.9 0h0m1.6 0h0m.7 0h0m.1 0h0m-17.8.2h0m8.5.3h0m5.5 0h0m-11.5.1h0m7.7 0h0m-12.7.1h0m16 0h0m-11.6.1h0m7 0h0m9 .3h0m-21.2.1h0m20.9.1h0m-3 .1h0m-15.8.2h0m3.7 0h0m12.8 0h0m-3.2.1h0m-8.8.1h0m-1.4.1h0m9.2 0h0m3.3 0h0m-8 .1h0m4.7 0h0m1.6 0h0m5.3.1h0m-14.5.1h0m7.3 0h0m1.2 0h0m-1.8.1h0m-14.9.1h0m5.5 0h0m7.4.1h0m5.5 0h0m-18.9.1h0m15.7.1h0m-6.1.1h0m1.9 0h0m7.9 0h0m3.2.1h0m-21.8.1h0m3.4 0h0m.2.2h0m0 0h0m2.2 0h0m7.9 0h0m4.9 0h0m-2.2.1h0m5.7 0h0m-13.5.1h0m-5.1.1h0m-1.7.1h0m1.2.1h0m-3.3.2h0m2 0h0m5.9.1h0m-8.7.2h0m5.4.2h0m4.5 0h0m-3.3.1h0m5.3 0h0m-10.9.1h0m.3 0h0m.8 0h0m13.6 0h0m3.7 0h0m3.1.1h0m-21 .1h0m5.6 0h0m5.5 0h0m3.2 0h0m-15.5.1h0m6.6 0h0m3.5 0h0m5.8 0h0m-8.3.3h0m12.5 0h0m-7.2.1h0m1.5.2h0m8 0h0m-20.8.1h0m11.5 0h0m-3.3.1h0m3.7.1h0m5 0h0m3.3.1h0m-20.9.1h0m21.3 0h0m-12.9.2h0m12.4 0h0m-14.1.2h0m-3.8.2h0m14.3 0h0m-15.2.1h0m15.4 0h0m3.3 0h0m-15.5.1h0m7.2 0h0m1 .1h0m7 0h0m-.7.1h0m-10.7.1h0m4.4 0h0m7.5 0h0m-3.7.1h0m-16.2.1h0m11.2 0h0m5.8 0h0m.5 0h0m-11 .1h0m10.9 0h0m-18 .1h0m3 0h0m10.2 0h0m.7.1h0m-13.9.1h0m10.3 0h0m-.1.1h0m-6.8.1h0m9 .3h0m3.3 0h0m-8.9.1h0m-6.7.1h0m18.8 0h0m-11.1.1h0m12 0h0m-10.6.2h0m9.6 0h0m-17.4.2h0m.5 0h0m2.5 0h0m1.3 0h0m1 0h0m1.2 0h0m5.8 0h0m.7 0h0m.7 0h0m3.4 0h0m-18.9.1h0m2.5 0h0m9.6.1h0m1.8 0h0m2.6 0h0m-10 .1h0m12.8 0h0m-19.8.2h0m7.4 0h0m1.9 0h0m-9.4.2h0m.6 0h0m19.2 0h0m-19.2.1h0m14.6 0h0m6.6 0h0m-.3.1h0m-6.8.2h0m-14.2.2h0m.1 0h0m19.8 0h0m.7 0h0m-18.1.1h0m17.5 0h0m-16.1.1h0m4.3 0h0m1.7 0h0m.8.1h0m-6.1.2h0m6.6 0h0m2.8 0h0m-12.8.1h0m8.4.1h0m11.8 0h0m.3 0h0m-12 .1h0m-8.5.1h0m10.2.1h0m-5.1.1h0m3.9.2h0m-8.6.1h0m18.4 0h0m-11.8.1h0m-1.3.2h0m-4.7.1h0m1.2 0h0m3.7 0h0m.6 0h0m.1 0h0m-8.7.1h0m11.9 0h0m8 0h0m-17.5.1h0m5.1 0h0m2.9 0h0m.6.1h0m5.1.1h0m.2 0h0m-11.1.2h0m5 0h0m-5.1.1h0m11.6 0h0m.8 0h0m.1 0h0m-12.6.1h0m6.2 0h0m-8.1.1h0m1.3.1h0m8.9 0h0m6.8 0h0m-14.2.1h0m-.8.1h0m13.1 0h0m3.3.1h0m-20 .1h0m17.4 0h0m-16.2.2h0m0 0h0m4.7 0h0m-4.2.1h0m7.2 0h0m-3 .1h0m8.4.1h0m-5.2.1h0m.6 0h0m11 0h0m-13.4.2h0m1.5.1h0m3.5.1h0m4 0h0m-17.9.1h0m12 .1h0m2.6 0h0m1.9 0h0m-12.3.2h0m3.7 0h0m4.8.1h0m3.2.1h0m7 .2h0m-9.8.1h0m-12.3.2h0m2.7 0h0m6.2 0h0m.6 0h0m1.8 0h0m-4.7.1h0m7.8.2h0m4.2.1h0m-18.3.1h0m.6 0h0m18.8 0h0m1 .2h0m-19.3.1h0m19.8 0h0m-19.5.3h0m15.8 0h0m2.7.1h0m-19.1.1h0m16.5.1h0m2.9 0h0m-.2.1h0m-17.5.1h0m10 .1h0m9.8 0h0m-16.7.1h0m5.1 0h0m10.8 0h0m-22.7.1h0m20.8 0h0m-16.7.2h0m.6 0h0m3.2.1h0m1.3 0h0m.5 0h0m5.6 0h0m-14.8.1h0m16.2.1h0m3.1.1h0m-18.5.1h0m15.3.2h0m2.3 0h0m-5 .1h0m3.4 0h0m-13.5.2h0m2.4 0h0m10.3 0h0m.7 0h0m-12.2.3h0m6.9 0h0m9.3 0h0m-15.4.2h0m1.6.1h0m2.8 0h0m-8.1.1h0m9.7.1h0m-1.2.1h0m-.9.1h0m-8.5.1h0m11.7 0h0m.2 0h0m5.6 0h0m-6.2.2h0m.6 0h0m3.2 0h0m1.3 0h0m-8.8.1h0m.2.1h0m6 0h0m6.4 0h0m-21.3.1h0m3.7 0h0m8.3 0h0m5 0h0m.1 0h0m-3.8.1h0m1 0h0m4 0h0m-17.6.2h0m.3 0h0m11.1 0h0m2.8 0h0m-13.7.1h0m14.1 0h0m-12.6.1h0m12.3 0h0m7.8 0h0m-22.7.1h0m20.1 0h0m-2.4.2h0m1.4 0h0m-19 .1h0m4.2 0h0m-2.7.1h0m3.4 0h0m-2.1.1h0m7.9 0h0m7.6 0h0m1.1 0h0m-12.2.1h0m16.1.1h0m-2.9.1h0m.6 0h0m-11 .1h0m9.9 0h0m-19.4.1h0m11.4 0h0m-7.9.1h0m7.9.2h0m-9.4.1h0m4.8 0h0m4.5.3h0m5.7 0h0m-.9.2h0m5.9 0h0m-17.5.1h0m10.8 0h0m-4.9.1h0m2.4 0h0m-9.4.2h0m12 0h0m1.6.1h0m3 .1h0m-5.6.2h0m-14.7.2h0m.3 0h0m0 0h0m.1 0h0m.7 0h0m.6 0h0m0 0h0m.2 0h0m.1 0h0m.1 0h0m.1 0h0m0 0h0m.4 0h0m.7 0h0m.3 0h0m1.2 0h0m.6 0h0m.4 0h0m.1 0h0m.7 0h0m.4 0h0m.8 0h0m.1 0h0m.3 0h0m.3 0h0m0 0h0m.1 0h0m.1 0h0m1.1 0h0m.1 0h0m.2 0h0m.2 0h0m.8 0h0m.7 0h0m.6 0h0m.3 0h0m.8 0h0m.1 0h0m1.8 0h0m0 0h0m.1 0h0m.6 0h0m0 0h0m.3 0h0m0 0h0m.2 0h0m.5 0h0m.2 0h0m.1 0h0m.4 0h0m.5 0h0m.1 0h0m1.4 0h0m.3 0h0m.9 0h0m.4 0h0m.1 0h0m.2 0h0m.1 0h0m.1 0h0m.1 0h0m.2 0h0m.8 0h0m-5.2.3h0m-17 .1h0m2 0h0m19 0h0m-16.8.1h0m6.5 0h0m-11.6.3h0m19.4.2h0m-6.5.2h0m7.4 0h0m-.7.1h0m-16.7.2h0m.3 0h0m14.1.1h0m1.6 0h0m-19.2.1h0m22.8 0h0m-5.9.1h0m-13 .1h0m2 0h0m-3 .1h0m0 0h0m6.3 0h0m10 0h0m-13 .2h0m2.3 0h0m7 0h0m-13.2.2h0m2.2 0h0m3.9 0h0m7.3.2h0m-11.1.1h0m7.6 0h0m-8.9.1h0m16.4 0h0m3.8 0h0m-20.7.1h0m3.8.1h0m2 0h0m13.4 0h0m-20.4.1h0m3.9 0h0m12.6.2h0m-16.3.2h0m4.3 0h0m13.7.4h0m-14.5.1h0m1.7 0h0m-2.7.1h0m10 0h0m-5.3.1h0m-7.9.1h0m15.6 0h0m-10.6.1h0m15 0h0m2.4 0h0m-20.9.1h0m19.8 0h0m-19.7.1h0m10 .3h0m.6 0h0m6.1.1h0m-8.2.2h0m-4.6.1h0m6.7.1h0m1.4 0h0m6.1 0h0m-19.9.1h0m11 0h0m-8.8.1h0m15.6 0h0m-8.7.1h0m-3.5.2h0m-1.5.1h0m.8 0h0m1 0h0m9.3.1h0m-6.6.1h0m11.2.1h0m-15.1.2h0m9.1 0h0m4.9 0h0m-17.4.2h0m11.6 0h0m7.4.1h0m-14.5.2h0m1.3 0h0m-6.4.1h0m13.2 0h0m.7 0h0m-14.4.2h0m10.5 0h0m7.5.1h0m2.1 0h0m1.3.2h0m-14.1.1h0m14 0h0m-17.9.2h0m13.2 0h0m0 0h0m3 .3h0m-17.4.1h0m7.8.1h0m-4.5.2h0m11 0h0m-12.3.1h0m9.4 0h0m-9.7.1h0m.9 0h0m6.4 0h0m2.7 0h0m3.8 0h0m2 0h0m1 0h0m-4.4.1h0m-10.9.1h0m3.4 0h0m12.2 0h0m-13.2.3h0m1.6 0h0m3.7.1h0m-10 .1h0m7.7 0h0m-9.5.1h0m13.7 0h0m-7.6.1h0m-4.4.1h0m.6 0h0m13.1 0h0m-10.9.1h0m-2.5.2h0m4 0h0m11.8 0h0m3.4 0h0m-7.3.1h0m-4.6.1h0m-10.6.1h0m.2 0h0m5.1.1h0m-4.1.2h0m5.1 0h0m-7.1.1h0m5.4.1h0m14 0h0m-5.1.1h0m2.6 0h0m1.1 0h0m-1.8.5h0m-14.8.1h0m.6 0h0m4 0h0m13.3.1h0m-10.5.1h0m-5.6.1h0m.4 0h0m.2 0h0m2.8 0h0m.5 0h0m2.1 0h0m1.4 0h0m1.5 0h0m2 0h0m1.7 0h0m2.8 0h0m-13.8.1h0m6.9.1h0m-10.2.1h0m2.8 0h0m4.2 0h0m11.3 0h0m1.3 0h0m.1.2h0m-19.3.2h0m4.2 0h0m-5.7.1h0m4.2.2h0m4.6 0h0m-1.1.1h0m6.7 0h0m3.1 0h0m-17.7.2h0m9 .2h0m13.5.1h0m.2 0h0m-3.3.1h0m-19.2.1h0m7.9 0h0m10.8 0h0m-.5.1h0m-11.3.1h0m1.1 0h0m-4.1.1h0m-3.3.1h0m14.9 0h0m-3.5.1h0m4.7 0h0m5 0h0m-20.1.1h0m2.3 0h0m12.9.1h0m-12.4.2h0m10 0h0m-6.3.1h0m14.5.1h0m-4.6.1h0m-17.9.1h0m14.8 0h0m-9 .1h0m8.2 0h0m6 0h0m-16.5.1h0m4.5.1h0m7.1 0h0m6.4.1h0m-18.8.2h0m-2.9.1h0m10.5.2h0m1.2 0h0m.3 0h0m3.3 0h0m3.2.2h0m-4.5.4h0m-13.8.1h0m-.6.1h0m11.3 0h0m-9.8.1h0m3.9 0h0m.5 0h0m-.4.1h0m-3.5.1h0m2 0h0m2.7 0h0m.9 0h0m.7 0h0m2.1 0h0m4.3 0h0m6.5 0h0m1 0h0m-8.9.1h0m1.4 0h0m1.1.1h0m7.5.1h0m-.6.1h0m-22.8.1h0m12.2 0h0m10.9.1h0m-14.5.1h0m.7.2h0m5.3 0h0m7 0h0m-10.6.2h0m-7.5.1h0m.8 0h0m-3.6.1h0m2.2 0h0m6.4 0h0m3.9 0h0m-13 .2h0m5.7 0h0m16.4 0h0m1 .1h0m-17.4.1h0m6.2 0h0m2 0h0m-4.7.2h0m.1 0h0m7.1 0h0m-8.5.1h0m.4.1h0m-8.5.1h0m7.2 0h0m10.6 0h0m5.6 0h0m-17.9.1h0m16.8 0h0m-14.6.1h0m11.8 0h0m-9.8.1h0m8.3 0h0m2.8 0h0m-20.5.1h0m8.9 0h0m-7.6.1h0m7.2.2h0m-4.5.1h0m-2.5.1h0m10.3 0h0m7.8 0h0m1.5 0h0m-16.1.2h0m11.1 0h0m5.6.1h0m-18.6.2h0m.4.1h0m6.7 0h0m1.8 0h0m-6.5.1h0m2.7 0h0m-6.2.1h0m15.1 0h0m-17.2.1h0m10.5.1h0m11.1 0h0m-15.2.1h0m14.5 0h0m-12.8.1h0m-4.7.3h0m-.6.1h0m11.7 0h0m-9.6.1h0m6.2 0h0m6.8 0h0m-12.6.1h0m4.2 0h0m-6.4.1h0m4.7 0h0m5.6.2h0m-12.9.1h0m11.3.1h0m-11.3.1h0m10.9.2h0m.6.1h0m-10.6.1h0m-.2.1h0m4.8 0h0m3.8.1h0m2.9 0h0m2.4 0h0m1.2 0h0m2 0h0m-5.6.1h0m-5.9.1h0m.1.2h0m-1.1.1h0m14.5 0h0m-20.6.1h0m1.5 0h0m12.8 0h0m-12.2.3h0m11.3.1h0m7.5 0h0m.3 0h0m-14.6.1h0m5 0h0m-7.7.1h0m2.7 0h0m5 0h0m-7.9.1h0m10.4 0h0m-9.8.1h0m17 .1h0m-16.6.2h0m15.8 0h0m-20.4.1h0m1.7 0h0m4.8 0h0m6.3 0h0m-1 .1h0m-8.8.1h0m14.8 0h0m-7.9.1h0m.7 0h0m11 .1h0m-12.4.1h0m12.9 0h0m-22.1.1h0m16.9 0h0m-11.9.2h0m-3.5.1h0m7.2 0h0m2.7 0h0m-3.4.1h0m-3.3.1h0m7.3 0h0m9.6.1h0m.8.1h0m-15.5.1h0m1.9 0h0m-1.7.1h0m1.2 0h0m11.3.1h0m1.3.1h0m1.4 0h0m-15.1.1h0m3.9 0h0m7 .1h0m3.2.2h0m1.3.1h0m-17.9.1h0m-.1.2h0m14.4 0h0m-.2.1h0m1.9 0h0m-17.3.1h0m.2 0h0m2.9 0h0m1.3 0h0m1 0h0m10 .1h0m-15.6.3h0m9 .1h0m-4.2.1h0m2.6 0h0m3 0h0m3.3.2h0m-3.1.2h0m6.4 0h0m-19.2.1h0m22.1.1h0m-6.2.2h0m-12.8.1h0m4.9 0h0m.4.1h0m.1 0h0m-5.6.1h0m-4 .4h0m.5 0h0m.1 0h0m2.1 0h0m.1 0h0m.3 0h0m.2 0h0m.3 0h0m.4 0h0m.3 0h0m.1 0h0m.1 0h0m.7 0h0m.1 0h0m.3 0h0m.2 0h0m.5 0h0m.2 0h0m.5 0h0m.3 0h0m.6 0h0m1.2 0h0m.9 0h0m.5 0h0m.3 0h0m1.1 0h0m.5 0h0m.4 0h0m.5 0h0m.6 0h0m1.7 0h0m.2 0h0m.1 0h0m.6 0h0m1 0h0m.1 0h0m.8 0h0m1.3 0h0m1.5 0h0m.5 0h0m.8 0h0m1.1 0h0m-16.3.2h0m10 0h0m-1.6.1h0m-14.7.1h0m5.1.2h0m11 .1h0m-10.1.1h0m-.7.1h0m1.6 0h0m4.7.2h0m5.5 0h0m-6.9.2h0m10.2 0h0m-18.1.1h0m19.2 0h0m-.8.1h0m-10.2.1h0m1.5 0h0m9 0h0m-5.3.2h0m6.6 0h0m-11.4.2h0m5.6 0h0m-9.8.1h0m3.2 0h0m2.2 0h0m2.3.2h0m-9.2.1h0m-3.8.1h0m2.6.2h0m1.9 0h0m12.9 0h0m-2.5.1h0m2.3 0h0m-7 .1h0m.4 0h0m9.5 0h0m-19.3.2h0m10.5 0h0m-4 .2h0m3.3.1h0m-10.7.1h0m11.1 0h0m7.5 0h0m-14.8.1h0m.9 0h0m2.3 0h0m-6.3.1h0m.8 0h0m2.6.5h0m4.3 0h0m3.9 0h0m-7.4.1h0m4.4 0h0m8.2.1h0m-16.5.1h0m10.1 0h0m9.1 0h0m-19.6.1h0m9.5 0h0m3 0h0m.8.1h0m-16.1.1h0m1.2.2h0m1.6 0h0m11.2 0h0m5.8 0h0m-11.1.1h0m9.5 0h0m-12.5.1h0m4.3 0h0m3.5 0h0m-2.7.2h0m9.2 0h0m-9 .1h0m7.9 0h0m-9.5.1h0m12.4.1h0m-21 .1h0m5.6.2h0m9.6.1h0m-1.4.2h0m-5.1.1h0m5.2 0h0m-1.4.1h0m2 0h0m-5.1.1h0m1.9 0h0m1.3 0h0m-4.1.2h0m2.4 0h0m9.2 0h0m-.5.2h0m.7 0h0m-8.7.2h0m5.9 0h0m-7.3.1h0m9.5 0h0m1.6.2h0m-13.9.2h0m-2.6.1h0m.4 0h0m.8.1h0m15.7.1h0m-14.9.1h0m14.4 0h0m-4.2.3h0m3.7 0h0m-16.6.1h0m4.9 0h0m2.4 0h0m9.5.1h0m-7.8.6h0m-12 .3h0m.1.1h0m3.4 0h0m4.4 0h0m1.7.1h0m-7.2.1h0m.8 0h0m2 0h0m1.1 0h0m2.3 0h0m.3 0h0m1 0h0m3.6 0h0m1.7 0h0m4.6 0h0m-7.9.1h0m2.4 0h0m1.8.2h0m4.4 0h0m-5.1.2h0m4 0h0m-18.3.1h0m5.1 0h0m5.5.1h0m-4.2.1h0m.1 0h0m1.1 0h0m12.7 0h0m-20.2.1h0m7.8.1h0m8 0h0m-8.9.1h0m1 0h0m-2.9.4h0m-5.3.1h0m11.2.3h0m6.4 0h0m1.2 0h0m-14 .1h0m5.2 0h0m.7 0h0m-8.5.2h0m-2.1.3h0m7.3 0h0m-10 .1h0m5.9 0h0m7 0h0m6.9.1h0m3.5.1h0m-21.5.1h0m12.6 0h0m5.2 0h0m-16 .1h0m2.3.1h0m-6.1.1h0m8.4.1h0m6.2 0h0m2.5 0h0m-13.4.1h0m9.6 0h0m-9 .1h0m5.3 0h0m10.2 0h0m1 0h0m.6 0h0m-18.2.1h0m5.5 0h0m2.9 0h0m11.2 0h0m-16.9.1h0m13.7.1h0m-17.1.1h0m.9 0h0m.3 0h0m4.7 0h0m1.1 0h0m9.5 0h0m1.4 0h0m-2.3.1h0m-18.2.1h0m18.6.1h0m-3.6.4h0m1.1 0h0m3.5 0h0m-14.1.1h0m1 0h0m6.5 0h0m-10.8.1h0m8.9 0h0m5.9 0h0m-6.8.1h0m-8.9.1h0m2.9 0h0m3.6 0h0m5.2.1h0m9.5 0h0m-17.2.2h0m.2 0h0m2.1 0h0m2.8 0h0m12.6 0h0m-17.4.2h0m3.5 0h0m7.5 0h0m.4.2h0m-3.6.1h0m-9.2.1h0m16.8 0h0m-8.8.3h0m-12.2.1h0m15.3 0h0m7 0h0m-13.5.1h0m.5 0h0m6.2.1h0m5.5 0h0m-11.5.1h0m9 0h0m-13.7.2h0m2.5 0h0m-3.1.3h0m11.1 0h0m-14.8.2h0m10.3.1h0m11.7 0h0m-19.7.1h0m12.9 0h0m-13.4.1h0m18.6 0h0m.7.1h0m-20.4.2h0m1.2 0h0m.9 0h0m.7 0h0m.3 0h0m.2 0h0m.3 0h0m1.4 0h0m1.6 0h0m1.8 0h0m.8 0h0m1 0h0m.5 0h0m1.9 0h0m.1 0h0m1.1 0h0m.4 0h0m0 0h0m1.9 0h0m.2 0h0m.3 0h0m.4 0h0m.1 0h0m.3 0h0m.2 0h0m2.2 0h0m.2 0h0m.2 0h0m-6.7.1h0m-10.3.1h0m8.9 0h0m-5.3.4h0m-2.6.1h0m.1.1h0m15.3 0h0m-20.1.2h0m3.9 0h0m8.6 0h0m9.1 0h0m-15 .1h0m5.8 0h0m5.4 0h0m4.7 0h0m-11.3.1h0m3.3 0h0m.5.1h0m6.5 0h0m-12.2.1h0m-9.1.2h0m5 0h0m.5.1h0m16.7 0h0m-4.4.1h0m-12.3.1h0m.3 0h0m13 .1h0m-18.4.2h0m10.8 0h0m1.4 0h0m2.5 0h0m4.8 0h0m-17.6.1h0m5.5 0h0m13.4 0h0m-21.7.1h0m8.2 0h0m1.2 0h0m-7 .1h0m19.8 0h0m.8 0h0m-7.8.1h0m-10.3.2h0m5.8 0h0m11.1.1h0m-21.8.1h0m18.6 0h0m-7 .1h0m-5.8.1h0m4.5 0h0m4 0h0m4.7 0h0m-12.8.1h0m3.2 0h0m-7.3.1h0m5 0h0m-4.8.1h0m2.4 0h0m.9 0h0m2.8 0h0m7.8 0h0m.1.1h0m-9.3.1h0m10.1.1h0m-17.4.1h0m12.3 0h0m8.7 0h0m-5.3.1h0m7 0h0m-21.8.1h0m10.1.1h0m1.1 0h0m4.9 0h0m-9.3.1h0m2.5 0h0m-6.1.3h0m4.5 0h0m2.1 0h0m9.2 0h0m-19 .1h0m.1 0h0m7.7 0h0m6.6 0h0m3.5 0h0m1.2 0h0m1.3 0h0m-9.1.1h0m-7.2.1h0m8.2 0h0m-11.4.2h0m14.1 0h0m4.8 0h0m1.1 0h0m-18.3.1h0m4.8 0h0m6.7 0h0m-14.6.1h0m13 0h0m-10.9.1h0m16.9 0h0m-7.9.1h0m3.6.1h0m-7.6.1h0m5.2 0h0m6.7 0h0m-9.6.1h0m12.1.1h0m-16.5.1h0m-2.3.3h0m4.4 0h0m11 0h0m-17.8.1h0m21.3 0h0m-19 .1h0m12.9 0h0m3.6 0h0m-9.7.1h0m8.8 0h0m1.6 0h0m2.7.1h0m-14.6.1h0m5.8 0h0m2 0h0m4.6 0h0m-11.4.1h0m1.3 0h0m5.8 0h0m-12.7.1h0m16.2.1h0m.4 0h0m3.1 0h0m-1.2.2h0m-5.1.1h0m-16.2.1h0m7.5 0h0m1.3 0h0m2.8 0h0m-10 .1h0m5.9.1h0m-3 .1h0m-3.6.1h0m4.8.1h0m12.5.1h0m-12.1.1h0m1.9 0h0m3.2 0h0m3.1 0h0m2.1 0h0m2.3.1h0m-6.2.1h0m3.1 0h0m3.2 0h0m-8.1.1h0m9.5 0h0m.6 0h0m.7 0h0m-18.3.1h0m-4.1.1h0m.3 0h0m3.4 0h0m5.3.1h0m.4 0h0m5.8 0h0m-11.8.1h0m2.1 0h0m1.1.1h0m15.1 0h0m-17.7.1h0m17 0h0m.9 0h0m-20.8.2h0m6 0h0m6.6 0h0m7.9.1h0m-11 .1h0m.9 0h0m5.2.1h0m-9.4.1h0m5 0h0m5.3 0h0m-17.6.1h0m3.8 0h0m8.4 0h0m2.2 0h0m-11.9.1h0m1.3 0h0m1.8 0h0m0 0h0m8.5 0h0m4.2 0h0m3.2 0h0m.9 0h0m-15.8.1h0m9.7 0h0m3.2 0h0m.9 0h0m-19.6.1h0m17.1 0h0m5.2 0h0m-14.3.1h0m2.4 0h0m4.7 0h0m-8.5.1h0m15.3 0h0m-17.8.1h0m2.2 0h0m.6 0h0m-5.7.1h0m2 .1h0m3.3 0h0m7.7 0h0m-13.9.1h0m2 0h0m2.9 0h0m.2 0h0m17.3 0h0m-19.5.1h0m1.2.1h0m6 0h0m-10.2.1h0m.8.1h0m10.3 0h0m8.4 0h0m-15.7.2h0m16 .1h0m-.1.1h0m-2 .2h0m-16.8.2h0m.3 0h0m2.6 0h0m1.1 0h0m.2 0h0m2.7 0h0m.1 0h0m1.6 0h0m.9 0h0m3.5 0h0m.7 0h0m.3 0h0m1 0h0m.9 0h0m2.6 0h0m1.3 0h0m-15.9.1h0m14.3 0h0m-14.5.2h0m4.9 0h0m2.4 0h0m4.1 0h0m3.4 0h0m-18.2.1h0m11.3 0h0m8 0h0m-4.2.1h0m-17.1.2h0m12.2 0h0m.2 0h0m2.4 0h0m-7.4.1h0m10.4 0h0m-16.3.1h0m4.6 0h0m.3 0h0m3 0h0m-6.2.1h0m.4 0h0m7.6 0h0m1.1 0h0m7.5 0h0m2.1 0h0m-15.9.1h0m9.3 0h0m5.5 0h0m-20.4.1h0m2.5.1h0m3 0h0m13.5 0h0m3 0h0m-17.7.1h0m.5 0h0m4.3 0h0m-4.4.1h0m-1.9.1h0m7.3 0h0m.6 0h0m2.5 0h0m1.8 0h0m5.4 0h0m.7 0h0m.4 0h0m-15.2.1h0m2 0h0m1.4 0h0m-1.2.1h0m1.2 0h0m.9 0h0m-10 .1h0m16.6 0h0m-12.4.1h0m12.9 0h0m.8 0h0m.2 0h0m2 0h0m.2 0h0m1.5 0h0m-18.8.1h0m11.1 0h0m.7 0h0m1.2 0h0m1.2 0h0m2.1 0h0m-19 .1h0m2.6.1h0m.9 0h0m2.5 0h0m-7.5.1h0m7.2 0h0m2.5 0h0m1.2 0h0m5.1 0h0m3 0h0m.6 0h0m-19.7.1h0m6 0h0m7.6 0h0m2.5 0h0m1.4 0h0m.2 0h0m2.9 0h0m-19.1.1h0m14 0h0m1 0h0m1.1 0h0m1.5 0h0m-19.1.1h0m.1 0h0m20.1 0h0m2.1 0h0m-19 .1h0m.4 0h0m5.8 0h0m.9 0h0m4 0h0m7.1 0h0m1.7 0h0m-16.2.1h0m8.4 0h0m7.3 0h0m-11 .1h0m.9 0h0m4.4 0h0m5.2 0h0m-21.1.1h0m5.6 0h0m10.3 0h0m1.1 0h0m2.3 0h0m-2.7.1h0m1.2 0h0m4.2 0h0m-19.3.1h0m2.2 0h0m7.1 0h0m1.7 0h0m-11.8.1h0m.3 0h0m1.3 0h0m8.9 0h0m9.6 0h0m-22.3.1h0m3.9 0h0m4.8 0h0m6.3 0h0m5.2 0h0m-3.7.1h0m4.9 0h0m-17 .1h0m2.7 0h0m1.6 0h0m.7 0h0m4.2 0h0m1.5 0h0m-14.1.2h0m3.9 0h0m11.3 0h0m2.1 0h0m-17 .1h0m1.9 0h0m4.5 0h0m2.4 0h0m2.1 0h0m8.8 0h0m-21.4.1h0m11.4 0h0m.6 0h0m-2.2.1h0m1.5 0h0m7.8 0h0m2.3 0h0m-10.9.1h0m4.3 0h0m3.4 0h0m-15 .1h0m4 0h0m3.3 0h0m.1 0h0m4.6 0h0m2.5 0h0m-15.3.1h0m5.4 0h0m6 0h0m-8.4.1h0m3.4 0h0m-7.5.1h0m.4 0h0m.6 0h0m.7 0h0m.8 0h0m14.3 0h0m.1 0h0m-14.7.1h0m7.4 0h0m2.5.1h0m2.9 0h0m1.4 0h0m1 0h0m-18.1.1h0m.6 0h0m1.7 0h0m8 0h0m5.3 0h0m4.4 0h0m.2 0h0m.8 0h0m.4 0h0m-21.3.1h0m9 0h0m4.5 0h0m1.7 0h0m1.3 0h0m-12.8.1h0m.5 0h0m9.6 0h0m1.5 0h0m.2 0h0m4.7 0h0m-14.6.1h0m7.6 0h0m4.5 0h0m3 0h0m-15.6.1h0m3.8 0h0m.7 0h0m1.9 0h0m5.5 0h0m.4 0h0m-16.1.1h0m15.6 0h0m4 0h0m1.4 0h0m-14.6.1h0m5.2 0h0m1.7 0h0m1.8 0h0m3.6 0h0m2 0h0m-15.7.1h0m2.9 0h0m2.8 0h0m1.8 0h0m7.5 0h0m.4 0h0m-21.1.1h0m2 0h0m.5 0h0m2.7 0h0m3.2 0h0m.5 0h0m3 0h0m.4 0h0m3.1 0h0m-9.3.1h0m4.7 0h0m.4 0h0m5.6 0h0m2.3 0h0m-12.9.1h0m1.8 0h0m.8 0h0m1.3 0h0m2.1 0h0m.3 0h0m1.5 0h0m2.2 0h0m2 0h0m1.1 0h0m-4.4.1h0m6.8 0h0m-19.5.1h0m12.1.1h0m-9.7.1h0m3.2 0h0m6.5 0h0m-7 .1h0m4.8 0h0m3.7 0h0m-17.1.1h0m9.2 0h0m3.4 0h0m3.6 0h0m-16.5.1h0m1.3 0h0m2.5 0h0m3.1.1h0m.8 0h0m-4.5.1h0m7.5 0h0m2.2 0h0m7.4 0h0m1.6 0h0m-17.9.1h0m14.3 0h0m4 0h0m-19 .1h0m19.6 0h0m-22.4.1h0m1.6 0h0m3 0h0m.7 0h0m3.6 0h0m3.9 0h0m0 0h0m9.8 0h0m-20.1.1h0m.2 0h0m7.2 0h0m-5.8.1h0m.8 0h0m2.2 0h0m8.8 0h0m-16.4.1h0m0 0h0m1.5 0h0m1 0h0m2.2 0h0m7.6 0h0m2.6 0h0m.9 0h0m3.5 0h0m3.4 0h0m-19.7.1h0m1.7 0h0m.8 0h0m2 0h0m2 0h0m2.6 0h0m-10.1.1h0m1.8 0h0m.2 0h0m1.3 0h0m2.3 0h0m1.7 0h0m.4 0h0m.2 0h0m2.9 0h0m1.8 0h0m.6 0h0m1.1 0h0m4.1 0h0m.2 0h0m-16.6.1h0m1.8 0h0m4.1 0h0m6.7 0h0m4.7 0h0m-20.4.1h0m9.7 0h0m1.1 0h0m5.4 0h0m4.3 0h0m.7 0h0m-19.4.1h0m7.7 0h0m5.2 0h0m3.6 0h0m-18.5.1h0m.3 0h0m.2 0h0m15.9 0h0m.4 0h0m2 0h0m-17.2.1h0m2.5 0h0m1.6 0h0m4 0h0m1.7 0h0m2.2 0h0m-2 .1h0m.5 0h0m.3 0h0m2.4 0h0m.2 0h0m1.7 0h0m1.8 0h0m.8 0h0m-17.5.1h0m1.7 0h0m7.7 0h0m2.8 0h0m7.2 0h0m-17.4.1h0m.4 0h0m.8 0h0m6.4 0h0m8.7 0h0m-20.1.1h0m.5 0h0m1 0h0m2.4 0h0m2.3 0h0m6.9 0h0m4.6 0h0m-15.2.1h0m1.4 0h0m.2 0h0m5.2 0h0m.1 0h0m.4 0h0m.2 0h0m2.5 0h0m3.3 0h0m.9 0h0m2.9 0h0m-17.8.1h0m1.9 0h0m9.2 0h0m5.9 0h0m3.3 0h0m-21.3.1h0m.7 0h0m1.8 0h0m3.7 0h0m8.8 0h0m3.6 0h0m.6 0h0m-20.3.2h0m8.1 0h0m2.6 0h0m4.2 0h0m.9 0h0m1.5 0h0m.7 0h0m1 0h0m-12.8.1h0m3 0h0m4.8 0h0m2.6 0h0m.2 0h0m.1 0h0m2.9 0h0m-19.5.1h0m8.8 0h0m4.9 0h0m-10.3.1h0m8.8 0h0m2.2 0h0m6.9 0h0m.7 0h0m.1 0h0m-18.9.1h0m8.1 0h0m3 0h0m2.2 0h0m-14 .1h0m1.3 0h0m1.4 0h0m7.8 0h0m3.3 0h0m.7 0h0m-17.1.1h0m2.3 0h0m5.5 0h0m3.5 0h0m3.9 0h0m-13 .1h0m3.2 0h0m6.6 0h0m.1 0h0m3.4 0h0m3.7 0h0m-16.1.1h0m3.8 0h0m.9 0h0m.2 0h0m9.7 0h0m.4 0h0m4.3 0h0m-21.1.1h0m1.5 0h0m7.8 0h0m1.1 0h0m.9 0h0m1 0h0m4.3 0h0m1.4 0h0m.1 0h0m-7.1.1h0m-12.9.1h0m.9 0h0m6.8 0h0m6.4 0h0m.7 0h0m1.2 0h0m-15.3.1h0m4.8 0h0m1.7 0h0m1.9 0h0m3.1 0h0m1.4 0h0m3.5 0h0m-14.2.1h0m2.2 0h0m.2 0h0m3 0h0m3.6 0h0m8.9 0h0m1.1 0h0m-16.7.1h0m1.8 0h0m1.5 0h0m1.9 0h0m.9 0h0m1.1 0h0m3.6 0h0m1.2 0h0m1.8 0h0m1.4 0h0m.1 0h0m.4 0h0m-16.2.1h0m3.8 0h0m.6 0h0m2.1 0h0m.5 0h0m4.3 0h0m.7 0h0m.3 0h0m.4 0h0m-16.6.1h0m1.2 0h0m4 0h0m2.7 0h0m8.4 0h0m.9 0h0m-17 .1h0m.1 0h0m0 0h0m8.4 0h0m3.8 0h0m1.7 0h0m1.3 0h0m-5.4.1h0m.5 0h0m1.2 0h0m.8 0h0m.8 0h0m1 0h0m7.6 0h0m-19.8.1h0m.1 0h0m.2 0h0m1.1 0h0m1.6 0h0m1.7 0h0m1.3 0h0m.2 0h0m.9 0h0m1.7 0h0m.4 0h0m4.2 0h0m2.2 0h0m2.2 0h0m1.8 0h0m-11.5.1h0m-10.1.1h0m1.6 0h0m.7 0h0m1.1 0h0m3 0h0m1 0h0m1 0h0m3.2 0h0m1.2 0h0m7.6 0h0m-16.3.1h0m6.1 0h0m5.4 0h0m.8 0h0m2.6 0h0m3.3 0h0m-23.3.1h0m.7 0h0m.3 0h0m.8 0h0m2.3 0h0m2.6 0h0m6 0h0m.9 0h0m.7 0h0m3.1 0h0m-16.9.1h0m.2 0h0m.2 0h0m.7 0h0m3.5 0h0m2.7 0h0m4.5 0h0m2 0h0m4.8 0h0m4 0h0m-23.2.1h0m1 0h0m.5 0h0m1.7 0h0m1.8 0h0m5.5 0h0m1.6 0h0m3.5 0h0m0 0h0m1.5 0h0m1.5 0h0m-18.5.1h0m0 0h0m6.1 0h0m.8 0h0m1.7 0h0m4.5 0h0m4.1 0h0m2.2 0h0m.3 0h0m.3 0h0m1.5 0h0m1.4 0h0m-22.8.1h0m1 0h0m.2 0h0m6 0h0m6.3 0h0m1.4 0h0m1.2 0h0m-16.2.1h0m2.1 0h0m2.4 0h0m2 0h0m3.3 0h0m1.6 0h0m6.3 0h0m.3 0h0m3.9 0h0m-19.4.1h0m1.7 0h0m.7 0h0m.4 0h0m4.3 0h0m.9 0h0m.5 0h0m1.9 0h0m1.3 0h0m2.3 0h0m.9 0h0m2.5 0h0m.2 0h0m1.2 0h0m-17.4.1h0m2.8 0h0m2.3 0h0m.1 0h0m4.6 0h0m6.2 0h0m2.3 0h0m-20.4.1h0m2.3 0h0m1.4 0h0m.5 0h0m4.7 0h0m1 0h0m0 0h0m2.3 0h0m1.3 0h0m2 0h0m1.8 0h0m.8 0h0m1.3 0h0m1.8 0h0m-15.1.1h0m.2 0h0m2.4 0h0m.5 0h0m.5 0h0m1.2 0h0m7.7 0h0m.5 0h0m1 0h0m.1 0h0m-21.6.1h0m1.5 0h0m.4 0h0m.2 0h0m1.9 0h0m3.3 0h0m0 0h0m3.9 0h0m2.3 0h0m.8 0h0m.4 0h0m1.1 0h0m1 0h0m2.3 0h0m2.8 0h0m-20.8.1h0m.5 0h0m.3 0h0m2.6 0h0m2.6 0h0m4.5 0h0m5.2 0h0m3.6 0h0m2.6 0h0m-23.2.1h0m6.8 0h0m.9 0h0m0 0h0m2.1 0h0m2.2 0h0m.1 0h0m.4 0h0m.2 0h0m.9 0h0m2.3 0h0m2.3 0h0m.1 0h0m.3 0h0m1.8 0h0m2.3 0h0m-20.5.1h0m6.4 0h0m.3 0h0m2.4 0h0m3.7 0h0m1.6 0h0m3.8 0h0m-17.4.1h0m.1 0h0m2.9 0h0m1.9 0h0m1 0h0m3.6 0h0m3.8 0h0m5.9 0h0m-18.9.1h0m6.9 0h0m.3 0h0m6.5 0h0m.7 0h0m1.7 0h0m1.4 0h0m2.5 0h0m-14.9.1h0m1.1 0h0m3.8 0h0m-12.9.1h0m.4 0h0m7.5 0h0m4.8 0h0m4.7 0h0m.3 0h0m-16.1.1h0m.6 0h0m1.8 0h0m4.5 0h0m.5 0h0m1.9 0h0m8.3 0h0m1.4 0h0m.8 0h0m-22 .1h0m.5 0h0m3 0h0m1 0h0m5.4 0h0m.3 0h0m2.2 0h0m2.1 0h0m2.5 0h0m.2 0h0m.3 0h0m.3 0h0m.5 0h0m1.7 0h0m1.3 0h0m-19.7.1h0m.4 0h0m.6 0h0m16.6 0h0m3.2 0h0m-21.8.1h0m3.4 0h0m2.8 0h0m.9 0h0m2.8 0h0m1.1 0h0m.6 0h0m2.8 0h0m.9 0h0m.2 0h0m1.8 0h0m3.7 0h0m.2 0h0m-20.5.1h0m.4 0h0m1.6 0h0m4.2 0h0m3.4 0h0m4.7 0h0m.2 0h0m2.1 0h0m1.7 0h0m1 0h0m.1 0h0m1.9 0h0m-16.9.1h0m.9 0h0m.4 0h0m7.5 0h0m.3 0h0m1.9 0h0m2 0h0m4.6 0h0m-22 .1h0m1.1 0h0m3.6 0h0m1.7 0h0m.8 0h0m.5 0h0m2.5 0h0m5 0h0m2.2 0h0m1.9 0h0m1.6 0h0m.1 0h0m.8 0h0m-19.6.1h0m.3 0h0m.2 0h0m10.6 0h0m1.9 0h0m0 0h0m1.5 0h0m.6 0h0m.2 0h0m.9 0h0m.5 0h0m-15.1.1h0m.3 0h0m1.9 0h0m2.2 0h0m1.2 0h0m1.2 0h0m2.4 0h0m.4 0h0m1 0h0m1.3 0h0m4.1 0h0m.1 0h0m.9 0h0m1.1 0h0m-23.3.1h0m0 0h0m1.7 0h0m1.7 0h0m2.9 0h0m.3 0h0m1.4 0h0m5.4 0h0m2.7 0h0m3.2 0h0m2.1 0h0m-19.1.1h0m6.9 0h0m3.2 0h0m3.6 0h0m.9 0h0m2.4 0h0m2.5 0h0m.5 0h0m.3 0h0m-19.9.1h0m6.7 0h0m.6 0h0m1.3 0h0m5.3 0h0m2.6 0h0m.1 0h0m.2 0h0m-19.5.1h0m.6 0h0m1.3 0h0m3.1 0h0m1.4 0h0m1.1 0h0m.1 0h0m6.2 0h0m3.5 0h0m3.9 0h0m2.2 0h0m-23.2.1h0m2.8 0h0m3.4 0h0m2.4 0h0m.6 0h0m1.5 0h0m.4 0h0m4.6 0h0m1.2 0h0m4.8 0h0m-21.4.1h0m.3 0h0m6.3 0h0m1 0h0m2.6 0h0m2.5 0h0m3.2 0h0m3.9 0h0m-19.3.1h0m2.9 0h0m.8 0h0m4.5 0h0m1 0h0m1.5 0h0m4.9 0h0m4.3 0h0m-16.4.1h0m1.3 0h0m.7 0h0m.9 0h0m1 0h0m.3 0h0m1.2 0h0m1.1 0h0m.9 0h0m.7 0h0m2.1 0h0m.1 0h0m1.8 0h0m1 0h0m.6 0h0m.5 0h0m1.2 0h0m3.5 0h0m-18 .1h0m4.9 0h0m2.3 0h0m.5 0h0m3.3 0h0m.1 0h0m.2 0h0m.7 0h0m.4 0h0m2.5 0h0m3.1 0h0m-20.9.1h0m2.7 0h0m4.8 0h0m4.9 0h0m.5 0h0m3.6 0h0m0 0h0m.8 0h0m.4 0h0m-19.9.1h0m1.3 0h0m.6 0h0m3.4 0h0m6.5 0h0m3.1 0h0m1.4 0h0m.6 0h0m3.8 0h0m-20.8.1h0m.6 0h0m.3 0h0m4.5 0h0m3.5 0h0m.3 0h0m3.1 0h0m1.7 0h0m3.4 0h0m-17.3.1h0m1.2 0h0m11.7 0h0m.5 0h0m3.6 0h0m.7 0h0m-16.9.1h0m1.2 0h0m.6 0h0m1.4 0h0m7.2 0h0m1.7 0h0m.5 0h0m3.1 0h0m.6 0h0m1.1 0h0m2.6 0h0m-21.1.1h0m.3 0h0m2.3 0h0m1.8 0h0m4.1 0h0m0 0h0m3.2 0h0m1.1 0h0m.9 0h0m1.9 0h0m.7 0h0m2.5 0h0m.1 0h0m.2 0h0m2.3 0h0m-19.2.1h0m.3 0h0m.7 0h0m1.1 0h0m2 0h0m5.9 0h0m4.7 0h0m-16.2.1h0m.6 0h0m1.7 0h0m.3 0h0m.9 0h0m6.5 0h0m.4 0h0m1 0h0m1.3 0h0m.9 0h0m.1 0h0m5.1 0h0m.7 0h0m-16.2.1h0m4.1 0h0m.7 0h0m.6 0h0m6.6 0h0m2.1 0h0m1.4 0h0m1.3 0h0m.8 0h0m-17.7.1h0m.7 0h0m.4 0h0m2.2 0h0m.8 0h0m.1 0h0m.9 0h0m.7 0h0m.7 0h0m2.3 0h0m.1 0h0m.8 0h0m3.1 0h0m4.1 0h0m-19.4.1h0m11.8 0h0m.1 0h0m.9 0h0m2.3 0h0m.1 0h0m1.4 0h0m2 0h0m1.5 0h0m0 0h0m1.8 0h0m-23 .1h0m2.3 0h0m3.4 0h0m.4 0h0m3.7 0h0m1.3 0h0m1.4 0h0m.4 0h0m1.6 0h0m.9 0h0m.7 0h0m1.8 0h0m2.1 0h0m-19 .1h0m0 0h0m1.3 0h0m.3 0h0m1.2 0h0m.1 0h0m4.7 0h0m5.7 0h0m2.4 0h0m2.6 0h0m3.8 0h0m-20.9.1h0m3.2 0h0m1.8 0h0m1.2 0h0m8.8 0h0m1.2 0h0m1.6 0h0m-19.7.1h0m.6 0h0m5 0h0m3 0h0m.1 0h0m3.8 0h0m.8 0h0m2.1 0h0m2.7 0h0m.5 0h0m1.7 0h0m2.2 0h0m.3 0h0m-19.3.1h0m1.5 0h0m1.1 0h0m.1 0h0m1.4 0h0m2.8 0h0m.6 0h0m1.6 0h0m.1 0h0m.5 0h0m2 0h0m1.3 0h0m3.3 0h0m1.5 0h0m1.5 0h0m-18.3.1h0m.1 0h0m1.4 0h0m2.4 0h0m1.1 0h0m5.4 0h0m.4 0h0m1.5 0h0m.3 0h0m2.7 0h0m1.1 0h0m1.7 0h0m-22.5.1h0m3.9 0h0m1.2 0h0m.4 0h0m.3 0h0m1.4 0h0m.3 0h0m2.7 0h0m2.1 0h0m1.5 0h0m2.1 0h0m1.8 0h0m.4 0h0m1.9 0h0m-19.3.1h0m1 0h0m.6 0h0m2.7 0h0m1.4 0h0m2.3 0h0m.3 0h0m.8 0h0m1.8 0h0m.4 0h0m3.5 0h0m2.1 0h0m.6 0h0m2.6 0h0m1.9 0h0m-21.7.1h0m.5 0h0m.7 0h0m.3 0h0m2.1 0h0m1.9 0h0m1.2 0h0m.8 0h0m0 0h0m.8 0h0m.8 0h0m1 0h0m1.4 0h0m4 0h0m3 0h0m-19.8.1h0m.7 0h0m1.7 0h0m.7 0h0m2.2 0h0m2.2 0h0m2.4 0h0m1.3 0h0m2.8 0h0m1 0h0m.6 0h0m.1 0h0m2.2 0h0m1.7 0h0m2.1 0h0m.4 0h0m-19.6.1h0m2.8 0h0m.3 0h0m.2 0h0m2.4 0h0m.1 0h0m3.6 0h0m5.2 0h0m.9 0h0m.9 0h0m2.2 0h0m.3 0h0m.9 0h0m-20.4.1h0m1.6 0h0m.2 0h0m10.3 0h0m.4 0h0m.1 0h0m.2 0h0m2.4 0h0m5.5 0h0m-21.3.1h0m2.8 0h0m2.5 0h0m6 0h0m4.3 0h0m2 0h0m.1 0h0m2 0h0m.7 0h0m-21.9.1h0m2.7 0h0m1 0h0m2.8 0h0m.9 0h0m.6 0h0m.8 0h0m1.4 0h0m1.7 0h0m.2 0h0m1.2 0h0m2.2 0h0m0 0h0m1.1 0h0m4.3 0h0m-19 .1h0m.1 0h0m.4 0h0m8.5 0h0m2.1 0h0m1.7 0h0m1.4 0h0m.4 0h0m.7 0h0m1.5 0h0m.5 0h0m.6 0h0m1.8 0h0m.3 0h0m1.2 0h0m-18.7.1h0m4.9 0h0m5.2 0h0m3.8 0h0m-17.3.1h0m.1 0h0m2.7 0h0m4.1 0h0m2.8 0h0m1.2 0h0m1.1 0h0m2.1 0h0m.8 0h0m5 0h0m2.1 0h0m-22.9.1h0m1.4 0h0m1 0h0m.7 0h0m2.3 0h0m1.4 0h0m.3 0h0m1.7 0h0m.8 0h0m3.6 0h0m3.1 0h0m2.7 0h0m.3 0h0m.6 0h0m.4 0h0m.2 0h0m-15.3.1h0m1.4 0h0m.7 0h0m.2 0h0m3.1 0h0m4.7 0h0m.7 0h0m.6 0h0m.4 0h0m.9 0h0m.3 0h0m2.5 0h0m1.5 0h0m.3 0h0m-22.8.1h0m.5 0h0m1.2 0h0m.2 0h0m.2 0h0m1.1 0h0m.6 0h0m1.1 0h0m.6 0h0m1.3 0h0m.7 0h0m.5 0h0m7.9 0h0m.6 0h0m.1 0h0m.7 0h0m1.2 0h0m.1 0h0m.5 0h0m1.3 0h0m.9 0h0m1 0h0m-21.8.1h0m.1 0h0m.3 0h0m.4 0h0m.3 0h0m7 0h0m.5 0h0m2.3 0h0m3.1 0h0m.2 0h0m.7 0h0m3.2 0h0m2.1 0h0m1.7 0h0m-22 .1h0m2 0h0m2 0h0m1.1 0h0m.4 0h0m.7 0h0m7.8 0h0m2 0h0m2.9 0h0m2.2 0h0m.2 0h0m-16.7.1h0m.1 0h0m16 0h0m.7 0h0m-19.6.1h0m6.8 0h0m1.6 0h0m.1 0h0m.3 0h0m.5 0h0m1.5 0h0m2.3 0h0m5.4 0h0m-19.4.1h0m.3 0h0m5.3 0h0m1.1 0h0m1.1 0h0m1.1 0h0m3.1 0h0m3.5 0h0m1.8 0h0m2.8 0h0m-20 .1h0m.8 0h0m.4 0h0m.7 0h0m1.9 0h0m1.7 0h0m2.4 0h0m1 0h0m4.6 0h0m2.4 0h0m.5 0h0m.7 0h0m.6 0h0m3.2 0h0m-22 .1h0m.6 0h0m6.5 0h0m.3 0h0m1.1 0h0m3.3 0h0m1 0h0m1.1 0h0m1.2 0h0m.3 0h0m1.9 0h0m4.6 0h0m-20.2.1h0m2.3 0h0m2 0h0m1.9 0h0m.4 0h0m2.6 0h0m1.8 0h0m0 0h0m1.8 0h0m4.9 0h0m-19.7.1h0m6.4 0h0m5.9 0h0m.9 0h0m4.6 0h0m.1 0h0m4.3 0h0m.3 0h0m.8 0h0m-21.2.1h0m2.6 0h0m.6 0h0m.3 0h0m.6 0h0m2.9 0h0m.3 0h0m.8 0h0m3 0h0m2.4 0h0m2.7 0h0m.4 0h0m.3 0h0m.7 0h0m.6 0h0m-17.2.1h0m2.9 0h0m1.3 0h0m0 0h0m3.5 0h0m.1 0h0m.4 0h0m1.8 0h0m4.2 0h0m2.5 0h0m.4 0h0m1.6 0h0m.4 0h0m1.2 0h0m.1 0h0m-21.8.1h0m1.9 0h0m4.1 0h0m2.3 0h0m7.1 0h0m1.5 0h0m2.2 0h0m.3 0h0m1.5 0h0m1 0h0m-23 .1h0m.3 0h0m0 0h0m4.2 0h0m2.4 0h0m3.9 0h0m1 0h0m2.6 0h0m.8 0h0m1.3 0h0m3 0h0m.7 0h0m.1 0h0m2 0h0m-21.3.1h0m1.4 0h0m2.4 0h0m1.9 0h0m.7 0h0m1.3 0h0m8.5 0h0m.2 0h0m2.9 0h0m-21 .1h0m4.6 0h0m.9 0h0m1.9 0h0m.9 0h0m.3 0h0m.5 0h0m1.5 0h0m2.8 0h0m1 0h0m1.4 0h0m.7 0h0m.5 0h0m1.1 0h0m.2 0h0m.2 0h0m.1 0h0m.7 0h0m.9 0h0m.2 0h0m.7 0h0m0 0h0m1.2 0h0m-20.6.1h0m.6 0h0m0 0h0m1.7 0h0m.2 0h0m.6 0h0m1.9 0h0m1.1 0h0m3.2 0h0m.2 0h0m2.8 0h0m1.5 0h0m3.3 0h0m1 0h0m1.1 0h0m1.1 0h0m1.4 0h0m-19.1.1h0m.3 0h0m.6 0h0m1 0h0m.6 0h0m1.7 0h0m.6 0h0m.9 0h0m.1 0h0m.7 0h0m.6 0h0m.8 0h0m.4 0h0m5.5 0h0m1.9 0h0m1.1 0h0m1.3 0h0m.9 0h0m-16.1.1h0m.1 0h0m1.2 0h0m.2 0h0m1.4 0h0m1.2 0h0m1.2 0h0m1.6 0h0m5.5 0h0m.6 0h0m2.4 0h0m-19.4.1h0m.1 0h0m0 0h0m.4 0h0m2.7 0h0m0 0h0m.9 0h0m.6 0h0m1 0h0m.9 0h0m.6 0h0m1.4 0h0m.4 0h0m1 0h0m.5 0h0m.4 0h0m.9 0h0m4.3 0h0m.9 0h0m2.3 0h0m-21.7.1h0m1.6 0h0m2.7 0h0m3.1 0h0m3.7 0h0m5 0h0m1.2 0h0m.4 0h0m1.7 0h0m2.3 0h0m.5 0h0m.7 0h0m-22.8.1h0m1.3 0h0m.3 0h0m0 0h0m1.4 0h0m1 0h0m.3 0h0m3.5 0h0m.9 0h0m4.4 0h0m1.1 0h0m.3 0h0m.7 0h0m.4 0h0m2.2 0h0m.6 0h0m1.9 0h0m1.1 0h0m-18.5.1h0m2.3 0h0m.1 0h0m2.9 0h0m1.4 0h0m2.4 0h0m4.8 0h0m.6 0h0m3.9 0h0m-21.2.1h0m2.9 0h0m.2 0h0m.5 0h0m.6 0h0m2.5 0h0m2.3 0h0m1.2 0h0m2.4 0h0m1.9 0h0m.7 0h0m1.7 0h0m.1 0h0m.3 0h0m1.1 0h0m.6 0h0m.7 0h0m.4 0h0m-19.7.1h0m2.9 0h0m1.5 0h0m.2 0h0m.1 0h0m1.7 0h0m1.4 0h0m0 0h0m1.9 0h0m.1 0h0m5 0h0m-14.5.1h0m.3 0h0m4.1 0h0m3.4 0h0m.7 0h0m4 0h0m.5 0h0m3.4 0h0m1.4 0h0m.4 0h0m1.5 0h0m1.2 0h0m.6 0h0m.4 0h0m.1 0h0m-22.4.1h0m.4 0h0m.8 0h0m.1 0h0m.2 0h0m.6 0h0m.9 0h0m.4 0h0m.7 0h0m.3 0h0m2 0h0m.4 0h0m.3 0h0m.2 0h0m.1 0h0m2.6 0h0m1.8 0h0m1.5 0h0m.1 0h0m.2 0h0m2.5 0h0m1.7 0h0m.9 0h0m1.8 0h0m.4 0h0m1.4 0h0m-22.5.1h0m1.1 0h0m1.7 0h0m3.2 0h0m.5 0h0m1 0h0m.5 0h0m3.4 0h0m1.6 0h0m0 0h0m1.6 0h0m.9 0h0m.8 0h0m1.7 0h0m2.3 0h0m0 0h0m.9 0h0m.9 0h0m.3 0h0m-21.6.1h0m.9 0h0m2 0h0m.7 0h0m1 0h0m2 0h0m1.3 0h0m.3 0h0m.6 0h0m5.5 0h0m.8 0h0m1.1 0h0m.5 0h0m1.7 0h0m2.3 0h0m-18.1.1h0m1.2 0h0m2.2 0h0m.4 0h0m.8 0h0m1.3 0h0m5.1 0h0m4.7 0h0m-17.8 2.8h0m.2 0h0m3.5 0h0m4.5 0h0m3.4 0h0m.4 0h0m8.9 0h0" stroke="#ff7f0e" stroke-width="1.39" stroke-linecap="round" fill="none"/>
<path d="M445.9 62.95H468.1" stroke="#ff7f0e" stroke-width="1.9" stroke-linecap="round" fill="none"/>
<path d="M593.6 98.4h0m9.9 13.4h0m3.2 5.5h0m-8.9.5h0m1.7.4h0m6.7 2.3h0m-13.1 1.7h0m4.9.8h0m6.2.9h0m-6.9.3h0m-1.2 2h0m4.2 0h0m-3.5 3.9h0m.5 6.5h0m5 0h0m-3.3 5.7h0m7 0h0m-1.3 2.2h0m-12.9.5h0m2.5 3.5h0m12.9.2h0m-22.3.3h0m8.7 2h0m7.9 1.4h0m-13.6 1.5h0m-3 1h0m1.3 1.5h0m6.6 5.5h0m1.5.4h0m1.8 4.5h0m4.9.8h0m-11.6.4h0m-3.5.5h0m21.6.8h0m-18.9 2.5h0m5 .7h0m-6.2.5h0m17.3 0h0m-4.9 1.7h0m3.6 2.2h0m-8.6.3h0m-8.3.7h0m-1.4 3h0m14.1 0h0m.2 1h0m-5.6.9h0m-9.1.7h0m22.9.4h0m-14.8.2h0m8.9 2.2h0m-13.8 1.5h0m2.4 1.5h0m5.5.2h0m7.8 1.1h0m-2.8 1.2h0m-6.1.1h0m12.9 1.7h0m-10.8.3h0m-3.7 1.3h0m14.7 1.2h0m-17.8.6h0m4.8.5h0m-7.1.3h0m2.3 1.5h0m7.7 0h0m9.6.5h0m-8.5.3h0m5.7 1.9h0m-9.5.1h0m7.9 1.2h0m-13.6 1h0m12.8.5h0m.4 0h0m2.2 0h0m-7.5.3h0m1.5.5h0m-14 .6h0m1.7.1h0m18.7.7h0m-14.5.6h0m3.6.3h0m6 .5h0m.1.7h0m-15.6.6h0m5.5.1h0m-.9.6h0m-2.7.4h0m5.9.5h0m4.3.2h0m-9.5.1h0m-.6.3h0m16.2.4h0m-11.4 1.9h0m16.4 0h0m-15.4.1h0m12.1.7h0m2.9.7h0m-7.5.9h0m4.9.5h0m-14.3 1.3h0m8.5 1.1h0m-11.8.3h0m1.3 1.5h0m1 .5h0m5.9.9h0m-10.2.2h0m5.1 0h0m16.9.8h0m-19.4.8h0m14.7.8h0m-2.5.9h0m3.2 0h0m-10.3 4.4h0m-5.3.9h0m4.2.8h0m-5 .5h0m6.6.1h0m-6.4.8h0m11.4.4h0m-4.3.5h0m5.8 1.4h0m-15.1.3h0m7.8.6h0m-1.1.8h0m-2 1h0m12.3.5h0m-14 .6h0m-1.4 1h0m10.4 0h0m6.2 0h0m3.2.5h0m-.3.3h0m-10.6.5h0m-1.5.6h0m4.5 1.2h0m7.4.6h0m-2.7.2h0m-8.3.8h0m-5.9.2h0m-1.4.4h0m11.8 0h0m-6.5.5h0m2.9 2.2h0m11.6.7h0m.1 0h0m.5 1.2h0m-8 .2h0m-6.9 1h0m6.7.7h0m6.5 0h0m-13.5.1h0m6.9.3h0m4.2.8h0m-6.6.4h0m-1 .3h0m2.6 0h0m5.2.5h0m-1.3.3h0m-17.3 1.5h0m14.2.7h0m8.3.2h0m-23 .1h0m6.9 1.2h0m9.2 0h0m-.8.3h0m-.1.8h0m.8.1h0m-8.8.4h0m4.3.8h0m-11.2.3h0m22.7 1.5h0m-4.8.8h0m-18.6.2h0m9.5.3h0m.1 0h0m-7.3 1.3h0m5.6 1.1h0m10.5 0h0m-12 5.3h0m4.4.1h0m-7.2 1.6h0m8.8 0h0m.7.8h0m-6.8.3h0m14.4 2.3h0m-1.3 1h0m-3.9.2h0m0 .5h0m-12.8.7h0m.6 0h0m18.9.6h0m-12 .1h0m-4.5 1.9h0m15 1.6h0m-16.1.9h0m18.5.2h0m-4.7 2.4h0m-3 .4h0m6.8.1h0m-21.5 2.3h0m20.9.9h0m-1.2 1.2h0m-7.7 1h0m7.8 1.1h0m-12.8 1.6h0m3.5.1h0m3.2 1h0m-1.9.7h0m-4.5 1.9h0m-7.5.2h0m8.8.6h0m6.9 2.8h0m-2.9 3.6h0m-7.4.5h0m5.6 6.9h0m3.3 5.2h0m7.9 4.7h0m-17.7 25h0m3.9 69.1h0" stroke="#1f77b4" stroke-width="1.39" stroke-linecap="round" fill="none"/>
<path d="M684.8 111.1h0m-5.7 4.7h0m12.4 2.2h0m1.2 1.7h0m-6.2 1.8h0m1.5 0h0m-8.9.7h0m13.8.8h0m-9.9 1.2h0m13.4 4.9h0m-18.6 1.8h0m2.5.5h0m8.2 2h0m-9.1.3h0m13.5 1.1h0m-5.8.1h0m9.8.9h0m-11.6.1h0m-5.9.9h0m18.6 0h0m-16.4.4h0m-1.8.3h0m4 .8h0m-.7.5h0m5.7.1h0m-7.3.3h0m8.1 0h0m3.7.3h0m5.6.6h0m-20.5.1h0m0 1h0m1 0h0m15.9 0h0m-4 .1h0m-4.5.1h0m-4.7.1h0m12.8.1h0m-2.5.5h0m2.5.2h0m5.9 1.3h0m-.1 1.5h0m-15.7.6h0m13 .2h0m-2.7.2h0m-14.2 1h0m12.3.1h0m4.2.2h0m-11.7.3h0m2.9.1h0m6.6 3.2h0m-17 1h0m5.2 0h0m15.7.6h0m-6.3.3h0m5.9.6h0m-13.7.9h0m10.6 0h0m-4.3.1h0m-8.3 1.2h0m9.8 1.2h0m-13.4.2h0m8.9 1h0m-5.5 1.3h0m12.3.7h0m-16.4 1.3h0m5.1.6h0m-4.2 2.6h0m18.5 1.1h0m-20.6.1h0m14.2.8h0m4 .1h0m-11.5.1h0m1.9.2h0m12.7 0h0m-3.4 1.5h0m-16.4.8h0m8.6.5h0m-3.3.1h0m10.6 2.9h0m-7.8.3h0m3.7 1.5h0m-9.8.3h0m-.7.2h0m7.9.4h0m5.1.6h0m-11.6.2h0m8.1.8h0m-4.7.2h0m13.1 1.2h0m-17.3.1h0m9 .1h0m-1.8 1h0m1.6 1h0m.7 1.1h0m-7.3 2h0m11.5.8h0m-9.9 1.3h0m16.1.4h0m-18.8.7h0m4.7 0h0m7.6.6h0m3.1 1.6h0m-11.3.4h0m-4.8 1.7h0m.2.4h0m2 1.5h0m-3.6.7h0m-2.4.3h0m22.5.1h0m-5.6.1h0m-17.1.5h0m15.5.5h0m4.7.1h0m-11 .1h0m-4.8.9h0m10.7.2h0m7.5.2h0m-11.6.6h0m-3.8.4h0m-.4.8h0m11.5 0h0m-12 .4h0m16.6.3h0m-14 .1h0m7.1.2h0m6.3 1.5h0m-7.3.9h0m-4.8 2h0m-1.5.7h0m12.7.6h0m-12.7.7h0m1.3.6h0m2 0h0m-3 .1h0m-8 .3h0m12.1.2h0m-2.1.8h0m-1.5 1.6h0m6.6.7h0m-12.8 1.2h0m9.4.4h0m-6 2.6h0m-.1 1.4h0m4.7 1.8h0m7.2.1h0m-13.5 1.1h0m3.6 1.1h0m5.8.9h0m.2 0h0m1.7 0h0m6.6 1.2h0m-8.4.1h0m4.1.1h0m-9 .4h0m11.3.6h0m-15.8 1.3h0m16.1.3h0m-20 1.3h0m4.7.6h0m-5.5.2h0m11.8.1h0m.3.5h0m-4.2 1h0m-.1.2h0m9.1.1h0m5.9 0h0m-8.5.2h0m6.4.3h0m-12.2 1h0m-8.5.1h0m1.1 1h0m8.8.9h0m-.1.8h0m13.4.3h0m-12.1.4h0m.6.8h0m-3.1.5h0m-1.2 1.9h0m15.1 2.4h0m-10.5 1.2h0m-5.1 1.6h0m15.7.2h0m-6.2.1h0m5.9 2.2h0m-21.6 2.1h0m21.5.6h0m-15 .7h0m8.1.2h0m7.2.1h0m-22.8.1h0m1.3.4h0m20.8 1h0m-12.5.7h0m.2.9h0m4.5.6h0m6.9 1.9h0m-7.3.3h0m6.3 1.5h0m.1 2.2h0m-13 .5h0m3.8.1h0m1.7.5h0m-6.1.5h0m-5.1 1.8h0m12.5.7h0m-3.5.2h0m1.7 1h0m2.2 1.5h0m-6.6 2.8h0m-3 .2h0m6.5 2.2h0m-9.9.1h0m9.9 2.5h0m-6.5.8h0m-2 1.1h0m5.9 0h0m-3.3 3.3h0m11.8 2.4h0m5.2.4h0m-22.1 1.1h0m9 .8h0m1.4 0h0m4.7 1.5h0m1.7 0h0m-17 1.4h0m15.7.9h0m-15 .9h0m6.5 1.2h0m7.1.9h0m-4.4 6.7h0m1.3 1h0m.2 3.8h0m-.2 3.7h0m1.5 5.2h0m-12.7.4h0m5.7 6.2h0m0 3.8h0m3 4.4h0m1.2 1.3h0m9.2 4.4h0m2.5.3h0m-11.2 12.9h0m-7 74.7h0" stroke="#ff7f0e" stroke-width="1.39" stroke-linecap="round" fill="none"/>
<path d="M825.7 81.4h0m-1.6.7h0m11.6.3h0m-3.1.9h0m4.3.8h0m2.6 0h0m-7.3.4h0m-3.5.7h0m6.3.1h0m-.9.2h0m4.8.3h0m-12.1.4h0m10.9.6h0m-4.1.7h0m.8.4h0m2.1 0h0m2.7.1h0m-2.7.3h0m1.1.5h0m-15 .4h0m-1.6.2h0m15.7.1h0m-4.9.4h0m2.7.1h0m3.2.5h0m-2.1.2h0m2.2.4h0m.3 0h0m-13.2.4h0m8.5.1h0m-3.8.1h0m-3.2.1h0m-3.2.1h0m11.9 0h0m3.2 0h0m.6.2h0m-10.6.1h0m10.7 0h0m-21.9.1h0m.5 0h0m1.5 0h0m3.8 0h0m4.1 0h0m11.7 0h0m-14.8.2h0m12.3 0h0m-10.9.1h0m9.9.2h0m5.1 0h0m-20.7.1h0m17.6.1h0m-10 .1h0m2.5 0h0m5.7.2h0m3.6 0h0m-19.4.2h0m14.1 0h0m6.3 0h0m.6 0h0m-17.5.1h0m10.7.2h0m-16.5.1h0m8.8.1h0m1.8 0h0m2.5 0h0m7.3.1h0m-10.3.1h0m12.5 0h0m-20.6.1h0m-2.3.1h0m3.2 0h0m6.5.1h0m-7 .1h0m12.7 0h0m7.9 0h0m-16.8.1h0m.4 0h0m7.6.2h0m3.9 0h0m-11.4.1h0m4.2 0h0m1.5 0h0m3.4 0h0m-14.4.1h0m6.1 0h0m-6.5.1h0m1.1 0h0m4.3 0h0m-4.5.1h0m9.3.2h0m7.5 0h0m-18.5.1h0m7.5 0h0m3.3 0h0m6.9 0h0m2.6 0h0m2.3 0h0m-22.3.1h0m14.3 0h0m-8.9.1h0m2.9 0h0m.1 0h0m.9 0h0m5.8 0h0m-12.9.1h0m9.9 0h0m2.3 0h0m-15 .1h0m4.4 0h0m5.3 0h0m9.7 0h0m2.3 0h0m.1 0h0m-15.2.1h0m8.5.1h0m-6.9.1h0m1.4 0h0m.2 0h0m-7.9.2h0m12.5 0h0m4.3 0h0m.1 0h0m-16.1.1h0m11.8 0h0m6.4 0h0m2.1 0h0m-23.3.1h0m4.3 0h0m7.3 0h0m3.2 0h0m2.9 0h0m-2.7.1h0m-13.2.1h0m.8 0h0m.9 0h0m3.7 0h0m3.6 0h0m6.1 0h0m-9.7.1h0m3.5 0h0m-.2.1h0m.5 0h0m10.2 0h0m-3.2.1h0m-14.9.1h0m2.6 0h0m13.6 0h0m1 0h0m2.7 0h0m-22 .1h0m11.7 0h0m3.3 0h0m6.9 0h0m-22 .2h0m4.9 0h0m.8 0h0m14.9 0h0m-19.6.1h0m20.9 0h0m-16 .1h0m5.9 0h0m.7 0h0m3.7 0h0m-15.3.1h0m6.1 0h0m5.2 0h0m5.6 0h0m-16.9.1h0m2.9 0h0m-.8.1h0m9 0h0m2.7 0h0m.9 0h0m-15.8.1h0m5.3 0h0m10.4 0h0m5.8 0h0m-22.1.1h0m15.7 0h0m-12.9.1h0m.9 0h0m7.8 0h0m8.1 0h0m.2 0h0m-15.4.1h0m6.6 0h0m3.4 0h0m5.9 0h0m1.9 0h0m-14 .1h0m7.5 0h0m-11.2.1h0m8.3 0h0m10.4 0h0m.1 0h0m-16.3.1h0m16.4 0h0m-23 .2h0m8.7 0h0m12.6 0h0m-17.3.1h0m5.9 0h0m.7 0h0m3.2 0h0m-6.7.1h0m3.1 0h0m2.2 0h0m7.6 0h0m.5 0h0m1.7 0h0m-3 .1h0m1.4 0h0m.4 0h0m.9 0h0m.5 0h0m-17.8.1h0m.9 0h0m2.9 0h0m1 0h0m4 0h0m1.8 0h0m4.1 0h0m.9 0h0m-17.9.1h0m5.9 0h0m-7.8.1h0m17.9 0h0m1.8 0h0m1.8 0h0m.3 0h0m-16.1.1h0m-6.1.1h0m10.2 0h0m1.5 0h0m1.2 0h0m0 0h0m.2 0h0m.7 0h0m1.5 0h0m-5.2.1h0m1.5 0h0m9.4 0h0m-16.2.1h0m1.6 0h0m2.6 0h0m-7.1.1h0m5.8 0h0m4 0h0m.5 0h0m.9 0h0m.2 0h0m.7 0h0m-12.8.1h0m6.9 0h0m.5 0h0m12.9 0h0m1.4 0h0m-14.1.1h0m1.4 0h0m.1 0h0m6.2 0h0m2.6 0h0m3 0h0m-18.3.1h0m.9 0h0m1.8 0h0m-1.5.1h0m2.3 0h0m.4.1h0m3.2 0h0m5.7 0h0m4.1 0h0m1.1 0h0m-20.2.1h0m4.8 0h0m2.7 0h0m2.7 0h0m3.5 0h0m2.8 0h0m4.1 0h0m.1 0h0m-22.7.1h0m1.2 0h0m.8 0h0m2.1 0h0m14.5 0h0m-16.2.1h0m.2 0h0m18.8 0h0m-17.8.1h0m3.8 0h0m6.1 0h0m2.1 0h0m.5 0h0m.3 0h0m6.4 0h0m0 0h0m.2 0h0m-20.9.1h0m6.6 0h0m5.2 0h0m2 0h0m.1 0h0m-3.6.1h0m1.6 0h0m.1 0h0m5.9 0h0m-3 .1h0m3.2 0h0m3.3 0h0m-21.7.1h0m6.6 0h0m11.6 0h0m3.1 0h0m-17.7.1h0m1.2 0h0m3.8 0h0m2.9 0h0m.4 0h0m5.8 0h0m1.4 0h0m-19.1.1h0m7.2 0h0m11.5 0h0m-18.6.1h0m7.7 0h0m.7 0h0m.4 0h0m2.2 0h0m-11.1.1h0m15.4 0h0m-9.7.1h0m15.8 0h0m-18.5.1h0m4.2 0h0m.2 0h0m.3 0h0m3.1 0h0m.5 0h0m9 0h0m-20.8.1h0m0 0h0m9.7 0h0m4.2 0h0m-7.9.1h0m8.5 0h0m-15.3.1h0m3.1 0h0m3.3 0h0m9.1 0h0m.6 0h0m3.5 0h0m-11.9.1h0m.8 0h0m2.2 0h0m.6 0h0m4.5 0h0m6.1 0h0m1 0h0m-15.8.1h0m8.2 0h0m.8 0h0m1.3 0h0m.5 0h0m2.6 0h0m-14.6.1h0m1.8 0h0m4.4 0h0m4.7 0h0m.8 0h0m-17.2.1h0m2.9 0h0m2.1 0h0m1.6 0h0m2.3 0h0m10.6 0h0m2.1 0h0m-4.6.1h0m-12.7.1h0m-.5.1h0m7.1 0h0m2.9 0h0m1.2 0h0m5.9 0h0m-19.1.1h0m9.2 0h0m1.2 0h0m-2.8.1h0m.7 0h0m2.6 0h0m5.3 0h0m2.6 0h0m-7.4.1h0m-6.9.1h0m11.7 0h0m1.7 0h0m-20.4.1h0m4.8 0h0m1.4 0h0m3.9 0h0m4.3 0h0m-13.6.1h0m.5 0h0m13.7 0h0m3.8 0h0m.2 0h0m3.9 0h0m-20.2.1h0m3.6 0h0m0 0h0m2.4 0h0m9.9 0h0m4.1 0h0m.3.1h0m-18 .1h0m2.9 0h0m2.6 0h0m2.5 0h0m7.6 0h0m1.4 0h0m-19.2.1h0m9.2 0h0m3.9 0h0m4.2 0h0m.5 0h0m1.1 0h0m1 0h0m-10.8.1h0m1.3 0h0m4 0h0m.9 0h0m4.5 0h0m.6 0h0m-22.4.2h0m13.9 0h0m1.5 0h0m5.6 0h0m-17.8.1h0m1.5 0h0m-4.9.1h0m5.1 0h0m2.2 0h0m7.5 0h0m5.8 0h0m-9.3.1h0m5.2 0h0m2.2 0h0m1.5 0h0m-19.5.1h0m2.9 0h0m11.2 0h0m-5.1.1h0m4.7 0h0m-15.2.1h0m15.2 0h0m.3 0h0m0 0h0m1.4 0h0m2.5.1h0m3 0h0m-20.7.1h0m.9 0h0m2.8 0h0m4.5 0h0m4.9 0h0m3.6 0h0m1 0h0m2.7 0h0m-15 .1h0m2 0h0m.2 0h0m2.7 0h0m1.1 0h0m2.5 0h0m-14.6.1h0m1 0h0m.7 0h0m4.1 0h0m3.9 0h0m1.8 0h0m4.6.1h0m2.5 0h0m-14.9.1h0m1.9 0h0m13.5 0h0m-18.8.2h0m3.5 0h0m2.6 0h0m4.5 0h0m7.8 0h0m1.9 0h0m-11.5.1h0m7 0h0m2.1 0h0m.8 0h0m-14 .1h0m2 0h0m1.1 0h0m10.1 0h0m.7 0h0m2.4 0h0m.8 0h0m-19.4.1h0m9.8 0h0m8.2 0h0m-18.9.1h0m2.8 0h0m13.4 0h0m.8.1h0m.4 0h0m2.8 0h0m-19.7.1h0m.6 0h0m2.9 0h0m15.9 0h0m-5.4.1h0m5.2 0h0m1.1 0h0m-22.4.1h0m3.3 0h0m3.8 0h0m14.2 0h0m-17.4.1h0m3.8 0h0m7 0h0m-8.9.1h0m10.1 0h0m3.2 0h0m2.6 0h0m-18.7.1h0m12.6 0h0m1.1 0h0m-16.3.1h0m5.4 0h0m1.6 0h0m-1.4.1h0m.5 0h0m7.9 0h0m-13.9.1h0m4.3 0h0m13.7 0h0m.4 0h0m-17.1.1h0m1.4 0h0m1 0h0m1.7 0h0m3.9 0h0m7 0h0m4.5 0h0m-19.6.1h0m5.6 0h0m9.3 0h0m-14.5.1h0m1.4 0h0m.9 0h0m1.3 0h0m.3 0h0m7.1 0h0m-9.2.1h0m4 0h0m8.3 0h0m2.7 0h0m-9.5.2h0m4.2 0h0m-13 .1h0m4.9 0h0m.5 0h0m-6 .1h0m6.7 0h0m7.4 0h0m-7.8.1h0m7.9 0h0m2.1 0h0m1.5.1h0m-6.9.1h0m-6.3.1h0m8.5 0h0m-1.2.1h0m6.5 0h0m.1 0h0m.4 0h0m-10 .1h0m3.1 0h0m-11 .1h0m10 0h0m2.1 0h0m.4 0h0m6.9 0h0m1.2 0h0m-17.7.1h0m7.9 0h0m8.3 0h0m-19.5.1h0m7.5 0h0m5.9 0h0m6.8 0h0m.3 0h0m.8 0h0m-19.2.1h0m4.8 0h0m6.5 0h0m4.1 0h0m.9 0h0m-15.9.1h0m4.3 0h0m2.4 0h0m6.3 0h0m5 0h0m-20.1.1h0m2.7 0h0m3 0h0m2.2 0h0m.4 0h0m9.2 0h0m.8 0h0m-12.9.1h0m4.5 0h0m2.3 0h0m2.7 0h0m.8 0h0m1.2 0h0m-9.8.1h0m1.4 0h0m9.1 0h0m-18.7.1h0m.2 0h0m2.3 0h0m2.2 0h0m14.8 0h0m-20 .1h0m14.2 0h0m-13.9.1h0m.1 0h0m14.3 0h0m3.9 0h0m-11.1.1h0m2.6 0h0m11 0h0m-20.8.1h0m.1 0h0m.5 0h0m.3 0h0m3.7 0h0m-5.2.1h0m1.7 0h0m.4 0h0m8.8 0h0m4.8 0h0m-15.2.1h0m7.9 0h0m2.8 0h0m-6.9.1h0m5.6 0h0m3.6 0h0m1.1 0h0m2 0h0m-3.3.1h0m3.3 0h0m1.4 0h0m3.4 0h0m-8.6.1h0m-8.7.1h0m9.9 0h0m3 0h0m3.6 0h0m2 0h0m-22 .1h0m3.7 0h0m9.4 0h0m1.7 0h0m-4.9.1h0m.3 0h0m8.8 0h0m3.5 0h0m-19.1.1h0m1.8 0h0m7.2 0h0m3.8 0h0m1 0h0m-15.9.1h0m5.6 0h0m3.1 0h0m4.3 0h0m1.1 0h0m2.5 0h0m3.4 0h0m-17.9.1h0m1.7 0h0m4.3 0h0m12.3 0h0m-20.6.1h0m.6 0h0m2.2 0h0m2.1 0h0m4.6 0h0m1 0h0m6.6 0h0m-8.9.1h0m5.9 0h0m1.6 0h0m1.3 0h0m4.4 0h0m-15.3.1h0m4.1 0h0m2 0h0m4.1 0h0m.2 0h0m3.7 0h0m-20.5.1h0m9.8 0h0m9.1 0h0m2.1 0h0m-21.1.1h0m12.9 0h0m1.9.1h0m5.3 0h0m-20.9.1h0m4.3 0h0m2.2.1h0m2 0h0m12.1 0h0m.2 0h0m.8 0h0m-21.7.1h0m.5 0h0m2.4 0h0m4.2 0h0m3.6 0h0m-.5.1h0m2.2 0h0m5.7 0h0m.8 0h0m-19.1.1h0m5 0h0m10.9 0h0m.2 0h0m-11.1.1h0m1.2 0h0m3 0h0m9.1 0h0m-3.8.1h0m1.9 0h0m3.3 0h0m-6.2.1h0m1.6 0h0m.8 0h0m4.8 0h0m-18.7.1h0m.4 0h0m9.6 0h0m-9.6.1h0m2.2.1h0m11.1 0h0m-12.3.1h0m6.5 0h0m6.1 0h0m.2 0h0m6.6 0h0m-15 .1h0m-7.2.1h0m1.1 0h0m13.2 0h0m.2 0h0m2.6 0h0m3.5 0h0m-7.4.1h0m.5 0h0m.1 0h0m1.6 0h0m2.1 0h0m3.7 0h0m-21.6.1h0m3.6 0h0m3.4 0h0m.3 0h0m8.8 0h0m6.3 0h0m.5 0h0m-22.3.1h0m2 0h0m3.6 0h0m5.6 0h0m1.2 0h0m-11.5.1h0m8.7 0h0m3.6 0h0m-14 .1h0m13.4 0h0m1.5 0h0m-13.6.1h0m0 0h0m.6 0h0m1.5 0h0m.7 0h0m2.6 0h0m0 0h0m.7 0h0m1.4 0h0m4.4 0h0m1.5 0h0m.6 0h0m1.4 0h0m.3 0h0m4.4 0h0m-12.8.1h0m2 0h0m.7 0h0m-9.5.1h0m8.6 0h0m5.8 0h0m-13.9.1h0m3.6 0h0m1.7 0h0m1.3 0h0m1.6 0h0m4.4 0h0m-14.5.1h0m.2 0h0m.2 0h0m2.1 0h0m12.4 0h0m3.8 0h0m-18.1.1h0m5.5 0h0m2 0h0m.3 0h0m1.1 0h0m3.5 0h0m.1 0h0m1.2 0h0m.4 0h0m6 0h0m-17.9.1h0m2.1 0h0m-2.1.1h0m12.6 0h0m2.4 0h0m-13.1.1h0m6.7 0h0m-8.6.1h0m5 0h0m.9 0h0m1 0h0m10.2 0h0m-17.1.1h0m13.6 0h0m2.6 0h0m-16.2.1h0m7.3 0h0m7.9 0h0m-7.7.1h0m.8 0h0m5.2 0h0m-4.5.1h0m.7 0h0m2.7 0h0m-3.9.1h0m8.5 0h0m1 0h0m1.9 0h0m-23.2.1h0m.4 0h0m3.6 0h0m5.5 0h0m5.2 0h0m.1 0h0m.2 0h0m6.6 0h0m-22.1.1h0m4.7 0h0m5.3 0h0m.7 0h0m2.9 0h0m.2 0h0m1.6 0h0m2.2 0h0m-2 .1h0m1.3 0h0m2.9 0h0m2.7 0h0m.5 0h0m-8 .1h0m2.8 0h0m1.1 0h0m1 0h0m-17.9.1h0m6.6 0h0m3.1 0h0m.8 0h0m4.7 0h0m.6 0h0m.7 0h0m-12 .1h0m10.1 0h0m-4 .1h0m2.4 0h0m3 0h0m-7.7.1h0m1.7 0h0m.1 0h0m2.1 0h0m1.3 0h0m-9.7.1h0m5.8 0h0m7 0h0m1.6 0h0m-10.3.1h0m4.2 0h0m1.8 0h0m7.8 0h0m-5.1.2h0m-16.8.1h0m1.6 0h0m.8 0h0m3.3 0h0m3.5 0h0m.6 0h0m9.7 0h0m.7 0h0m-16.3.1h0m7.2 0h0m10.1 0h0m-17.9.1h0m2.6 0h0m4.3 0h0m9.9 0h0m.6 0h0m-20.8.1h0m20.9 0h0m-22.6.1h0m2.7 0h0m.3 0h0m.9 0h0m3.7 0h0m2.7 0h0m1.1 0h0m.9 0h0m3.3 0h0m.3 0h0m-13.5.1h0m1.6 0h0m5.8 0h0m-6.5.1h0m7.9 0h0m2.8 0h0m0 0h0m7.4 0h0m.1 0h0m-18.9.1h0m8.7 0h0m11.2 0h0m-20.6.1h0m1.1 0h0m1.2 0h0m.9 0h0m4.3 0h0m.6 0h0m7.2 0h0m.3 0h0m.3 0h0m5.2 0h0m-21.5.1h0m2.9 0h0m.2 0h0m.2 0h0m.6 0h0m.2 0h0m2.3 0h0m10.6 0h0m3.5 0h0m-19.2.1h0m7.5 0h0m10.7 0h0m-9 .1h0m1.6 0h0m3.9 0h0m.1 0h0m1.9 0h0m-7.4.1h0m6.8 0h0m.5 0h0m.9 0h0m-15.2.1h0m6.3 0h0m4.8 0h0m3.7 0h0m.8 0h0m-13 .1h0m.2 0h0m4.4 0h0m-8.6.1h0m10.3 0h0m4.3 0h0m1.9 0h0m.4 0h0m1.1 0h0m-19.5.1h0m3.5 0h0m3.8 0h0m8.4 0h0m-8.9.1h0m.5 0h0m4.2 0h0m4.5 0h0m2.2 0h0m1.3 0h0m-7.1.1h0m1.8 0h0m0 0h0m-14.6.1h0m8.3 0h0m3.3 0h0m6.5 0h0m1.6 0h0m.5 0h0m.9 0h0m-16.1.1h0m7.1 0h0m2 0h0m-14.3.1h0m4.7 0h0m.3 0h0m7 0h0m6.6 0h0m2.8 0h0m-11.5.1h0m2 0h0m5.4 0h0m2.9 0h0m.5 0h0m-8.2.1h0m-5.3.1h0m9 0h0m2.5 0h0m-15.2.1h0m14.7 0h0m1.3 0h0m-18.5.1h0m4.7 0h0m.7 0h0m.6 0h0m3.4 0h0m7.3 0h0m3.3 0h0m-21.7.1h0m2.1 0h0m9.1 0h0m5.3 0h0m5.3 0h0m-13.9.1h0m2.5 0h0m-11.3.1h0m9.7 0h0m4.1 0h0m5.7 0h0m3.7 0h0m-14.9.1h0m4.2 0h0m1.5 0h0m7.3 0h0m.9 0h0m-20.3.1h0m1.8 0h0m19.8 0h0m-20.6.1h0m1.3 0h0m.1 0h0m7.3 0h0m3 0h0m1.8 0h0m1.2 0h0m1.5 0h0m3.7 0h0m-20.8.1h0m3.6 0h0m3.5 0h0m4.1 0h0m3.7 0h0m3.1 0h0m-19 .2h0m5.9.1h0m5.9 0h0m2.6 0h0m-5.1.1h0m11.3 0h0m-12.9.1h0m-8.3.1h0m4.8 0h0m13.2 0h0m2.1 0h0m.1 0h0m-18 .1h0m9.5 0h0m4.3 0h0m5.2 0h0m-17.1.1h0m3.7 0h0m3.4 0h0m-9.2.1h0m7.3 0h0m-1.6.1h0m14.7 0h0m-17.6.1h0m6.7 0h0m-9.3.1h0m1.4 0h0m15.8 0h0m-16.6.1h0m11.2 0h0m.3 0h0m2.6 0h0m.2 0h0m2.1 0h0m0 0h0m-15.8.1h0m1.4 0h0m.3 0h0m1.6 0h0m4.9 0h0m-3.9.1h0m4.2 0h0m10.3 0h0m-16.8.1h0m-5.3.1h0m4.3 0h0m1.1 0h0m10 0h0m.6 0h0m-10.6.1h0m.5 0h0m13 0h0m4 0h0m-17.1.1h0m15.9 0h0m-16.9.1h0m8 0h0m1.1 0h0m3.2 0h0m5.2 0h0m-14.7.1h0m4.5 0h0m5 0h0m-12.3.1h0m13.4 0h0m-18 .1h0m10.1 0h0m2.2 0h0m5 0h0m4 0h0m-19.8.1h0m15 0h0m1.2 0h0m2.3 0h0m2.8 0h0m-19.3.1h0m5.7 0h0m11 0h0m-18.1.1h0m10.3 0h0m3 0h0m2.8 0h0m4.4 0h0m-16.2.1h0m.9 0h0m4.6 0h0m1 0h0m.5 0h0m6.4 0h0m-15.8.1h0m.9 0h0m6.5 0h0m2.9 0h0m-10.7.1h0m10.8 0h0m-14.6.1h0m6.9 0h0m.5 0h0m6.4 0h0m4.5 0h0m1.8 0h0m3 0h0m-22.9.1h0m7.4 0h0m1.9 0h0m8.8 0h0m1 0h0m-13.1.1h0m4.3 0h0m11.5 0h0m-13.3.1h0m-9.1.1h0m7.2 0h0m15.5 0h0m-14.6.1h0m5.1 0h0m5.5 0h0m-18 .1h0m1.4 0h0m2.4 0h0m16.4 0h0m1 0h0m-17.1.1h0m5.1 0h0m.7 0h0m3.8 0h0m.9 0h0m5.5 0h0m-8.6.1h0m1.3 0h0m.7 0h0m6.7 0h0m-9.1.1h0m8.2 0h0m-4.5.1h0m2.6 0h0m2.3.1h0m.8 0h0m-17.5.1h0m3.6 0h0m2.2 0h0m.1 0h0m-8.8.1h0m.8 0h0m17.7 0h0m-15.1.1h0m3.6 0h0m1.1 0h0m2.3 0h0m8.2 0h0m2.5 0h0m-18.1.1h0m14.6 0h0m-11.9.1h0m.4 0h0m5.2 0h0m4.9 0h0m1.3 0h0m2.4 0h0m2.4 0h0m-22.7.1h0m4.2 0h0m5.1 0h0m3.3 0h0m.1 0h0m-10.7.1h0m5 0h0m1 0h0m1.5 0h0m.4 0h0m-9.9.1h0m6.4 0h0m15.5 0h0m-18.4.1h0m4.2 0h0m7.2 0h0m-12.9.1h0m9.6 0h0m5.2 0h0m3.9 0h0m-18.2.1h0m3 0h0m1.1 0h0m1.3 0h0m2.6.1h0m3.2 0h0m-8.6.1h0m9.5 0h0m-13.6.1h0m0 0h0m14.1 0h0m.4 0h0m.6 0h0m3.6 0h0m-9.8.1h0m2 0h0m-4 .2h0m-6.6.1h0m20.3 0h0m-17.6.1h0m10.8 0h0m4.4 0h0m-12 .1h0m2.4 0h0m-7.3.1h0m7.6 0h0m12.3 0h0m-21.5.1h0m18.5 0h0m.9 0h0m-19.1.1h0m9.5 0h0m-4.1.1h0m8.1 0h0m.2 0h0m7.4 0h0m-13.5.1h0m2.6 0h0m1.5 0h0m3.5 0h0m.2 0h0m3.6 0h0m-5.3.1h0m3.6 0h0m.6 0h0m-18.5.1h0m.2 0h0m3.6 0h0m1.8 0h0m5.8 0h0m5.3 0h0m1.9 0h0m2 0h0m-18.5.1h0m.4 0h0m3 0h0m11.6 0h0m2.9 0h0m.5 0h0m-18.1.1h0m7.9 0h0m1.1 0h0m8 0h0m1.2 0h0m-17 .1h0m5.5 0h0m1.5 0h0m1.2 0h0m.6 0h0m2.6 0h0m1.3 0h0m0 0h0m2.1 0h0m-16.8.1h0m6.5 0h0m4.6 0h0m-10.7.1h0m1 0h0m3.2 0h0m14.5 0h0m-17.3.1h0m5.1 0h0m8.6 0h0m4 0h0m-21.6.1h0m6.9 0h0m2 0h0m1.7 0h0m2.1 0h0m4.3 0h0m-11.1.1h0m2.3 0h0m7.8 0h0m-10.7.1h0m7.5 0h0m2.6 0h0m2.7 0h0m3.4 0h0m1.7 0h0m-6.1.2h0m.7 0h0m3.2 0h0m-17.3.1h0m2.6 0h0m6.2 0h0m-6.9.1h0m.3 0h0m9.5 0h0m3.6 0h0m-.7.1h0m-9.9.1h0m6.2 0h0m.5 0h0m7.3 0h0m-20.7.1h0m1.2 0h0m6.1 0h0m.9 0h0m6.2 0h0m-15.2.1h0m2.9 0h0m.2 0h0m1 0h0m13.6 0h0m4 0h0m-20.3.1h0m3.1 0h0m11.9 0h0m-13.4.2h0m7.9 0h0m.5 0h0m5.1 0h0m-13.9.1h0m10.9 0h0m.2 0h0m2.3 0h0m-12.3.1h0m4.4 0h0m5.2 0h0m8.4 0h0m-17.9.1h0m.8 0h0m5.3 0h0m2.2 0h0m3 0h0m2.5 0h0m2.4 0h0m-19.9.1h0m5.1 0h0m12 0h0m-6.9.1h0m10.5 0h0m.1 0h0m-21.5.1h0m19.5 0h0m1.2 0h0m-19 .1h0m2.6 0h0m11.1 0h0m1.8 0h0m-13 .1h0m15.7 0h0m-19.8.1h0m6 0h0m.5 0h0m.2 0h0m12.2 0h0m-14.1.1h0m9.6 0h0m1.8 0h0m-6.5.1h0m12.5 0h0m-22.7.1h0m5 0h0m1.6 0h0m4.3 0h0m2.5 0h0m.3 0h0m2.5 0h0m-14.9.1h0m1.7 0h0m.4 0h0m5.6 0h0m6.5 0h0m5.7 0h0m-9.2.1h0m4.2 0h0m-15.7.1h0m1 0h0m4.9 0h0m9 0h0m5.1 0h0m-14.9.1h0m3.1 0h0m13.4 0h0m-15 .1h0m3.8 0h0m.3 0h0m2.4 0h0m-13.9.1h0m13.7 0h0m4.3.2h0m1.2 0h0m2.7 0h0m-16.1.1h0m3 0h0m.2 0h0m-1.6.1h0m1.5 0h0m3.9 0h0m1.6 0h0m-11.5.1h0m3.9 0h0m14.9 0h0m-20.6.1h0m18.6 0h0m-8.9.1h0m.7 0h0m5.4 0h0m2.3 0h0m2.8 0h0m-21.3.1h0m1.6 0h0m15.6 0h0m2 0h0m-14.2.1h0m.2 0h0m10.6 0h0m2.3 0h0m1.5 0h0m-20.2.1h0m10.7 0h0m6.4 0h0m-15.1.1h0m5.2 0h0m12.1 0h0m-17.5.1h0m11.2 0h0m1.7 0h0m-.3.1h0m2.1.1h0m-12.8.1h0m4.3 0h0m2 0h0m9 0h0m2.6 0h0m.7 0h0m-12.6.1h0m10.1 0h0m-17.2.2h0m1.4 0h0m.3 0h0m.2 0h0m7.9 0h0m9.7 0h0m-21.8.1h0m3.7 0h0m15.2 0h0m-19.3.1h0m2.8 0h0m.1 0h0m-.4.1h0m4.4 0h0m9.2 0h0m3 0h0m-19 .1h0m1 0h0m.5 0h0m1.6 0h0m5.4 0h0m-6.8.1h0m6.4 0h0m5.9 0h0m8.3 0h0m-19.7.1h0m7.3 0h0m4.6 0h0m7.6 0h0m-15.7.1h0m2.9 0h0m3.1 0h0m7.7 0h0m-16.5.1h0m11.5 0h0m-13.5.1h0m12.1 0h0m2 0h0m1.7 0h0m-17.5.1h0m5.5 0h0m2.8 0h0m9.1 0h0m2.2 0h0m-7.3.1h0m-7.4.1h0m9.8 0h0m.8 0h0m-1.5.1h0m9.3 0h0m-19.5.1h0m2 0h0m8 0h0m6.6 0h0m.7 0h0m-6.2.1h0m-13 .1h0m7.5.1h0m11.7 0h0m-17 .1h0m1.1 0h0m4.6 0h0m5.7 0h0m-14.6.1h0m16.2 0h0m2.8 0h0m-19.7.1h0m6.5 0h0m8.5 0h0m7.4 0h0m.5.1h0m-2.7.1h0m.7 0h0m-20.9.1h0m2.5 0h0m1.3 0h0m3.6 0h0m2.1 0h0m11.7 0h0m-20.4.1h0m17.2 0h0m-17.3.1h0m1 0h0m3 0h0m5.5 0h0m1.4 0h0m1.6 0h0m1.4 0h0m.6 0h0m2.3.1h0m1 0h0m.8 0h0m2.4 0h0m-15.6.1h0m5.4 0h0m5.5 0h0m-9.9.1h0m2.9 0h0m3.3 0h0m.7 0h0m2.5 0h0m2.8 0h0m-4.4.1h0m3.1 0h0m.9 0h0m0 0h0m.1 0h0m-12 .1h0m2.8 0h0m4.4 0h0m4.8 0h0m.5 0h0m-3.4.1h0m3.2 0h0m-5.2.1h0m4.3 0h0m-18.4.1h0m3.2 0h0m9.1 0h0m-11.1.1h0m9.6 0h0m2.5 0h0m.7 0h0m5.3 0h0m3.1 0h0m-15.6.1h0m9.5 0h0m-16.2.1h0m1.1 0h0m13.2 0h0m2.1 0h0m5.7 0h0m.1.1h0m-13.3.1h0m5.7 0h0m2 0h0m2.2 0h0m-15.4.1h0m5.7 0h0m5.2 0h0m-11.3.2h0m5.9 0h0m.9 0h0m3 0h0m2.6 0h0m-10.9.1h0m1.6 0h0m5.1 0h0m1 0h0m10.5 0h0m-19 .1h0m8.8 0h0m2.2 0h0m-4.5.1h0m9.3 0h0m.7 0h0m1.7 0h0m-16.5.1h0m11.6 0h0m3.4 0h0m-6.1.1h0m-9.8.1h0m10.9 0h0m6.5 0h0m-10.8.1h0m7.3 0h0m-15.8.1h0m9.2 0h0m1 0h0m.5 0h0m-6.9.1h0m5.2 0h0m2.7 0h0m2.6 0h0m6.3 0h0m-18.3.1h0m1.9 0h0m.1 0h0m-2.3.1h0m.9 0h0m5.8 0h0m7.5 0h0m.7 0h0m2.3 0h0m-20.2.1h0m5.5 0h0m8.5 0h0m1.9 0h0m-13.1.1h0m2.5 0h0m12.4 0h0m-17.5.1h0m3.9 0h0m6.5 0h0m7.5 0h0m-4.4.2h0m3.2 0h0m3.7 0h0m-20.4.1h0m.8 0h0m12.2 0h0m1.7 0h0m-1.4.1h0m5.6 0h0m1 0h0m-9.9.1h0m4 0h0m3 0h0m-8.2.1h0m2.3 0h0m-9.1.1h0m10.1 0h0m1.7 0h0m3.1 0h0m-18.6.1h0m2.7 0h0m3.3 0h0m-5.5.1h0m7.4 0h0m8.9 0h0m4.1 0h0m-18.7.1h0m5.4 0h0m2.3 0h0m2.2.1h0m1.5.1h0m2 .1h0m.9 0h0m-2 .1h0m1.4 0h0m1.6 0h0m4 .1h0m-21.9.1h0m14.8 0h0m.9 0h0m.2 0h0m1.7 0h0m-2.9.1h0m4.1 0h0m-17.2.1h0m21.2 0h0m-7.4.1h0m3.4 0h0m3.2 0h0m.9 0h0m-15.1.1h0m11.7 0h0m-18.7.1h0m14.9 0h0m-9.1.1h0m1.1 0h0m3.2 0h0m3.9 0h0m-5.1.1h0m5.7 0h0m-8.5.2h0m3.3 0h0m.1.1h0m1.8 0h0m7.5 0h0m-11.6.1h0m2.8.1h0m3.4 0h0m4.1.1h0m5 0h0m-22 .1h0m8.6.1h0m4.9 0h0m-8.3.1h0m8.2 0h0m1.3 0h0m-8.5.1h0m.6 0h0m2.1 0h0m8.9 0h0m-1.3.2h0m5.5 0h0m-18.2.1h0m8.2 0h0m.3 0h0m3 .1h0m6.6 0h0m-7 .1h0m-7.2.1h0m-6.2.1h0m14 0h0m3.1 0h0m.2 0h0m1.2 0h0m-3.1.1h0m-17.5.1h0m5.7 0h0m3.9 0h0m4.8.1h0m6.1 0h0m-11.6.1h0m1 0h0m9.6 0h0m1.7 0h0m-17.9.1h0m6.2.2h0m2.5 0h0m.2 0h0m2.6 0h0m4.9 0h0m-9.3.1h0m.6 0h0m-9.7.1h0m1.4 0h0m13.7 0h0m6.1 0h0m-8.1.1h0m5.8 0h0m-18.4.1h0m7.3 0h0m-7.1.1h0m2.6 0h0m.1.1h0m18.1 0h0m-12.7.1h0m6.4 0h0m-9.2.1h0m.5 0h0m1.8.1h0m-10 .1h0m7 0h0m2 0h0m-1.6.1h0m7.7.1h0m6.1 0h0m-5.8.1h0m1 0h0m-16.2.1h0m2.3 0h0m9.7 0h0m6.1 0h0m.3.1h0m.1 0h0m-18.8.1h0m7.7 0h0m1.8 0h0m5.7 0h0m.6 0h0m1.9 0h0m1.7 0h0m-10.3.1h0m8.3 0h0m-16.3.1h0m1.3 0h0m5.1 0h0m2.3 0h0m7.5 0h0m1.7.1h0m3.2 0h0m-18.3.1h0m14.5 0h0m4.6 0h0m-6.7.1h0m3.3 0h0m1.4 0h0m-8.9.1h0m9.6 0h0m-18.2.1h0m.6 0h0m5 0h0m.2 0h0m6.3 0h0m6.7 0h0m-10.8.1h0m3.7.1h0m-13 .1h0m5.9 0h0m4.8 0h0m-6.2.1h0m16.1 0h0m-17.5.1h0m-5.5.1h0m20.2.1h0m-3.3.1h0m2.2 0h0m4.4 0h0m-17.5.3h0m7.2 0h0m2.3 0h0m-6.6.1h0m4.7 0h0m8.9 0h0m-19.7.3h0m4.5.1h0m.7 0h0m2.4 0h0m6.9 0h0m3.5 0h0m-19.1.1h0m1 0h0m4 0h0m2.4 0h0m.5 0h0m2.4 0h0m7.4 0h0m4 0h0m-16.1.1h0m5.3 0h0m4.1.1h0m1.5 0h0m-17.2.2h0m2 0h0m6.3 0h0m-5.3.2h0m11.7 0h0m7.8 0h0m-10.8.2h0m-9.3.1h0m8.7.1h0m-3.3.2h0m9.3 0h0m-13.7.1h0m2.7 0h0m6.6 0h0m1.7 0h0m3.9 0h0m.9 0h0m-19.3.1h0m3 0h0m1.2.1h0m-1.4.1h0m5.6.2h0m14 0h0m-6.1.1h0m.1 0h0m-12.6.1h0m14.5 0h0m-15 .1h0m6 0h0m13.3 0h0m-17.4.1h0m3.4 0h0m12.5 0h0m-14.6.1h0m1.1 0h0m2.1 0h0m.9 0h0m1.4 0h0m10.5 0h0m-20.9.1h0m2.1 0h0m15.5.1h0m.5 0h0m-7.2.1h0m-4.9.2h0m2.4 0h0m2.9.1h0m4.2 0h0m1.1 0h0m.4 0h0m-17.3.1h0m17.1 0h0m3.1 0h0m-20.8.1h0m2 0h0m3.5 0h0m14.5 0h0m-10.3.3h0m-7.3.1h0m4.8 0h0m-3 .1h0m.1 0h0m.2 0h0m5.6 0h0m-8.4.1h0m16.2 0h0m-17.9.1h0m2.1 0h0m11.5 0h0m1.1 0h0m-14.6.1h0m6.7 0h0m-6.1.1h0m5.2 0h0m7.5 0h0m1.9 0h0m-15 .1h0m8.1 0h0m11.1 0h0m-18.6.1h0m.1 0h0m16.4 0h0m-8.3.1h0m11 0h0m.3 0h0m-18.5.1h0m1.7.1h0m.6 0h0m-2.6.1h0m12.8 0h0m-3.7.1h0m8.1 0h0m-15.6.1h0m7.2 0h0m4.9 0h0m-15.8.2h0m6.5 0h0m1.1.2h0m4.4 0h0m-7.5.1h0m3.5 0h0m8.6 0h0m-6.5.2h0m-1.9.1h0m6 .1h0m-9.7.1h0m3.7 0h0m9.7.1h0m-.9.1h0m.1 0h0m4.2 0h0m-9.1.1h0m-10.6.1h0m2.8 0h0m6.3 0h0m6.7 0h0m-18.2.1h0m10.5.2h0m1.8.1h0m8.8 0h0m-20.9.1h0m17.4 0h0m-9.5.1h0m5.1.3h0m.7 0h0m-10.9.2h0m6.7.1h0m2.1 0h0m7.4 0h0m-3.1.1h0m-7.6.2h0m11 .1h0m2.4 0h0m-11.7.1h0m-9.6.1h0m8.6 0h0m7.4 0h0m-15.6.1h0m2.7 0h0m5.8 0h0m12.3.1h0m-11.6.1h0m-7.2.1h0m14.9 0h0m-9.6.1h0m-6.4.1h0m12.5 0h0m-13.8.1h0m5.8 0h0m15.7 0h0m-18.9.2h0m10.1.4h0m-7 .1h0m5.9 0h0m-7.7.1h0m9 .1h0m.6.1h0m-1.4.1h0m5.3 0h0m-8.7.1h0m11.3 0h0m-2 .1h0m-16.9.2h0m8 0h0m4.4 0h0m-14.4.2h0m11 .2h0m.4 0h0m3.2.1h0m-6.4.1h0m3.6 0h0m2.9 0h0m-11.2.1h0m12.9 0h0m-12.5.1h0m15.2.1h0m-15.7.2h0m3.2 0h0m3.3.1h0m1.7 0h0m-10.6.1h0m1.8.1h0m9.5 0h0m5.2.2h0m4.4 0h0m-15.4.1h0m10.1.1h0m3 0h0m-12.5.1h0m1.8.1h0m-5.4.2h0m17 .1h0m-2.8.1h0m-2.1.1h0m-3.7.2h0m2.9 0h0m-12.1.1h0m14.1.1h0m1.6 0h0m3.7.2h0m-18.2.1h0m14.6.1h0m-18.4.1h0m15.2.2h0m-11.6.1h0m1.3.1h0m14.6 0h0m-6.2.1h0m4.1 0h0m.1.1h0m-12 .2h0m5.1 0h0m2.3.3h0m-9.1.1h0m8.2 0h0m-10.1.1h0m2.5 0h0m2.7.1h0m14.6 0h0m-4.6.3h0m-14.4.1h0m-1 .1h0m4.6 0h0m4.3 0h0m4.5 0h0m.3 0h0m-13.1.1h0m17.5.1h0m-10.3.1h0m.9 0h0m1.9 0h0m7.2 0h0m-12.9.2h0m-3.4.1h0m6.2.5h0m1.6.1h0m-7.1.1h0m17 0h0m-9.5.1h0m-7.6.2h0m4.1 0h0m9.8 0h0m5.3.1h0m-14.1.4h0m3.5.1h0m9.5.1h0m-12 .1h0m9.5 0h0m-6.5.1h0m3.4 0h0m5.2 0h0m-13.1.1h0m-2.3.1h0m2.8 0h0m-8.4.1h0m17.7 0h0m5.1 0h0m-15.9.1h0m6 0h0m3.8 0h0m-5.9.1h0m-4.6.1h0m7.8.2h0m4.3.1h0m-13.6.3h0m12.5.1h0m4.3 0h0m-21.4.1h0m8.9.1h0m-9.5.3h0m22.7 0h0m.8 0h0m-20.2.2h0m6.5 0h0m-4 .2h0m-4.3.1h0m10.3.1h0m-2.3.2h0m-8.9.2h0m12.6.2h0m9.3 0h0m-17.5.1h0m8 .2h0m9.4 0h0m-21.2.2h0m3.8 0h0m15.9 0h0m-3.4.2h0m-5.4.3h0m2.1 0h0m-1.4.3h0m-5.3.6h0m7.2 0h0m-10.3.1h0m5.8 0h0m-.7.1h0m11.6 0h0m-11.2.2h0m13.6.1h0m-5.5.1h0m-8.4.1h0m.6.2h0m0 0h0m5 0h0m-1.6.2h0m5.2.1h0m2.7 0h0m-9.6.1h0m3.5.2h0m-4.8.5h0m-5.4.1h0m1.2.1h0m1.4 0h0m12.7 0h0m-11.2.1h0m14.2 0h0m-13 .1h0m-3.7.2h0m3.5.2h0m-8.9.1h0m6.1 0h0m8.9.3h0m6.6.5h0m-18.1.2h0m14.3 0h0m-14.1.6h0m-1.1.1h0m2.3.2h0m.3.1h0m14.5.2h0m-15.2.1h0m-2 .2h0m.3.1h0m-3.5.3h0m19.5 0h0m1.7 0h0m-8.5.3h0m-11 .3h0m12.8.3h0m-3.8.3h0m3.3 0h0m2.8.6h0m-9 .1h0m12.3.3h0m-13.5.3h0m8.7 0h0m-13.8.2h0m.5.1h0m9.5 0h0m4.8 0h0m-1.6.3h0m-6.7 1.1h0m3.5 1.3h0m2.2.1h0m-3.6.1h0m12 1.3h0m-22.6.6h0m20.3 0h0m-2.3.1h0m-12.9.1h0m-4.9.1h0m1.3.4h0m15.7.1h0m6.1.2h0m-22.1.1h0m21.2.2h0m-7.3.6h0m-12.1.2h0m20.3 0h0m-7.1.8h0m-2.6.4h0m-4.7.3h0m2 0h0m10.3.5h0m-10.5.1h0m-8.5.1h0m6.6.2h0m13.9.1h0m-3.1.2h0m1.8.1h0m-12.5.2h0m-8.5.3h0m1.8 0h0m.7 0h0m17.8 0h0m-12.8.6h0m8 0h0m-3 1.3h0m10.5.1h0m-2.4.1h0m-.4.1h0m2.3.7h0m-7.8.4h0m-9.5.4h0m14.3.4h0m-2.6.1h0m-14.2.3h0m19.7 0h0m-6.5.1h0m-8.1.1h0m2.7.1h0m-11.1.1h0m16.8.3h0m-5.8 1.5h0m6.6.3h0m-6.1.1h0m-10.2.7h0m13.6.5h0m2.2 0h0m-1 .3h0m-.4.3h0m6.3 0h0m-13.5.6h0m9.5.2h0m-10.1 1.5h0m12 .3h0m-9 .3h0m2.8.2h0m9.2.3h0m-13.3.9h0m2.3.2h0m8.8.7h0m-1.7 1.3h0m-12.6.4h0m5.1 0h0m6.7.2h0m-13.6 1h0m11.6.3h0m-4.1 1h0m-9.7 1.6h0m-1 .1h0m17.8.4h0m2.6.1h0m-20.1 1.5h0m3 .3h0m12.5 0h0m-5.2.5h0m-.5.9h0m8.1.4h0m-10.6 3h0m6.6.8h0m-5.2 1.4h0m3 0h0m-10 .4h0m8.1.5h0m2 1.3h0m8.8.9h0m-10.3 1.2h0m-8 .8h0m11.2 3.2h0m-11.1 2h0m5.8.5h0m-6.3 3.6h0m-2.2 2.4h0m3.1 4.8h0m4.1 3.8h0m-7.2 1h0m12.7.4h0m8.9 1h0m-5.5 3.1h0m-12 2h0m17.5 2.1h0m-5.5 3.7h0m-17.1 1.4h0m7.5 1.7h0m1.4 11.3h0m.7 3.1h0m6.5 6.2h0m-3.4 13h0m-3.1 10.3h0m1.7 37.7h0" stroke="#1f77b4" stroke-width="1.39" stroke-linecap="round" fill="none"/>
<path d="M915.5 75.5h0m17.9 7.1h0m-9.9.2h0m4.2.4h0m-14.3.4h0m-1.3.6h0m13.6.6h0m.6 0h0m-2.6.5h0m-11.7.4h0m2.2.2h0m3 0h0m5.9 0h0m0 .1h0m4.7.4h0m-12.1.2h0m10.7 0h0m-12.7.1h0m8.6 0h0m-2 .2h0m.8 0h0m10 0h0m-12.4.4h0m-6.8.1h0m10 0h0m7.1.1h0m-14.7.1h0m.6 0h0m1.6.1h0m.2 0h0m14.3 0h0m-20.5.2h0m16.3 0h0m3.8 0h0m-16.1.1h0m16.5 0h0m.1 0h0m-9.1.2h0m-6.6.2h0m3 .1h0m8.2 0h0m-9.1.1h0m.4 0h0m1.9 0h0m5.5 0h0m5.4 0h0m2.5 0h0m-20.1.1h0m14.7 0h0m-5.8.1h0m3.8 0h0m4.2 0h0m-5.9.2h0m-10.6.1h0m11.3.1h0m-4.8.1h0m-5.1.1h0m1.2 0h0m5.5 0h0m7.4.1h0m2.9 0h0m-19.8.2h0m2.3 0h0m.8 0h0m16.1 0h0m-20.4.1h0m.8 0h0m6.5 0h0m8.4.1h0m-8.3.1h0m2.9 0h0m9 0h0m-6.5.1h0m-9 .1h0m4.3 0h0m5.7 0h0m5.2 0h0m-10.3.1h0m4 0h0m5.1 0h0m3.1 0h0m-19.1.1h0m13.8 0h0m1.6 0h0m-15.8.1h0m6.8 0h0m.7 0h0m.2 0h0m-10 .1h0m7.8 0h0m4.7 0h0m.8.1h0m-4.9.1h0m2 0h0m5.2 0h0m.6 0h0m6.9 0h0m-22.6.1h0m7.1 0h0m3 0h0m-10.5.1h0m1.8 0h0m-1.7.1h0m2.1 0h0m1.2 0h0m7.9 0h0m4.3 0h0m.2 0h0m.6 0h0m-15 .1h0m1 0h0m.1 0h0m2.5 0h0m2.1 0h0m8.5 0h0m4.3 0h0m-18.5.1h0m13.7 0h0m1.7 0h0m.5 0h0m1.9 0h0m.4 0h0m2.1 0h0m-17.8.1h0m6.6 0h0m2.4 0h0m-9.6.1h0m7.3 0h0m7.2 0h0m.1 0h0m2.8 0h0m-19.5.1h0m4.8 0h0m7.7 0h0m.1 0h0m1.2 0h0m1.7 0h0m3.6 0h0m2.5 0h0m-16.8.1h0m.6 0h0m.4 0h0m7.9 0h0m1.4 0h0m.4 0h0m5.6 0h0m-19.1.1h0m14.4 0h0m1.6 0h0m3.4 0h0m-20.4.1h0m3.4 0h0m2.7 0h0m2.3 0h0m7.1 0h0m2.3 0h0m1.1 0h0m1.5 0h0m-20.3.1h0m1.7 0h0m13.3 0h0m5.7 0h0m-21.2.1h0m3.8 0h0m1.9 0h0m.4 0h0m2.2.1h0m8.3 0h0m.5 0h0m4.1 0h0m-13.1.1h0m3.6 0h0m1.9 0h0m6.8 0h0m-17.1.1h0m5 0h0m7.9 0h0m3.7 0h0m-19.9.1h0m9 0h0m1 0h0m8.6 0h0m-14.9.1h0m13.8 0h0m-19.1.1h0m.2 0h0m16.1 0h0m3.1 0h0m3.3 0h0m-21.5.1h0m4.2 0h0m1 0h0m2.4 0h0m4.8 0h0m9.3 0h0m-19.3.1h0m3.4 0h0m7.5 0h0m3.4 0h0m.8 0h0m-13.9.1h0m.1 0h0m3.3 0h0m14.1 0h0m-21.5.1h0m2 0h0m.5 0h0m.5 0h0m1.5 0h0m15.5 0h0m-19.7.1h0m1 0h0m.2 0h0m2.2 0h0m2.1 0h0m1.3 0h0m12.8 0h0m.4 0h0m-12.9.1h0m5 0h0m7.7 0h0m-3.3.1h0m3.9 0h0m-20.6.1h0m11.5 0h0m6 0h0m-15 .1h0m6.8 0h0m.5 0h0m.3 0h0m1.5 0h0m6.9 0h0m3 0h0m-22.7.1h0m8.3 0h0m1.1 0h0m1.7 0h0m9.6.1h0m-19.7.1h0m2.7 0h0m9.4 0h0m8 0h0m-15.3.1h0m1.2 0h0m4.5 0h0m2.9 0h0m.6 0h0m4.2 0h0m.2 0h0m.8 0h0m-18.4.1h0m1.8 0h0m16.7 0h0m-4.5.1h0m2.2 0h0m-17.1.1h0m.8 0h0m.6 0h0m.3 0h0m8.2 0h0m3 0h0m3.8 0h0m6 0h0m-20.2.1h0m2.2 0h0m14.5 0h0m1 0h0m2 0h0m-10.1.1h0m.4 0h0m7 0h0m.8 0h0m2.3 0h0m-22.1.1h0m.7 0h0m10.4 0h0m-9.4.1h0m.7 0h0m1.2 0h0m3.4 0h0m4.7 0h0m.7 0h0m.3 0h0m5.7 0h0m-18.7.1h0m8 0h0m.2 0h0m1.4 0h0m.9 0h0m8.2 0h0m1 0h0m1 0h0m.1 0h0m-17.2.1h0m6.1 0h0m2.8 0h0m-10.9.1h0m.3 0h0m1.7 0h0m8 0h0m1.1 0h0m-4.5.1h0m2.9 0h0m1.7 0h0m3.3 0h0m6.4 0h0m-16 .1h0m6.8 0h0m3.6 0h0m-10.6.1h0m4.7 0h0m1.9 0h0m1.6 0h0m7 0h0m-18.8.1h0m1.6 0h0m3 0h0m1.8 0h0m3.8 0h0m3.2 0h0m.2 0h0m-17.1.1h0m.1 0h0m1.3 0h0m.7 0h0m20.3 0h0m.3 0h0m.1 0h0m-21.5.1h0m.1 0h0m1.6 0h0m16.8 0h0m-17.4.1h0m2.7 0h0m5.4 0h0m.4 0h0m5.1 0h0m5.6 0h0m-18.3.1h0m7.2 0h0m1.5 0h0m.2 0h0m.5 0h0m10.4 0h0m-17.1.1h0m.3 0h0m5.9 0h0m5.3 0h0m1.3 0h0m1.7 0h0m2 0h0m-22.4.1h0m7.6 0h0m2.9 0h0m2.3 0h0m3.3 0h0m2.8 0h0m3.9 0h0m-19.8.1h0m12.5 0h0m4 0h0m-19.5.1h0m7.5 0h0m1.1 0h0m1.8 0h0m1.2 0h0m1.2 0h0m3.1 0h0m.2 0h0m2.4 0h0m2.6 0h0m-20.5.1h0m.6 0h0m1.7 0h0m2.9 0h0m9.2 0h0m-15 .1h0m5.4 0h0m3.6 0h0m4.1 0h0m8.8 0h0m-17.8.1h0m6.1 0h0m7.3.1h0m.4 0h0m4.3 0h0m.2 0h0m.4 0h0m-20.6.1h0m9 0h0m7.2 0h0m-18.1.1h0m2.5 0h0m5.3 0h0m1.1 0h0m2.2 0h0m4.1 0h0m1.8 0h0m-17.7.1h0m2.8 0h0m4.8 0h0m10.1 0h0m2.8 0h0m1.6 0h0m.9 0h0m-16.7.1h0m1.4 0h0m6 0h0m1.3 0h0m4.1 0h0m.2 0h0m3.2 0h0m-18.7.1h0m12.4 0h0m1 0h0m-16.4.1h0m2.3 0h0m.1 0h0m4.4 0h0m4.2 0h0m3.4 0h0m2.8 0h0m-17 .1h0m1 0h0m3 0h0m-4.8.1h0m10 0h0m2.6 0h0m3.9 0h0m1.6 0h0m-15.7.1h0m1.4 0h0m2.5 0h0m.4 0h0m.6 0h0m2.2 0h0m3.9 0h0m3.1 0h0m2.2 0h0m1 0h0m-19.2.1h0m1.1 0h0m1.6 0h0m.1 0h0m1.9 0h0m1.6 0h0m4.8 0h0m0 0h0m1.2 0h0m1.7 0h0m.4 0h0m7.6 0h0m-18.6.1h0m1.1 0h0m3 0h0m.7 0h0m13.4 0h0m-18.1.1h0m10.1 0h0m.8 0h0m3.9 0h0m.1 0h0m2.3 0h0m-16 .1h0m1.7 0h0m6.5 0h0m.1 0h0m3.1 0h0m4.1 0h0m-17.3.1h0m.1 0h0m.4 0h0m1.1 0h0m2.9 0h0m.3 0h0m4.4 0h0m2.9 0h0m3.7 0h0m-14.7.1h0m1.7 0h0m3.4 0h0m.9 0h0m.8 0h0m8.3 0h0m-19.3.1h0m2.7 0h0m4.4 0h0m.5 0h0m.3 0h0m5.3 0h0m1 0h0m4.8 0h0m-18.7.1h0m6.7 0h0m2.9 0h0m7.4 0h0m5.6 0h0m-22.2.1h0m1.9 0h0m.6 0h0m3.4 0h0m2.9 0h0m6.8 0h0m1.2 0h0m-9.6.1h0m.3 0h0m.1 0h0m4.9 0h0m.9 0h0m.7 0h0m.8 0h0m.4 0h0m2.7 0h0m3.6 0h0m-22.5.1h0m4 0h0m7.8 0h0m-11.7.1h0m6.3 0h0m.5 0h0m2.2 0h0m2.6 0h0m4.3 0h0m1 0h0m-14.6.1h0m.5 0h0m6.9 0h0m7 0h0m-11.6.1h0m2.8 0h0m1.3 0h0m1.5 0h0m.7 0h0m-3.7.1h0m3 0h0m.2 0h0m.7 0h0m10.1 0h0m-15.8.1h0m.2 0h0m8.8 0h0m.3 0h0m-11.4.1h0m3 0h0m-6.7.1h0m.3 0h0m1.8 0h0m3.8 0h0m.6 0h0m5.9 0h0m1.3 0h0m1.5.1h0m2 0h0m.3 0h0m4.4 0h0m.4 0h0m-22.8.1h0m.6 0h0m7.1 0h0m.1 0h0m6.5 0h0m2.4 0h0m6.8 0h0m-17.4.1h0m5.1 0h0m2.8 0h0m5.2 0h0m1.4 0h0m1.4 0h0m1.3 0h0m-5.9.1h0m1.2 0h0m-13.7.1h0m3.2 0h0m2 0h0m5.4 0h0m2.7 0h0m-12.8.1h0m10.3 0h0m5.2 0h0m2 0h0m-13.3.1h0m3.6 0h0m6.3 0h0m2.5 0h0m.7 0h0m.3 0h0m-22.9.1h0m1.8 0h0m1 0h0m.4 0h0m1.9 0h0m2.3 0h0m.2 0h0m2.2 0h0m.4 0h0m3.2 0h0m.7 0h0m.7 0h0m-14 .1h0m2.1 0h0m4.8 0h0m6.3 0h0m6.7 0h0m-17.7.1h0m1.6 0h0m5.5 0h0m1.2 0h0m3.2 0h0m2.6 0h0m-17.2.1h0m4.8 0h0m3.2 0h0m9.9 0h0m.3 0h0m.1 0h0m3.9 0h0m.4 0h0m.9 0h0m-21 .1h0m1.1 0h0m.3 0h0m2.2 0h0m3.3 0h0m4.7 0h0m2.7 0h0m5.2 0h0m1 0h0m-18.4.1h0m0 0h0m1.2 0h0m10.9 0h0m-16.1.1h0m2.4 0h0m2.3 0h0m3.9 0h0m3.5 0h0m1 0h0m7.4 0h0m.2 0h0m-18 .1h0m.6 0h0m.3 0h0m4.7 0h0m3.8 0h0m2.8 0h0m2.3 0h0m2.1 0h0m-13.2.1h0m5.6 0h0m4.7.1h0m.4 0h0m-11.4.1h0m2.6 0h0m2.4 0h0m.5 0h0m9.4 0h0m-20.8.1h0m.8 0h0m1.2 0h0m1.9 0h0m1.8 0h0m8.7 0h0m-11.8.1h0m0 0h0m5.7 0h0m5.5 0h0m5 0h0m2.2 0h0m.3 0h0m-18.2.1h0m4.3 0h0m5.2 0h0m.9 0h0m5.7 0h0m3.5 0h0m-21.7.1h0m2.3 0h0m2.6 0h0m10.1 0h0m-8.6.1h0m2.5 0h0m.3 0h0m2.4 0h0m.6 0h0m.6 0h0m2.1 0h0m.5 0h0m3 0h0m4 0h0m-23.2.1h0m1.3 0h0m4.8 0h0m2.5 0h0m2.7 0h0m5 0h0m6.4 0h0m-18 .1h0m6.7 0h0m2.1 0h0m3.7 0h0m-16.4.1h0m1.3 0h0m2.8 0h0m1.9 0h0m7.1 0h0m.7 0h0m2.7 0h0m2 0h0m-13.6.1h0m4.9 0h0m10.5 0h0m-20.7.1h0m6.6 0h0m11.5 0h0m.6 0h0m.2 0h0m1 0h0m-16.7.1h0m.7 0h0m2.8 0h0m.1 0h0m15.7 0h0m-8.3.1h0m5.2 0h0m-15.2.1h0m7.3 0h0m.9 0h0m4.4 0h0m2.9 0h0m-10.4.1h0m7.9 0h0m-17.2.1h0m2.3 0h0m3 0h0m2.4 0h0m5.5 0h0m5.1 0h0m-11.7.1h0m.2 0h0m11.4 0h0m1.1 0h0m-15.2.1h0m2 0h0m9.1 0h0m4.6 0h0m-19.2.1h0m1 0h0m1.8 0h0m.9 0h0m2.1 0h0m10.7 0h0m5 0h0m-21.1.1h0m3.3 0h0m3.2 0h0m.1 0h0m1.8 0h0m.7 0h0m7.1 0h0m.4 0h0m1.1 0h0m.3 0h0m-19.2.1h0m5.5 0h0m.6 0h0m3.5 0h0m1.8 0h0m5.2 0h0m3.3 0h0m2.7 0h0m-21.3.1h0m2.7 0h0m6.1 0h0m5.3 0h0m1.5 0h0m.6 0h0m5.1 0h0m-23.2.1h0m3.2 0h0m.3 0h0m1.8 0h0m4.5 0h0m2.9 0h0m2.2 0h0m3.4 0h0m.4 0h0m3.6 0h0m-18.7.1h0m2.2 0h0m.7 0h0m8.5 0h0m3.5 0h0m-9.6.1h0m6.9 0h0m4.9 0h0m2.9 0h0m-23 .1h0m8.2 0h0m4.9 0h0m1.6 0h0m.5 0h0m3.6 0h0m.1 0h0m2.4 0h0m.4 0h0m-21.9.1h0m1.6 0h0m2.2 0h0m5.9 0h0m3.3 0h0m1.3 0h0m2.4 0h0m-17.1.1h0m12.2 0h0m.9 0h0m2.1 0h0m.8 0h0m-12.6.1h0m1.9 0h0m5.9 0h0m6 0h0m3 0h0m-12.9.1h0m9.5 0h0m-15.1.1h0m5.8 0h0m1.5 0h0m.4 0h0m.6 0h0m1.2 0h0m3.2 0h0m1.5 0h0m6.6 0h0m.7 0h0m-20.5.1h0m4.5 0h0m5 0h0m.1 0h0m.9 0h0m2.1 0h0m-12.8.1h0m2.1 0h0m7.2 0h0m.3 0h0m.5 0h0m6.4 0h0m.7 0h0m.6 0h0m2.4 0h0m.1 0h0m.1 0h0m.2 0h0m-16.3.1h0m.6 0h0m4.2 0h0m4.5 0h0m4.8.1h0m1.7 0h0m-14.5.1h0m2.8 0h0m.7 0h0m3 0h0m2 0h0m4.7 0h0m-20.6.1h0m11.6 0h0m4.4 0h0m4.8 0h0m2.1 0h0m-21.6.1h0m1.3 0h0m6.8 0h0m4.8 0h0m.3 0h0m1.1 0h0m4.3 0h0m1 0h0m.1 0h0m.5 0h0m-12.5.1h0m1.3 0h0m4.5 0h0m-15 .1h0m4.9 0h0m.4 0h0m6 0h0m4.2 0h0m1.4 0h0m.3 0h0m4.9 0h0m-20.8.1h0m2.8 0h0m2.6 0h0m1.9 0h0m.4 0h0m4.5 0h0m3.3 0h0m1 0h0m-11.5.1h0m.9 0h0m7.8 0h0m-1.8.1h0m10 0h0m-10.6.1h0m-11.9.1h0m12 0h0m6.9 0h0m1.7 0h0m-21.7.1h0m5.6 0h0m4.2 0h0m1.1 0h0m1.2 0h0m.4 0h0m2.2 0h0m3.6 0h0m1.1 0h0m-8.6.1h0m5.3 0h0m-13.3.1h0m3.4 0h0m6 0h0m5.3 0h0m1.2 0h0m-14 .1h0m3.1 0h0m4.2 0h0m3.4 0h0m6.3 0h0m1.1 0h0m-22.5.1h0m3.8 0h0m.7 0h0m.7 0h0m1.2 0h0m8.8 0h0m-11.7.1h0m3.7 0h0m6.3 0h0m.3 0h0m1.1 0h0m1.7 0h0m4.7 0h0m-14.4.1h0m4.9 0h0m4.6 0h0m-10.7.1h0m.5 0h0m.2 0h0m4.3 0h0m6.1 0h0m-15.1.1h0m2.2 0h0m3.1 0h0m7.3 0h0m-12.7.1h0m1.3 0h0m.9 0h0m1.4 0h0m.2 0h0m3.5 0h0m.1 0h0m3.5 0h0m1.5 0h0m-11.3.1h0m1 0h0m15.9 0h0m-17.5.1h0m3.2.1h0m4 0h0m3.6 0h0m8.8 0h0m-22.1.1h0m10.6 0h0m1 0h0m3 0h0m1.1 0h0m1.2 0h0m6.4 0h0m-21.3.1h0m.5 0h0m2.7 0h0m11.4 0h0m2.8 0h0m2.4 0h0m1.8 0h0m-21.4.1h0m.7 0h0m.4 0h0m0 0h0m.5 0h0m.2 0h0m.4 0h0m1.5 0h0m1.8 0h0m.5 0h0m7.8 0h0m2 0h0m0 0h0m.5 0h0m2.3 0h0m-19.3.1h0m6 0h0m1.5 0h0m3.1 0h0m7.3 0h0m-12.9.1h0m1.9 0h0m1.3 0h0m1.4 0h0m2.5 0h0m-12.6.1h0m3.1 0h0m5.5 0h0m2.4 0h0m.5 0h0m2.1 0h0m2.7 0h0m4.2 0h0m-10.6.1h0m3.2 0h0m1.2 0h0m.1 0h0m.5 0h0m-14.4.1h0m.1 0h0m2.2 0h0m1.3 0h0m2.6 0h0m10 0h0m.4 0h0m.2 0h0m.5 0h0m1.5 0h0m0 0h0m-18.8.1h0m.6 0h0m6.9 0h0m3.4 0h0m2.5 0h0m4.2 0h0m-13.8.1h0m8.1 0h0m.7 0h0m1.8 0h0m-11 .1h0m.1 0h0m6.2 0h0m4.6 0h0m-10 .1h0m.8 0h0m10.7 0h0m.8 0h0m3 0h0m-13.6.1h0m4.5 0h0m4.7 0h0m2.8 0h0m1.1 0h0m-12.8.1h0m1 0h0m.3 0h0m4.2 0h0m.1 0h0m6 0h0m1.4 0h0m1.6 0h0m-21 .1h0m1.1 0h0m4.2 0h0m6.3 0h0m4.4 0h0m1.6 0h0m-18.2.1h0m4.9 0h0m1.2 0h0m1.2 0h0m5.4 0h0m.9 0h0m.5 0h0m.2 0h0m1.6 0h0m.7 0h0m2.8 0h0m.8 0h0m.4 0h0m.5 0h0m.8 0h0m-10.7.1h0m1.7 0h0m1 0h0m4.9 0h0m.2 0h0m.9 0h0m-19.8.1h0m1.2 0h0m5 0h0m0 0h0m3.6 0h0m-6.2.1h0m3.4 0h0m.9 0h0m5.8 0h0m-12.3.1h0m6.1 0h0m.1 0h0m2 0h0m1.9 0h0m8.4 0h0m1.1 0h0m-10.2.1h0m5.3 0h0m4.5 0h0m-15.7.1h0m12.7 0h0m4.3 0h0m.3 0h0m-22.5.1h0m2.8 0h0m4.3 0h0m0 0h0m.7 0h0m1.3 0h0m2.3 0h0m1.4 0h0m-10.3.2h0m9.5 0h0m8.5 0h0m-9.7.1h0m3.4 0h0m.1 0h0m.9 0h0m6 0h0m-17.4.1h0m.8 0h0m.2 0h0m1.4 0h0m.9 0h0m1.1 0h0m.7 0h0m3.5 0h0m.9 0h0m.1 0h0m.3 0h0m2.8 0h0m3.2 0h0m-18.4.1h0m3.4 0h0m1.1 0h0m4 0h0m9.7 0h0m.4 0h0m1.9 0h0m-16.6.1h0m1.5 0h0m8.7 0h0m3.2 0h0m-17.5.1h0m.2 0h0m2.7 0h0m8.6 0h0m-4.8.1h0m2.6 0h0m6 0h0m3.9 0h0m-18.5.1h0m11.6 0h0m-12.8.1h0m1.5 0h0m.2 0h0m6.8 0h0m-3 .1h0m6.3 0h0m1.4 0h0m3.3 0h0m.1 0h0m1.3 0h0m3 0h0m-20.5.1h0m3.5 0h0m3.4 0h0m3.8 0h0m4.3 0h0m3.1 0h0m.6 0h0m-19.9.1h0m.1 0h0m12.3 0h0m2.9 0h0m4.5 0h0m-16.5.1h0m6.2 0h0m7.4 0h0m1.1 0h0m-15.1.1h0m8.8 0h0m3.6 0h0m3.9 0h0m3.5 0h0m-10.3.1h0m.3 0h0m3 0h0m4.3 0h0m-18 .1h0m.5 0h0m.1 0h0m3.6 0h0m6.5 0h0m5.9 0h0m2.3 0h0m-20 .1h0m4.4 0h0m.8 0h0m.5 0h0m7.7 0h0m.2 0h0m.6 0h0m2 0h0m4.9 0h0m.1 0h0m-20.3.1h0m6 0h0m.5 0h0m9.4 0h0m2.6 0h0m-19.6.1h0m1.3 0h0m6.5 0h0m2.8 0h0m.4 0h0m8.8 0h0m-14.1.1h0m3.8 0h0m3.4 0h0m4.3 0h0m-15.7.1h0m2.2 0h0m1.5 0h0m2.8 0h0m5.6 0h0m1.3 0h0m3.8 0h0m-17.8.1h0m4.2 0h0m.9 0h0m.3 0h0m9.5 0h0m3.9 0h0m-8.6.1h0m7.9 0h0m-19.2.1h0m2.6 0h0m.5 0h0m3.1 0h0m2.6 0h0m5.7 0h0m4.3 0h0m1 0h0m.9 0h0m.7 0h0m-18.9.1h0m8.1 0h0m1.6 0h0m3.1 0h0m1.1 0h0m-16.9.1h0m.7 0h0m6.1 0h0m1 0h0m.8 0h0m1.4 0h0m.7 0h0m7.7 0h0m-8.7.2h0m5.1 0h0m6.9 0h0m-17.3.1h0m1.5 0h0m1.8 0h0m5.2 0h0m.3 0h0m.3 0h0m3.7 0h0m5.2 0h0m-15.6.1h0m1.3 0h0m7.7 0h0m1.9 0h0m.4 0h0m-4.7.1h0m8.3 0h0m-20 .1h0m1 0h0m1.2 0h0m2 0h0m10.2 0h0m1.5 0h0m2.8 0h0m.3 0h0m1 0h0m-19.8.1h0m5.3 0h0m2.2 0h0m3 0h0m3.9 0h0m3 0h0m2.2 0h0m.6 0h0m-19.1.1h0m.7 0h0m4 0h0m2.6 0h0m10.9 0h0m-13.7.1h0m.2 0h0m.6 0h0m2.4 0h0m3.1 0h0m3.8 0h0m-15 .1h0m.5 0h0m3.5 0h0m3.7 0h0m8.6 0h0m-18.7.1h0m1.2 0h0m1.9 0h0m5.2 0h0m2.9 0h0m7.5 0h0m-18.5.1h0m15.8 0h0m-14.2.1h0m5.5 0h0m.1 0h0m3.4 0h0m2.4 0h0m2.3 0h0m-12.3.1h0m.7 0h0m4.9 0h0m3.3 0h0m2.2 0h0m-10.5.1h0m2.4 0h0m0 0h0m8.6 0h0m4.8 0h0m.2 0h0m-14.7.1h0m1.1 0h0m3.5 0h0m1.9 0h0m4.5 0h0m-13.7.1h0m3.1 0h0m3.3 0h0m4.2 0h0m2.6 0h0m.5 0h0m2.9 0h0m-19.4.1h0m7.9 0h0m1.2 0h0m2.7 0h0m6.3 0h0m.2 0h0m.4 0h0m1.3 0h0m-15.4.1h0m1 0h0m1.3 0h0m1.4 0h0m12.6 0h0m-14.1.1h0m6 0h0m6.4 0h0m-9.7.1h0m3.2 0h0m.6 0h0m1.1 0h0m5.5 0h0m1.1 0h0m-18.9.1h0m.5 0h0m1.6 0h0m4.4 0h0m1.6 0h0m5.9 0h0m2.7 0h0m.8 0h0m-14.8.1h0m.9 0h0m3.6 0h0m1.1 0h0m2.4 0h0m.2 0h0m4 0h0m2.8 0h0m1.3 0h0m-21.2.1h0m1.4 0h0m.1 0h0m.8 0h0m.4 0h0m2.8 0h0m10.3 0h0m6.9 0h0m-20.7.1h0m.2 0h0m2.2 0h0m1.3 0h0m.3 0h0m1.6 0h0m7.4 0h0m.5 0h0m.4 0h0m4.7 0h0m.8 0h0m1.1 0h0m-22.2.1h0m8.3 0h0m6.5 0h0m2.7 0h0m3.3 0h0m-20.7.1h0m.3 0h0m3.2 0h0m.9 0h0m2.2 0h0m.8 0h0m4.3 0h0m1.9 0h0m3.1 0h0m3.2 0h0m1.5 0h0m1.5 0h0m.1 0h0m-22.5.1h0m2.8 0h0m2.6 0h0m4.2 0h0m5 0h0m-13.4.1h0m.9 0h0m.6 0h0m2.7 0h0m7 0h0m3.5 0h0m6.3 0h0m-19.3.1h0m.8 0h0m1.8 0h0m4.4 0h0m8.7 0h0m2.4 0h0m-21.8.1h0m.3 0h0m8.8 0h0m3 0h0m5.7 0h0m3.4 0h0m-20.2.1h0m8.6 0h0m.5 0h0m1.4 0h0m2.8 0h0m2.7 0h0m-17 .1h0m.5 0h0m3.1 0h0m4.4 0h0m1.4 0h0m.7 0h0m4.6 0h0m3.8 0h0m2.1 0h0m.5 0h0m1.3 0h0m-22.1.1h0m10 0h0m5.7 0h0m.4 0h0m1.7 0h0m4.9 0h0m-22.3.1h0m.7 0h0m1.4 0h0m1.4 0h0m.9 0h0m.4 0h0m.1 0h0m3.5 0h0m.9 0h0m.2 0h0m7.5 0h0m.4 0h0m-12.2.1h0m2.4 0h0m5.2 0h0m1.4 0h0m2.5 0h0m.2 0h0m5.2 0h0m-18.3.1h0m2.1 0h0m4.4 0h0m3.1 0h0m3.5 0h0m1.5 0h0m2.1 0h0m-16.9.1h0m7.2 0h0m1.7 0h0m.4 0h0m9.8 0h0m-23.6.1h0m.3 0h0m1.4 0h0m9.4 0h0m0 0h0m2 0h0m2.1 0h0m4.3 0h0m-14.4.1h0m3.3 0h0m1.9 0h0m3.5 0h0m.5 0h0m2 0h0m6.1 0h0m-20.8.1h0m.7 0h0m.3 0h0m0 0h0m.8 0h0m3.2 0h0m.1 0h0m1.3 0h0m.7 0h0m2.9 0h0m6.6 0h0m0 0h0m-16.8.1h0m4.2 0h0m.5 0h0m4.3 0h0m.7 0h0m8.7 0h0m2.2 0h0m.7 0h0m-22.1.1h0m4.1 0h0m.3 0h0m5.5 0h0m.8 0h0m4 0h0m2.2 0h0m-15.3.1h0m10.4 0h0m5.2 0h0m3.4 0h0m1.4 0h0m-18.8.1h0m7.5 0h0m1.3 0h0m5.8 0h0m.1 0h0m-16.6.1h0m7.5 0h0m.6 0h0m1.1 0h0m.9 0h0m-3.2.1h0m2.5 0h0m.2 0h0m1.5 0h0m10.3 0h0m.1 0h0m-22.5.1h0m.9 0h0m11.3 0h0m8 0h0m-14.7.1h0m3.2 0h0m7 0h0m-14.8.1h0m4.4 0h0m6.7 0h0m2.9 0h0m1.7 0h0m.8 0h0m-17 .1h0m5.7 0h0m.5 0h0m0 0h0m5.3 0h0m.5 0h0m.9 0h0m1.4 0h0m.9 0h0m6.3 0h0m-20.1.1h0m.8 0h0m1.7 0h0m.3 0h0m5 0h0m3.4 0h0m.2 0h0m3.5 0h0m-17.5.1h0m7.5 0h0m.7 0h0m5.8 0h0m.1 0h0m2.7 0h0m-14 .1h0m1.1 0h0m7.3 0h0m2.1 0h0m4.4 0h0m.9 0h0m1.1 0h0m0 0h0m.2 0h0m.9 0h0m1.2 0h0m1.2 0h0m-16.8.1h0m2 0h0m9.4 0h0m3 0h0m-15.2.1h0m10 0h0m.2 0h0m5.2 0h0m-20.2.1h0m1.8 0h0m10.1 0h0m7.4 0h0m1 0h0m.9 0h0m-18 .1h0m.9 0h0m1.1 0h0m3.9 0h0m13.1 0h0m-17.6.1h0m5.5 0h0m9 0h0m1.5 0h0m-17 .1h0m-4.1.1h0m.9 0h0m.3 0h0m16.4 0h0m2.4 0h0m1.6 0h0m-22 .1h0m7.9 0h0m4.9 0h0m.9 0h0m2 0h0m7.1 0h0m-21.4.1h0m2.7 0h0m3.4 0h0m.9 0h0m8.9 0h0m2.1 0h0m-10.5.1h0m0 0h0m.3 0h0m.9 0h0m.5 0h0m2 0h0m10.6 0h0m-22.6.1h0m7.5 0h0m.5 0h0m7.1 0h0m3.9 0h0m1.7 0h0m-16.9.1h0m.6 0h0m11.3 0h0m2.3 0h0m1.9 0h0m.3 0h0m-17.9.1h0m.3 0h0m1 0h0m4 0h0m4.1 0h0m2.5 0h0m1 0h0m0 0h0m-15 .1h0m2.4 0h0m0 0h0m.8 0h0m4.7 0h0m6.2 0h0m-10 .1h0m0 0h0m0 0h0m1.9 0h0m1.1 0h0m.6 0h0m10.2 0h0m-11.2.1h0m4.1 0h0m1.6 0h0m4.5 0h0m.3 0h0m5.5 0h0m-11 .1h0m2.6 0h0m1.1 0h0m5.3 0h0m1.2 0h0m-22.2.1h0m8.6 0h0m6 0h0m-8.6.1h0m.5 0h0m9.1 0h0m1.7 0h0m5.4 0h0m.4 0h0m-23.4.1h0m2.2 0h0m2.1 0h0m.3 0h0m5.3 0h0m3.1 0h0m1.8 0h0m4.9 0h0m3 0h0m-21.8.1h0m.7 0h0m5 0h0m1.5 0h0m.3 0h0m-8.1.1h0m15.7 0h0m1 0h0m2.8 0h0m.7 0h0m.8 0h0m-19.8.1h0m15.4 0h0m-14.7.1h0m.8 0h0m.5 0h0m2.1 0h0m.4 0h0m2.5 0h0m2.9 0h0m.1 0h0m2.2 0h0m2 0h0m-15.4.1h0m.9 0h0m11.4 0h0m2 0h0m2.6 0h0m-7.4.1h0m2.3 0h0m6.5 0h0m3 0h0m-20.5.1h0m3.4 0h0m1.5 0h0m3.6 0h0m4.3 0h0m.6 0h0m.4 0h0m.9 0h0m.5 0h0m.8 0h0m2.2 0h0m.1 0h0m0 0h0m3 0h0m-22.4.1h0m7.7 0h0m.6 0h0m1.2 0h0m3.5 0h0m2.4 0h0m-13.2.1h0m.4 0h0m1.8 0h0m12.1 0h0m6.5 0h0m-22 .1h0m6.6 0h0m.2 0h0m3.1 0h0m3 0h0m6.8 0h0m.7 0h0m-18.9.1h0m4.2 0h0m3.6 0h0m.9 0h0m2.4 0h0m1.5 0h0m.5 0h0m.4 0h0m2 0h0m-6.2.1h0m2 0h0m3.2 0h0m-16.5.1h0m2.5 0h0m1.9 0h0m4.6 0h0m.1 0h0m5.8 0h0m3.6 0h0m3.8 0h0m-16 .1h0m.4 0h0m11.5 0h0m4.7 0h0m-23.2.1h0m7.4 0h0m-5.1.1h0m5.7 0h0m1.6 0h0m10.7 0h0m-8.2.1h0m3.3 0h0m1.2 0h0m0 0h0m3.5 0h0m-17.7.1h0m.2 0h0m4.1 0h0m5.3 0h0m2.3 0h0m.9 0h0m1.9 0h0m1 0h0m.8 0h0m.5 0h0m1.8 0h0m-15.7.1h0m1.4 0h0m.8 0h0m2.2 0h0m7.4 0h0m-16.6.1h0m1.3 0h0m15.1 0h0m-14.7.1h0m6.4 0h0m1.9 0h0m10.5 0h0m-19.8.1h0m7.5 0h0m6 0h0m1.9 0h0m0 0h0m4.2 0h0m-16 .1h0m2.5 0h0m9.4 0h0m4.3 0h0m.3 0h0m1.4 0h0m.2 0h0m-21.3.1h0m1.2 0h0m8.4 0h0m1.1 0h0m6.5 0h0m-9.1.1h0m2.9 0h0m.4 0h0m3.7 0h0m.2 0h0m1.1 0h0m-17.7.1h0m10.4 0h0m0 0h0m.1 0h0m.4 0h0m-10.1.1h0m.6 0h0m.2 0h0m2.1 0h0m5.1 0h0m10.2 0h0m1.4 0h0m-20.2.1h0m10.8 0h0m1 0h0m10.4 0h0m-21.2.1h0m3.8 0h0m5.1 0h0m5.6 0h0m3.9 0h0m-20.4.1h0m4.1 0h0m5.4 0h0m1.7 0h0m6.4 0h0m-17.4.1h0m1 0h0m7.1 0h0m3.8 0h0m.9 0h0m1.9 0h0m2.8 0h0m.1 0h0m2.6 0h0m1 0h0m1 0h0m-22 .1h0m3.2 0h0m1.4 0h0m8.8 0h0m5.1 0h0m-1.8.1h0m-16.8.1h0m.6 0h0m.6 0h0m2.5 0h0m12.1 0h0m1.1 0h0m1.7 0h0m2 0h0m1.7 0h0m-18 .1h0m5.1 0h0m13.2 0h0m.4 0h0m-19.9.1h0m.3 0h0m2.7 0h0m3 0h0m2.8 0h0m.9 0h0m6.7 0h0m.9 0h0m2.4 0h0m-22.9.1h0m.4 0h0m2.8 0h0m1 0h0m.7 0h0m.3 0h0m.8 0h0m.6 0h0m3.2 0h0m5.2 0h0m.2 0h0m-12.4.1h0m1.5 0h0m4.3 0h0m.9 0h0m7.9 0h0m2.3 0h0m2.7 0h0m-4.8.1h0m-14.3.1h0m2.2 0h0m5.8 0h0m7.5 0h0m.5 0h0m3.4 0h0m-19.3.1h0m2.3 0h0m.5 0h0m1.7 0h0m2.5 0h0m.5 0h0m.8 0h0m4.7 0h0m.9 0h0m3.6 0h0m-19.8.1h0m4 0h0m9.8 0h0m7.7 0h0m-17.2.1h0m4.7 0h0m3.3 0h0m9.9 0h0m-21.7.1h0m6.6 0h0m1.3 0h0m.9 0h0m2.7 0h0m3 0h0m4.5 0h0m-18.7.1h0m.7 0h0m5.2 0h0m2.1 0h0m4 0h0m-14 .1h0m1.3 0h0m3.1 0h0m1.9 0h0m10.8 0h0m5.2 0h0m-12.7.1h0m.5 0h0m4.9 0h0m2.2 0h0m-16 .1h0m2.7 0h0m1 0h0m1.4 0h0m.6 0h0m2.7 0h0m8.7 0h0m.8 0h0m-15.2.1h0m.2 0h0m7.4 0h0m2.9 0h0m-12.8.1h0m1.7 0h0m3.4 0h0m.2 0h0m6.9 0h0m2.5 0h0m-16 .1h0m3.1 0h0m.4 0h0m4.9 0h0m3.1 0h0m2.5 0h0m1.6 0h0m1 0h0m3.9 0h0m-15.8.1h0m3 0h0m2.1 0h0m4.1 0h0m4.4 0h0m3.9 0h0m-16.3.1h0m4.3 0h0m9.2 0h0m.7 0h0m.9 0h0m1.3 0h0m-20.9.1h0m3.9 0h0m16.3 0h0m1.3 0h0m-19.8.1h0m1.2 0h0m3.8 0h0m1.3 0h0m.1 0h0m6.6 0h0m2.3 0h0m-18.1.1h0m11.4 0h0m1.8 0h0m2 0h0m2.3 0h0m-13.1.1h0m4.5 0h0m5.8 0h0m3.2 0h0m1.3 0h0m1.8 0h0m-7.5.1h0m.6 0h0m1.8 0h0m1.3 0h0m.9 0h0m1.6 0h0m2.9 0h0m-16.9.1h0m2.7 0h0m.3 0h0m2.2 0h0m.6 0h0m3.8 0h0m-14.9.1h0m8.4 0h0m1.2 0h0m3.9 0h0m6.8 0h0m-20.5.1h0m4.6 0h0m10.5 0h0m2.2 0h0m4.6 0h0m-21.9.1h0m2.3 0h0m.2 0h0m.5 0h0m1.7 0h0m1.4 0h0m4 0h0m.5 0h0m2 0h0m2.8 0h0m.9 0h0m-.7.1h0m-9.4.1h0m2.3 0h0m3.8 0h0m7.2 0h0m-14.6.1h0m.2 0h0m1.8 0h0m1.7 0h0m2 0h0m.4 0h0m4.7 0h0m4.7 0h0m-18.1.1h0m6.7 0h0m10.5 0h0m2.3 0h0m-18.9.1h0m.6 0h0m.4 0h0m3.4 0h0m.8 0h0m1.8 0h0m2.8 0h0m1 0h0m.2 0h0m1.9 0h0m1.7 0h0m1.3 0h0m-19.3.1h0m6 0h0m.7 0h0m1.4 0h0m2.7 0h0m.9 0h0m10.2 0h0m-20.3.1h0m10.6 0h0m2.8 0h0m1.9 0h0m-16.3.1h0m5.2 0h0m2.3 0h0m.9 0h0m9.4 0h0m.3 0h0m3.4 0h0m-20.9.1h0m4 0h0m10.3 0h0m1.6 0h0m-13.1.1h0m.7 0h0m10 0h0m4.9 0h0m1.7 0h0m.8 0h0m-21.6.1h0m3.6 0h0m3.4 0h0m2.3 0h0m.7 0h0m9.7 0h0m2.2 0h0m-16.8.1h0m3 0h0m.7 0h0m8.7 0h0m1.1 0h0m1.5 0h0m1 0h0m.5 0h0m.6 0h0m-22.4.1h0m1 0h0m2.8 0h0m2.3 0h0m6.1 0h0m7.8 0h0m-16.9.1h0m2.3 0h0m1 0h0m3 0h0m1 0h0m5.2 0h0m1.9 0h0m.1 0h0m3.9 0h0m.6 0h0m-22.4.1h0m1.4 0h0m2.9 0h0m2 0h0m4.9 0h0m1.2 0h0m2.1 0h0m1.1 0h0m.6 0h0m.5 0h0m2.3 0h0m1.2 0h0m.4 0h0m-4.4.1h0m4.1 0h0m.4 0h0m-18.5.1h0m1.3 0h0m2.4 0h0m1.4 0h0m3.7 0h0m1 0h0m1.2 0h0m.4 0h0m3.5 0h0m-10.6.1h0m9.4 0h0m1.9 0h0m.7 0h0m-17.3.1h0m6.3 0h0m2.1 0h0m3.9 0h0m-9.7.1h0m.3 0h0m.3 0h0m.9 0h0m1.7 0h0m5.2 0h0m3.9 0h0m3.6 0h0m-16.3.1h0m.2 0h0m10.5 0h0m3.5 0h0m2.3 0h0m-18.3.1h0m3.2 0h0m3.2 0h0m4.4 0h0m3.4 0h0m1.9 0h0m3.2 0h0m-19.2.1h0m5.4 0h0m-.3.1h0m1.1 0h0m1.5 0h0m3.8 0h0m1 0h0m4.3 0h0m3.7 0h0m.9 0h0m-23.4.1h0m6 0h0m5 0h0m1.2 0h0m5.8 0h0m1 0h0m1.3 0h0m-15.3.1h0m9.4 0h0m8.5 0h0m-21.2.1h0m6.7 0h0m4.3 0h0m2.3 0h0m.6 0h0m3.6 0h0m-18.8.1h0m.8 0h0m2.3 0h0m6.3 0h0m1.9 0h0m11.3 0h0m-12.6.1h0m9.3 0h0m2.9 0h0m-21.8.1h0m.3 0h0m5 0h0m4.7 0h0m3.8 0h0m6.3 0h0m.6 0h0m-19.6.1h0m.7 0h0m2.7 0h0m4 0h0m6.9 0h0m2.5 0h0m1 0h0m-16.4.1h0m.2 0h0m2 0h0m1.4 0h0m3 0h0m5.7 0h0m6.6 0h0m-21.2.1h0m.3 0h0m10.3 0h0m5.7 0h0m.3 0h0m-17.2.1h0m2.3 0h0m6.1 0h0m2.3 0h0m4.6 0h0m.1 0h0m1 0h0m4.8 0h0m-17.7.1h0m.1 0h0m2.7 0h0m13.4 0h0m.4 0h0m-16.6.1h0m2.3 0h0m6.1 0h0m1.1 0h0m2.2 0h0m.6 0h0m-14.4.1h0m16.7 0h0m-15.9.1h0m6.7 0h0m.1 0h0m11.3 0h0m-19.4.1h0m9.9 0h0m10.3 0h0m-13.9.1h0m.3 0h0m1.7 0h0m-8.8.1h0m1.3 0h0m4.3 0h0m5 0h0m1.7 0h0m1.3 0h0m5.4 0h0m1.3 0h0m-3.9.1h0m-3.6.1h0m-6 .1h0m7.9 0h0m1.2 0h0m1.9 0h0m1.6 0h0m1.9 0h0m.3 0h0m-21.8.1h0m.9 0h0m2.8 0h0m12.8 0h0m.4 0h0m-13.3.1h0m18.9 0h0m-21.5.1h0m.8 0h0m.2 0h0m12.6 0h0m5.2 0h0m.2 0h0m-18.5.1h0m13.6 0h0m3.6 0h0m2.9 0h0m.1 0h0m-12.8.1h0m-6.6.1h0m.1 0h0m3 0h0m3.3 0h0m1.2 0h0m.4 0h0m5.4 0h0m-11.4.1h0m1.2 0h0m.3 0h0m8.3 0h0m5.6 0h0m.9 0h0m-20 .1h0m3.4 0h0m2.8 0h0m.7 0h0m4.3 0h0m1.9 0h0m3.5 0h0m.8 0h0m.5 0h0m.5 0h0m-12.1.1h0m6.3 0h0m2 0h0m-15.8.1h0m3.4 0h0m2.7 0h0m6 0h0m2.3 0h0m6.6 0h0m.6 0h0m-20.6.1h0m1.4 0h0m7.3 0h0m.9 0h0m2.4 0h0m.4 0h0m-12.7.1h0m.8 0h0m.8 0h0m3.9 0h0m9.8 0h0m4.4 0h0m1.3 0h0m-20.4.1h0m8 0h0m8.2 0h0m3.7 0h0m-20 .1h0m4.4 0h0m8.6 0h0m-12.8.1h0m12.3 0h0m-13.8.1h0m2.1 0h0m.7 0h0m4.1 0h0m2.3 0h0m5 0h0m1.2 0h0m5.6 0h0m-19.7.2h0m3.6 0h0m9.1 0h0m3.1 0h0m.5 0h0m.7 0h0m-16.4.1h0m1.2 0h0m.8 0h0m6.8 0h0m1.7 0h0m.3 0h0m4.2 0h0m4.7 0h0m-12.9.1h0m7.5 0h0m4.9 0h0m1.2 0h0m.1 0h0m-22.3.1h0m1.6 0h0m2.9 0h0m1.3 0h0m3.2 0h0m13.2 0h0m-18.4.1h0m.6 0h0m2.4 0h0m1.9 0h0m1 0h0m5.3 0h0m1.4 0h0m3.1 0h0m.5 0h0m1.7 0h0m1.5 0h0m-17 .1h0m.2 0h0m3 0h0m5.6 0h0m4.3 0h0m1.1 0h0m2.8 0h0m-22.3.1h0m22.6 0h0m-22.4.1h0m14 0h0m-9.1.1h0m2 0h0m4.6 0h0m1.9 0h0m2.9 0h0m1.8 0h0m-16.9.1h0m2.4 0h0m2.8 0h0m.4 0h0m.2 0h0m6.2 0h0m5.8 0h0m-20.1.1h0m4.4 0h0m6.4 0h0m1.5 0h0m-12.2.1h0m3.9 0h0m2.3 0h0m4.2 0h0m.6 0h0m3.8 0h0m-13.3.1h0m7.7 0h0m12.5 0h0m-21.8.1h0m1.4 0h0m.4 0h0m0 0h0m4.3 0h0m.6 0h0m3.4 0h0m12 0h0m-9.2.1h0m1.8 0h0m2.1 0h0m-16.6.1h0m1.3 0h0m.6 0h0m1.4 0h0m8 0h0m8.5 0h0m-11.6.1h0m8.9 0h0m0 0h0m.3 0h0m-14.8.1h0m6.6 0h0m-4.6.1h0m1.2 0h0m2.5 0h0m-.7.1h0m-7.7.1h0m2 0h0m2.2 0h0m4 0h0m5.4 0h0m-10.8.1h0m1.5 0h0m3.6 0h0m1.4 0h0m1 0h0m.7 0h0m-9.4.1h0m7.8 0h0m2.5 0h0m.8 0h0m-2.4.1h0m-8.2.1h0m3.8 0h0m.9 0h0m3 0h0m9.6 0h0m-3.1.1h0m3.3 0h0m-19 .1h0m17 0h0m.7 0h0m-17.5.1h0m.2 0h0m8.6 0h0m7.3 0h0m2.8 0h0m-11.7.1h0m5.2 0h0m.5 0h0m-14 .1h0m1.2.1h0m16.6 0h0m4.6 0h0m-22.1.1h0m2.9 0h0m2.6 0h0m7 0h0m6.2 0h0m-16.8.1h0m2 0h0m5.4 0h0m7.2 0h0m2.6 0h0m3.2 0h0m-16.5.1h0m15.8 0h0m1.4 0h0m-21.7.1h0m9.9 0h0m3.5 0h0m2.1 0h0m-14.8.1h0m5.1 0h0m2.8 0h0m2.7 0h0m5.9 0h0m.8 0h0m-18.7.1h0m2.9.1h0m7.1 0h0m3 0h0m2.7 0h0m-11.4.1h0m5.3 0h0m5.7 0h0m.6 0h0m-11.4.1h0m4.4 0h0m7.2 0h0m3.9 0h0m-19.5.1h0m4.8 0h0m9.8 0h0m5.4 0h0m-7.2.1h0m8 0h0m-20.5.1h0m1.3 0h0m8.4 0h0m1.1.1h0m-11.8.1h0m4.2 0h0m.2 0h0m3.1 0h0m1.3 0h0m2.8 0h0m2.7 0h0m7.5 0h0m-7.4.1h0m3 0h0m4.9 0h0m-22.8.1h0m16.3 0h0m5.1 0h0m-15.3.1h0m.2 0h0m-.2.1h0m7.1 0h0m-9.3.1h0m4.2 0h0m2.4 0h0m2.2 0h0m1 0h0m.7 0h0m3 0h0m2.6 0h0m2.6 0h0m.5 0h0m-22.4.1h0m.7 0h0m2.7 0h0m3.4 0h0m6.3 0h0m3.6 0h0m-14.5.1h0m7.5 0h0m-8.3.1h0m9.1 0h0m.3 0h0m8.3 0h0m-16.2.1h0m6 0h0m8 0h0m4.3 0h0m-17.1.1h0m14.3 0h0m.1 0h0m4.2 0h0m-17.4.1h0m2.4 0h0m.4 0h0m8.8 0h0m1 0h0m-5.1.1h0m1.6 0h0m3.8 0h0m.8 0h0m.7 0h0m-18.6.1h0m1.2 0h0m4.5 0h0m1 0h0m.6 0h0m12.4 0h0m-12.8.1h0m3 0h0m8.6 0h0m2 .1h0m-20.8.1h0m17.1 0h0m-9.5.1h0m9.3 0h0m2.5 0h0m.9 0h0m-15.3.1h0m6.9 0h0m5.8 0h0m-8.4.1h0m5.6 0h0m-14.7.1h0m.4 0h0m4.1 0h0m8.5 0h0m4.4 0h0m.3 0h0m1.8 0h0m.3 0h0m-20.8.1h0m11.1 0h0m1.8 0h0m.8 0h0m-11.6.1h0m-2.4.1h0m12.2 0h0m.8 0h0m9.2 0h0m-20.7.1h0m9.2 0h0m4.3 0h0m3.8 0h0m-18.8.1h0m5.9 0h0m9.1 0h0m.4 0h0m-6.9.1h0m4.4 0h0m8.6 0h0m.2 0h0m.1 0h0m-21.6.1h0m13.1 0h0m0 0h0m-8.5.1h0m6.5 0h0m11.3 0h0m-20.8.1h0m8.9 0h0m.9 0h0m.5 0h0m-11.1.1h0m4.1 0h0m3.8 0h0m.3 0h0m1.1 0h0m.6 0h0m1.5 0h0m9.9 0h0m-12.8.1h0m1.6 0h0m2.3 0h0m.9 0h0m-12.5.1h0m9.2 0h0m11.7 0h0m-15.6.1h0m12.8 0h0m2.5 0h0m.4 0h0m-16.2.1h0m8.8 0h0m6.2 0h0m1 0h0m-2.8.1h0m-16 .1h0m.5 0h0m3.2 0h0m1.2 0h0m4.2 0h0m6.4 0h0m-18.2.1h0m9.4 0h0m1 0h0m7 0h0m-15.1.1h0m5.6 0h0m1.7 0h0m1.4 0h0m5.9 0h0m-13.7.2h0m.3 0h0m5.3 0h0m5.8 0h0m.4 0h0m6.2 0h0m-22.4.1h0m17 0h0m1.4 0h0m2.6 0h0m-8.9.2h0m4 0h0m3.8 0h0m.7 0h0m-19.5.1h0m7.7 0h0m7.5 0h0m-7.1.1h0m9.6 0h0m-12.4.1h0m2.7 0h0m2.6 0h0m5.2 0h0m-14.5.1h0m16.6 0h0m.8.1h0m-12.3.1h0m0 0h0m1.3 0h0m.1 0h0m1.4.1h0m2.8 0h0m1.6 0h0m4.4 0h0m1 0h0m1.5 0h0m-20.4.1h0m16.7.1h0m-15.3.1h0m14.8 0h0m2.2 0h0m.3 0h0m.8 0h0m1.5 0h0m-21.5.1h0m.2 0h0m4.7 0h0m7.4 0h0m.3 0h0m7.7 0h0m-9.4.1h0m2.3.1h0m.1 0h0m2 0h0m4.8 0h0m1.1 0h0m-21.8.1h0m4 0h0m13.7 0h0m-13.8.1h0m.1 0h0m2.9 0h0m-5.2.1h0m3.6 0h0m-4.7.1h0m3 0h0m5.4.1h0m1 0h0m7.4 0h0m2 0h0m-16.8.1h0m7.6 0h0m-4.2.1h0m3.7 0h0m1.5 0h0m2.3 0h0m3.1 0h0m2.8.1h0m-15.2.1h0m6.7 0h0m10.5 0h0m.9 0h0m-18.5.1h0m18.7 0h0m-22.7.1h0m2.2 0h0m8.8 0h0m-1.9.1h0m-4.6.1h0m1.6.1h0m6.2 0h0m.1 0h0m2.8 0h0m2.6 0h0m4.2.2h0m.3.1h0m-21 .1h0m16.8 0h0m-9.8.2h0m-1.9.1h0m7.7 0h0m.3 0h0m3.4 0h0m-15.6.1h0m3 0h0m17.2 0h0m-22.2.1h0m.3 0h0m16.9 0h0m1.6 0h0m4.3 0h0m-5.7.1h0m-13.2.1h0m13.2 0h0m4.7 0h0m-20 .1h0m10.9 0h0m-7.5.1h0m1.1 0h0m6 0h0m3.9 0h0m4.4 0h0m-11.8.1h0m3 0h0m1 0h0m7.7 0h0m2.1 0h0m-20.3.1h0m12.7 0h0m-4.4.1h0m7.1 0h0m-1.1.1h0m2.1 0h0m3.3.1h0m-6.7.1h0m-8.6.1h0m5.7 0h0m-3.9.1h0m7.6 0h0m2.2 0h0m-11.6.1h0m12.6 0h0m-19.2.1h0m12.1 0h0m3.5 0h0m-6.9.1h0m4.6 0h0m-8.7.1h0m8.4 0h0m-.5.1h0m1.5 0h0m-10.4.1h0m12.5 0h0m-5.4.1h0m10.6 0h0m-21.5.2h0m1.9 0h0m15.1 0h0m-15.3.1h0m1.4 0h0m15.3.1h0m-2.7.1h0m-.2.1h0m.5 0h0m1.9 0h0m-13.7.1h0m2.8 0h0m7.7.2h0m7.8 0h0m-16.9.1h0m-2.2.1h0m8.3 0h0m1.5 0h0m-7.8.1h0m-.2.2h0m4.6 0h0m2.9 0h0m3.2.1h0m2.7 0h0m-8.7.1h0m4.9.1h0m.4 0h0m2.3 0h0m-.5.1h0m-14.4.1h0m14.2 0h0m-5.9.2h0m5.1 0h0m-8 .1h0m2.5 0h0m-7.4.1h0m.3 0h0m2.2 0h0m.8 0h0m5.4.1h0m.8.1h0m-9.7.1h0m9.3 0h0m1.6 0h0m6.4 0h0m.6 0h0m-18.9.1h0m13.3 0h0m-15.4.1h0m14.3 0h0m-6.2.1h0m.9 0h0m5.6.1h0m-6.2.2h0m1.5 0h0m7.5 0h0m.4 0h0m2.1 0h0m-15.5.1h0m12.8.2h0m-17.4.1h0m6.4 0h0m-2.6.1h0m6.5 0h0m-10.1.1h0m6 0h0m7 0h0m-8.1.1h0m7.1 0h0m2.4 0h0m.8 0h0m6 0h0m-5.3.1h0m-11.4.1h0m13.6 0h0m-16.4.1h0m2.6 0h0m.8 0h0m11.5 0h0m1.6 0h0m-15.4.1h0m2.8 0h0m4.2 0h0m11.7 0h0m.5 0h0m-20 .3h0m10.2 0h0m-3.9.1h0m8.4 0h0m1.1 0h0m-18.2.1h0m14.9 0h0m2.9 0h0m3.5 0h0m-13.4.2h0m-.2.1h0m3.7 0h0m10.3 0h0m-7.9.1h0m-12.3.1h0m8.6.1h0m.7 0h0m-6.3.2h0m2.3 0h0m2.5 0h0m-6.1.1h0m17.3 0h0m-16.5.1h0m.4 0h0m7.6 0h0m.7 0h0m3.5 0h0m1.1.2h0m1.1 0h0m-14 .1h0m.5 0h0m13.5 0h0m-12.2.1h0m.8.1h0m-1.6.1h0m17.9 0h0m-17.6.1h0m17.1 0h0m-11.5.1h0m5.2 0h0m-5.9.1h0m-6.9.2h0m13.2 0h0m-15.3.1h0m21.4 0h0m-23 .2h0m1 0h0m1.3 0h0m17.4 0h0m.3.1h0m-17.9.2h0m9.6 0h0m3.1 0h0m2.9 0h0m5.7.1h0m-18.9.1h0m1.3 0h0m8.2 0h0m-14.1.1h0m2.3 0h0m15.8 0h0m-13 .1h0m14.6 0h0m-.1.1h0m-13.5.1h0m10.4 0h0m-1.8.1h0m2.2 0h0m4.3 0h0m-1.2.1h0m1.4 0h0m-20 .1h0m12.1 0h0m-3.3.3h0m7.4 0h0m-15.2.2h0m4.7 0h0m8.2 0h0m-3.6.1h0m-11.3.1h0m11.4 0h0m1.3 0h0m10 .3h0m-23 .1h0m10.2 0h0m4.4 0h0m-8.9.1h0m16.1 0h0m-13.5.1h0m11.7 0h0m3.2 0h0m-19.1.1h0m19 .1h0m-4.2.1h0m-8 .1h0m5.9 0h0m-4.2.1h0m8.6 0h0m1 0h0m-21 .1h0m-.5.1h0m1 0h0m-1.5.1h0m13.6 0h0m-11 .2h0m6.6 0h0m-.8.1h0m5.8 0h0m-8.8.2h0m.3 0h0m4 0h0m12.4 0h0m-16.1.1h0m8.9.1h0m1.8 0h0m4.2.1h0m-14.9.1h0m6 0h0m5.8 0h0m3.5 0h0m-14.5.1h0m13.7 0h0m-11.6.1h0m3.9 0h0m2.9 0h0m-10.3.1h0m2.3 0h0m-5.2.2h0m4.9.1h0m-.5.2h0m-.6.1h0m-3.6.2h0m3.6 0h0m4.6 0h0m-8.8.1h0m10.5.1h0m-10.4.1h0m9.6 0h0m-.6.2h0m.9 0h0m6 0h0m-15.7.2h0m20.4.2h0m-3.5.3h0m.5.1h0m3.1 0h0m-21.3.1h0m.2 0h0m1.2 0h0m19.8.1h0m-14.6.1h0m5 0h0m-1.3.1h0m4 .1h0m-7.2.1h0m-8.5.1h0m2.2.4h0m15.8.1h0m-17.7.1h0m21.7 0h0m-6.2.1h0m4.7 0h0m0 0h0m-17.1.1h0m9.5.1h0m6.5.1h0m-10.3.2h0m-5.1.1h0m9.2 0h0m-6.1.1h0m1.4 0h0m-.5.1h0m3.6 0h0m-9.6.1h0m12.6 0h0m1.4.2h0m-4.2.4h0m-11.9.4h0m3.9.1h0m4.2 0h0m1.8.3h0m6.4.3h0m-16.3.5h0m11.4 0h0m2.8 0h0m-3 .1h0m.1.1h0m9.9.1h0m1.1.1h0m-19.9.5h0m19.9 0h0m-15.8.1h0m8.2 0h0m6.8 0h0m-18.7.1h0m3.2 0h0m16.1 0h0m-20.7.3h0m13.2.2h0m-6.6.3h0m.3.4h0m.3 0h0m13.2.1h0m-12.4.2h0m1.5 0h0m8.3 0h0m-9 .3h0m-9.7.2h0m9.1.1h0m5.1 0h0m-8.3.2h0m1.2 0h0m-6.2.2h0m16.2.1h0m0 .4h0m3.5.2h0m-17.8.2h0m13.3 0h0m-17 .3h0m1.5 0h0m3.3.1h0m14.1.2h0m.4 0h0m-15.9.2h0m9.6 0h0m2.5.2h0m.3 0h0m6.1.1h0m-13.9.3h0m-5.6.2h0m4.3.1h0m8.4.2h0m-2.3.3h0m-12.5.1h0m11.5 0h0m4.7.1h0m-10.8.1h0m11.5.6h0m-15.3.3h0m9.8 0h0m8.9.3h0m-19.8.1h0m11 0h0m-9.5.3h0m9.1.3h0m2.9.3h0m-2.3.5h0m1 .2h0m1.6.1h0m-12.7.1h0m-.8.4h0m20 .2h0m-19.5.6h0m5.1.3h0m13.5.1h0m-19.7.1h0m4.4 0h0m-4 .1h0m16.2.2h0m-9.7 1h0m1.9.1h0m1.5.6h0m-6.9.3h0m2.7 0h0m-5.2.4h0m8 .2h0m2.7.2h0m-7.1 1.2h0m-2.8.6h0m7.8.6h0m-7.2 1.1h0m4 1h0m-2.9.3h0m10 0h0m-.2.4h0m5.2.4h0m-.5 1.2h0m-18.4.1h0m.7.7h0m14.2.8h0m-2.8.1h0m-10.3.4h0m7.5.3h0m1.4.2h0m-6.9.1h0m5.7.1h0m11.6.3h0m-11.8.3h0m-3.6.2h0m-2.2 1.2h0m20 .1h0m-15.3.6h0m-5.2.3h0m-.4 1.4h0m4.6 0h0m-1.8.5h0m12.6 0h0m-9 .4h0m-3.8.8h0m13.3 2h0m-17.9.1h0m4.4.1h0m4.8.4h0m2.2.9h0m5.6.5h0m-16.5.7h0m21.9.5h0m-1.8.1h0m-19.6 1.4h0m1.2.6h0m3.7 1.3h0m-4.7 4.2h0m9.6 1.1h0m9 1.9h0m-10.7 6.6h0m-8.9.3h0m11.4.3h0m-4.3.9h0m-5.8 5.7h0m1.6 0h0m14.6 1.1h0m-6.7.7h0m12 2.9h0m-7.8 1.3h0m2.3 2.1h0m4.1 4.6h0m1 1.4h0m-11 3.7h0m11 3.1h0m-7.9 2.8h0m1.7 1h0m-16.1 5.1h0m15.1.7h0m-14.7 1.7h0m18.5 4.1h0m-13.7 4.5h0m10.9 5.1h0m-10.6 3.5h0m-4.8 8.5h0m6.9 5.2h0m-3.5 11.6h0m14.4 11.7h0m-16.1 34.2h0m-1.7 2.4h0m1 53.8h0" stroke="#ff7f0e" stroke-width="1.39" stroke-linecap="round" fill="none"/>
<rect x="61.5" y="10.5" width="930.0" height="462.0" fill="none" stroke="#000" stroke-width="1.1"/>
<path d="M56.6 418.5H61.5M56.6 347.5H61.5M56.6 276.5H61.5M56.6 205.5H61.5M56.6 134.5H61.5M56.6 63.5H61.5M178.5 472.5V477.4M410.5 472.5V477.4M643.5 472.5V477.4M875.5 472.5V477.4" stroke="#000" stroke-width="1.1" fill="none"/>
<text x="30.21" y="424.0" textLength="20.60" lengthAdjust="spacingAndGlyphs">0.0</text>
<text x="30.20" y="353.0" textLength="20.80" lengthAdjust="spacingAndGlyphs">0.2</text>
<text x="30.21" y="282.0" textLength="20.45" lengthAdjust="spacingAndGlyphs">0.4</text>
<text x="30.20" y="211.0" textLength="20.68" lengthAdjust="spacingAndGlyphs">0.6</text>
<text x="30.20" y="140.0" textLength="20.68" lengthAdjust="spacingAndGlyphs">0.8</text>
<text x="30.19" y="69.0" textLength="20.62" lengthAdjust="spacingAndGlyphs">1.0</text>
<text x="141.53" y="492.8" textLength="23.17" lengthAdjust="spacingAndGlyphs">WG</text>
<text x="164.59" y="492.8" textLength="6.87" lengthAdjust="spacingAndGlyphs">_</text>
<text x="171.81" y="492.8" textLength="17.62" lengthAdjust="spacingAndGlyphs">10</text>
<text x="189.34" y="492.8" textLength="25.43" lengthAdjust="spacingAndGlyphs">kbp</text>
<text x="396.71" y="492.8" textLength="27.10" lengthAdjust="spacingAndGlyphs">EPD</text>
<text x="624.66" y="492.8" textLength="15.32" lengthAdjust="spacingAndGlyphs">L1</text>
<text x="640.87" y="492.8" textLength="18.96" lengthAdjust="spacingAndGlyphs">HS</text>
<text x="863.00" y="492.8" textLength="25.72" lengthAdjust="spacingAndGlyphs">SVA</text>
<text x="506.94" y="511.3" textLength="39.58" lengthAdjust="spacingAndGlyphs">group</text>
<text transform="translate(21.1 263.89) rotate(-90)" textLength="42.38" lengthAdjust="spacingAndGlyphs">mCpG</text>
<rect x="755.6" y="397.6" width="228.8" height="67.6" rx="2.8" ry="2.8" fill="#fff" fill-opacity="0.8" stroke="#ccc" stroke-opacity="0.8" stroke-width="1.1"/>
<text x="845.08" y="414.1" textLength="49.70" lengthAdjust="spacingAndGlyphs">sample</text>
<circle cx="775.4" cy="431.3" r="6.1" fill="#1f77b4"/>
<circle cx="775.4" cy="452.5" r="6.1" fill="#ff7f0e"/>
<text x="799.66" y="434.8" textLength="37.56" lengthAdjust="spacingAndGlyphs">MCF7</text>
<text x="837.69" y="434.8" textLength="7.16" lengthAdjust="spacingAndGlyphs">_</text>
<text x="844.87" y="434.8" textLength="35.07" lengthAdjust="spacingAndGlyphs">ATCC</text>
<text x="879.64" y="434.8" textLength="4.97" lengthAdjust="spacingAndGlyphs">.</text>
<text x="884.57" y="434.8" textLength="61.87" lengthAdjust="spacingAndGlyphs">haplotag</text>
<text x="946.09" y="434.8" textLength="7.16" lengthAdjust="spacingAndGlyphs">_</text>
<text x="953.29" y="434.8" textLength="13.69" lengthAdjust="spacingAndGlyphs">m</text>
<text x="799.66" y="456.7" textLength="37.56" lengthAdjust="spacingAndGlyphs">MCF7</text>
<text x="837.69" y="456.7" textLength="7.16" lengthAdjust="spacingAndGlyphs">_</text>
<text x="845.14" y="456.7" textLength="44.77" lengthAdjust="spacingAndGlyphs">ECACC</text>
<text x="890.14" y="456.7" textLength="4.97" lengthAdjust="spacingAndGlyphs">.</text>
<text x="896.07" y="456.7" textLength="61.87" lengthAdjust="spacingAndGlyphs">haplotag</text>
<text x="957.59" y="456.7" textLength="7.16" lengthAdjust="spacingAndGlyphs">_</text>
<text x="964.81" y="456.7" textLength="13.45" lengthAdjust="spacingAndGlyphs">m</text>
</svg>
</body></html>
